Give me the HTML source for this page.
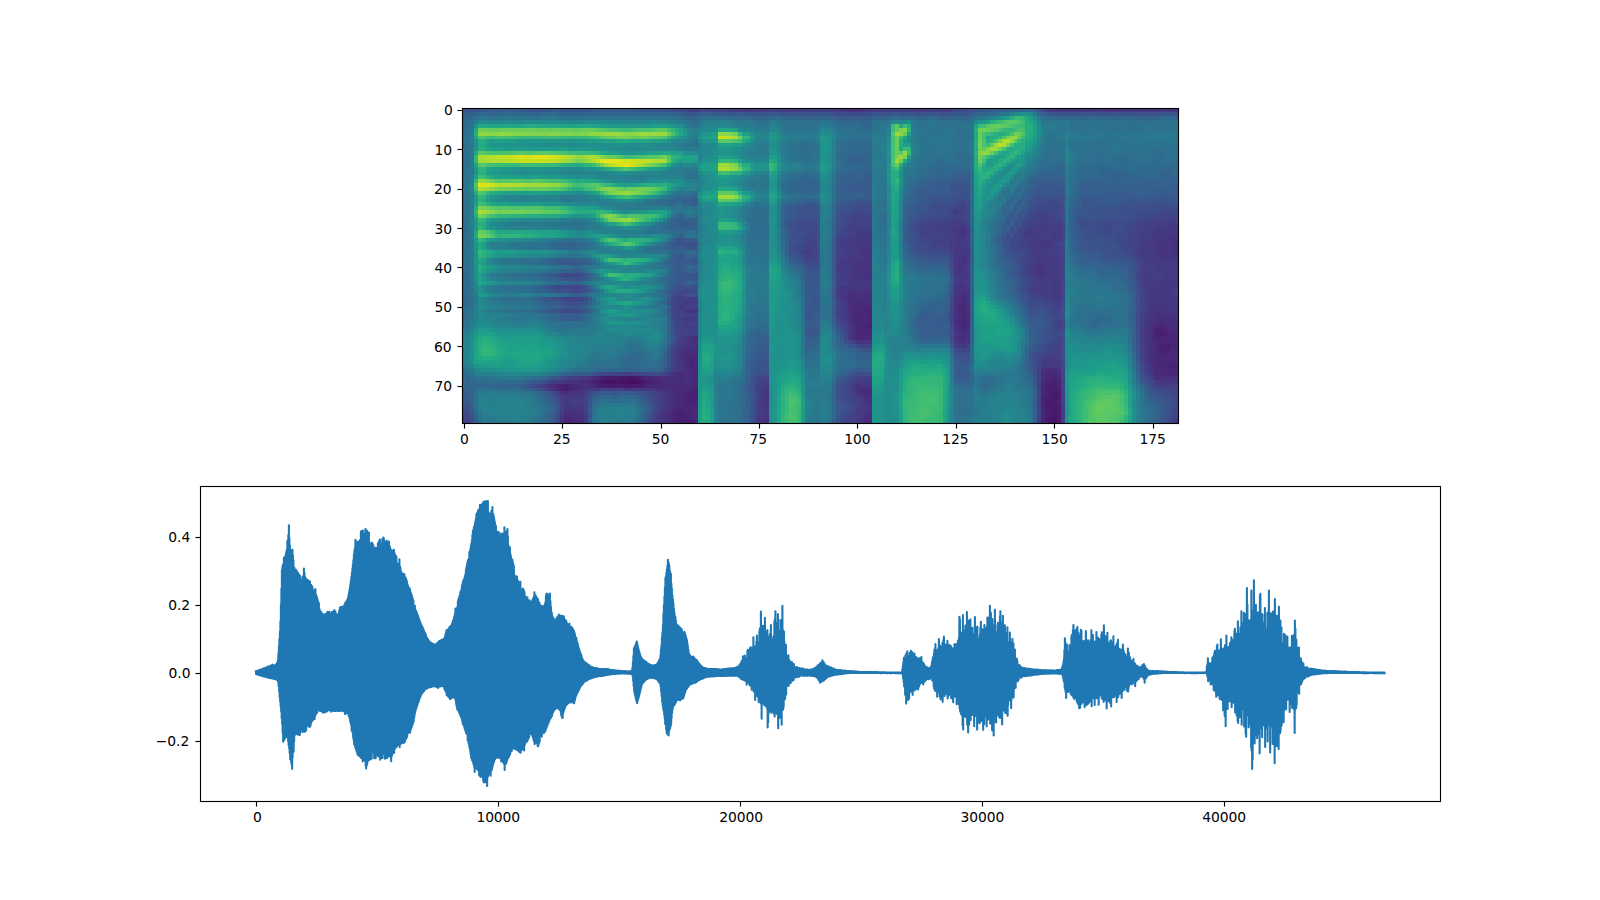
<!DOCTYPE html>
<html lang="en"><head><meta charset="utf-8"><title>Mel spectrogram and waveform</title>
<style>html,body{margin:0;padding:0;background:#fff}body{width:1600px;height:900px;overflow:hidden}svg{display:block}text{font-family:"DejaVu Sans","Liberation Sans",sans-serif;font-size:13.889px;fill:#000;letter-spacing:-0.086px}.k{fill:#000}.f{fill:#000;opacity:.055}.h{fill:#000;opacity:.5}</style></head><body>
<svg width="1600" height="900" viewBox="0 0 1600 900">
<rect width="1600" height="900" fill="#fff"/>
<g shape-rendering="crispEdges">
<path fill="#470d60" d="M631 380h4v4h-4z"/>
<path fill="#471063" d="M608 380h4v4h-4zM627 380h4v4h-4zM635 380h4v4h-4z"/>
<path fill="#471365" d="M627 376h8v4h-8zM604 380h4v4h-4zM612 380h4v4h-4zM620 380h7v4h-7zM1053 419h4v5h-4z"/>
<path fill="#481668" d="M624 376h3v4h-3zM600 380h4v4h-4zM616 380h4v4h-4zM639 380h4v4h-4zM1053 395h4v4h-4zM1053 407h4v4h-4zM1053 415h4v4h-4z"/>
<path fill="#48186a" d="M620 376h4v4h-4zM635 376h4v4h-4zM624 384h7v4h-7zM1053 391h4v4h-4zM1049 403h8v4h-8zM1053 411h4v4h-4zM1049 415h4v4h-4zM1049 419h4v5h-4z"/>
<path fill="#481b6d" d="M616 376h4v4h-4zM643 380h4v4h-4zM608 384h8v4h-8zM631 384h8v4h-8zM1049 395h4v4h-4zM1049 399h8v4h-8zM1045 403h4v4h-4zM1049 407h4v4h-4zM1057 407h4v4h-4zM1049 411h4v4h-4z"/>
<path fill="#481d6f" d="M1159 332h4v4h-4zM604 376h12v4h-12zM639 376h4v4h-4zM596 380h4v4h-4zM604 384h4v4h-4zM616 384h8v4h-8zM639 384h4v4h-4zM564 388h4v3h-4zM1053 388h4v3h-4zM1049 391h4v4h-4zM1057 391h4v4h-4zM1057 395h4v4h-4zM1045 399h4v4h-4zM1057 411h4v4h-4zM1045 415h4v4h-4zM1057 415h4v4h-4zM1045 419h4v5h-4zM1057 419h4v5h-4z"/>
<path fill="#482071" d="M1159 328h4v4h-4zM1155 332h4v4h-4zM1163 332h4v4h-4zM1163 344h8v4h-8zM1159 348h8v4h-8zM1175 364h4v4h-4zM600 376h4v4h-4zM647 380h4v4h-4zM1053 380h4v4h-4zM564 384h4v4h-4zM600 384h4v4h-4zM1045 384h12v4h-12zM560 388h4v3h-4zM1045 388h8v3h-8zM1057 388h4v3h-4zM694 391h4v4h-4zM690 395h4v4h-4zM1045 395h4v4h-4zM1057 403h4v4h-4zM1045 407h4v4h-4zM679 411h4v4h-4zM1045 411h4v4h-4zM679 415h4v4h-4zM679 419h15v5h-15z"/>
<path fill="#482374" d="M868 309h4v4h-4zM868 321h4v4h-4zM868 325h4v3h-4zM1155 328h4v4h-4zM1163 328h4v4h-4zM1175 336h4v4h-4zM1159 344h4v4h-4zM1171 344h8v4h-8zM1167 348h4v4h-4zM1159 352h8v4h-8zM1171 364h4v4h-4zM1175 368h4v4h-4zM1053 376h4v4h-4zM592 380h4v4h-4zM651 380h4v4h-4zM1049 380h4v4h-4zM560 384h4v4h-4zM596 384h4v4h-4zM643 384h4v4h-4zM568 388h4v3h-4zM694 388h4v3h-4zM690 391h4v4h-4zM1045 391h4v4h-4zM687 395h3v4h-3zM694 395h4v4h-4zM687 399h7v4h-7zM1041 399h4v4h-4zM1057 399h4v4h-4zM675 411h4v4h-4zM683 411h4v4h-4zM675 415h4v4h-4zM683 415h4v4h-4zM675 419h4v5h-4z"/>
<path fill="#482576" d="M962 305h4v4h-4zM864 309h4v4h-4zM962 309h4v4h-4zM868 313h4v4h-4zM856 317h4v4h-4zM856 321h4v4h-4zM962 321h4v4h-4zM864 325h4v3h-4zM962 325h4v3h-4zM1155 325h8v3h-8zM860 328h12v4h-12zM856 332h8v4h-8zM868 332h4v4h-4zM1167 332h4v4h-4zM1175 332h4v4h-4zM1155 336h12v4h-12zM1159 340h20v4h-20zM1175 348h4v4h-4zM1155 352h4v4h-4zM690 360h4v4h-4zM1167 360h8v4h-8zM1167 364h4v4h-4zM694 368h4v4h-4zM1171 368h4v4h-4zM694 372h4v4h-4zM643 376h4v4h-4zM1049 376h4v4h-4zM655 380h4v4h-4zM1045 380h4v4h-4zM1057 380h4v4h-4zM557 384h3v4h-3zM568 384h4v4h-4zM1041 384h4v4h-4zM1057 384h4v4h-4zM557 388h3v3h-3zM690 388h4v3h-4zM1041 388h4v3h-4zM687 391h3v4h-3zM683 395h4v4h-4zM1041 395h4v4h-4zM683 399h4v4h-4zM694 399h4v4h-4zM683 403h11v4h-11zM1041 403h4v4h-4zM675 407h15v4h-15zM687 411h3v4h-3zM671 415h4v4h-4zM687 415h7v4h-7zM1041 415h4v4h-4zM564 419h8v5h-8zM694 419h4v5h-4zM1041 419h4v5h-4z"/>
<path fill="#482878" d="M856 301h4v4h-4zM856 305h4v4h-4zM868 305h4v4h-4zM860 309h4v4h-4zM958 309h4v4h-4zM856 313h4v4h-4zM860 317h12v4h-12zM962 317h4v4h-4zM860 321h8v4h-8zM958 321h4v4h-4zM966 321h4v4h-4zM856 325h8v3h-8zM1163 325h4v3h-4zM856 328h4v4h-4zM864 332h4v4h-4zM1171 332h4v4h-4zM856 336h12v4h-12zM1167 336h8v4h-8zM1155 340h4v4h-4zM1155 344h4v4h-4zM1155 348h4v4h-4zM1171 348h4v4h-4zM1167 352h4v4h-4zM690 356h4v4h-4zM1155 356h24v4h-24zM687 360h3v4h-3zM694 360h4v4h-4zM1155 360h4v4h-4zM1163 360h4v4h-4zM1175 360h4v4h-4zM690 364h4v4h-4zM1155 364h12v4h-12zM690 368h4v4h-4zM1155 368h16v4h-16zM690 372h4v4h-4zM1045 372h12v4h-12zM1167 372h12v4h-12zM596 376h4v4h-4zM647 376h8v4h-8zM694 376h4v4h-4zM1045 376h4v4h-4zM588 380h4v4h-4zM659 380h4v4h-4zM694 380h4v4h-4zM553 384h4v4h-4zM572 384h4v4h-4zM647 384h16v4h-16zM675 384h8v4h-8zM690 384h8v4h-8zM572 388h4v3h-4zM675 388h15v3h-15zM675 391h12v4h-12zM1041 391h4v4h-4zM679 395h4v4h-4zM679 399h4v4h-4zM679 403h4v4h-4zM694 403h4v4h-4zM690 407h8v4h-8zM671 411h4v4h-4zM690 411h4v4h-4zM1041 411h4v4h-4zM694 415h4v4h-4zM572 419h4v5h-4zM671 419h4v5h-4z"/>
<path fill="#472a7a" d="M868 297h4v4h-4zM852 301h4v4h-4zM860 301h4v4h-4zM962 301h4v4h-4zM852 305h4v4h-4zM860 305h8v4h-8zM958 305h4v4h-4zM852 309h8v4h-8zM852 313h4v4h-4zM860 313h8v4h-8zM962 313h4v4h-4zM852 317h4v4h-4zM958 317h4v4h-4zM1159 321h8v4h-8zM958 325h4v3h-4zM966 325h4v3h-4zM962 328h4v4h-4zM1151 328h4v4h-4zM1167 328h4v4h-4zM1151 332h4v4h-4zM868 336h4v4h-4zM1151 336h4v4h-4zM1171 352h8v4h-8zM687 356h3v4h-3zM694 356h4v4h-4zM1151 360h4v4h-4zM1159 360h4v4h-4zM687 364h3v4h-3zM694 364h4v4h-4zM679 372h4v4h-4zM1155 372h12v4h-12zM655 376h4v4h-4zM675 376h8v4h-8zM690 376h4v4h-4zM1057 376h4v4h-4zM679 380h4v4h-4zM690 380h4v4h-4zM1041 380h4v4h-4zM576 384h4v4h-4zM592 384h4v4h-4zM663 384h12v4h-12zM683 384h7v4h-7zM576 388h4v3h-4zM671 388h4v3h-4zM864 391h8v4h-8zM675 395h4v4h-4zM675 399h4v4h-4zM675 403h4v4h-4zM671 407h4v4h-4zM1041 407h4v4h-4zM694 411h4v4h-4zM564 415h8v4h-8zM667 415h4v4h-4zM576 419h4v5h-4zM864 419h4v5h-4z"/>
<path fill="#472d7b" d="M1175 242h4v4h-4zM1175 250h4v4h-4zM856 297h12v4h-12zM962 297h4v4h-4zM864 301h8v4h-8zM966 305h4v4h-4zM966 309h4v4h-4zM958 313h4v4h-4zM966 317h4v4h-4zM1155 317h8v4h-8zM1171 317h8v4h-8zM852 321h4v4h-4zM954 321h4v4h-4zM1155 321h4v4h-4zM1167 321h4v4h-4zM1175 321h4v4h-4zM1151 325h4v3h-4zM1167 325h4v3h-4zM958 328h4v4h-4zM1171 328h8v4h-8zM962 332h4v4h-4zM694 336h4v4h-4zM962 336h4v4h-4zM1151 340h4v4h-4zM1151 344h4v4h-4zM694 348h4v4h-4zM1151 348h4v4h-4zM683 352h15v4h-15zM1151 352h4v4h-4zM683 356h4v4h-4zM1151 356h4v4h-4zM683 360h4v4h-4zM687 368h3v4h-3zM1045 368h12v4h-12zM675 372h4v4h-4zM683 372h7v4h-7zM1057 372h4v4h-4zM659 376h4v4h-4zM671 376h4v4h-4zM683 376h7v4h-7zM580 380h8v4h-8zM663 380h16v4h-16zM683 380h7v4h-7zM549 384h4v4h-4zM580 384h4v4h-4zM588 384h4v4h-4zM553 388h4v3h-4zM667 388h4v3h-4zM860 388h4v3h-4zM671 391h4v4h-4zM860 391h4v4h-4zM671 395h4v4h-4zM868 395h4v4h-4zM667 411h4v4h-4zM868 415h4v4h-4zM580 419h4v5h-4zM868 419h4v5h-4z"/>
<path fill="#472f7d" d="M852 108h4v4h-4zM1175 238h4v4h-4zM1175 246h4v4h-4zM868 273h4v4h-4zM848 293h8v4h-8zM868 293h4v4h-4zM962 293h4v4h-4zM848 297h8v4h-8zM958 297h4v4h-4zM848 301h4v4h-4zM958 301h4v4h-4zM848 305h4v4h-4zM848 309h4v4h-4zM954 309h4v4h-4zM966 313h4v4h-4zM1155 313h4v4h-4zM954 317h4v4h-4zM1163 317h8v4h-8zM1171 321h4v4h-4zM852 325h4v3h-4zM852 328h4v4h-4zM966 328h4v4h-4zM852 332h4v4h-4zM852 336h4v4h-4zM958 336h4v4h-4zM694 340h4v4h-4zM694 344h4v4h-4zM687 348h7v4h-7zM679 352h4v4h-4zM683 364h4v4h-4zM1151 364h4v4h-4zM1151 368h4v4h-4zM1041 372h4v4h-4zM592 376h4v4h-4zM663 376h8v4h-8zM1041 376h4v4h-4zM1155 376h8v4h-8zM1171 376h8v4h-8zM584 384h4v4h-4zM580 388h4v3h-4zM663 388h4v3h-4zM856 388h4v3h-4zM864 388h8v3h-8zM564 391h4v4h-4zM864 395h4v4h-4zM671 399h4v4h-4zM868 399h4v4h-4zM671 403h4v4h-4zM564 411h12v4h-12zM572 415h12v4h-12zM663 415h4v4h-4zM864 415h4v4h-4zM667 419h4v5h-4zM765 419h4v5h-4z"/>
<path fill="#46327e" d="M848 108h4v4h-4zM856 108h4v4h-4zM962 230h4v4h-4zM1167 238h8v4h-8zM1171 242h4v4h-4zM864 250h4v4h-4zM1171 250h4v4h-4zM864 254h4v4h-4zM1175 254h4v4h-4zM962 258h4v4h-4zM860 262h8v3h-8zM860 265h8v4h-8zM860 273h8v4h-8zM868 277h4v4h-4zM852 289h4v4h-4zM864 289h8v4h-8zM962 289h4v4h-4zM856 293h12v4h-12zM958 293h4v4h-4zM966 293h4v4h-4zM954 297h4v4h-4zM966 297h4v4h-4zM954 301h4v4h-4zM966 301h4v4h-4zM954 305h4v4h-4zM1155 309h8v4h-8zM848 313h4v4h-4zM954 313h4v4h-4zM1151 313h4v4h-4zM1159 313h4v4h-4zM1167 313h8v4h-8zM848 317h4v4h-4zM1151 317h4v4h-4zM1151 321h4v4h-4zM954 325h4v3h-4zM1147 325h4v3h-4zM1171 325h8v3h-8zM1147 328h4v4h-4zM958 332h4v4h-4zM966 332h4v4h-4zM690 336h4v4h-4zM966 336h4v4h-4zM1147 336h4v4h-4zM690 340h4v4h-4zM958 340h8v4h-8zM690 344h4v4h-4zM1147 344h4v4h-4zM683 348h4v4h-4zM1147 348h4v4h-4zM679 356h4v4h-4zM1147 356h4v4h-4zM1147 360h4v4h-4zM683 368h4v4h-4zM671 372h4v4h-4zM1151 372h4v4h-4zM1163 376h8v4h-8zM564 380h16v4h-16zM655 388h8v3h-8zM568 391h8v4h-8zM667 391h4v4h-4zM856 391h4v4h-4zM667 395h4v4h-4zM667 403h4v4h-4zM667 407h4v4h-4zM576 411h8v4h-8zM663 411h4v4h-4zM868 411h4v4h-4zM560 419h4v5h-4zM663 419h4v5h-4z"/>
<path fill="#463480" d="M860 108h4v4h-4zM1061 108h4v4h-4zM1073 108h8v4h-8zM1104 108h16v4h-16zM1144 108h11v4h-11zM958 230h4v4h-4zM962 234h4v4h-4zM1167 234h4v4h-4zM1163 238h4v4h-4zM1155 242h8v4h-8zM1167 242h4v4h-4zM860 246h8v4h-8zM1159 246h8v4h-8zM1171 246h4v4h-4zM860 250h4v4h-4zM868 250h4v4h-4zM1159 250h8v4h-8zM868 254h4v4h-4zM962 254h4v4h-4zM1159 254h16v4h-16zM864 258h4v4h-4zM958 258h4v4h-4zM1175 258h4v4h-4zM852 262h8v3h-8zM868 262h4v3h-4zM958 262h8v3h-8zM856 265h4v4h-4zM868 265h4v4h-4zM958 265h4v4h-4zM1037 265h4v4h-4zM852 269h20v4h-20zM958 269h4v4h-4zM1037 269h8v4h-8zM852 273h8v4h-8zM1041 273h4v4h-4zM852 277h16v4h-16zM868 285h4v4h-4zM958 285h8v4h-8zM848 289h4v4h-4zM856 289h4v4h-4zM958 289h4v4h-4zM844 293h4v4h-4zM954 293h4v4h-4zM844 297h4v4h-4zM1171 297h4v4h-4zM1171 301h8v4h-8zM1151 305h16v4h-16zM687 309h11v4h-11zM1151 309h4v4h-4zM1163 309h4v4h-4zM1163 313h4v4h-4zM1175 313h4v4h-4zM1147 317h4v4h-4zM848 321h4v4h-4zM1147 321h4v4h-4zM954 328h4v4h-4zM1147 332h4v4h-4zM954 336h4v4h-4zM687 340h3v4h-3zM860 340h8v4h-8zM1147 340h4v4h-4zM687 344h3v4h-3zM679 348h4v4h-4zM1147 352h4v4h-4zM679 360h4v4h-4zM679 368h4v4h-4zM1041 368h4v4h-4zM1057 368h4v4h-4zM588 376h4v4h-4zM856 384h4v4h-4zM868 384h4v4h-4zM549 388h4v3h-4zM584 388h4v3h-4zM560 391h4v4h-4zM576 391h4v4h-4zM765 391h4v4h-4zM765 395h4v4h-4zM667 399h4v4h-4zM864 399h4v4h-4zM765 403h4v4h-4zM868 403h4v4h-4zM564 407h8v4h-8zM576 407h8v4h-8zM868 407h4v4h-4zM659 415h4v4h-4zM765 415h4v4h-4zM761 419h4v5h-4zM860 419h4v5h-4zM1175 419h4v5h-4z"/>
<path fill="#453781" d="M840 108h8v4h-8zM1053 108h8v4h-8zM1065 108h8v4h-8zM1081 108h3v4h-3zM1092 108h4v4h-4zM1120 108h24v4h-24zM1171 108h8v4h-8zM962 226h4v4h-4zM1171 226h8v4h-8zM954 230h4v4h-4zM966 230h4v4h-4zM1159 230h12v4h-12zM1175 230h4v4h-4zM860 234h12v4h-12zM958 234h4v4h-4zM1155 234h4v4h-4zM1171 234h8v4h-8zM962 238h4v4h-4zM1155 238h8v4h-8zM856 242h16v4h-16zM1041 242h8v4h-8zM1151 242h4v4h-4zM1163 242h4v4h-4zM856 246h4v4h-4zM868 246h4v4h-4zM954 246h8v4h-8zM1155 246h4v4h-4zM1167 246h4v4h-4zM856 250h4v4h-4zM954 250h12v4h-12zM1140 250h4v4h-4zM1155 250h4v4h-4zM1167 250h4v4h-4zM860 254h4v4h-4zM958 254h4v4h-4zM966 254h4v4h-4zM1155 254h4v4h-4zM848 258h16v4h-16zM868 258h4v4h-4zM966 258h4v4h-4zM1159 258h16v4h-16zM848 262h4v3h-4zM954 262h4v3h-4zM1037 262h8v3h-8zM1175 262h4v3h-4zM852 265h4v4h-4zM954 265h4v4h-4zM962 265h4v4h-4zM1033 265h4v4h-4zM1041 265h4v4h-4zM954 269h4v4h-4zM962 269h4v4h-4zM1045 269h4v4h-4zM848 273h4v4h-4zM962 273h4v4h-4zM1037 273h4v4h-4zM848 277h4v4h-4zM962 277h4v4h-4zM1163 277h8v4h-8zM1175 277h4v4h-4zM864 281h8v4h-8zM958 281h8v4h-8zM1167 281h12v4h-12zM844 285h8v4h-8zM864 285h4v4h-4zM954 285h4v4h-4zM1053 285h4v4h-4zM840 289h8v4h-8zM860 289h4v4h-4zM954 289h4v4h-4zM966 289h4v4h-4zM1053 289h4v4h-4zM1155 289h16v4h-16zM840 293h4v4h-4zM1151 293h20v4h-20zM1151 297h4v4h-4zM1167 297h4v4h-4zM844 301h4v4h-4zM1151 301h20v4h-20zM679 305h4v4h-4zM1167 305h12v4h-12zM1167 309h12v4h-12zM1147 313h4v4h-4zM848 328h4v4h-4zM1144 328h3v4h-3zM954 332h4v4h-4zM1144 332h3v4h-3zM687 336h3v4h-3zM1144 336h3v4h-3zM683 340h4v4h-4zM856 340h4v4h-4zM868 340h4v4h-4zM954 340h4v4h-4zM966 340h4v4h-4zM683 344h4v4h-4zM675 352h4v4h-4zM679 364h4v4h-4zM1053 364h4v4h-4zM1147 368h4v4h-4zM560 380h4v4h-4zM1159 380h20v4h-20zM545 384h4v4h-4zM860 384h8v4h-8zM651 388h4v3h-4zM765 388h4v3h-4zM852 388h4v3h-4zM580 391h4v4h-4zM564 395h12v4h-12zM663 395h4v4h-4zM860 395h4v4h-4zM564 399h4v4h-4zM765 399h4v4h-4zM761 403h4v4h-4zM572 407h4v4h-4zM663 407h4v4h-4zM765 407h4v4h-4zM659 411h4v4h-4zM864 411h4v4h-4zM560 415h4v4h-4zM761 415h4v4h-4zM860 415h4v4h-4zM659 419h4v5h-4zM757 419h4v5h-4z"/>
<path fill="#443983" d="M746 108h4v4h-4zM765 108h4v4h-4zM836 108h4v4h-4zM864 108h4v4h-4zM943 108h7v4h-7zM1088 108h4v4h-4zM1096 108h8v4h-8zM1155 108h16v4h-16zM958 226h4v4h-4zM1159 226h12v4h-12zM860 230h12v4h-12zM1025 230h8v4h-8zM1155 230h4v4h-4zM1171 230h4v4h-4zM856 234h4v4h-4zM954 234h4v4h-4zM1057 234h4v4h-4zM1151 234h4v4h-4zM1159 234h8v4h-8zM856 238h16v4h-16zM954 238h8v4h-8zM1151 238h4v4h-4zM852 242h4v4h-4zM954 242h12v4h-12zM1033 242h8v4h-8zM1147 242h4v4h-4zM852 246h4v4h-4zM962 246h4v4h-4zM1033 246h16v4h-16zM1140 246h7v4h-7zM1151 246h4v4h-4zM852 250h4v4h-4zM966 250h4v4h-4zM1144 250h3v4h-3zM848 254h12v4h-12zM1033 254h8v4h-8zM1151 254h4v4h-4zM844 258h4v4h-4zM1037 258h12v4h-12zM1053 258h4v4h-4zM1155 258h4v4h-4zM840 262h8v3h-8zM1045 262h12v3h-12zM1163 262h12v3h-12zM840 265h4v4h-4zM848 265h4v4h-4zM1045 265h4v4h-4zM1163 265h8v4h-8zM848 269h4v4h-4zM1033 269h4v4h-4zM1159 269h12v4h-12zM844 273h4v4h-4zM958 273h4v4h-4zM966 273h4v4h-4zM1033 273h4v4h-4zM1045 273h4v4h-4zM1144 273h7v4h-7zM1163 273h8v4h-8zM958 277h4v4h-4zM1147 277h4v4h-4zM1159 277h4v4h-4zM1171 277h4v4h-4zM852 281h12v4h-12zM954 281h4v4h-4zM1053 281h8v4h-8zM1147 281h20v4h-20zM840 285h4v4h-4zM852 285h12v4h-12zM966 285h4v4h-4zM1057 285h4v4h-4zM1147 285h28v4h-28zM1057 289h4v4h-4zM1151 289h4v4h-4zM1171 289h4v4h-4zM1053 293h8v4h-8zM1171 293h4v4h-4zM1147 297h4v4h-4zM1155 297h12v4h-12zM1175 297h4v4h-4zM683 301h7v4h-7zM844 305h4v4h-4zM683 309h4v4h-4zM844 309h4v4h-4zM1147 309h4v4h-4zM844 313h4v4h-4zM1144 313h3v4h-3zM687 317h11v4h-11zM1144 317h3v4h-3zM1144 321h3v4h-3zM848 325h4v3h-4zM1144 325h3v3h-3zM848 332h4v4h-4zM683 336h4v4h-4zM1144 340h3v4h-3zM679 344h4v4h-4zM958 344h8v4h-8zM1144 344h3v4h-3zM675 348h4v4h-4zM1144 348h3v4h-3zM675 356h4v4h-4zM1045 356h4v4h-4zM1144 356h3v4h-3zM675 360h4v4h-4zM1041 364h12v4h-12zM1057 364h4v4h-4zM1147 364h4v4h-4zM675 368h4v4h-4zM580 376h8v4h-8zM1151 376h4v4h-4zM856 380h4v4h-4zM864 380h8v4h-8zM1155 380h4v4h-4zM852 384h4v4h-4zM588 388h12v3h-12zM624 388h7v3h-7zM639 388h8v3h-8zM761 388h4v3h-4zM663 391h4v4h-4zM761 391h4v4h-4zM576 395h4v4h-4zM568 399h4v4h-4zM663 399h4v4h-4zM761 399h4v4h-4zM860 399h4v4h-4zM564 403h8v4h-8zM580 403h4v4h-4zM663 403h4v4h-4zM864 403h4v4h-4zM761 407h4v4h-4zM864 407h4v4h-4zM765 411h4v4h-4zM860 411h4v4h-4zM757 415h4v4h-4zM856 419h4v5h-4z"/>
<path fill="#443b84" d="M694 108h4v4h-4zM742 108h4v4h-4zM750 108h4v4h-4zM761 108h4v4h-4zM793 108h12v4h-12zM868 108h4v4h-4zM915 108h8v4h-8zM939 108h4v4h-4zM1049 108h4v4h-4zM1084 108h4v4h-4zM954 210h4v4h-4zM954 222h12v4h-12zM1167 222h12v4h-12zM943 226h4v4h-4zM950 226h8v4h-8zM966 226h4v4h-4zM1029 226h4v4h-4zM1041 226h12v4h-12zM1057 226h4v4h-4zM1155 226h4v4h-4zM856 230h4v4h-4zM950 230h4v4h-4zM1037 230h12v4h-12zM1053 230h8v4h-8zM1151 230h4v4h-4zM852 234h4v4h-4zM966 234h4v4h-4zM1025 234h16v4h-16zM1053 234h4v4h-4zM848 238h8v4h-8zM1037 238h8v4h-8zM1049 238h12v4h-12zM1140 238h11v4h-11zM840 242h12v4h-12zM950 242h4v4h-4zM966 242h4v4h-4zM1029 242h4v4h-4zM1049 242h4v4h-4zM1144 242h3v4h-3zM844 246h8v4h-8zM966 246h4v4h-4zM1029 246h4v4h-4zM1049 246h4v4h-4zM1147 246h4v4h-4zM805 250h4v4h-4zM848 250h4v4h-4zM1033 250h12v4h-12zM1147 250h8v4h-8zM844 254h4v4h-4zM954 254h4v4h-4zM1041 254h16v4h-16zM1140 254h11v4h-11zM840 258h4v4h-4zM954 258h4v4h-4zM1033 258h4v4h-4zM1049 258h4v4h-4zM1057 258h4v4h-4zM1144 258h11v4h-11zM966 262h4v3h-4zM1029 262h8v3h-8zM1057 262h4v3h-4zM1147 262h16v3h-16zM836 265h4v4h-4zM844 265h4v4h-4zM1029 265h4v4h-4zM1049 265h8v4h-8zM1144 265h3v4h-3zM1155 265h8v4h-8zM1171 265h8v4h-8zM840 269h4v4h-4zM1029 269h4v4h-4zM1049 269h12v4h-12zM1144 269h3v4h-3zM1155 269h4v4h-4zM1171 269h8v4h-8zM840 273h4v4h-4zM954 273h4v4h-4zM1029 273h4v4h-4zM1049 273h8v4h-8zM1171 273h8v4h-8zM840 277h8v4h-8zM966 277h4v4h-4zM1037 277h8v4h-8zM1049 277h8v4h-8zM1144 277h3v4h-3zM1151 277h8v4h-8zM848 281h4v4h-4zM966 281h4v4h-4zM1037 281h8v4h-8zM1049 281h4v4h-4zM1144 281h3v4h-3zM1033 285h4v4h-4zM1041 285h12v4h-12zM1144 285h3v4h-3zM836 289h4v4h-4zM1033 289h20v4h-20zM1147 289h4v4h-4zM1041 293h12v4h-12zM1147 293h4v4h-4zM690 297h4v4h-4zM840 297h4v4h-4zM1053 297h8v4h-8zM1147 301h4v4h-4zM1147 305h4v4h-4zM683 317h4v4h-4zM844 317h4v4h-4zM690 325h4v3h-4zM1140 332h4v4h-4zM848 336h4v4h-4zM679 340h4v4h-4zM1144 352h3v4h-3zM1049 356h8v4h-8zM1041 360h20v4h-20zM675 364h4v4h-4zM667 372h4v4h-4zM1147 372h4v4h-4zM576 376h4v4h-4zM553 380h7v4h-7zM860 380h4v4h-4zM765 384h4v4h-4zM1175 384h4v4h-4zM612 388h4v3h-4zM631 388h8v3h-8zM647 388h4v3h-4zM557 391h3v4h-3zM659 391h4v4h-4zM580 395h4v4h-4zM659 395h4v4h-4zM761 395h4v4h-4zM856 395h4v4h-4zM1061 395h4v4h-4zM576 399h8v4h-8zM572 403h8v4h-8zM757 403h4v4h-4zM860 403h4v4h-4zM659 407h4v4h-4zM860 407h4v4h-4zM1061 407h4v4h-4zM560 411h4v4h-4zM584 411h4v4h-4zM757 411h8v4h-8zM856 411h4v4h-4zM1061 411h4v4h-4zM584 415h4v4h-4zM655 415h4v4h-4zM856 415h4v4h-4zM584 419h4v5h-4zM655 419h4v5h-4z"/>
<path fill="#433e85" d="M730 108h4v4h-4zM757 108h4v4h-4zM781 108h12v4h-12zM805 108h4v4h-4zM832 108h4v4h-4zM872 108h19v4h-19zM903 108h12v4h-12zM923 108h4v4h-4zM935 108h4v4h-4zM958 210h4v4h-4zM1037 218h12v4h-12zM852 222h8v4h-8zM947 222h7v4h-7zM1037 222h12v4h-12zM1057 222h4v4h-4zM1140 222h7v4h-7zM1151 222h16v4h-16zM852 226h16v4h-16zM939 226h4v4h-4zM947 226h3v4h-3zM1025 226h4v4h-4zM1033 226h8v4h-8zM1053 226h4v4h-4zM852 230h4v4h-4zM927 230h4v4h-4zM1033 230h4v4h-4zM1049 230h4v4h-4zM1147 230h4v4h-4zM848 234h4v4h-4zM950 234h4v4h-4zM1041 234h4v4h-4zM1049 234h4v4h-4zM1140 234h11v4h-11zM844 238h4v4h-4zM939 238h4v4h-4zM950 238h4v4h-4zM966 238h4v4h-4zM1029 238h8v4h-8zM1045 238h4v4h-4zM1025 242h4v4h-4zM1053 242h4v4h-4zM1140 242h4v4h-4zM840 246h4v4h-4zM950 246h4v4h-4zM1136 246h4v4h-4zM809 250h4v4h-4zM844 250h4v4h-4zM950 250h4v4h-4zM1045 250h16v4h-16zM1136 250h4v4h-4zM1029 254h4v4h-4zM1057 254h4v4h-4zM836 258h4v4h-4zM1029 258h4v4h-4zM1140 258h4v4h-4zM836 262h4v3h-4zM1144 262h3v3h-3zM966 265h4v4h-4zM1057 265h4v4h-4zM1147 265h8v4h-8zM836 269h4v4h-4zM844 269h4v4h-4zM966 269h4v4h-4zM1147 269h8v4h-8zM1057 273h4v4h-4zM1140 273h4v4h-4zM1151 273h12v4h-12zM954 277h4v4h-4zM1033 277h4v4h-4zM1045 277h4v4h-4zM1057 277h4v4h-4zM1140 277h4v4h-4zM840 281h8v4h-8zM1033 281h4v4h-4zM1045 281h4v4h-4zM1037 285h4v4h-4zM1175 285h4v4h-4zM1175 289h4v4h-4zM836 293h4v4h-4zM679 297h11v4h-11zM694 297h4v4h-4zM1045 297h4v4h-4zM1144 297h3v4h-3zM690 301h8v4h-8zM840 301h4v4h-4zM1057 301h4v4h-4zM675 305h4v4h-4zM683 305h7v4h-7zM1144 309h3v4h-3zM840 313h4v4h-4zM1140 313h4v4h-4zM1140 317h4v4h-4zM683 321h7v4h-7zM844 321h4v4h-4zM1140 321h4v4h-4zM683 325h7v3h-7zM694 325h4v3h-4zM1140 328h4v4h-4zM679 336h4v4h-4zM1140 336h4v4h-4zM675 344h4v4h-4zM1041 356h4v4h-4zM1057 356h4v4h-4zM1144 360h3v4h-3zM671 368h4v4h-4zM624 372h11v4h-11zM572 376h4v4h-4zM765 380h4v4h-4zM541 384h4v4h-4zM761 384h4v4h-4zM1037 384h4v4h-4zM1159 384h16v4h-16zM545 388h4v3h-4zM600 388h4v3h-4zM608 388h4v3h-4zM616 388h8v3h-8zM757 388h4v3h-4zM1061 388h4v3h-4zM584 391h4v4h-4zM757 391h4v4h-4zM852 391h4v4h-4zM1061 391h4v4h-4zM560 395h4v4h-4zM560 399h4v4h-4zM572 399h4v4h-4zM659 399h4v4h-4zM757 399h4v4h-4zM856 399h4v4h-4zM584 407h4v4h-4zM757 407h4v4h-4zM856 407h4v4h-4zM655 411h4v4h-4zM1061 415h4v4h-4zM1175 415h4v4h-4zM1061 419h4v5h-4z"/>
<path fill="#424086" d="M690 108h4v4h-4zM734 108h4v4h-4zM754 108h3v4h-3zM777 108h4v4h-4zM809 108h23v4h-23zM891 108h12v4h-12zM927 108h8v4h-8zM950 108h4v4h-4zM1045 108h4v4h-4zM962 210h4v4h-4zM954 214h8v4h-8zM1037 214h16v4h-16zM852 218h8v4h-8zM954 218h8v4h-8zM1033 218h4v4h-4zM1049 218h8v4h-8zM1151 218h12v4h-12zM1167 218h4v4h-4zM860 222h4v4h-4zM943 222h4v4h-4zM1029 222h8v4h-8zM1049 222h8v4h-8zM1147 222h4v4h-4zM848 226h4v4h-4zM868 226h4v4h-4zM923 226h16v4h-16zM1140 226h15v4h-15zM848 230h4v4h-4zM923 230h4v4h-4zM931 230h19v4h-19zM1140 230h7v4h-7zM943 234h4v4h-4zM1021 234h4v4h-4zM1045 234h4v4h-4zM1061 234h4v4h-4zM840 238h4v4h-4zM935 238h4v4h-4zM943 238h7v4h-7zM1021 238h8v4h-8zM1136 238h4v4h-4zM805 242h4v4h-4zM836 242h4v4h-4zM935 242h12v4h-12zM1021 242h4v4h-4zM1136 242h4v4h-4zM805 246h8v4h-8zM1053 246h8v4h-8zM801 250h4v4h-4zM1029 250h4v4h-4zM805 254h4v4h-4zM840 254h4v4h-4zM1136 254h4v4h-4zM1025 258h4v4h-4zM1025 262h4v3h-4zM1140 262h4v3h-4zM1025 265h4v4h-4zM1140 265h4v4h-4zM1025 269h4v4h-4zM1140 269h4v4h-4zM1029 277h4v4h-4zM1029 281h4v4h-4zM836 285h4v4h-4zM1029 285h4v4h-4zM1029 289h4v4h-4zM1144 289h3v4h-3zM1033 293h8v4h-8zM1144 293h3v4h-3zM1175 293h4v4h-4zM675 297h4v4h-4zM1041 297h4v4h-4zM1049 297h4v4h-4zM675 301h8v4h-8zM1053 301h4v4h-4zM1144 301h3v4h-3zM840 305h4v4h-4zM1053 305h8v4h-8zM675 309h4v4h-4zM840 309h4v4h-4zM690 313h8v4h-8zM675 317h8v4h-8zM840 317h4v4h-4zM690 321h8v4h-8zM1057 321h4v4h-4zM679 325h4v3h-4zM1140 325h4v3h-4zM683 328h15v4h-15zM679 332h4v4h-4zM687 332h11v4h-11zM852 340h4v4h-4zM1140 340h4v4h-4zM954 344h4v4h-4zM966 344h4v4h-4zM1053 344h8v4h-8zM1140 344h4v4h-4zM1049 352h8v4h-8zM1144 364h3v4h-3zM1037 368h4v4h-4zM1144 368h3v4h-3zM620 372h4v4h-4zM635 372h4v4h-4zM1037 372h4v4h-4zM568 376h4v4h-4zM856 376h16v4h-16zM1037 376h4v4h-4zM549 380h4v4h-4zM761 380h4v4h-4zM852 380h4v4h-4zM1037 380h4v4h-4zM757 384h4v4h-4zM1061 384h4v4h-4zM1155 384h4v4h-4zM604 388h4v3h-4zM848 388h4v3h-4zM1037 388h4v3h-4zM1175 388h4v3h-4zM655 391h4v4h-4zM584 395h4v4h-4zM655 395h4v4h-4zM757 395h4v4h-4zM852 395h4v4h-4zM1037 395h4v4h-4zM852 399h4v4h-4zM1037 399h4v4h-4zM1061 399h4v4h-4zM584 403h4v4h-4zM659 403h4v4h-4zM856 403h4v4h-4zM1037 403h4v4h-4zM1061 403h4v4h-4zM1175 411h4v4h-4zM852 415h4v4h-4zM462 419h4v5h-4zM848 419h8v5h-8zM1037 419h4v5h-4zM1171 419h4v5h-4z"/>
<path fill="#414287" d="M687 108h3v4h-3zM718 108h4v4h-4zM726 108h4v4h-4zM738 108h4v4h-4zM769 108h4v4h-4zM954 206h12v4h-12zM950 210h4v4h-4zM1037 210h4v4h-4zM852 214h8v4h-8zM950 214h4v4h-4zM962 214h4v4h-4zM1033 214h4v4h-4zM1163 214h12v4h-12zM950 218h4v4h-4zM962 218h4v4h-4zM1057 218h4v4h-4zM1147 218h4v4h-4zM1163 218h4v4h-4zM1171 218h8v4h-8zM864 222h8v4h-8zM931 222h12v4h-12zM1136 222h4v4h-4zM919 226h4v4h-4zM1061 226h4v4h-4zM1136 226h4v4h-4zM844 230h4v4h-4zM919 230h4v4h-4zM1061 230h4v4h-4zM1132 230h8v4h-8zM844 234h4v4h-4zM923 234h20v4h-20zM947 234h3v4h-3zM1136 234h4v4h-4zM805 238h4v4h-4zM836 238h4v4h-4zM931 238h4v4h-4zM1132 238h4v4h-4zM809 242h4v4h-4zM931 242h4v4h-4zM947 242h3v4h-3zM1057 242h4v4h-4zM1132 242h4v4h-4zM801 246h4v4h-4zM813 246h4v4h-4zM836 246h4v4h-4zM943 246h7v4h-7zM1025 246h4v4h-4zM1132 246h4v4h-4zM813 250h4v4h-4zM840 250h4v4h-4zM1132 250h4v4h-4zM809 254h4v4h-4zM950 254h4v4h-4zM805 258h4v4h-4zM1061 258h4v4h-4zM1061 262h4v3h-4zM836 273h4v4h-4zM1025 273h4v4h-4zM836 277h4v4h-4zM836 281h4v4h-4zM1061 281h4v4h-4zM1140 281h4v4h-4zM572 285h8v4h-8zM1140 285h4v4h-4zM1029 293h4v4h-4zM1061 293h4v4h-4zM568 297h12v4h-12zM836 297h4v4h-4zM1140 297h4v4h-4zM671 305h4v4h-4zM690 305h8v4h-8zM1144 305h3v4h-3zM679 309h4v4h-4zM836 309h4v4h-4zM1053 309h4v4h-4zM1140 309h4v4h-4zM679 313h4v4h-4zM687 313h3v4h-3zM836 313h4v4h-4zM679 321h4v4h-4zM844 325h4v3h-4zM1057 325h4v3h-4zM683 332h4v4h-4zM675 340h4v4h-4zM1053 340h8v4h-8zM1049 344h4v4h-4zM671 348h4v4h-4zM1053 348h8v4h-8zM1140 348h4v4h-4zM671 352h4v4h-4zM1045 352h4v4h-4zM1057 352h4v4h-4zM671 360h4v4h-4zM671 364h4v4h-4zM663 372h4v4h-4zM765 376h4v4h-4zM1147 376h4v4h-4zM757 380h4v4h-4zM1061 380h4v4h-4zM1151 380h4v4h-4zM848 384h4v4h-4zM1171 388h4v3h-4zM1037 391h4v4h-4zM584 399h4v4h-4zM655 399h4v4h-4zM560 403h4v4h-4zM560 407h4v4h-4zM1037 407h4v4h-4zM1175 407h4v4h-4zM852 411h4v4h-4zM1037 411h4v4h-4zM462 415h4v4h-4zM848 415h4v4h-4zM1037 415h4v4h-4zM466 419h4v5h-4zM651 419h4v5h-4zM844 419h4v5h-4z"/>
<path fill="#404588" d="M683 108h4v4h-4zM710 108h8v4h-8zM722 108h4v4h-4zM773 108h4v4h-4zM1041 108h4v4h-4zM962 202h4v4h-4zM1033 210h4v4h-4zM1041 210h12v4h-12zM1163 210h8v4h-8zM860 214h4v4h-4zM1053 214h4v4h-4zM1151 214h12v4h-12zM1175 214h4v4h-4zM848 218h4v4h-4zM860 218h12v4h-12zM943 218h7v4h-7zM1029 218h4v4h-4zM1140 218h7v4h-7zM848 222h4v4h-4zM919 222h12v4h-12zM966 222h4v4h-4zM1061 222h4v4h-4zM844 226h4v4h-4zM1132 226h4v4h-4zM1128 230h4v4h-4zM840 234h4v4h-4zM919 234h4v4h-4zM1014 234h3v4h-3zM1128 234h8v4h-8zM809 238h4v4h-4zM1017 238h4v4h-4zM1061 238h4v4h-4zM1128 238h4v4h-4zM813 242h4v4h-4zM1017 242h4v4h-4zM1128 242h4v4h-4zM931 246h12v4h-12zM1021 246h4v4h-4zM1061 250h4v4h-4zM813 254h4v4h-4zM836 254h4v4h-4zM1025 254h4v4h-4zM1061 254h4v4h-4zM1132 254h4v4h-4zM809 258h4v4h-4zM1061 265h4v4h-4zM1061 273h4v4h-4zM1061 277h4v4h-4zM557 285h3v4h-3zM568 285h4v4h-4zM580 285h4v4h-4zM1025 285h4v4h-4zM1061 285h4v4h-4zM683 289h4v4h-4zM1061 289h4v4h-4zM1140 289h4v4h-4zM679 293h4v4h-4zM564 297h4v4h-4zM580 297h4v4h-4zM950 297h4v4h-4zM1033 297h8v4h-8zM836 301h4v4h-4zM1045 301h8v4h-8zM1140 301h4v4h-4zM836 305h4v4h-4zM564 309h4v4h-4zM671 309h4v4h-4zM1057 309h4v4h-4zM675 313h4v4h-4zM683 313h4v4h-4zM950 313h4v4h-4zM950 317h4v4h-4zM675 321h4v4h-4zM840 321h4v4h-4zM950 321h4v4h-4zM1061 321h4v4h-4zM675 325h4v3h-4zM1053 325h4v3h-4zM675 328h8v4h-8zM844 328h4v4h-4zM1057 328h4v4h-4zM860 344h12v4h-12zM962 348h4v4h-4zM1049 348h4v4h-4zM1041 352h4v4h-4zM1140 352h4v4h-4zM671 356h4v4h-4zM1037 356h4v4h-4zM1140 356h4v4h-4zM1037 360h4v4h-4zM1037 364h4v4h-4zM1061 368h4v4h-4zM604 372h16v4h-16zM639 372h4v4h-4zM1061 372h4v4h-4zM1144 372h3v4h-3zM564 376h4v4h-4zM761 376h4v4h-4zM1061 376h4v4h-4zM537 384h4v4h-4zM1167 388h4v3h-4zM553 391h4v4h-4zM651 391h4v4h-4zM848 391h4v4h-4zM1175 391h4v4h-4zM655 407h4v4h-4zM852 407h4v4h-4zM651 415h4v4h-4zM557 419h3v5h-3zM754 419h3v5h-3z"/>
<path fill="#3f4788" d="M679 108h4v4h-4zM698 108h12v4h-12zM954 108h8v4h-8zM852 112h4v4h-4zM958 202h4v4h-4zM1041 202h12v4h-12zM966 206h4v4h-4zM1037 206h24v4h-24zM856 210h8v4h-8zM966 210h4v4h-4zM1053 210h8v4h-8zM1159 210h4v4h-4zM1171 210h8v4h-8zM848 214h4v4h-4zM864 214h8v4h-8zM1029 214h4v4h-4zM1057 214h4v4h-4zM1147 214h4v4h-4zM927 218h16v4h-16zM966 218h4v4h-4zM1136 218h4v4h-4zM805 222h4v4h-4zM1021 222h8v4h-8zM1132 222h4v4h-4zM1128 226h4v4h-4zM840 230h4v4h-4zM1017 230h8v4h-8zM1104 230h4v4h-4zM1124 230h4v4h-4zM805 234h12v4h-12zM813 238h4v4h-4zM919 238h12v4h-12zM801 242h4v4h-4zM927 242h4v4h-4zM1124 242h4v4h-4zM797 246h4v4h-4zM1014 246h7v4h-7zM1061 246h4v4h-4zM1128 246h4v4h-4zM797 250h4v4h-4zM836 250h4v4h-4zM947 250h3v4h-3zM1025 250h4v4h-4zM1128 250h4v4h-4zM801 254h4v4h-4zM813 258h4v4h-4zM1021 258h4v4h-4zM1136 258h4v4h-4zM950 262h4v3h-4zM1021 262h4v3h-4zM1021 269h4v4h-4zM1061 269h4v4h-4zM564 273h12v4h-12zM1136 273h4v4h-4zM1025 277h4v4h-4zM1025 281h4v4h-4zM553 285h4v4h-4zM560 285h8v4h-8zM576 289h4v4h-4zM1025 289h4v4h-4zM675 293h4v4h-4zM1140 293h4v4h-4zM671 297h4v4h-4zM1061 297h4v4h-4zM671 301h4v4h-4zM950 301h4v4h-4zM1041 301h4v4h-4zM950 305h4v4h-4zM1049 305h4v4h-4zM1140 305h4v4h-4zM568 309h4v4h-4zM950 309h4v4h-4zM1049 309h4v4h-4zM1053 313h4v4h-4zM836 317h4v4h-4zM1057 317h4v4h-4zM1053 321h4v4h-4zM1053 328h4v4h-4zM675 332h4v4h-4zM844 332h4v4h-4zM675 336h4v4h-4zM1057 336h4v4h-4zM1045 344h4v4h-4zM958 348h4v4h-4zM966 348h4v4h-4zM1045 348h4v4h-4zM1061 360h4v4h-4zM1061 364h4v4h-4zM600 372h4v4h-4zM643 372h4v4h-4zM757 376h4v4h-4zM852 376h4v4h-4zM545 380h4v4h-4zM754 384h3v4h-3zM1151 384h4v4h-4zM754 388h3v3h-3zM844 388h4v3h-4zM1163 388h4v3h-4zM588 391h4v4h-4zM1171 391h4v4h-4zM557 395h3v4h-3zM651 395h4v4h-4zM848 395h4v4h-4zM1175 395h4v4h-4zM848 399h4v4h-4zM655 403h4v4h-4zM754 403h3v4h-3zM852 403h4v4h-4zM1175 403h4v4h-4zM848 411h4v4h-4zM466 415h4v4h-4zM557 415h3v4h-3zM754 415h3v4h-3zM844 415h4v4h-4zM1171 415h4v4h-4z"/>
<path fill="#3e4989" d="M675 108h4v4h-4zM962 108h4v4h-4zM836 112h4v4h-4zM848 112h4v4h-4zM856 112h8v4h-8zM958 199h8v3h-8zM1049 199h8v3h-8zM954 202h4v4h-4zM1053 202h4v4h-4zM935 206h8v4h-8zM950 206h4v4h-4zM1033 206h4v4h-4zM1159 206h8v4h-8zM1175 206h4v4h-4zM852 210h4v4h-4zM864 210h8v4h-8zM947 210h3v4h-3zM1029 210h4v4h-4zM943 214h7v4h-7zM966 214h4v4h-4zM1025 214h4v4h-4zM1136 214h11v4h-11zM844 218h4v4h-4zM923 218h4v4h-4zM1025 218h4v4h-4zM1132 218h4v4h-4zM801 222h4v4h-4zM809 222h8v4h-8zM844 222h4v4h-4zM1104 222h12v4h-12zM1124 222h8v4h-8zM797 226h4v4h-4zM805 226h12v4h-12zM840 226h4v4h-4zM915 226h4v4h-4zM1017 226h8v4h-8zM1104 226h8v4h-8zM1124 226h4v4h-4zM809 230h8v4h-8zM915 230h4v4h-4zM1100 230h4v4h-4zM1108 230h4v4h-4zM836 234h4v4h-4zM1006 234h4v4h-4zM1108 234h4v4h-4zM1116 234h12v4h-12zM801 238h4v4h-4zM1014 238h3v4h-3zM1116 238h12v4h-12zM919 242h8v4h-8zM1010 242h4v4h-4zM1120 242h4v4h-4zM927 246h4v4h-4zM1010 246h4v4h-4zM1124 246h4v4h-4zM943 250h4v4h-4zM1014 250h7v4h-7zM1124 250h4v4h-4zM1021 254h4v4h-4zM950 258h4v4h-4zM805 262h12v3h-12zM1136 262h4v3h-4zM950 265h4v4h-4zM1021 265h4v4h-4zM1136 269h4v4h-4zM560 273h4v4h-4zM576 273h4v4h-4zM1021 273h4v4h-4zM1136 277h4v4h-4zM572 289h4v4h-4zM679 289h4v4h-4zM687 289h3v4h-3zM560 297h4v4h-4zM584 297h4v4h-4zM1029 297h4v4h-4zM1029 301h4v4h-4zM1061 301h4v4h-4zM1045 305h4v4h-4zM560 309h4v4h-4zM572 309h4v4h-4zM671 313h4v4h-4zM1049 313h4v4h-4zM1057 313h4v4h-4zM671 317h4v4h-4zM1053 317h4v4h-4zM840 325h4v3h-4zM950 325h4v3h-4zM1061 325h4v3h-4zM1053 332h4v4h-4zM844 336h4v4h-4zM950 336h4v4h-4zM1053 336h4v4h-4zM848 340h4v4h-4zM1049 340h4v4h-4zM671 344h4v4h-4zM856 344h4v4h-4zM1037 352h4v4h-4zM1140 360h4v4h-4zM667 368h4v4h-4zM647 372h4v4h-4zM659 372h4v4h-4zM848 380h4v4h-4zM533 384h4v4h-4zM844 384h4v4h-4zM541 388h4v3h-4zM1155 388h8v3h-8zM647 391h4v4h-4zM754 391h3v4h-3zM844 391h4v4h-4zM1167 391h4v4h-4zM844 395h4v4h-4zM754 399h3v4h-3zM754 407h3v4h-3zM1171 407h4v4h-4zM462 411h4v4h-4zM557 411h3v4h-3zM651 411h4v4h-4zM754 411h3v4h-3zM1171 411h4v4h-4zM840 419h4v5h-4zM1167 419h4v5h-4z"/>
<path fill="#3e4c8a" d="M671 108h4v4h-4zM966 108h4v4h-4zM840 112h8v4h-8zM864 112h8v4h-8zM954 199h4v3h-4zM1045 199h4v3h-4zM1057 199h4v3h-4zM935 202h12v4h-12zM950 202h4v4h-4zM966 202h4v4h-4zM1037 202h4v4h-4zM1057 202h4v4h-4zM856 206h16v4h-16zM931 206h4v4h-4zM943 206h7v4h-7zM1061 206h4v4h-4zM1140 206h11v4h-11zM1167 206h8v4h-8zM943 210h4v4h-4zM1061 210h4v4h-4zM1136 210h23v4h-23zM844 214h4v4h-4zM931 214h12v4h-12zM1132 214h4v4h-4zM801 218h12v4h-12zM840 218h4v4h-4zM919 218h4v4h-4zM1061 218h4v4h-4zM1104 218h8v4h-8zM1124 218h8v4h-8zM797 222h4v4h-4zM840 222h4v4h-4zM915 222h4v4h-4zM1014 222h3v4h-3zM1081 222h7v4h-7zM1096 222h8v4h-8zM1116 222h8v4h-8zM793 226h4v4h-4zM801 226h4v4h-4zM1088 226h16v4h-16zM1112 226h4v4h-4zM1120 226h4v4h-4zM797 230h12v4h-12zM836 230h4v4h-4zM1092 230h8v4h-8zM1120 230h4v4h-4zM801 234h4v4h-4zM817 234h3v4h-3zM1017 234h4v4h-4zM1104 234h4v4h-4zM1112 234h4v4h-4zM915 238h4v4h-4zM1010 238h4v4h-4zM915 242h4v4h-4zM1014 242h3v4h-3zM1061 242h4v4h-4zM1116 242h4v4h-4zM793 246h4v4h-4zM817 246h3v4h-3zM919 246h8v4h-8zM1120 246h4v4h-4zM817 250h3v4h-3zM923 250h20v4h-20zM1010 250h4v4h-4zM1021 250h4v4h-4zM1120 250h4v4h-4zM817 254h3v4h-3zM1017 254h4v4h-4zM1128 254h4v4h-4zM801 258h4v4h-4zM1017 258h4v4h-4zM1136 265h4v4h-4zM580 273h4v4h-4zM679 285h4v4h-4zM1021 285h4v4h-4zM568 289h4v4h-4zM580 289h4v4h-4zM675 289h4v4h-4zM690 289h8v4h-8zM1021 289h4v4h-4zM671 293h4v4h-4zM683 293h4v4h-4zM950 293h4v4h-4zM1025 293h4v4h-4zM557 297h3v4h-3zM568 301h4v4h-4zM1033 301h8v4h-8zM1029 305h4v4h-4zM1041 305h4v4h-4zM1061 305h4v4h-4zM576 309h4v4h-4zM1136 313h4v4h-4zM1061 317h4v4h-4zM1136 317h4v4h-4zM836 321h4v4h-4zM1136 321h4v4h-4zM1049 325h4v3h-4zM950 328h4v4h-4zM1049 328h4v4h-4zM950 332h4v4h-4zM1057 332h4v4h-4zM1061 336h4v4h-4zM1061 340h4v4h-4zM1041 344h4v4h-4zM1061 344h4v4h-4zM954 348h4v4h-4zM1041 348h4v4h-4zM1061 348h4v4h-4zM1061 352h4v4h-4zM1033 356h4v4h-4zM1061 356h4v4h-4zM1140 364h4v4h-4zM1033 368h4v4h-4zM1140 368h4v4h-4zM596 372h4v4h-4zM651 372h8v4h-8zM856 372h8v4h-8zM560 376h4v4h-4zM754 376h3v4h-3zM754 380h3v4h-3zM1147 380h4v4h-4zM840 384h4v4h-4zM840 388h4v3h-4zM1163 391h4v4h-4zM754 395h3v4h-3zM840 395h4v4h-4zM1171 395h4v4h-4zM557 399h3v4h-3zM651 399h4v4h-4zM844 399h4v4h-4zM1175 399h4v4h-4zM848 403h4v4h-4zM1171 403h4v4h-4zM462 407h4v4h-4zM848 407h4v4h-4zM466 411h4v4h-4zM1167 415h4v4h-4z"/>
<path fill="#3d4e8a" d="M667 108h4v4h-4zM1057 195h4v4h-4zM966 199h4v3h-4zM1037 199h8v3h-8zM856 202h8v4h-8zM931 202h4v4h-4zM947 202h3v4h-3zM1033 202h4v4h-4zM1155 202h8v4h-8zM852 206h4v4h-4zM1136 206h4v4h-4zM1151 206h8v4h-8zM848 210h4v4h-4zM931 210h12v4h-12zM1108 210h4v4h-4zM813 214h4v4h-4zM840 214h4v4h-4zM923 214h8v4h-8zM1061 214h4v4h-4zM1124 214h8v4h-8zM797 218h4v4h-4zM813 218h4v4h-4zM1081 218h3v4h-3zM1096 218h8v4h-8zM1112 218h4v4h-4zM1120 218h4v4h-4zM1088 222h8v4h-8zM836 226h4v4h-4zM911 226h4v4h-4zM1081 226h7v4h-7zM1116 226h4v4h-4zM793 230h4v4h-4zM1010 230h4v4h-4zM1112 230h8v4h-8zM793 234h8v4h-8zM915 234h4v4h-4zM1096 234h8v4h-8zM797 238h4v4h-4zM817 238h3v4h-3zM1006 238h4v4h-4zM1108 238h8v4h-8zM694 242h4v4h-4zM797 242h4v4h-4zM817 242h3v4h-3zM915 246h4v4h-4zM1104 246h4v4h-4zM1116 246h4v4h-4zM793 250h4v4h-4zM919 250h4v4h-4zM1116 250h4v4h-4zM947 254h3v4h-3zM1014 254h3v4h-3zM817 258h3v4h-3zM1132 258h4v4h-4zM1017 262h4v3h-4zM809 265h8v4h-8zM950 269h4v4h-4zM1021 277h4v4h-4zM1021 281h4v4h-4zM1136 281h4v4h-4zM549 285h4v4h-4zM683 285h4v4h-4zM694 285h4v4h-4zM1136 285h4v4h-4zM584 289h4v4h-4zM1136 289h4v4h-4zM553 297h4v4h-4zM564 301h4v4h-4zM572 301h8v4h-8zM1033 305h8v4h-8zM557 309h3v4h-3zM580 309h4v4h-4zM1045 309h4v4h-4zM1061 309h4v4h-4zM1045 313h4v4h-4zM1049 317h4v4h-4zM671 321h4v4h-4zM1049 321h4v4h-4zM1136 325h4v3h-4zM840 328h4v4h-4zM1061 328h4v4h-4zM1136 328h4v4h-4zM1049 332h4v4h-4zM1136 332h4v4h-4zM1049 336h4v4h-4zM1136 336h4v4h-4zM1045 340h4v4h-4zM962 352h4v4h-4zM1033 352h4v4h-4zM1033 360h4v4h-4zM667 364h4v4h-4zM1033 364h4v4h-4zM757 372h12v4h-12zM864 372h8v4h-8zM1144 376h3v4h-3zM549 391h4v4h-4zM639 391h8v4h-8zM840 391h4v4h-4zM588 395h4v4h-4zM647 395h4v4h-4zM1167 395h4v4h-4zM840 399h4v4h-4zM1171 399h4v4h-4zM557 403h3v4h-3zM651 403h4v4h-4zM466 407h4v4h-4zM651 407h4v4h-4zM844 411h4v4h-4zM840 415h4v4h-4zM470 419h4v5h-4z"/>
<path fill="#3c508b" d="M663 108h4v4h-4zM832 112h4v4h-4zM939 112h8v4h-8zM1104 112h4v4h-4zM1124 112h8v4h-8zM1147 112h8v4h-8zM962 187h4v4h-4zM962 191h4v4h-4zM954 195h12v4h-12zM1037 195h8v4h-8zM1053 195h4v4h-4zM1061 195h4v4h-4zM950 199h4v3h-4zM1033 199h4v3h-4zM1061 199h4v3h-4zM852 202h4v4h-4zM864 202h8v4h-8zM1061 202h4v4h-4zM1128 202h12v4h-12zM1147 202h8v4h-8zM1163 202h12v4h-12zM848 206h4v4h-4zM927 206h4v4h-4zM1029 206h4v4h-4zM1124 206h12v4h-12zM805 210h12v4h-12zM840 210h8v4h-8zM927 210h4v4h-4zM1112 210h24v4h-24zM801 214h12v4h-12zM919 214h4v4h-4zM1108 214h4v4h-4zM1120 214h4v4h-4zM793 218h4v4h-4zM836 218h4v4h-4zM915 218h4v4h-4zM1017 218h8v4h-8zM1084 218h12v4h-12zM1116 218h4v4h-4zM789 222h8v4h-8zM836 222h4v4h-4zM1077 222h4v4h-4zM789 226h4v4h-4zM817 226h3v4h-3zM1010 226h4v4h-4zM817 230h3v4h-3zM911 230h4v4h-4zM1088 230h4v4h-4zM1088 234h8v4h-8zM793 238h4v4h-4zM1100 238h8v4h-8zM687 242h7v4h-7zM789 242h8v4h-8zM1006 242h4v4h-4zM1100 242h8v4h-8zM789 246h4v4h-4zM1006 246h4v4h-4zM1100 246h4v4h-4zM1108 246h4v4h-4zM789 250h4v4h-4zM1006 250h4v4h-4zM1104 250h12v4h-12zM797 254h4v4h-4zM931 254h8v4h-8zM943 254h4v4h-4zM1116 254h12v4h-12zM817 262h3v3h-3zM1132 262h4v3h-4zM805 265h4v4h-4zM1017 265h4v4h-4zM1132 265h4v4h-4zM1017 269h4v4h-4zM557 273h3v4h-3zM694 277h4v4h-4zM584 285h4v4h-4zM675 285h4v4h-4zM687 285h7v4h-7zM950 285h4v4h-4zM557 289h3v4h-3zM564 289h4v4h-4zM950 289h4v4h-4zM1025 297h4v4h-4zM1136 297h4v4h-4zM1025 301h4v4h-4zM1136 301h4v4h-4zM1136 305h4v4h-4zM1033 309h4v4h-4zM1136 309h4v4h-4zM1061 313h4v4h-4zM836 325h4v3h-4zM1045 325h4v3h-4zM1045 328h4v4h-4zM1045 332h4v4h-4zM1061 332h4v4h-4zM1045 336h4v4h-4zM671 340h4v4h-4zM950 340h4v4h-4zM1136 340h4v4h-4zM1037 348h4v4h-4zM667 352h4v4h-4zM966 352h4v4h-4zM667 356h4v4h-4zM667 360h4v4h-4zM592 372h4v4h-4zM1033 372h4v4h-4zM1140 372h4v4h-4zM848 376h4v4h-4zM541 380h4v4h-4zM844 380h4v4h-4zM529 384h4v4h-4zM592 391h4v4h-4zM1159 391h4v4h-4zM553 395h4v4h-4zM1163 395h4v4h-4zM1167 399h4v4h-4zM462 403h4v4h-4zM844 403h4v4h-4zM557 407h3v4h-3zM844 407h4v4h-4zM1167 411h4v4h-4zM470 415h4v4h-4zM647 419h4v5h-4zM1163 419h4v5h-4z"/>
<path fill="#3b528b" d="M470 108h4v4h-4zM970 108h4v4h-4zM781 112h36v4h-36zM880 112h11v4h-11zM915 112h8v4h-8zM947 112h3v4h-3zM1053 112h24v4h-24zM1100 112h4v4h-4zM1108 112h4v4h-4zM1116 112h8v4h-8zM1132 112h15v4h-15zM1155 112h4v4h-4zM1175 112h4v4h-4zM954 187h8v4h-8zM966 187h4v4h-4zM954 191h8v4h-8zM966 191h4v4h-4zM1057 191h4v4h-4zM966 195h4v4h-4zM1033 195h4v4h-4zM1045 195h8v4h-8zM931 199h16v3h-16zM1029 199h4v3h-4zM1159 199h4v3h-4zM927 202h4v4h-4zM1029 202h4v4h-4zM1124 202h4v4h-4zM1140 202h7v4h-7zM1175 202h4v4h-4zM805 206h12v4h-12zM844 206h4v4h-4zM1100 206h8v4h-8zM1120 206h4v4h-4zM801 210h4v4h-4zM923 210h4v4h-4zM1021 210h4v4h-4zM1104 210h4v4h-4zM797 214h4v4h-4zM836 214h4v4h-4zM915 214h4v4h-4zM1017 214h4v4h-4zM1096 214h12v4h-12zM1112 214h8v4h-8zM911 218h4v4h-4zM1077 218h4v4h-4zM911 222h4v4h-4zM1014 226h3v4h-3zM789 230h4v4h-4zM1014 230h3v4h-3zM1084 230h4v4h-4zM789 234h4v4h-4zM911 234h4v4h-4zM1010 234h4v4h-4zM1084 234h4v4h-4zM679 238h4v4h-4zM789 238h4v4h-4zM911 238h4v4h-4zM1002 238h4v4h-4zM1088 238h12v4h-12zM683 242h4v4h-4zM911 242h4v4h-4zM1096 242h4v4h-4zM1108 242h8v4h-8zM1112 246h4v4h-4zM915 250h4v4h-4zM923 254h8v4h-8zM939 254h4v4h-4zM1010 254h4v4h-4zM1104 254h12v4h-12zM1014 258h3v4h-3zM1128 258h4v4h-4zM817 265h3v4h-3zM809 269h8v4h-8zM1132 269h4v4h-4zM584 273h4v4h-4zM690 273h8v4h-8zM950 273h4v4h-4zM1017 273h4v4h-4zM564 277h16v4h-16zM690 277h4v4h-4zM679 281h4v4h-4zM950 281h4v4h-4zM553 289h4v4h-4zM560 289h4v4h-4zM671 289h4v4h-4zM687 293h11v4h-11zM1021 293h4v4h-4zM1136 293h4v4h-4zM580 301h4v4h-4zM553 309h4v4h-4zM584 309h4v4h-4zM1029 309h4v4h-4zM1037 309h8v4h-8zM1045 317h4v4h-4zM671 325h4v3h-4zM671 328h4v4h-4zM1041 332h4v4h-4zM1041 336h4v4h-4zM844 340h4v4h-4zM1041 340h4v4h-4zM852 344h4v4h-4zM1037 344h4v4h-4zM1136 344h4v4h-4zM667 348h4v4h-4zM868 348h4v4h-4zM958 352h4v4h-4zM966 356h4v4h-4zM1029 356h4v4h-4zM754 372h3v4h-3zM852 372h4v4h-4zM557 376h3v4h-3zM1033 376h4v4h-4zM840 380h4v4h-4zM1144 380h3v4h-3zM750 384h4v4h-4zM836 384h4v4h-4zM1147 384h4v4h-4zM537 388h4v3h-4zM750 388h4v3h-4zM836 388h4v3h-4zM1151 388h4v3h-4zM635 391h4v4h-4zM1155 391h4v4h-4zM836 395h4v4h-4zM588 399h4v4h-4zM647 399h4v4h-4zM1163 399h4v4h-4zM1167 403h4v4h-4zM1167 407h4v4h-4zM840 411h4v4h-4zM647 415h4v4h-4zM1163 415h4v4h-4zM836 419h4v5h-4z"/>
<path fill="#3a548c" d="M462 108h8v4h-8zM474 108h4v4h-4zM533 108h12v4h-12zM564 108h4v4h-4zM580 108h8v4h-8zM659 108h4v4h-4zM1037 108h4v4h-4zM730 112h4v4h-4zM746 112h8v4h-8zM757 112h12v4h-12zM828 112h4v4h-4zM872 112h8v4h-8zM903 112h12v4h-12zM923 112h4v4h-4zM935 112h4v4h-4zM1049 112h4v4h-4zM1077 112h15v4h-15zM1096 112h4v4h-4zM1112 112h4v4h-4zM1159 112h8v4h-8zM1171 112h4v4h-4zM962 183h4v4h-4zM1049 187h8v4h-8zM950 191h4v4h-4zM1037 191h8v4h-8zM1053 191h4v4h-4zM1061 191h4v4h-4zM935 195h4v4h-4zM950 195h4v4h-4zM860 199h8v3h-8zM947 199h3v3h-3zM1084 199h4v3h-4zM1155 199h4v3h-4zM1163 199h8v3h-8zM809 202h4v4h-4zM848 202h4v4h-4zM923 202h4v4h-4zM1084 202h4v4h-4zM797 206h8v4h-8zM840 206h4v4h-4zM919 206h8v4h-8zM1092 206h8v4h-8zM1108 206h4v4h-4zM797 210h4v4h-4zM817 210h3v4h-3zM836 210h4v4h-4zM919 210h4v4h-4zM1092 210h12v4h-12zM817 214h3v4h-3zM1010 214h4v4h-4zM1081 214h7v4h-7zM1092 214h4v4h-4zM789 218h4v4h-4zM1006 218h4v4h-4zM1014 218h3v4h-3zM817 222h3v4h-3zM1017 222h4v4h-4zM907 226h4v4h-4zM1077 226h4v4h-4zM907 230h4v4h-4zM1081 230h3v4h-3zM1081 234h3v4h-3zM907 238h4v4h-4zM1081 238h7v4h-7zM679 242h4v4h-4zM1081 242h15v4h-15zM694 246h4v4h-4zM911 246h4v4h-4zM1081 246h7v4h-7zM1096 246h4v4h-4zM1100 250h4v4h-4zM793 254h4v4h-4zM919 254h4v4h-4zM797 258h4v4h-4zM947 258h3v4h-3zM1104 258h4v4h-4zM1120 258h4v4h-4zM801 262h4v3h-4zM1014 262h3v3h-3zM1128 262h4v3h-4zM805 269h4v4h-4zM553 273h4v4h-4zM683 273h7v4h-7zM1132 273h4v4h-4zM950 277h4v4h-4zM1017 277h4v4h-4zM1132 277h4v4h-4zM675 281h4v4h-4zM813 285h4v4h-4zM1017 285h4v4h-4zM1017 289h4v4h-4zM549 297h4v4h-4zM1021 297h4v4h-4zM667 301h4v4h-4zM813 301h4v4h-4zM568 305h12v4h-12zM1025 305h4v4h-4zM549 309h4v4h-4zM667 309h4v4h-4zM809 313h4v4h-4zM1029 313h8v4h-8zM1045 321h4v4h-4zM1041 328h4v4h-4zM671 332h4v4h-4zM809 332h4v4h-4zM840 332h4v4h-4zM671 336h4v4h-4zM864 348h4v4h-4zM1033 348h4v4h-4zM1136 348h4v4h-4zM1029 352h4v4h-4zM958 356h8v4h-8zM757 360h8v4h-8zM962 360h8v4h-8zM1029 360h4v4h-4zM757 364h8v4h-8zM1029 364h4v4h-4zM757 368h12v4h-12zM553 376h4v4h-4zM1033 380h4v4h-4zM545 391h4v4h-4zM750 391h4v4h-4zM836 391h4v4h-4zM643 395h4v4h-4zM1159 395h4v4h-4zM553 399h4v4h-4zM836 399h4v4h-4zM466 403h4v4h-4zM588 403h4v4h-4zM840 403h4v4h-4zM1163 403h4v4h-4zM840 407h4v4h-4zM553 415h4v4h-4zM750 415h4v4h-4zM836 415h4v4h-4zM553 419h4v5h-4z"/>
<path fill="#39568c" d="M478 108h4v4h-4zM525 108h8v4h-8zM545 108h4v4h-4zM560 108h4v4h-4zM568 108h4v4h-4zM588 108h4v4h-4zM639 108h16v4h-16zM974 108h4v4h-4zM982 108h4v4h-4zM687 112h11v4h-11zM726 112h4v4h-4zM754 112h3v4h-3zM777 112h4v4h-4zM817 112h11v4h-11zM891 112h4v4h-4zM899 112h4v4h-4zM927 112h8v4h-8zM950 112h16v4h-16zM1092 112h4v4h-4zM1167 112h4v4h-4zM950 183h12v4h-12zM966 183h4v4h-4zM1045 183h8v4h-8zM950 187h4v4h-4zM1037 187h12v4h-12zM1057 187h4v4h-4zM1033 191h4v4h-4zM1045 191h8v4h-8zM931 195h4v4h-4zM939 195h11v4h-11zM1159 195h8v4h-8zM856 199h4v3h-4zM868 199h4v3h-4zM927 199h4v3h-4zM1081 199h3v3h-3zM1088 199h4v3h-4zM1124 199h12v3h-12zM1144 199h11v3h-11zM1171 199h4v3h-4zM805 202h4v4h-4zM813 202h4v4h-4zM919 202h4v4h-4zM1081 202h3v4h-3zM1088 202h4v4h-4zM1096 202h12v4h-12zM1120 202h4v4h-4zM817 206h3v4h-3zM836 206h4v4h-4zM915 206h4v4h-4zM1014 206h3v4h-3zM1081 206h11v4h-11zM1112 206h8v4h-8zM915 210h4v4h-4zM1025 210h4v4h-4zM1081 210h11v4h-11zM789 214h8v4h-8zM911 214h4v4h-4zM1077 214h4v4h-4zM1088 214h4v4h-4zM817 218h3v4h-3zM907 218h4v4h-4zM785 222h4v4h-4zM907 222h4v4h-4zM907 234h4v4h-4zM675 238h4v4h-4zM675 242h4v4h-4zM907 242h4v4h-4zM1002 242h4v4h-4zM683 246h11v4h-11zM1088 246h8v4h-8zM911 250h4v4h-4zM679 254h4v4h-4zM789 254h4v4h-4zM1006 254h4v4h-4zM1100 254h4v4h-4zM694 258h4v4h-4zM935 258h12v4h-12zM1010 258h4v4h-4zM1108 258h4v4h-4zM1116 258h4v4h-4zM1124 258h4v4h-4zM564 262h12v3h-12zM694 262h4v3h-4zM947 262h3v3h-3zM1014 265h3v4h-3zM1128 265h4v4h-4zM1014 269h3v4h-3zM679 273h4v4h-4zM809 273h8v4h-8zM1014 273h3v4h-3zM580 277h4v4h-4zM679 277h8v4h-8zM809 277h8v4h-8zM813 281h4v4h-4zM1017 281h4v4h-4zM545 285h4v4h-4zM809 285h4v4h-4zM1132 285h4v4h-4zM545 297h4v4h-4zM667 297h4v4h-4zM813 297h4v4h-4zM560 301h4v4h-4zM584 301h4v4h-4zM817 301h3v4h-3zM564 305h4v4h-4zM805 309h8v4h-8zM805 313h4v4h-4zM947 313h3v4h-3zM1037 313h8v4h-8zM809 317h4v4h-4zM947 317h3v4h-3zM1041 317h4v4h-4zM1041 325h4v3h-4zM809 328h8v4h-8zM836 328h4v4h-4zM1037 332h4v4h-4zM1037 336h4v4h-4zM1037 340h4v4h-4zM1033 344h4v4h-4zM954 352h4v4h-4zM1136 352h4v4h-4zM757 356h4v4h-4zM1136 356h4v4h-4zM765 360h4v4h-4zM765 364h4v4h-4zM663 368h4v4h-4zM754 368h3v4h-3zM588 372h4v4h-4zM750 376h4v4h-4zM844 376h4v4h-4zM1140 376h4v4h-4zM537 380h4v4h-4zM750 380h4v4h-4zM525 384h4v4h-4zM596 391h4v4h-4zM612 391h4v4h-4zM1151 391h4v4h-4zM1155 395h4v4h-4zM750 399h4v4h-4zM1159 399h4v4h-4zM750 403h4v4h-4zM750 407h4v4h-4zM1163 407h4v4h-4zM470 411h4v4h-4zM588 411h4v4h-4zM647 411h4v4h-4zM750 411h4v4h-4zM1163 411h4v4h-4zM588 415h4v4h-4zM750 419h4v5h-4z"/>
<path fill="#38598c" d="M482 108h4v4h-4zM494 108h7v4h-7zM513 108h4v4h-4zM549 108h4v4h-4zM557 108h3v4h-3zM572 108h8v4h-8zM592 108h4v4h-4zM600 108h39v4h-39zM655 108h4v4h-4zM978 108h4v4h-4zM986 108h4v4h-4zM683 112h4v4h-4zM718 112h8v4h-8zM734 112h4v4h-4zM742 112h4v4h-4zM769 112h8v4h-8zM895 112h4v4h-4zM966 112h4v4h-4zM1045 112h4v4h-4zM864 116h4v4h-4zM868 175h4v4h-4zM958 179h12v4h-12zM856 183h8v4h-8zM1037 183h8v4h-8zM1053 183h8v4h-8zM856 187h8v4h-8zM939 187h4v4h-4zM1033 187h4v4h-4zM1061 187h4v4h-4zM923 191h4v4h-4zM935 191h15v4h-15zM927 195h4v4h-4zM1029 195h4v4h-4zM1092 195h8v4h-8zM1124 195h4v4h-4zM1167 195h4v4h-4zM852 199h4v3h-4zM919 199h8v3h-8zM1092 199h12v3h-12zM1116 199h8v3h-8zM1136 199h8v3h-8zM1175 199h4v3h-4zM801 202h4v4h-4zM840 202h8v4h-8zM1025 202h4v4h-4zM1092 202h4v4h-4zM1108 202h12v4h-12zM793 206h4v4h-4zM1025 206h4v4h-4zM789 210h8v4h-8zM1077 210h4v4h-4zM907 214h4v4h-4zM1021 214h4v4h-4zM785 218h4v4h-4zM1073 218h4v4h-4zM683 222h7v4h-7zM1073 222h4v4h-4zM785 226h4v4h-4zM1006 230h4v4h-4zM1077 230h4v4h-4zM1002 234h4v4h-4zM1077 234h4v4h-4zM683 238h4v4h-4zM1077 238h4v4h-4zM671 242h4v4h-4zM1077 242h4v4h-4zM1002 246h4v4h-4zM1077 246h4v4h-4zM1002 250h4v4h-4zM1081 250h19v4h-19zM915 254h4v4h-4zM568 258h8v4h-8zM675 258h12v4h-12zM690 258h4v4h-4zM793 258h4v4h-4zM832 258h4v4h-4zM923 258h12v4h-12zM1100 258h4v4h-4zM1112 258h4v4h-4zM553 262h11v3h-11zM576 262h8v3h-8zM690 262h4v3h-4zM1120 262h8v3h-8zM832 265h4v4h-4zM679 269h4v4h-4zM817 269h3v4h-3zM832 269h4v4h-4zM1128 269h4v4h-4zM549 273h4v4h-4zM675 273h4v4h-4zM805 273h4v4h-4zM560 277h4v4h-4zM584 277h4v4h-4zM675 277h4v4h-4zM687 277h3v4h-3zM805 277h4v4h-4zM809 281h4v4h-4zM1132 281h4v4h-4zM671 285h4v4h-4zM805 285h4v4h-4zM667 289h4v4h-4zM809 289h8v4h-8zM832 289h4v4h-4zM1132 289h4v4h-4zM667 293h4v4h-4zM809 293h8v4h-8zM832 293h4v4h-4zM1017 293h4v4h-4zM541 297h4v4h-4zM809 297h4v4h-4zM817 297h3v4h-3zM809 301h4v4h-4zM1021 301h4v4h-4zM580 305h4v4h-4zM805 305h12v4h-12zM545 309h4v4h-4zM813 309h4v4h-4zM832 309h4v4h-4zM576 313h4v4h-4zM813 313h4v4h-4zM832 313h4v4h-4zM805 317h4v4h-4zM813 317h4v4h-4zM1029 317h12v4h-12zM1041 321h4v4h-4zM809 325h8v3h-8zM1037 325h4v3h-4zM1037 328h4v4h-4zM805 332h4v4h-4zM813 332h4v4h-4zM840 336h4v4h-4zM848 344h4v4h-4zM860 348h4v4h-4zM757 352h12v4h-12zM761 356h8v4h-8zM754 360h3v4h-3zM958 360h4v4h-4zM754 364h3v4h-3zM750 368h4v4h-4zM958 368h4v4h-4zM1029 368h4v4h-4zM576 372h8v4h-8zM750 372h4v4h-4zM958 372h4v4h-4zM549 376h4v4h-4zM533 380h4v4h-4zM836 380h4v4h-4zM533 388h4v3h-4zM631 391h4v4h-4zM549 395h4v4h-4zM750 395h4v4h-4zM1151 395h4v4h-4zM462 399h8v4h-8zM553 403h4v4h-4zM647 403h4v4h-4zM836 403h4v4h-4zM1159 403h4v4h-4zM588 407h4v4h-4zM836 407h4v4h-4zM553 411h4v4h-4zM836 411h4v4h-4zM1159 415h4v4h-4zM588 419h4v5h-4zM1159 419h4v5h-4z"/>
<path fill="#375b8d" d="M486 108h8v4h-8zM501 108h12v4h-12zM517 108h8v4h-8zM553 108h4v4h-4zM596 108h4v4h-4zM714 112h4v4h-4zM738 112h4v4h-4zM844 116h12v4h-12zM860 116h4v4h-4zM868 116h4v4h-4zM958 175h8v4h-8zM864 179h8v4h-8zM950 179h8v4h-8zM1049 179h4v4h-4zM852 183h4v4h-4zM935 183h15v4h-15zM1061 183h4v4h-4zM848 187h8v4h-8zM864 187h8v4h-8zM919 187h8v4h-8zM935 187h4v4h-4zM1029 187h4v4h-4zM868 191h4v4h-4zM919 191h4v4h-4zM927 191h4v4h-4zM1120 191h8v4h-8zM1155 191h8v4h-8zM919 195h8v4h-8zM1081 195h11v4h-11zM1100 195h4v4h-4zM1108 195h8v4h-8zM1120 195h4v4h-4zM1128 195h4v4h-4zM1140 195h19v4h-19zM1171 195h4v4h-4zM694 199h4v3h-4zM848 199h4v3h-4zM1104 199h12v3h-12zM797 202h4v4h-4zM836 202h4v4h-4zM915 202h4v4h-4zM1017 202h4v4h-4zM789 206h4v4h-4zM911 206h4v4h-4zM1021 206h4v4h-4zM1077 206h4v4h-4zM907 210h8v4h-8zM1014 210h3v4h-3zM785 214h4v4h-4zM1073 214h4v4h-4zM1010 218h4v4h-4zM1006 222h4v4h-4zM1073 226h4v4h-4zM1073 230h4v4h-4zM832 238h4v4h-4zM832 242h4v4h-4zM671 246h4v4h-4zM832 246h4v4h-4zM907 246h4v4h-4zM675 254h4v4h-4zM832 254h4v4h-4zM1088 254h12v4h-12zM557 258h11v4h-11zM687 258h3v4h-3zM919 258h4v4h-4zM1006 258h4v4h-4zM584 262h4v3h-4zM675 262h4v3h-4zM797 262h4v3h-4zM832 262h4v3h-4zM943 262h4v3h-4zM1010 262h4v3h-4zM1104 262h4v3h-4zM1116 262h4v3h-4zM675 265h8v4h-8zM801 265h4v4h-4zM947 265h3v4h-3zM1124 265h4v4h-4zM675 269h4v4h-4zM817 273h3v4h-3zM1010 273h4v4h-4zM817 277h3v4h-3zM1014 277h3v4h-3zM671 281h4v4h-4zM805 281h4v4h-4zM817 281h3v4h-3zM817 285h3v4h-3zM549 289h4v4h-4zM588 289h4v4h-4zM805 289h4v4h-4zM805 293h4v4h-4zM817 293h3v4h-3zM588 297h4v4h-4zM805 297h4v4h-4zM553 301h7v4h-7zM805 301h4v4h-4zM817 305h3v4h-3zM817 309h3v4h-3zM947 309h3v4h-3zM1025 309h4v4h-4zM923 313h4v4h-4zM564 317h4v4h-4zM817 317h3v4h-3zM919 317h8v4h-8zM939 317h8v4h-8zM809 321h8v4h-8zM919 321h4v4h-4zM935 321h8v4h-8zM947 321h3v4h-3zM1029 321h12v4h-12zM805 325h4v3h-4zM935 325h4v3h-4zM1033 325h4v3h-4zM805 328h4v4h-4zM809 336h4v4h-4zM761 340h4v4h-4zM667 344h4v4h-4zM761 344h4v4h-4zM950 344h4v4h-4zM761 348h4v4h-4zM1029 348h4v4h-4zM754 356h3v4h-3zM954 356h4v4h-4zM1136 360h4v4h-4zM750 364h4v4h-4zM962 364h4v4h-4zM856 368h8v4h-8zM868 368h4v4h-4zM962 368h4v4h-4zM572 372h4v4h-4zM584 372h4v4h-4zM848 372h4v4h-4zM962 372h8v4h-8zM840 376h4v4h-4zM1140 380h4v4h-4zM521 384h4v4h-4zM1033 384h4v4h-4zM1144 384h3v4h-3zM1147 388h4v3h-4zM600 391h4v4h-4zM608 391h4v4h-4zM616 391h4v4h-4zM627 391h4v4h-4zM592 395h4v4h-4zM639 395h4v4h-4zM643 399h4v4h-4zM1155 399h4v4h-4zM470 407h4v4h-4zM553 407h4v4h-4zM647 407h4v4h-4z"/>
<path fill="#365d8d" d="M990 108h4v4h-4zM1033 108h4v4h-4zM679 112h4v4h-4zM698 112h4v4h-4zM710 112h4v4h-4zM836 116h8v4h-8zM856 116h4v4h-4zM868 171h4v4h-4zM864 175h4v4h-4zM954 175h4v4h-4zM966 175h4v4h-4zM860 179h4v4h-4zM943 179h7v4h-7zM1037 179h12v4h-12zM1053 179h12v4h-12zM840 183h12v4h-12zM864 183h8v4h-8zM1033 183h4v4h-4zM1084 183h4v4h-4zM840 187h8v4h-8zM927 187h8v4h-8zM943 187h7v4h-7zM1084 187h4v4h-4zM1104 187h4v4h-4zM1155 187h8v4h-8zM1175 187h4v4h-4zM864 191h4v4h-4zM931 191h4v4h-4zM1029 191h4v4h-4zM1092 191h8v4h-8zM1104 191h8v4h-8zM1116 191h4v4h-4zM1128 191h4v4h-4zM1144 191h11v4h-11zM1163 191h16v4h-16zM864 195h8v4h-8zM1104 195h4v4h-4zM1116 195h4v4h-4zM1132 195h8v4h-8zM1175 195h4v4h-4zM690 199h4v3h-4zM836 199h12v3h-12zM915 199h4v3h-4zM1025 199h4v3h-4zM793 202h4v4h-4zM817 202h3v4h-3zM1077 202h4v4h-4zM907 206h4v4h-4zM785 210h4v4h-4zM1010 210h4v4h-4zM679 218h4v4h-4zM679 222h4v4h-4zM690 222h4v4h-4zM903 222h4v4h-4zM683 226h4v4h-4zM903 226h4v4h-4zM1002 226h4v4h-4zM785 230h4v4h-4zM903 230h4v4h-4zM785 234h4v4h-4zM903 234h4v4h-4zM1073 234h4v4h-4zM687 238h11v4h-11zM785 238h4v4h-4zM903 238h4v4h-4zM785 242h4v4h-4zM675 246h4v4h-4zM832 250h4v4h-4zM907 250h4v4h-4zM1077 250h4v4h-4zM671 254h4v4h-4zM911 254h4v4h-4zM970 254h4v4h-4zM1002 254h4v4h-4zM1084 254h4v4h-4zM553 258h4v4h-4zM576 258h4v4h-4zM671 258h4v4h-4zM970 258h4v4h-4zM1088 258h12v4h-12zM679 262h11v3h-11zM939 262h4v3h-4zM1006 262h4v3h-4zM1100 262h4v3h-4zM1108 262h8v3h-8zM1010 265h4v4h-4zM1120 265h4v4h-4zM576 269h4v4h-4zM683 269h4v4h-4zM1010 269h4v4h-4zM545 273h4v4h-4zM671 273h4v4h-4zM832 273h4v4h-4zM1128 273h4v4h-4zM557 277h3v4h-3zM671 277h4v4h-4zM832 277h4v4h-4zM1128 277h4v4h-4zM683 281h4v4h-4zM541 285h4v4h-4zM832 285h4v4h-4zM1014 285h3v4h-3zM817 289h3v4h-3zM1014 289h3v4h-3zM576 293h4v4h-4zM970 293h4v4h-4zM1132 293h4v4h-4zM832 297h4v4h-4zM947 297h3v4h-3zM1017 297h4v4h-4zM1132 297h4v4h-4zM549 301h4v4h-4zM947 301h3v4h-3zM1132 301h4v4h-4zM560 305h4v4h-4zM667 305h4v4h-4zM832 305h4v4h-4zM947 305h3v4h-3zM970 305h4v4h-4zM1132 309h4v4h-4zM564 313h4v4h-4zM572 313h4v4h-4zM667 313h4v4h-4zM817 313h3v4h-3zM927 313h4v4h-4zM943 313h4v4h-4zM1025 313h4v4h-4zM1132 313h4v4h-4zM560 317h4v4h-4zM568 317h12v4h-12zM832 317h4v4h-4zM927 317h12v4h-12zM970 317h4v4h-4zM1132 317h4v4h-4zM805 321h4v4h-4zM923 321h12v4h-12zM943 321h4v4h-4zM970 321h4v4h-4zM817 325h3v3h-3zM931 325h4v3h-4zM939 325h4v3h-4zM947 325h3v3h-3zM817 328h3v4h-3zM923 328h27v4h-27zM1033 328h4v4h-4zM923 332h4v4h-4zM943 332h7v4h-7zM1033 332h4v4h-4zM765 336h4v4h-4zM805 336h4v4h-4zM813 336h4v4h-4zM947 336h3v4h-3zM1033 336h4v4h-4zM765 340h4v4h-4zM1033 340h4v4h-4zM757 344h4v4h-4zM765 344h4v4h-4zM844 344h4v4h-4zM757 348h4v4h-4zM765 348h4v4h-4zM856 348h4v4h-4zM754 352h3v4h-3zM868 352h4v4h-4zM663 360h4v4h-4zM663 364h4v4h-4zM958 364h4v4h-4zM966 364h4v4h-4zM864 368h4v4h-4zM954 368h4v4h-4zM954 372h4v4h-4zM962 376h8v4h-8zM529 380h4v4h-4zM746 388h4v3h-4zM604 391h4v4h-4zM620 391h7v4h-7zM1147 391h4v4h-4zM462 395h8v4h-8zM1033 395h4v4h-4zM549 399h4v4h-4zM1033 399h4v4h-4zM1033 403h4v4h-4zM1033 407h4v4h-4zM1159 407h4v4h-4zM1159 411h4v4h-4zM643 415h4v4h-4zM643 419h4v5h-4z"/>
<path fill="#355f8d" d="M994 108h16v4h-16zM462 112h12v4h-12zM675 112h4v4h-4zM702 112h8v4h-8zM970 112h4v4h-4zM1041 112h4v4h-4zM864 171h4v4h-4zM860 175h4v4h-4zM1041 175h8v4h-8zM844 179h16v4h-16zM935 179h8v4h-8zM1033 179h4v4h-4zM927 183h8v4h-8zM1029 183h4v4h-4zM1081 183h3v4h-3zM1088 183h12v4h-12zM1132 183h4v4h-4zM1175 183h4v4h-4zM836 187h4v4h-4zM915 187h4v4h-4zM1081 187h3v4h-3zM1100 187h4v4h-4zM1108 187h4v4h-4zM1128 187h8v4h-8zM1140 187h7v4h-7zM1163 187h12v4h-12zM860 191h4v4h-4zM915 191h4v4h-4zM1025 191h4v4h-4zM1081 191h11v4h-11zM1100 191h4v4h-4zM1112 191h4v4h-4zM1132 191h4v4h-4zM1140 191h4v4h-4zM860 195h4v4h-4zM915 195h4v4h-4zM1021 195h4v4h-4zM1017 199h4v3h-4zM1077 199h4v3h-4zM694 202h4v4h-4zM911 202h4v4h-4zM785 206h4v4h-4zM1073 206h4v4h-4zM1017 210h4v4h-4zM1073 210h4v4h-4zM675 218h4v4h-4zM675 222h4v4h-4zM694 222h4v4h-4zM1010 222h4v4h-4zM687 226h11v4h-11zM970 230h4v4h-4zM679 234h4v4h-4zM832 234h4v4h-4zM998 234h4v4h-4zM671 238h4v4h-4zM998 238h4v4h-4zM1073 238h4v4h-4zM667 242h4v4h-4zM903 242h4v4h-4zM970 242h4v4h-4zM667 246h4v4h-4zM679 246h4v4h-4zM785 246h4v4h-4zM1073 246h4v4h-4zM785 250h4v4h-4zM970 250h4v4h-4zM1081 254h3v4h-3zM580 258h4v4h-4zM789 258h4v4h-4zM915 258h4v4h-4zM1081 258h7v4h-7zM549 262h4v3h-4zM671 262h4v3h-4zM793 262h4v3h-4zM923 262h16v3h-16zM671 265h4v4h-4zM943 265h4v4h-4zM1116 265h4v4h-4zM572 269h4v4h-4zM671 269h4v4h-4zM1124 269h4v4h-4zM549 277h8v4h-8zM1010 277h4v4h-4zM576 281h4v4h-4zM694 281h4v4h-4zM832 281h4v4h-4zM1014 281h3v4h-3zM1128 281h4v4h-4zM970 285h4v4h-4zM545 289h4v4h-4zM970 289h4v4h-4zM572 293h4v4h-4zM537 297h4v4h-4zM970 297h4v4h-4zM545 301h4v4h-4zM588 301h4v4h-4zM663 301h4v4h-4zM832 301h4v4h-4zM970 301h4v4h-4zM1021 305h4v4h-4zM1132 305h4v4h-4zM541 309h4v4h-4zM588 309h4v4h-4zM927 309h4v4h-4zM970 309h4v4h-4zM560 313h4v4h-4zM568 313h4v4h-4zM919 313h4v4h-4zM931 313h12v4h-12zM970 313h4v4h-4zM580 317h4v4h-4zM667 317h4v4h-4zM817 321h3v4h-3zM1132 321h4v4h-4zM919 325h12v3h-12zM943 325h4v3h-4zM970 325h4v3h-4zM1029 325h4v3h-4zM1132 325h4v3h-4zM919 328h4v4h-4zM970 328h4v4h-4zM1029 328h4v4h-4zM817 332h3v4h-3zM919 332h4v4h-4zM927 332h16v4h-16zM970 332h4v4h-4zM761 336h4v4h-4zM923 336h4v4h-4zM943 336h4v4h-4zM970 336h4v4h-4zM1132 336h4v4h-4zM757 340h4v4h-4zM805 340h8v4h-8zM840 340h4v4h-4zM1029 344h4v4h-4zM864 352h4v4h-4zM663 356h4v4h-4zM750 356h4v4h-4zM750 360h4v4h-4zM954 360h4v4h-4zM954 364h4v4h-4zM1025 364h4v4h-4zM1136 364h4v4h-4zM852 368h4v4h-4zM966 368h4v4h-4zM568 372h4v4h-4zM844 372h4v4h-4zM1029 372h4v4h-4zM958 376h4v4h-4zM517 384h4v4h-4zM746 384h4v4h-4zM529 388h4v3h-4zM1033 388h4v3h-4zM462 391h8v4h-8zM541 391h4v4h-4zM746 391h4v4h-4zM1033 391h4v4h-4zM545 395h4v4h-4zM1147 395h4v4h-4zM1151 399h4v4h-4zM470 403h4v4h-4zM1155 403h4v4h-4zM746 411h4v4h-4zM1033 411h4v4h-4zM549 415h4v4h-4zM1033 415h4v4h-4zM549 419h4v5h-4zM1033 419h4v5h-4zM1155 419h4v5h-4z"/>
<path fill="#34618d" d="M1010 108h4v4h-4zM671 112h4v4h-4zM832 116h4v4h-4zM943 116h4v4h-4zM864 159h8v4h-8zM868 167h4v4h-4zM860 171h4v4h-4zM958 171h12v4h-12zM1163 171h4v4h-4zM848 175h8v4h-8zM1037 175h4v4h-4zM1049 175h4v4h-4zM1061 175h4v4h-4zM1116 175h8v4h-8zM1163 175h4v4h-4zM927 179h8v4h-8zM1092 179h8v4h-8zM1132 179h8v4h-8zM1147 179h4v4h-4zM1163 179h8v4h-8zM805 183h8v4h-8zM836 183h4v4h-4zM923 183h4v4h-4zM1100 183h12v4h-12zM1128 183h4v4h-4zM1136 183h39v4h-39zM809 187h8v4h-8zM1088 187h12v4h-12zM1112 187h16v4h-16zM1136 187h4v4h-4zM1147 187h8v4h-8zM840 191h20v4h-20zM1136 191h4v4h-4zM856 195h4v4h-4zM1025 195h4v4h-4zM1077 195h4v4h-4zM687 199h3v3h-3zM809 199h4v3h-4zM911 199h4v3h-4zM1021 199h4v3h-4zM690 202h4v4h-4zM907 202h4v4h-4zM1073 202h4v4h-4zM903 210h4v4h-4zM903 214h4v4h-4zM1006 214h4v4h-4zM1014 214h3v4h-3zM683 218h4v4h-4zM903 218h4v4h-4zM671 222h4v4h-4zM1002 222h4v4h-4zM671 226h4v4h-4zM832 226h4v4h-4zM1006 226h4v4h-4zM1069 226h4v4h-4zM832 230h4v4h-4zM1069 230h4v4h-4zM970 234h4v4h-4zM970 238h4v4h-4zM564 242h4v4h-4zM998 242h4v4h-4zM1073 242h4v4h-4zM970 246h4v4h-4zM671 250h12v4h-12zM683 254h4v4h-4zM584 258h4v4h-4zM1002 258h4v4h-4zM919 262h4v3h-4zM970 262h4v3h-4zM1002 262h4v3h-4zM1092 262h8v3h-8zM683 265h4v4h-4zM970 265h4v4h-4zM1006 265h4v4h-4zM1112 265h4v4h-4zM694 269h4v4h-4zM801 269h4v4h-4zM947 269h3v4h-3zM1006 269h4v4h-4zM1120 269h4v4h-4zM541 273h4v4h-4zM588 273h4v4h-4zM970 273h4v4h-4zM1006 273h4v4h-4zM1124 273h4v4h-4zM588 277h4v4h-4zM667 277h4v4h-4zM970 277h4v4h-4zM970 281h4v4h-4zM537 285h4v4h-4zM588 285h4v4h-4zM1128 285h4v4h-4zM1014 293h3v4h-3zM943 301h4v4h-4zM1017 301h4v4h-4zM553 305h7v4h-7zM923 309h4v4h-4zM931 309h4v4h-4zM943 309h4v4h-4zM580 313h4v4h-4zM557 317h3v4h-3zM1025 317h4v4h-4zM667 321h4v4h-4zM832 321h4v4h-4zM915 321h4v4h-4zM667 325h4v3h-4zM667 328h4v4h-4zM1132 328h4v4h-4zM836 332h4v4h-4zM1029 332h4v4h-4zM1132 332h4v4h-4zM919 336h4v4h-4zM927 336h4v4h-4zM939 336h4v4h-4zM667 340h4v4h-4zM970 340h4v4h-4zM1029 340h4v4h-4zM805 344h4v4h-4zM754 348h3v4h-3zM852 348h4v4h-4zM663 352h4v4h-4zM750 352h4v4h-4zM860 352h4v4h-4zM860 356h4v4h-4zM1025 356h4v4h-4zM1025 360h4v4h-4zM746 364h4v4h-4zM659 368h4v4h-4zM746 368h4v4h-4zM1136 368h4v4h-4zM746 372h4v4h-4zM545 376h4v4h-4zM746 376h4v4h-4zM836 376h4v4h-4zM525 380h4v4h-4zM966 380h4v4h-4zM462 388h4v3h-4zM596 395h4v4h-4zM635 395h4v4h-4zM746 395h4v4h-4zM592 399h4v4h-4zM639 399h4v4h-4zM746 399h4v4h-4zM549 403h4v4h-4zM643 403h4v4h-4zM746 407h4v4h-4zM746 415h4v4h-4zM1155 415h4v4h-4zM474 419h4v5h-4z"/>
<path fill="#33638d" d="M1014 108h3v4h-3zM474 112h4v4h-4zM560 112h8v4h-8zM580 112h8v4h-8zM639 112h4v4h-4zM974 112h12v4h-12zM462 116h4v4h-4zM809 116h8v4h-8zM939 116h4v4h-4zM947 116h7v4h-7zM962 116h8v4h-8zM1147 116h8v4h-8zM852 155h12v4h-12zM868 155h4v4h-4zM848 159h16v4h-16zM864 167h4v4h-4zM856 171h4v4h-4zM954 171h4v4h-4zM1041 171h8v4h-8zM1120 171h4v4h-4zM1167 171h4v4h-4zM844 175h4v4h-4zM856 175h4v4h-4zM939 175h4v4h-4zM950 175h4v4h-4zM1033 175h4v4h-4zM1053 175h8v4h-8zM1112 175h4v4h-4zM1167 175h4v4h-4zM840 179h4v4h-4zM1029 179h4v4h-4zM1081 179h7v4h-7zM1100 179h4v4h-4zM1112 179h12v4h-12zM1128 179h4v4h-4zM1144 179h3v4h-3zM1151 179h12v4h-12zM1171 179h8v4h-8zM801 183h4v4h-4zM813 183h4v4h-4zM919 183h4v4h-4zM1077 183h4v4h-4zM1112 183h8v4h-8zM1124 183h4v4h-4zM797 187h12v4h-12zM1025 187h4v4h-4zM836 191h4v4h-4zM1077 191h4v4h-4zM840 195h16v4h-16zM911 195h4v4h-4zM683 199h4v3h-4zM805 199h4v3h-4zM813 199h4v3h-4zM907 199h4v3h-4zM1010 199h4v3h-4zM1073 199h4v3h-4zM789 202h4v4h-4zM1006 202h4v4h-4zM1014 202h3v4h-3zM903 206h4v4h-4zM1017 206h4v4h-4zM679 214h4v4h-4zM671 218h4v4h-4zM687 218h11v4h-11zM781 222h4v4h-4zM832 222h4v4h-4zM1069 222h4v4h-4zM675 226h8v4h-8zM970 226h4v4h-4zM1002 230h4v4h-4zM1069 234h4v4h-4zM560 242h4v4h-4zM568 242h8v4h-8zM568 246h4v4h-4zM998 246h4v4h-4zM1073 250h4v4h-4zM694 254h4v4h-4zM907 254h4v4h-4zM998 254h4v4h-4zM1077 254h4v4h-4zM549 258h4v4h-4zM911 258h4v4h-4zM1077 258h4v4h-4zM588 262h4v3h-4zM667 262h4v3h-4zM1081 262h11v3h-11zM694 265h4v4h-4zM797 265h4v4h-4zM919 265h12v4h-12zM939 265h4v4h-4zM1100 265h12v4h-12zM564 269h8v4h-8zM580 269h4v4h-4zM690 269h4v4h-4zM970 269h4v4h-4zM667 273h4v4h-4zM801 273h4v4h-4zM1124 277h4v4h-4zM572 281h4v4h-4zM667 281h4v4h-4zM690 281h4v4h-4zM1010 281h4v4h-4zM667 285h4v4h-4zM1010 285h4v4h-4zM541 289h4v4h-4zM663 289h4v4h-4zM1010 289h4v4h-4zM1128 289h4v4h-4zM580 293h4v4h-4zM947 293h3v4h-3zM541 301h4v4h-4zM549 305h4v4h-4zM584 305h4v4h-4zM927 305h12v4h-12zM943 305h4v4h-4zM537 309h4v4h-4zM919 309h4v4h-4zM935 309h8v4h-8zM915 317h4v4h-4zM915 325h4v3h-4zM667 332h4v4h-4zM757 332h4v4h-4zM757 336h4v4h-4zM817 336h3v4h-3zM931 336h8v4h-8zM1029 336h4v4h-4zM813 340h4v4h-4zM1132 340h4v4h-4zM754 344h3v4h-3zM809 344h4v4h-4zM840 344h4v4h-4zM750 348h4v4h-4zM848 348h4v4h-4zM856 352h4v4h-4zM1025 352h4v4h-4zM856 356h4v4h-4zM864 356h8v4h-8zM624 368h3v4h-3zM631 368h8v4h-8zM1025 368h4v4h-4zM564 372h4v4h-4zM840 372h4v4h-4zM954 376h4v4h-4zM1029 376h4v4h-4zM746 380h4v4h-4zM962 380h4v4h-4zM501 384h16v4h-16zM466 388h4v3h-4zM525 388h4v3h-4zM1144 388h3v3h-3zM470 395h4v4h-4zM612 395h4v4h-4zM470 399h4v4h-4zM545 399h4v4h-4zM746 403h4v4h-4zM1155 407h4v4h-4zM549 411h4v4h-4zM643 411h4v4h-4zM1155 411h4v4h-4zM474 415h4v4h-4zM832 419h4v5h-4z"/>
<path fill="#32658e" d="M1017 108h8v4h-8zM1029 108h4v4h-4zM490 112h7v4h-7zM533 112h8v4h-8zM557 112h3v4h-3zM568 112h12v4h-12zM588 112h4v4h-4zM596 112h31v4h-31zM635 112h4v4h-4zM643 112h8v4h-8zM659 112h12v4h-12zM466 116h4v4h-4zM687 116h11v4h-11zM757 116h12v4h-12zM785 116h24v4h-24zM817 116h3v4h-3zM828 116h4v4h-4zM880 116h7v4h-7zM919 116h4v4h-4zM1104 116h12v4h-12zM1128 116h19v4h-19zM1155 116h4v4h-4zM1175 116h4v4h-4zM844 120h4v4h-4zM860 120h12v4h-12zM868 151h4v4h-4zM848 155h4v4h-4zM864 155h4v4h-4zM864 163h8v4h-8zM860 167h4v4h-4zM1100 167h4v4h-4zM848 171h8v4h-8zM935 171h8v4h-8zM1049 171h4v4h-4zM1100 171h8v4h-8zM1112 171h8v4h-8zM1159 171h4v4h-4zM840 175h4v4h-4zM931 175h8v4h-8zM943 175h7v4h-7zM1104 175h8v4h-8zM1124 175h16v4h-16zM1159 175h4v4h-4zM1171 175h4v4h-4zM805 179h12v4h-12zM923 179h4v4h-4zM1088 179h4v4h-4zM1104 179h8v4h-8zM1124 179h4v4h-4zM1140 179h4v4h-4zM797 183h4v4h-4zM915 183h4v4h-4zM1120 183h4v4h-4zM789 187h8v4h-8zM1077 187h4v4h-4zM911 191h4v4h-4zM694 195h4v4h-4zM836 195h4v4h-4zM907 195h4v4h-4zM1073 195h4v4h-4zM671 199h8v3h-8zM797 199h8v3h-8zM671 202h4v4h-4zM683 202h7v4h-7zM785 202h4v4h-4zM781 206h4v4h-4zM1069 206h4v4h-4zM1069 214h4v4h-4zM781 218h4v4h-4zM832 218h4v4h-4zM1069 218h4v4h-4zM667 222h4v4h-4zM667 226h4v4h-4zM781 226h4v4h-4zM998 230h4v4h-4zM994 238h4v4h-4zM553 242h7v4h-7zM564 246h4v4h-4zM572 246h4v4h-4zM663 246h4v4h-4zM903 246h4v4h-4zM683 250h4v4h-4zM998 250h4v4h-4zM690 254h4v4h-4zM785 254h4v4h-4zM545 258h4v4h-4zM667 258h4v4h-4zM998 258h4v4h-4zM545 262h4v3h-4zM789 262h4v3h-4zM915 262h4v3h-4zM1077 262h4v3h-4zM931 265h8v4h-8zM1002 265h4v4h-4zM1096 265h4v4h-4zM560 269h4v4h-4zM687 269h3v4h-3zM943 269h4v4h-4zM1100 269h4v4h-4zM1112 269h8v4h-8zM1120 273h4v4h-4zM545 277h4v4h-4zM1006 277h4v4h-4zM1124 281h4v4h-4zM537 289h4v4h-4zM568 293h4v4h-4zM533 297h4v4h-4zM943 297h4v4h-4zM927 301h16v4h-16zM923 305h4v4h-4zM939 305h4v4h-4zM1021 309h4v4h-4zM1128 313h4v4h-4zM553 317h4v4h-4zM584 317h4v4h-4zM1025 321h4v4h-4zM832 325h4v3h-4zM915 328h4v4h-4zM754 332h3v4h-3zM761 332h8v4h-8zM915 332h4v4h-4zM667 336h4v4h-4zM754 336h3v4h-3zM836 336h4v4h-4zM754 340h3v4h-3zM813 344h4v4h-4zM970 344h4v4h-4zM1132 344h4v4h-4zM663 348h4v4h-4zM970 356h4v4h-4zM746 360h4v4h-4zM868 364h4v4h-4zM620 368h4v4h-4zM627 368h4v4h-4zM848 368h4v4h-4zM466 380h4v4h-4zM958 380h4v4h-4zM462 384h8v4h-8zM482 384h8v4h-8zM494 384h7v4h-7zM1140 384h4v4h-4zM470 388h4v3h-4zM742 388h4v3h-4zM470 391h4v4h-4zM742 391h4v4h-4zM541 395h4v4h-4zM600 395h4v4h-4zM616 395h4v4h-4zM832 395h4v4h-4zM832 399h4v4h-4zM1147 399h4v4h-4zM1151 403h4v4h-4zM549 407h4v4h-4zM643 407h4v4h-4zM742 411h4v4h-4zM545 415h4v4h-4zM545 419h4v5h-4zM746 419h4v5h-4zM1151 419h4v5h-4z"/>
<path fill="#31678e" d="M1025 108h4v4h-4zM478 112h4v4h-4zM486 112h4v4h-4zM497 112h4v4h-4zM525 112h8v4h-8zM592 112h4v4h-4zM627 112h8v4h-8zM651 112h8v4h-8zM986 112h4v4h-4zM1037 112h4v4h-4zM470 116h4v4h-4zM754 116h3v4h-3zM781 116h4v4h-4zM872 116h8v4h-8zM915 116h4v4h-4zM923 116h4v4h-4zM935 116h4v4h-4zM954 116h8v4h-8zM1069 116h23v4h-23zM1100 116h4v4h-4zM1116 116h12v4h-12zM1159 116h4v4h-4zM1171 116h4v4h-4zM840 120h4v4h-4zM848 120h4v4h-4zM864 124h8v4h-8zM868 143h4v4h-4zM868 147h4v4h-4zM852 151h16v4h-16zM844 155h4v4h-4zM844 159h4v4h-4zM848 163h4v4h-4zM860 163h4v4h-4zM1057 163h8v4h-8zM856 167h4v4h-4zM939 167h4v4h-4zM954 167h8v4h-8zM1053 167h12v4h-12zM1088 167h4v4h-4zM1104 167h4v4h-4zM1163 167h8v4h-8zM836 171h12v4h-12zM931 171h4v4h-4zM943 171h4v4h-4zM950 171h4v4h-4zM1037 171h4v4h-4zM1053 171h12v4h-12zM1108 171h4v4h-4zM1124 171h4v4h-4zM801 175h8v4h-8zM836 175h4v4h-4zM927 175h4v4h-4zM1029 175h4v4h-4zM1081 175h23v4h-23zM1140 175h11v4h-11zM1175 175h4v4h-4zM801 179h4v4h-4zM836 179h4v4h-4zM919 179h4v4h-4zM1077 179h4v4h-4zM789 183h8v4h-8zM817 183h3v4h-3zM817 187h3v4h-3zM911 187h4v4h-4zM1017 187h4v4h-4zM809 191h8v4h-8zM1014 191h3v4h-3zM679 195h4v4h-4zM690 195h4v4h-4zM679 199h4v3h-4zM903 202h4v4h-4zM1021 202h4v4h-4zM1069 202h4v4h-4zM1002 206h8v4h-8zM781 210h4v4h-4zM970 210h4v4h-4zM1002 210h4v4h-4zM1069 210h4v4h-4zM781 214h4v4h-4zM832 214h4v4h-4zM970 218h4v4h-4zM994 234h4v4h-4zM1069 238h4v4h-4zM576 242h4v4h-4zM560 246h4v4h-4zM1069 246h4v4h-4zM694 250h4v4h-4zM903 250h4v4h-4zM687 254h3v4h-3zM1073 254h4v4h-4zM588 258h4v4h-4zM907 258h4v4h-4zM1073 258h4v4h-4zM911 262h4v3h-4zM576 265h4v4h-4zM690 265h4v4h-4zM793 265h4v4h-4zM915 265h4v4h-4zM1084 265h12v4h-12zM1002 269h4v4h-4zM1096 269h4v4h-4zM1104 269h8v4h-8zM533 273h8v4h-8zM1100 273h12v4h-12zM462 277h4v4h-4zM663 277h4v4h-4zM801 277h4v4h-4zM1120 277h4v4h-4zM568 281h4v4h-4zM687 281h3v4h-3zM1006 281h4v4h-4zM533 285h4v4h-4zM947 285h3v4h-3zM592 289h4v4h-4zM947 289h3v4h-3zM462 293h4v4h-4zM1010 293h4v4h-4zM1128 293h4v4h-4zM462 297h4v4h-4zM939 297h4v4h-4zM1014 297h3v4h-3zM537 301h4v4h-4zM545 305h4v4h-4zM919 305h4v4h-4zM1128 309h4v4h-4zM557 313h3v4h-3zM915 313h4v4h-4zM1092 321h8v4h-8zM757 328h4v4h-4zM750 332h4v4h-4zM750 336h4v4h-4zM817 340h3v4h-3zM836 340h4v4h-4zM947 340h3v4h-3zM750 344h4v4h-4zM805 348h4v4h-4zM844 348h4v4h-4zM950 348h4v4h-4zM970 348h4v4h-4zM1025 348h4v4h-4zM1132 348h4v4h-4zM746 352h4v4h-4zM852 352h4v4h-4zM970 352h4v4h-4zM627 356h8v4h-8zM746 356h4v4h-4zM659 360h4v4h-4zM856 360h16v4h-16zM970 360h4v4h-4zM659 364h4v4h-4zM856 364h12v4h-12zM596 368h24v4h-24zM639 368h20v4h-20zM844 368h4v4h-4zM560 372h4v4h-4zM970 372h4v4h-4zM1136 372h4v4h-4zM466 376h4v4h-4zM541 376h4v4h-4zM970 376h4v4h-4zM470 380h4v4h-4zM521 380h4v4h-4zM954 380h4v4h-4zM1029 380h4v4h-4zM470 384h4v4h-4zM478 384h4v4h-4zM490 384h4v4h-4zM742 384h4v4h-4zM832 384h4v4h-4zM966 384h4v4h-4zM521 388h4v3h-4zM832 388h4v3h-4zM537 391h4v4h-4zM832 391h4v4h-4zM1144 391h3v4h-3zM608 395h4v4h-4zM631 395h4v4h-4zM742 395h4v4h-4zM545 403h4v4h-4zM832 403h4v4h-4zM742 407h4v4h-4zM474 411h4v4h-4zM742 415h4v4h-4zM832 415h4v4h-4z"/>
<path fill="#30698e" d="M482 112h4v4h-4zM501 112h24v4h-24zM541 112h4v4h-4zM553 112h4v4h-4zM990 112h4v4h-4zM683 116h4v4h-4zM742 116h12v4h-12zM820 116h8v4h-8zM887 116h4v4h-4zM927 116h8v4h-8zM970 116h4v4h-4zM1049 116h20v4h-20zM1092 116h8v4h-8zM1163 116h8v4h-8zM462 120h4v4h-4zM836 120h4v4h-4zM852 120h8v4h-8zM860 124h4v4h-4zM864 128h8v4h-8zM852 143h8v4h-8zM864 143h4v4h-4zM852 147h16v4h-16zM848 151h4v4h-4zM840 155h4v4h-4zM962 155h4v4h-4zM1155 155h4v4h-4zM1120 159h4v4h-4zM844 163h4v4h-4zM852 163h8v4h-8zM935 163h8v4h-8zM1053 163h4v4h-4zM1092 163h8v4h-8zM844 167h12v4h-12zM931 167h8v4h-8zM943 167h4v4h-4zM950 167h4v4h-4zM962 167h8v4h-8zM1045 167h8v4h-8zM1081 167h7v4h-7zM1092 167h8v4h-8zM1108 167h8v4h-8zM1120 167h4v4h-4zM1151 167h12v4h-12zM1171 167h8v4h-8zM927 171h4v4h-4zM947 171h3v4h-3zM1081 171h19v4h-19zM1128 171h12v4h-12zM1155 171h4v4h-4zM1171 171h4v4h-4zM809 175h4v4h-4zM923 175h4v4h-4zM1151 175h8v4h-8zM797 179h4v4h-4zM915 179h4v4h-4zM785 183h4v4h-4zM911 183h4v4h-4zM1025 183h4v4h-4zM1073 183h4v4h-4zM785 187h4v4h-4zM793 191h16v4h-16zM1021 191h4v4h-4zM1073 191h4v4h-4zM675 195h4v4h-4zM683 195h7v4h-7zM970 195h4v4h-4zM1010 195h7v4h-7zM1069 195h4v4h-4zM667 199h4v3h-4zM793 199h4v3h-4zM817 199h3v3h-3zM667 202h4v4h-4zM781 202h4v4h-4zM832 202h4v4h-4zM970 206h4v4h-4zM832 210h4v4h-4zM675 214h4v4h-4zM970 214h4v4h-4zM1002 218h4v4h-4zM970 222h4v4h-4zM998 226h4v4h-4zM462 230h4v4h-4zM683 230h4v4h-4zM781 230h4v4h-4zM675 234h4v4h-4zM781 234h4v4h-4zM781 238h4v4h-4zM549 242h4v4h-4zM580 242h8v4h-8zM663 242h4v4h-4zM994 242h4v4h-4zM1069 242h4v4h-4zM576 246h4v4h-4zM659 246h4v4h-4zM690 250h4v4h-4zM1069 250h4v4h-4zM903 254h4v4h-4zM541 258h4v4h-4zM537 262h8v3h-8zM663 262h4v3h-4zM907 262h4v3h-4zM998 262h4v3h-4zM667 265h4v4h-4zM687 265h3v4h-3zM1081 265h3v4h-3zM557 269h3v4h-3zM923 269h8v4h-8zM935 269h8v4h-8zM462 273h4v4h-4zM529 273h4v4h-4zM947 273h3v4h-3zM1002 273h4v4h-4zM1112 273h8v4h-8zM564 281h4v4h-4zM580 281h4v4h-4zM947 281h3v4h-3zM1120 281h4v4h-4zM529 285h4v4h-4zM801 285h4v4h-4zM1006 285h4v4h-4zM1124 285h4v4h-4zM462 289h4v4h-4zM533 289h4v4h-4zM801 289h4v4h-4zM1006 289h4v4h-4zM564 293h4v4h-4zM584 293h4v4h-4zM663 293h4v4h-4zM943 293h4v4h-4zM1006 293h4v4h-4zM927 297h12v4h-12zM1128 297h4v4h-4zM462 301h8v4h-8zM919 301h8v4h-8zM1128 301h4v4h-4zM1017 305h4v4h-4zM1128 305h4v4h-4zM533 309h4v4h-4zM462 313h4v4h-4zM549 313h8v4h-8zM1021 313h4v4h-4zM549 317h4v4h-4zM1096 317h8v4h-8zM1128 317h4v4h-4zM911 321h4v4h-4zM1128 321h4v4h-4zM1025 325h4v3h-4zM754 328h3v4h-3zM761 328h4v4h-4zM915 336h4v4h-4zM750 340h4v4h-4zM817 344h3v4h-3zM836 344h4v4h-4zM746 348h4v4h-4zM809 348h8v4h-8zM840 348h4v4h-4zM848 352h4v4h-4zM1132 352h4v4h-4zM852 356h4v4h-4zM627 360h8v4h-8zM631 364h8v4h-8zM852 364h4v4h-4zM836 372h4v4h-4zM1025 372h4v4h-4zM1136 376h4v4h-4zM462 380h4v4h-4zM517 380h4v4h-4zM742 380h4v4h-4zM970 380h4v4h-4zM474 384h4v4h-4zM962 384h4v4h-4zM604 395h4v4h-4zM1144 395h3v4h-3zM541 399h4v4h-4zM596 399h4v4h-4zM635 399h4v4h-4zM742 399h4v4h-4zM592 403h4v4h-4zM639 403h4v4h-4zM832 407h4v4h-4zM1151 407h4v4h-4zM832 411h4v4h-4zM1151 411h4v4h-4zM639 415h4v4h-4zM1151 415h4v4h-4zM541 419h4v5h-4zM639 419h4v5h-4z"/>
<path fill="#2f6b8e" d="M545 112h8v4h-8zM698 116h4v4h-4zM734 116h8v4h-8zM769 116h4v4h-4zM777 116h4v4h-4zM899 116h8v4h-8zM911 116h4v4h-4zM1045 116h4v4h-4zM694 120h4v4h-4zM462 124h4v4h-4zM844 124h8v4h-8zM860 128h4v4h-4zM864 139h4v4h-4zM840 143h12v4h-12zM860 143h4v4h-4zM844 147h8v4h-8zM840 151h8v4h-8zM958 155h4v4h-4zM1096 155h4v4h-4zM1151 155h4v4h-4zM1159 155h4v4h-4zM840 159h4v4h-4zM939 159h4v4h-4zM1096 159h4v4h-4zM1116 159h4v4h-4zM1124 159h8v4h-8zM1151 159h8v4h-8zM943 163h4v4h-4zM954 163h4v4h-4zM1049 163h4v4h-4zM1084 163h8v4h-8zM1100 163h8v4h-8zM1120 163h16v4h-16zM1144 163h3v4h-3zM1151 163h8v4h-8zM1163 163h8v4h-8zM840 167h4v4h-4zM927 167h4v4h-4zM947 167h3v4h-3zM1041 167h4v4h-4zM1116 167h4v4h-4zM1124 167h4v4h-4zM1132 167h19v4h-19zM923 171h4v4h-4zM1033 171h4v4h-4zM1140 171h7v4h-7zM1151 171h4v4h-4zM1175 171h4v4h-4zM797 175h4v4h-4zM813 175h4v4h-4zM919 175h4v4h-4zM1077 175h4v4h-4zM789 179h8v4h-8zM817 179h3v4h-3zM970 179h4v4h-4zM1025 179h4v4h-4zM970 183h4v4h-4zM1021 183h4v4h-4zM970 187h4v4h-4zM1073 187h4v4h-4zM789 191h4v4h-4zM907 191h4v4h-4zM970 191h4v4h-4zM903 199h4v3h-4zM970 199h4v3h-4zM1069 199h4v3h-4zM675 202h4v4h-4zM970 202h4v4h-4zM1010 202h4v4h-4zM832 206h4v4h-4zM765 210h4v4h-4zM884 214h3v4h-3zM1002 214h4v4h-4zM884 218h3v4h-3zM998 222h4v4h-4zM663 226h4v4h-4zM754 226h15v4h-15zM671 230h4v4h-4zM679 230h4v4h-4zM761 230h8v4h-8zM462 234h4v4h-4zM781 242h4v4h-4zM557 246h3v4h-3zM655 246h4v4h-4zM994 254h4v4h-4zM785 258h4v4h-4zM592 262h4v3h-4zM1073 262h4v3h-4zM572 265h4v4h-4zM911 265h4v4h-4zM462 269h4v4h-4zM667 269h4v4h-4zM797 269h4v4h-4zM919 269h4v4h-4zM931 269h4v4h-4zM1084 269h4v4h-4zM1092 269h4v4h-4zM513 273h8v4h-8zM525 273h4v4h-4zM943 273h4v4h-4zM1096 273h4v4h-4zM466 277h4v4h-4zM541 277h4v4h-4zM1104 277h16v4h-16zM462 281h4v4h-4zM560 281h4v4h-4zM801 281h4v4h-4zM1116 281h4v4h-4zM525 285h4v4h-4zM1120 285h4v4h-4zM529 289h4v4h-4zM1124 289h4v4h-4zM466 293h4v4h-4zM801 293h4v4h-4zM939 293h4v4h-4zM466 297h4v4h-4zM505 297h16v4h-16zM529 297h4v4h-4zM659 301h4v4h-4zM1014 301h3v4h-3zM462 305h4v4h-4zM541 305h4v4h-4zM915 305h4v4h-4zM663 309h4v4h-4zM915 309h4v4h-4zM545 313h4v4h-4zM584 313h4v4h-4zM1096 313h8v4h-8zM911 317h4v4h-4zM1021 317h4v4h-4zM1092 317h4v4h-4zM1104 317h8v4h-8zM1088 321h4v4h-4zM1100 321h12v4h-12zM757 325h8v3h-8zM911 325h4v3h-4zM1092 325h4v3h-4zM1128 325h4v3h-4zM750 328h4v4h-4zM765 328h4v4h-4zM832 328h4v4h-4zM1025 328h4v4h-4zM746 336h4v4h-4zM746 340h4v4h-4zM923 340h24v4h-24zM746 344h4v4h-4zM1025 344h4v4h-4zM631 352h4v4h-4zM805 352h4v4h-4zM844 352h4v4h-4zM624 356h3v4h-3zM635 356h8v4h-8zM1132 356h4v4h-4zM624 360h3v4h-3zM635 360h8v4h-8zM852 360h4v4h-4zM624 364h7v4h-7zM639 364h4v4h-4zM655 364h4v4h-4zM848 364h4v4h-4zM1021 364h4v4h-4zM592 368h4v4h-4zM840 368h4v4h-4zM462 376h4v4h-4zM470 376h4v4h-4zM1025 376h4v4h-4zM474 380h16v4h-16zM505 380h12v4h-12zM982 380h8v4h-8zM958 384h4v4h-4zM970 384h4v4h-4zM982 384h4v4h-4zM497 388h8v3h-8zM738 388h4v3h-4zM1140 388h4v3h-4zM620 395h11v4h-11zM742 403h4v4h-4zM1147 403h4v4h-4zM962 407h4v4h-4zM545 411h4v4h-4zM541 415h4v4h-4zM742 419h4v5h-4zM1147 419h4v5h-4z"/>
<path fill="#2e6d8e" d="M994 112h4v4h-4zM679 116h4v4h-4zM730 116h4v4h-4zM773 116h4v4h-4zM907 116h4v4h-4zM466 120h4v4h-4zM690 120h4v4h-4zM813 120h4v4h-4zM832 120h4v4h-4zM950 120h4v4h-4zM962 120h8v4h-8zM1132 120h4v4h-4zM466 124h4v4h-4zM840 124h4v4h-4zM856 124h4v4h-4zM462 128h4v4h-4zM848 128h4v4h-4zM856 128h4v4h-4zM462 132h4v4h-4zM848 139h16v4h-16zM868 139h4v4h-4zM801 143h8v4h-8zM801 147h8v4h-8zM840 147h4v4h-4zM805 151h4v4h-4zM954 151h12v4h-12zM1096 151h8v4h-8zM1151 151h12v4h-12zM462 155h4v4h-4zM805 155h8v4h-8zM836 155h4v4h-4zM939 155h4v4h-4zM954 155h4v4h-4zM966 155h4v4h-4zM1100 155h4v4h-4zM1116 155h12v4h-12zM935 159h4v4h-4zM958 159h8v4h-8zM1041 159h4v4h-4zM1053 159h12v4h-12zM1092 159h4v4h-4zM1112 159h4v4h-4zM1159 159h4v4h-4zM1175 159h4v4h-4zM931 163h4v4h-4zM947 163h7v4h-7zM958 163h4v4h-4zM1045 163h4v4h-4zM1081 163h3v4h-3zM1108 163h12v4h-12zM1136 163h8v4h-8zM1147 163h4v4h-4zM1159 163h4v4h-4zM1171 163h8v4h-8zM919 167h8v4h-8zM1077 167h4v4h-4zM1128 167h4v4h-4zM805 171h4v4h-4zM919 171h4v4h-4zM1077 171h4v4h-4zM1147 171h4v4h-4zM789 175h8v4h-8zM915 175h4v4h-4zM970 175h4v4h-4zM1073 175h4v4h-4zM785 179h4v4h-4zM911 179h4v4h-4zM1073 179h4v4h-4zM781 183h4v4h-4zM907 187h4v4h-4zM817 191h3v4h-3zM1017 191h4v4h-4zM671 195h4v4h-4zM797 195h16v4h-16zM903 195h4v4h-4zM1017 195h4v4h-4zM663 199h4v3h-4zM789 199h4v3h-4zM1006 199h4v3h-4zM663 202h4v4h-4zM765 206h4v4h-4zM1010 206h4v4h-4zM1006 210h4v4h-4zM694 214h4v4h-4zM754 214h15v4h-15zM998 214h4v4h-4zM750 218h4v4h-4zM998 218h4v4h-4zM663 222h4v4h-4zM750 222h19v4h-19zM884 222h3v4h-3zM994 222h4v4h-4zM462 226h4v4h-4zM659 226h4v4h-4zM750 226h4v4h-4zM675 230h4v4h-4zM694 230h4v4h-4zM750 230h11v4h-11zM683 234h4v4h-4zM750 234h4v4h-4zM765 234h4v4h-4zM462 238h4v4h-4zM754 238h7v4h-7zM462 242h4v4h-4zM545 242h4v4h-4zM549 246h8v4h-8zM580 246h8v4h-8zM994 246h4v4h-4zM667 250h4v4h-4zM687 250h3v4h-3zM994 250h4v4h-4zM1069 254h4v4h-4zM525 258h4v4h-4zM537 258h4v4h-4zM903 258h4v4h-4zM994 258h4v4h-4zM525 262h12v3h-12zM903 262h4v3h-4zM462 265h8v4h-8zM580 265h4v4h-4zM789 265h4v4h-4zM907 265h4v4h-4zM998 265h4v4h-4zM1077 265h4v4h-4zM466 269h4v4h-4zM553 269h4v4h-4zM584 269h4v4h-4zM915 269h4v4h-4zM1081 269h3v4h-3zM1088 269h4v4h-4zM466 273h4v4h-4zM509 273h4v4h-4zM521 273h4v4h-4zM592 273h4v4h-4zM537 277h4v4h-4zM592 277h4v4h-4zM659 277h4v4h-4zM947 277h3v4h-3zM1002 277h4v4h-4zM1100 277h4v4h-4zM466 281h4v4h-4zM557 281h3v4h-3zM1112 281h4v4h-4zM462 285h4v4h-4zM517 285h8v4h-8zM943 285h4v4h-4zM1116 285h4v4h-4zM466 289h4v4h-4zM525 289h4v4h-4zM659 289h4v4h-4zM943 289h4v4h-4zM560 293h4v4h-4zM659 293h4v4h-4zM935 293h4v4h-4zM501 297h4v4h-4zM521 297h4v4h-4zM592 297h4v4h-4zM663 297h4v4h-4zM801 297h4v4h-4zM919 297h8v4h-8zM1010 297h4v4h-4zM533 301h4v4h-4zM592 301h4v4h-4zM915 301h4v4h-4zM466 305h4v4h-4zM537 305h4v4h-4zM801 305h4v4h-4zM521 309h12v4h-12zM592 309h4v4h-4zM801 309h4v4h-4zM1017 309h4v4h-4zM466 313h4v4h-4zM663 313h4v4h-4zM1092 313h4v4h-4zM1104 313h4v4h-4zM545 317h4v4h-4zM560 321h8v4h-8zM576 321h8v4h-8zM1084 321h4v4h-4zM1112 321h4v4h-4zM754 325h3v3h-3zM765 325h4v3h-4zM1088 325h4v3h-4zM1096 325h4v3h-4zM911 328h4v4h-4zM746 332h4v4h-4zM911 332h4v4h-4zM919 340h4v4h-4zM663 344h4v4h-4zM817 348h3v4h-3zM836 348h4v4h-4zM627 352h4v4h-4zM635 352h8v4h-8zM809 352h8v4h-8zM840 352h4v4h-4zM620 356h4v4h-4zM643 356h4v4h-4zM659 356h4v4h-4zM844 356h8v4h-8zM620 360h4v4h-4zM643 360h4v4h-4zM620 364h4v4h-4zM643 364h8v4h-8zM840 364h8v4h-8zM970 364h4v4h-4zM970 368h4v4h-4zM1021 368h4v4h-4zM466 372h4v4h-4zM557 372h3v4h-3zM537 376h4v4h-4zM742 376h4v4h-4zM982 376h8v4h-8zM490 380h15v4h-15zM738 380h4v4h-4zM832 380h4v4h-4zM990 380h4v4h-4zM1136 380h4v4h-4zM738 384h4v4h-4zM954 384h4v4h-4zM986 384h4v4h-4zM1029 384h4v4h-4zM474 388h4v3h-4zM505 388h4v3h-4zM517 388h4v3h-4zM958 388h12v3h-12zM982 388h4v3h-4zM533 391h4v4h-4zM738 391h4v4h-4zM537 395h4v4h-4zM738 395h4v4h-4zM612 399h8v4h-8zM1144 399h3v4h-3zM541 403h4v4h-4zM545 407h4v4h-4zM958 407h4v4h-4zM966 407h4v4h-4zM958 411h8v4h-8z"/>
<path fill="#2e6f8e" d="M474 116h4v4h-4zM718 116h12v4h-12zM891 116h8v4h-8zM1041 116h4v4h-4zM789 120h4v4h-4zM809 120h4v4h-4zM817 120h3v4h-3zM919 120h4v4h-4zM947 120h3v4h-3zM954 120h4v4h-4zM1108 120h8v4h-8zM1128 120h4v4h-4zM1136 120h8v4h-8zM1151 120h8v4h-8zM813 124h4v4h-4zM836 124h4v4h-4zM852 124h4v4h-4zM1128 124h8v4h-8zM844 128h4v4h-4zM852 128h4v4h-4zM1073 128h4v4h-4zM1128 128h8v4h-8zM958 132h8v4h-8zM864 136h8v3h-8zM962 136h8v3h-8zM840 139h8v4h-8zM797 143h4v4h-4zM836 143h4v4h-4zM462 147h4v4h-4zM797 147h4v4h-4zM809 147h4v4h-4zM1100 147h4v4h-4zM1151 147h8v4h-8zM462 151h8v4h-8zM801 151h4v4h-4zM809 151h4v4h-4zM836 151h4v4h-4zM1104 151h4v4h-4zM1128 151h8v4h-8zM1163 151h4v4h-4zM466 155h4v4h-4zM801 155h4v4h-4zM935 155h4v4h-4zM1045 155h4v4h-4zM1092 155h4v4h-4zM1104 155h4v4h-4zM1112 155h4v4h-4zM1128 155h4v4h-4zM1147 155h4v4h-4zM836 159h4v4h-4zM931 159h4v4h-4zM943 159h4v4h-4zM954 159h4v4h-4zM966 159h4v4h-4zM1045 159h8v4h-8zM1084 159h8v4h-8zM1100 159h12v4h-12zM1132 159h4v4h-4zM1147 159h4v4h-4zM1163 159h12v4h-12zM840 163h4v4h-4zM919 163h12v4h-12zM962 163h8v4h-8zM1041 163h4v4h-4zM1077 163h4v4h-4zM836 167h4v4h-4zM1037 167h4v4h-4zM801 171h4v4h-4zM809 171h4v4h-4zM970 171h4v4h-4zM1029 171h4v4h-4zM1073 171h4v4h-4zM817 175h3v4h-3zM907 183h4v4h-4zM781 187h4v4h-4zM832 187h4v4h-4zM1021 187h4v4h-4zM679 191h4v4h-4zM694 191h4v4h-4zM785 191h4v4h-4zM1069 191h4v4h-4zM793 195h4v4h-4zM813 195h4v4h-4zM659 199h4v3h-4zM785 199h4v3h-4zM832 199h4v3h-4zM1014 199h3v3h-3zM655 202h8v4h-8zM754 206h7v4h-7zM750 210h15v4h-15zM884 210h3v4h-3zM998 210h4v4h-4zM683 214h4v4h-4zM750 214h4v4h-4zM462 218h4v4h-4zM667 218h4v4h-4zM746 218h4v4h-4zM754 218h15v4h-15zM462 222h4v4h-4zM655 226h4v4h-4zM884 226h3v4h-3zM466 230h4v4h-4zM659 230h12v4h-12zM994 230h4v4h-4zM466 234h4v4h-4zM671 234h4v4h-4zM754 234h11v4h-11zM466 238h4v4h-4zM667 238h4v4h-4zM750 238h4v4h-4zM761 238h8v4h-8zM884 238h3v4h-3zM990 238h4v4h-4zM466 242h4v4h-4zM537 242h8v4h-8zM588 242h4v4h-4zM757 242h12v4h-12zM884 242h3v4h-3zM462 246h4v4h-4zM651 246h4v4h-4zM781 246h4v4h-4zM462 250h4v4h-4zM659 250h4v4h-4zM667 254h4v4h-4zM529 258h8v4h-8zM1069 258h4v4h-4zM521 262h4v3h-4zM659 262h4v3h-4zM994 262h4v3h-4zM663 265h4v4h-4zM793 269h4v4h-4zM998 269h4v4h-4zM1077 269h4v4h-4zM505 273h4v4h-4zM935 273h8v4h-8zM1084 273h4v4h-4zM1092 273h4v4h-4zM533 277h4v4h-4zM553 281h4v4h-4zM1002 281h4v4h-4zM1108 281h4v4h-4zM466 285h4v4h-4zM509 285h8v4h-8zM939 285h4v4h-4zM1112 285h4v4h-4zM935 289h8v4h-8zM1002 289h4v4h-4zM1112 289h12v4h-12zM557 293h3v4h-3zM588 293h4v4h-4zM927 293h8v4h-8zM1002 293h4v4h-4zM1124 293h4v4h-4zM470 297h4v4h-4zM525 297h4v4h-4zM915 297h4v4h-4zM470 301h4v4h-4zM529 301h4v4h-4zM801 301h4v4h-4zM588 305h4v4h-4zM1124 305h4v4h-4zM513 309h8v4h-8zM828 309h4v4h-4zM1084 309h8v4h-8zM1108 309h4v4h-4zM1124 309h4v4h-4zM541 313h4v4h-4zM801 313h4v4h-4zM828 313h4v4h-4zM911 313h4v4h-4zM1088 313h4v4h-4zM1108 313h4v4h-4zM1124 313h4v4h-4zM462 317h4v4h-4zM588 317h4v4h-4zM757 317h8v4h-8zM1077 317h7v4h-7zM1088 317h4v4h-4zM1112 317h4v4h-4zM557 321h3v4h-3zM568 321h4v4h-4zM757 321h12v4h-12zM1081 321h3v4h-3zM557 325h11v3h-11zM576 325h8v3h-8zM1128 328h4v4h-4zM1025 332h4v4h-4zM1128 332h4v4h-4zM1128 336h4v4h-4zM1025 340h4v4h-4zM817 352h3v4h-3zM805 356h12v4h-12zM840 356h4v4h-4zM655 360h4v4h-4zM840 360h12v4h-12zM1021 360h4v4h-4zM1132 360h4v4h-4zM600 364h8v4h-8zM651 364h4v4h-4zM462 372h4v4h-4zM742 372h4v4h-4zM1021 372h4v4h-4zM529 376h8v4h-8zM990 376h4v4h-4zM734 380h4v4h-4zM994 380h4v4h-4zM1025 380h4v4h-4zM978 384h4v4h-4zM990 384h4v4h-4zM478 388h12v3h-12zM494 388h3v3h-3zM509 388h8v3h-8zM986 388h4v3h-4zM958 391h12v4h-12zM966 395h4v4h-4zM537 399h4v4h-4zM600 399h4v4h-4zM608 399h4v4h-4zM738 399h4v4h-4zM962 403h8v4h-8zM474 407h4v4h-4zM592 407h4v4h-4zM639 407h4v4h-4zM738 407h4v4h-4zM1147 407h4v4h-4zM639 411h4v4h-4zM738 411h4v4h-4zM966 411h4v4h-4zM738 415h4v4h-4zM1147 415h4v4h-4zM537 419h4v5h-4zM738 419h4v5h-4z"/>
<path fill="#2d718e" d="M998 112h4v4h-4zM675 116h4v4h-4zM702 116h16v4h-16zM470 120h4v4h-4zM687 120h3v4h-3zM785 120h4v4h-4zM793 120h16v4h-16zM880 120h4v4h-4zM915 120h4v4h-4zM939 120h8v4h-8zM958 120h4v4h-4zM970 120h4v4h-4zM1073 120h4v4h-4zM1104 120h4v4h-4zM1116 120h12v4h-12zM1144 120h7v4h-7zM1159 120h4v4h-4zM785 124h8v4h-8zM817 124h3v4h-3zM919 124h4v4h-4zM950 124h4v4h-4zM1073 124h4v4h-4zM1104 124h24v4h-24zM1136 124h4v4h-4zM466 128h4v4h-4zM840 128h4v4h-4zM1069 128h4v4h-4zM1077 128h7v4h-7zM1108 128h20v4h-20zM1136 128h4v4h-4zM1159 128h8v4h-8zM466 132h4v4h-4zM852 132h20v4h-20zM954 132h4v4h-4zM966 132h4v4h-4zM462 136h4v3h-4zM852 136h12v3h-12zM958 136h4v3h-4zM954 139h4v4h-4zM1092 139h20v4h-20zM462 143h8v4h-8zM694 143h4v4h-4zM789 143h8v4h-8zM809 143h8v4h-8zM1073 143h4v4h-4zM1081 143h31v4h-31zM466 147h4v4h-4zM789 147h8v4h-8zM813 147h4v4h-4zM836 147h4v4h-4zM954 147h12v4h-12zM1053 147h4v4h-4zM1081 147h11v4h-11zM1096 147h4v4h-4zM1104 147h4v4h-4zM1128 147h12v4h-12zM1159 147h12v4h-12zM813 151h4v4h-4zM931 151h12v4h-12zM966 151h4v4h-4zM1092 151h4v4h-4zM1108 151h12v4h-12zM1124 151h4v4h-4zM1136 151h8v4h-8zM1147 151h4v4h-4zM813 155h4v4h-4zM931 155h4v4h-4zM943 155h4v4h-4zM1049 155h16v4h-16zM1088 155h4v4h-4zM1108 155h4v4h-4zM1132 155h4v4h-4zM1163 155h4v4h-4zM462 159h4v4h-4zM923 159h8v4h-8zM950 159h4v4h-4zM1081 159h3v4h-3zM1136 159h11v4h-11zM462 163h4v4h-4zM1037 163h4v4h-4zM1073 163h4v4h-4zM462 167h8v4h-8zM1073 167h4v4h-4zM813 171h4v4h-4zM915 171h4v4h-4zM694 175h4v4h-4zM911 175h4v4h-4zM1025 175h4v4h-4zM1069 175h4v4h-4zM781 179h4v4h-4zM907 179h4v4h-4zM1021 179h4v4h-4zM1069 179h4v4h-4zM1017 183h4v4h-4zM1069 183h4v4h-4zM1069 187h4v4h-4zM462 191h4v4h-4zM903 191h4v4h-4zM462 195h4v4h-4zM884 199h3v3h-3zM462 202h4v4h-4zM651 202h4v4h-4zM679 202h4v4h-4zM884 202h3v4h-3zM1002 202h4v4h-4zM694 206h4v4h-4zM750 206h4v4h-4zM761 206h4v4h-4zM462 210h8v4h-8zM679 210h4v4h-4zM462 214h4v4h-4zM671 214h4v4h-4zM690 214h4v4h-4zM746 214h4v4h-4zM880 214h4v4h-4zM880 218h4v4h-4zM994 218h4v4h-4zM576 222h8v4h-8zM466 226h4v4h-4zM994 226h4v4h-4zM1065 226h4v4h-4zM651 230h8v4h-8zM690 230h4v4h-4zM1065 230h4v4h-4zM746 234h4v4h-4zM884 234h3v4h-3zM990 234h4v4h-4zM529 242h8v4h-8zM659 242h4v4h-4zM750 242h7v4h-7zM466 246h4v4h-4zM545 246h4v4h-4zM588 246h4v4h-4zM761 246h8v4h-8zM466 250h4v4h-4zM651 250h8v4h-8zM754 250h7v4h-7zM781 250h4v4h-4zM462 254h8v4h-8zM572 254h4v4h-4zM521 258h4v4h-4zM592 258h4v4h-4zM663 258h4v4h-4zM828 258h4v4h-4zM462 262h8v3h-8zM785 262h4v3h-4zM568 265h4v4h-4zM584 265h4v4h-4zM659 265h4v4h-4zM828 265h4v4h-4zM903 265h4v4h-4zM1073 265h4v4h-4zM549 269h4v4h-4zM828 269h4v4h-4zM911 269h4v4h-4zM663 273h4v4h-4zM797 273h4v4h-4zM923 273h12v4h-12zM1081 273h3v4h-3zM1088 273h4v4h-4zM943 277h4v4h-4zM1088 277h4v4h-4zM1096 277h4v4h-4zM549 281h4v4h-4zM584 281h4v4h-4zM663 281h4v4h-4zM943 281h4v4h-4zM1104 281h4v4h-4zM505 285h4v4h-4zM592 285h4v4h-4zM923 285h8v4h-8zM935 285h4v4h-4zM1002 285h4v4h-4zM1108 285h4v4h-4zM505 289h8v4h-8zM521 289h4v4h-4zM596 289h4v4h-4zM828 289h4v4h-4zM923 289h12v4h-12zM1108 289h4v4h-4zM470 293h4v4h-4zM828 293h4v4h-4zM919 293h8v4h-8zM497 297h4v4h-4zM1124 297h4v4h-4zM517 301h4v4h-4zM820 301h4v4h-4zM1124 301h4v4h-4zM470 305h4v4h-4zM533 305h4v4h-4zM820 305h4v4h-4zM828 305h4v4h-4zM911 305h4v4h-4zM1014 305h3v4h-3zM1084 305h8v4h-8zM1120 305h4v4h-4zM462 309h8v4h-8zM509 309h4v4h-4zM754 309h3v4h-3zM820 309h4v4h-4zM911 309h4v4h-4zM1081 309h3v4h-3zM1092 309h16v4h-16zM1112 309h12v4h-12zM659 313h4v4h-4zM820 313h4v4h-4zM1017 313h4v4h-4zM1084 313h4v4h-4zM1112 313h4v4h-4zM765 317h4v4h-4zM801 317h4v4h-4zM828 317h4v4h-4zM1073 317h4v4h-4zM1084 317h4v4h-4zM1124 317h4v4h-4zM572 321h4v4h-4zM584 321h4v4h-4zM663 321h4v4h-4zM754 321h3v4h-3zM1021 321h4v4h-4zM1077 321h4v4h-4zM1116 321h4v4h-4zM1124 321h4v4h-4zM553 325h4v3h-4zM568 325h4v3h-4zM750 325h4v3h-4zM801 325h4v3h-4zM1084 325h4v3h-4zM1100 325h16v3h-16zM746 328h4v4h-4zM1092 328h4v4h-4zM911 336h4v4h-4zM1025 336h4v4h-4zM663 340h4v4h-4zM947 344h3v4h-3zM631 348h8v4h-8zM624 352h3v4h-3zM643 352h4v4h-4zM659 352h4v4h-4zM836 352h4v4h-4zM950 352h4v4h-4zM647 356h4v4h-4zM817 356h3v4h-3zM612 360h8v4h-8zM647 360h8v4h-8zM809 360h8v4h-8zM592 364h8v4h-8zM608 364h12v4h-12zM809 364h4v4h-4zM836 364h4v4h-4zM588 368h4v4h-4zM836 368h4v4h-4zM994 376h4v4h-4zM1021 376h4v4h-4zM978 380h4v4h-4zM734 384h4v4h-4zM490 388h4v3h-4zM734 388h4v3h-4zM954 388h4v3h-4zM970 388h4v3h-4zM474 391h4v4h-4zM529 391h4v4h-4zM734 391h4v4h-4zM734 395h4v4h-4zM958 395h8v4h-8zM1029 395h4v4h-4zM604 399h4v4h-4zM620 399h4v4h-4zM631 399h4v4h-4zM734 399h4v4h-4zM962 399h8v4h-8zM635 403h4v4h-4zM738 403h4v4h-4zM958 403h4v4h-4zM1144 403h3v4h-3zM734 407h4v4h-4zM954 407h4v4h-4zM541 411h4v4h-4zM592 411h4v4h-4zM954 411h4v4h-4zM1147 411h4v4h-4zM592 415h4v4h-4zM958 415h12v4h-12zM592 419h4v5h-4zM730 419h8v5h-8zM1144 419h3v5h-3z"/>
<path fill="#2c728e" d="M490 116h4v4h-4zM568 116h12v4h-12zM671 116h4v4h-4zM757 120h12v4h-12zM781 120h4v4h-4zM828 120h4v4h-4zM872 120h8v4h-8zM884 120h3v4h-3zM923 120h4v4h-4zM935 120h4v4h-4zM1069 120h4v4h-4zM1077 120h15v4h-15zM1100 120h4v4h-4zM1163 120h4v4h-4zM1175 120h4v4h-4zM694 124h4v4h-4zM793 124h12v4h-12zM809 124h4v4h-4zM923 124h4v4h-4zM935 124h8v4h-8zM947 124h3v4h-3zM954 124h4v4h-4zM1069 124h4v4h-4zM1077 124h11v4h-11zM1096 124h8v4h-8zM1151 124h16v4h-16zM1171 124h4v4h-4zM789 128h12v4h-12zM813 128h4v4h-4zM927 128h16v4h-16zM954 128h16v4h-16zM1061 128h4v4h-4zM1084 128h4v4h-4zM1096 128h12v4h-12zM1140 128h4v4h-4zM1155 128h4v4h-4zM1167 128h8v4h-8zM848 132h4v4h-4zM466 136h4v3h-4zM923 136h4v3h-4zM954 136h4v3h-4zM694 139h4v4h-4zM836 139h4v4h-4zM923 139h4v4h-4zM958 139h8v4h-8zM1053 139h4v4h-4zM1112 139h12v4h-12zM923 143h4v4h-4zM954 143h12v4h-12zM1049 143h16v4h-16zM1069 143h4v4h-4zM1077 143h4v4h-4zM1120 143h4v4h-4zM1132 143h4v4h-4zM1147 143h8v4h-8zM1175 143h4v4h-4zM927 147h8v4h-8zM943 147h4v4h-4zM966 147h4v4h-4zM1045 147h8v4h-8zM1057 147h8v4h-8zM1092 147h4v4h-4zM1108 147h4v4h-4zM1124 147h4v4h-4zM1140 147h4v4h-4zM1147 147h4v4h-4zM1171 147h8v4h-8zM789 151h12v4h-12zM817 151h3v4h-3zM927 151h4v4h-4zM943 151h4v4h-4zM950 151h4v4h-4zM1045 151h16v4h-16zM1081 151h11v4h-11zM1120 151h4v4h-4zM1144 151h3v4h-3zM1167 151h4v4h-4zM793 155h8v4h-8zM923 155h8v4h-8zM950 155h4v4h-4zM970 155h4v4h-4zM1041 155h4v4h-4zM1084 155h4v4h-4zM1144 155h3v4h-3zM1167 155h12v4h-12zM466 159h4v4h-4zM801 159h12v4h-12zM919 159h4v4h-4zM947 159h3v4h-3zM970 159h4v4h-4zM1037 159h4v4h-4zM1077 159h4v4h-4zM466 163h4v4h-4zM836 163h4v4h-4zM915 167h4v4h-4zM970 167h4v4h-4zM462 171h4v4h-4zM694 171h4v4h-4zM789 171h12v4h-12zM1069 171h4v4h-4zM462 175h4v4h-4zM690 175h4v4h-4zM785 175h4v4h-4zM462 183h4v4h-4zM832 183h4v4h-4zM903 187h4v4h-4zM1006 187h4v4h-4zM690 191h4v4h-4zM832 191h4v4h-4zM1002 191h4v4h-4zM466 195h4v4h-4zM667 195h4v4h-4zM789 195h4v4h-4zM817 195h3v4h-3zM462 199h4v3h-4zM655 199h4v3h-4zM781 199h4v3h-4zM880 199h4v3h-4zM466 202h4v4h-4zM647 202h4v4h-4zM754 202h7v4h-7zM880 202h4v4h-4zM462 206h8v4h-8zM683 206h4v4h-4zM746 210h4v4h-4zM880 210h4v4h-4zM466 214h4v4h-4zM687 214h3v4h-3zM560 222h16v4h-16zM659 222h4v4h-4zM880 222h4v4h-4zM1065 222h4v4h-4zM580 226h4v4h-4zM651 226h4v4h-4zM880 226h4v4h-4zM647 230h4v4h-4zM687 230h3v4h-3zM884 230h3v4h-3zM1065 234h4v4h-4zM564 238h16v4h-16zM746 238h4v4h-4zM828 238h4v4h-4zM880 238h4v4h-4zM525 242h4v4h-4zM828 242h4v4h-4zM990 242h4v4h-4zM529 246h4v4h-4zM647 246h4v4h-4zM750 246h11v4h-11zM884 246h3v4h-3zM647 250h4v4h-4zM663 250h4v4h-4zM761 250h8v4h-8zM568 254h4v4h-4zM576 254h4v4h-4zM761 254h8v4h-8zM828 254h4v4h-4zM462 258h8v4h-8zM509 258h12v4h-12zM517 262h4v3h-4zM828 262h4v3h-4zM1069 262h4v3h-4zM564 265h4v4h-4zM994 265h4v4h-4zM545 269h4v4h-4zM907 269h4v4h-4zM1073 269h4v4h-4zM501 273h4v4h-4zM828 273h4v4h-4zM919 273h4v4h-4zM998 273h4v4h-4zM517 277h4v4h-4zM529 277h4v4h-4zM596 277h4v4h-4zM935 277h8v4h-8zM998 277h4v4h-4zM1084 277h4v4h-4zM1092 277h4v4h-4zM659 281h4v4h-4zM927 281h4v4h-4zM935 281h8v4h-8zM1100 281h4v4h-4zM501 285h4v4h-4zM663 285h4v4h-4zM931 285h4v4h-4zM501 289h4v4h-4zM513 289h8v4h-8zM919 289h4v4h-4zM553 293h4v4h-4zM655 293h4v4h-4zM915 293h4v4h-4zM1120 293h4v4h-4zM494 297h3v4h-3zM828 297h4v4h-4zM1006 297h4v4h-4zM509 301h8v4h-8zM521 301h8v4h-8zM655 301h4v4h-4zM828 301h4v4h-4zM911 301h4v4h-4zM1010 301h4v4h-4zM1120 301h4v4h-4zM659 305h8v4h-8zM824 305h4v4h-4zM1081 305h3v4h-3zM1092 305h4v4h-4zM1116 305h4v4h-4zM505 309h4v4h-4zM757 309h4v4h-4zM824 309h4v4h-4zM1077 309h4v4h-4zM470 313h4v4h-4zM537 313h4v4h-4zM588 313h4v4h-4zM757 313h12v4h-12zM824 313h4v4h-4zM1077 313h7v4h-7zM1120 313h4v4h-4zM466 317h4v4h-4zM541 317h4v4h-4zM820 317h4v4h-4zM907 317h4v4h-4zM1116 317h4v4h-4zM462 321h8v4h-8zM553 321h4v4h-4zM750 321h4v4h-4zM801 321h4v4h-4zM907 321h4v4h-4zM1073 321h4v4h-4zM1120 321h4v4h-4zM462 325h4v3h-4zM572 325h4v3h-4zM584 325h4v3h-4zM1116 325h4v3h-4zM1124 325h4v3h-4zM560 328h4v4h-4zM663 328h4v4h-4zM801 328h4v4h-4zM1088 328h4v4h-4zM1096 328h4v4h-4zM832 332h4v4h-4zM832 340h4v4h-4zM915 340h4v4h-4zM1128 340h4v4h-4zM631 344h8v4h-8zM627 348h4v4h-4zM639 348h4v4h-4zM659 348h4v4h-4zM616 356h4v4h-4zM836 356h4v4h-4zM1021 356h4v4h-4zM592 360h4v4h-4zM604 360h8v4h-8zM805 360h4v4h-4zM836 360h4v4h-4zM588 364h4v4h-4zM742 364h4v4h-4zM805 364h4v4h-4zM1132 364h4v4h-4zM576 368h12v4h-12zM742 368h4v4h-4zM470 372h4v4h-4zM553 372h4v4h-4zM474 376h4v4h-4zM482 376h4v4h-4zM525 376h4v4h-4zM832 376h4v4h-4zM978 376h4v4h-4zM730 380h4v4h-4zM1021 380h4v4h-4zM994 384h4v4h-4zM1025 384h4v4h-4zM978 388h4v3h-4zM990 388h4v3h-4zM1029 388h4v3h-4zM970 391h4v4h-4zM982 391h4v4h-4zM1029 391h4v4h-4zM1140 391h4v4h-4zM474 395h4v4h-4zM970 395h4v4h-4zM624 399h7v4h-7zM958 399h4v4h-4zM1029 399h4v4h-4zM474 403h4v4h-4zM730 403h8v4h-8zM970 403h4v4h-4zM1029 403h4v4h-4zM541 407h4v4h-4zM730 407h4v4h-4zM970 407h4v4h-4zM1029 407h4v4h-4zM1144 407h3v4h-3zM730 411h8v4h-8zM970 411h4v4h-4zM1144 411h3v4h-3zM537 415h4v4h-4zM730 415h8v4h-8zM1144 415h3v4h-3zM478 419h4v5h-4zM722 419h8v5h-8zM828 419h4v5h-4zM958 419h12v5h-12z"/>
<path fill="#2b748e" d="M1002 112h4v4h-4zM494 116h3v4h-3zM517 116h4v4h-4zM533 116h4v4h-4zM560 116h8v4h-8zM580 116h8v4h-8zM596 116h8v4h-8zM612 116h19v4h-19zM635 116h8v4h-8zM659 116h12v4h-12zM974 116h8v4h-8zM698 120h4v4h-4zM754 120h3v4h-3zM927 120h8v4h-8zM1057 120h8v4h-8zM1092 120h8v4h-8zM1167 120h8v4h-8zM470 124h4v4h-4zM690 124h4v4h-4zM781 124h4v4h-4zM805 124h4v4h-4zM832 124h4v4h-4zM876 124h4v4h-4zM915 124h4v4h-4zM931 124h4v4h-4zM943 124h4v4h-4zM958 124h12v4h-12zM1061 124h4v4h-4zM1088 124h8v4h-8zM1140 124h4v4h-4zM1167 124h4v4h-4zM1175 124h4v4h-4zM785 128h4v4h-4zM801 128h12v4h-12zM836 128h4v4h-4zM919 128h8v4h-8zM943 128h4v4h-4zM1057 128h4v4h-4zM1088 128h8v4h-8zM1144 128h11v4h-11zM1175 128h4v4h-4zM840 132h8v4h-8zM923 132h20v4h-20zM1053 132h4v4h-4zM1081 132h7v4h-7zM1108 132h4v4h-4zM1120 132h4v4h-4zM1132 132h4v4h-4zM840 136h12v3h-12zM919 136h4v3h-4zM939 136h4v3h-4zM970 136h4v3h-4zM1049 136h8v3h-8zM1104 136h8v3h-8zM1175 136h4v3h-4zM462 139h8v4h-8zM805 139h8v4h-8zM927 139h4v4h-4zM939 139h8v4h-8zM950 139h4v4h-4zM966 139h4v4h-4zM1049 139h4v4h-4zM1057 139h4v4h-4zM1073 139h19v4h-19zM1124 139h16v4h-16zM1147 139h12v4h-12zM1171 139h8v4h-8zM690 143h4v4h-4zM785 143h4v4h-4zM919 143h4v4h-4zM927 143h4v4h-4zM939 143h8v4h-8zM966 143h4v4h-4zM1045 143h4v4h-4zM1112 143h8v4h-8zM1124 143h8v4h-8zM1136 143h11v4h-11zM1155 143h20v4h-20zM785 147h4v4h-4zM817 147h3v4h-3zM923 147h4v4h-4zM935 147h8v4h-8zM950 147h4v4h-4zM1073 147h8v4h-8zM1112 147h4v4h-4zM1120 147h4v4h-4zM1144 147h3v4h-3zM923 151h4v4h-4zM1041 151h4v4h-4zM1061 151h4v4h-4zM1077 151h4v4h-4zM1171 151h8v4h-8zM789 155h4v4h-4zM817 155h3v4h-3zM919 155h4v4h-4zM947 155h3v4h-3zM1077 155h7v4h-7zM1136 155h8v4h-8zM789 159h4v4h-4zM797 159h4v4h-4zM813 159h4v4h-4zM1073 159h4v4h-4zM915 163h4v4h-4zM970 163h4v4h-4zM1033 167h4v4h-4zM1069 167h4v4h-4zM466 171h4v4h-4zM687 171h7v4h-7zM817 171h3v4h-3zM907 175h4v4h-4zM462 179h8v4h-8zM761 179h8v4h-8zM750 183h7v4h-7zM765 183h4v4h-4zM884 183h3v4h-3zM903 183h4v4h-4zM462 187h4v4h-4zM1014 187h3v4h-3zM466 191h4v4h-4zM675 191h4v4h-4zM683 191h7v4h-7zM884 191h3v4h-3zM832 195h4v4h-4zM884 195h3v4h-3zM1065 195h4v4h-4zM651 199h4v3h-4zM643 202h4v4h-4zM761 202h8v4h-8zM671 206h4v4h-4zM690 206h4v4h-4zM998 206h4v4h-4zM1065 206h4v4h-4zM466 218h4v4h-4zM466 222h4v4h-4zM553 222h7v4h-7zM584 222h4v4h-4zM828 222h4v4h-4zM990 222h4v4h-4zM576 226h4v4h-4zM828 226h4v4h-4zM643 230h4v4h-4zM880 230h4v4h-4zM990 230h4v4h-4zM694 234h4v4h-4zM828 234h4v4h-4zM880 234h4v4h-4zM557 238h7v4h-7zM580 238h4v4h-4zM517 242h8v4h-8zM592 242h4v4h-4zM746 242h4v4h-4zM880 242h4v4h-4zM525 246h4v4h-4zM533 246h4v4h-4zM828 246h4v4h-4zM990 246h4v4h-4zM750 250h4v4h-4zM828 250h4v4h-4zM884 250h3v4h-3zM750 254h4v4h-4zM757 254h4v4h-4zM761 258h8v4h-8zM501 262h16v3h-16zM596 262h4v3h-4zM655 262h4v3h-4zM761 262h8v3h-8zM990 262h4v3h-4zM560 265h4v4h-4zM588 265h4v4h-4zM655 265h4v4h-4zM541 269h4v4h-4zM789 269h4v4h-4zM903 269h4v4h-4zM497 273h4v4h-4zM915 273h4v4h-4zM1077 273h4v4h-4zM513 277h4v4h-4zM521 277h4v4h-4zM828 277h4v4h-4zM923 277h4v4h-4zM931 277h4v4h-4zM1081 277h3v4h-3zM545 281h4v4h-4zM923 281h4v4h-4zM931 281h4v4h-4zM998 281h4v4h-4zM1084 281h16v4h-16zM494 285h7v4h-7zM919 285h4v4h-4zM1104 285h4v4h-4zM470 289h4v4h-4zM497 289h4v4h-4zM915 289h4v4h-4zM1092 289h4v4h-4zM820 293h8v4h-8zM1112 293h8v4h-8zM820 297h4v4h-4zM911 297h4v4h-4zM1120 297h4v4h-4zM505 301h4v4h-4zM824 301h4v4h-4zM1081 301h11v4h-11zM529 305h4v4h-4zM655 305h4v4h-4zM754 305h15v4h-15zM1077 305h4v4h-4zM1100 305h16v4h-16zM470 309h4v4h-4zM501 309h4v4h-4zM761 309h8v4h-8zM907 309h4v4h-4zM754 313h3v4h-3zM907 313h4v4h-4zM1073 313h4v4h-4zM1116 313h4v4h-4zM750 317h7v4h-7zM824 317h4v4h-4zM1120 317h4v4h-4zM549 321h4v4h-4zM588 321h4v4h-4zM746 321h4v4h-4zM466 325h4v3h-4zM549 325h4v3h-4zM746 325h4v3h-4zM907 325h4v3h-4zM1081 325h3v3h-3zM1120 325h4v3h-4zM557 328h3v4h-3zM564 328h4v4h-4zM907 328h4v4h-4zM801 332h4v4h-4zM801 340h4v4h-4zM627 344h4v4h-4zM624 348h3v4h-3zM620 352h4v4h-4zM647 352h4v4h-4zM1021 352h4v4h-4zM655 356h4v4h-4zM950 356h4v4h-4zM588 360h4v4h-4zM596 360h8v4h-8zM817 360h3v4h-3zM813 364h4v4h-4zM462 368h4v4h-4zM572 368h4v4h-4zM1017 368h4v4h-4zM478 376h4v4h-4zM486 376h8v4h-8zM738 376h4v4h-4zM998 376h4v4h-4zM998 380h4v4h-4zM730 384h4v4h-4zM1021 384h4v4h-4zM1136 384h4v4h-4zM718 388h4v3h-4zM730 388h4v3h-4zM994 388h4v3h-4zM521 391h8v4h-8zM722 391h4v4h-4zM828 391h4v4h-4zM954 391h4v4h-4zM986 391h4v4h-4zM533 395h4v4h-4zM828 395h4v4h-4zM954 395h4v4h-4zM1025 395h4v4h-4zM474 399h4v4h-4zM718 399h8v4h-8zM730 399h4v4h-4zM954 399h4v4h-4zM970 399h4v4h-4zM1140 399h4v4h-4zM537 403h4v4h-4zM596 403h4v4h-4zM718 403h12v4h-12zM726 407h4v4h-4zM726 411h4v4h-4zM635 415h4v4h-4zM726 415h4v4h-4zM954 415h4v4h-4zM970 415h4v4h-4zM533 419h4v5h-4zM635 419h4v5h-4zM817 419h3v5h-3zM954 419h4v5h-4z"/>
<path fill="#2a768e" d="M486 116h4v4h-4zM497 116h4v4h-4zM513 116h4v4h-4zM521 116h12v4h-12zM537 116h4v4h-4zM557 116h3v4h-3zM588 116h8v4h-8zM604 116h8v4h-8zM631 116h4v4h-4zM643 116h4v4h-4zM655 116h4v4h-4zM982 116h4v4h-4zM683 120h4v4h-4zM820 120h8v4h-8zM1041 120h8v4h-8zM1053 120h4v4h-4zM687 124h3v4h-3zM757 124h12v4h-12zM872 124h4v4h-4zM880 124h7v4h-7zM927 124h4v4h-4zM970 124h4v4h-4zM1057 124h4v4h-4zM1144 124h7v4h-7zM817 128h3v4h-3zM872 128h12v4h-12zM915 128h4v4h-4zM947 128h7v4h-7zM836 132h4v4h-4zM919 132h4v4h-4zM943 132h4v4h-4zM950 132h4v4h-4zM970 132h4v4h-4zM1049 132h4v4h-4zM1057 132h8v4h-8zM1077 132h4v4h-4zM1088 132h12v4h-12zM1104 132h4v4h-4zM1112 132h8v4h-8zM1124 132h8v4h-8zM1136 132h11v4h-11zM1159 132h4v4h-4zM927 136h4v3h-4zM935 136h4v3h-4zM950 136h4v3h-4zM1045 136h4v3h-4zM1096 136h8v3h-8zM1112 136h12v3h-12zM1132 136h8v3h-8zM1171 136h4v3h-4zM789 139h8v4h-8zM801 139h4v4h-4zM813 139h4v4h-4zM919 139h4v4h-4zM931 139h8v4h-8zM947 139h3v4h-3zM1045 139h4v4h-4zM1061 139h4v4h-4zM1069 139h4v4h-4zM1140 139h7v4h-7zM1159 139h12v4h-12zM470 143h4v4h-4zM687 143h3v4h-3zM817 143h3v4h-3zM931 143h4v4h-4zM950 143h4v4h-4zM919 147h4v4h-4zM947 147h3v4h-3zM1041 147h4v4h-4zM1069 147h4v4h-4zM1116 147h4v4h-4zM785 151h4v4h-4zM919 151h4v4h-4zM947 151h3v4h-3zM1073 151h4v4h-4zM470 155h4v4h-4zM1073 155h4v4h-4zM793 159h4v4h-4zM915 159h4v4h-4zM1033 163h4v4h-4zM1069 163h4v4h-4zM470 167h4v4h-4zM694 167h4v4h-4zM805 167h12v4h-12zM683 171h4v4h-4zM785 171h4v4h-4zM832 171h4v4h-4zM907 171h8v4h-8zM466 175h4v4h-4zM687 175h3v4h-3zM765 175h4v4h-4zM781 175h4v4h-4zM832 175h4v4h-4zM750 179h7v4h-7zM832 179h4v4h-4zM903 179h4v4h-4zM466 183h4v4h-4zM757 183h8v4h-8zM880 183h4v4h-4zM761 187h8v4h-8zM884 187h3v4h-3zM781 191h4v4h-4zM1006 191h8v4h-8zM880 195h4v4h-4zM466 199h4v3h-4zM564 199h4v3h-4zM647 199h4v3h-4zM876 199h4v3h-4zM1065 199h4v3h-4zM876 202h4v4h-4zM1065 202h4v4h-4zM675 206h4v4h-4zM687 206h3v4h-3zM746 206h4v4h-4zM876 206h11v4h-11zM675 210h4v4h-4zM694 210h4v4h-4zM876 210h4v4h-4zM1065 210h4v4h-4zM876 214h4v4h-4zM994 214h4v4h-4zM1065 214h4v4h-4zM828 218h4v4h-4zM876 218h4v4h-4zM1065 218h4v4h-4zM545 222h8v4h-8zM876 222h4v4h-4zM572 226h4v4h-4zM584 226h4v4h-4zM647 226h4v4h-4zM876 226h4v4h-4zM990 226h4v4h-4zM746 230h4v4h-4zM828 230h4v4h-4zM876 230h4v4h-4zM687 234h7v4h-7zM876 234h4v4h-4zM553 238h4v4h-4zM1065 238h4v4h-4zM513 242h4v4h-4zM537 246h8v4h-8zM592 246h4v4h-4zM746 246h4v4h-4zM880 246h4v4h-4zM1065 246h4v4h-4zM643 250h4v4h-4zM990 250h4v4h-4zM564 254h4v4h-4zM580 254h4v4h-4zM754 254h3v4h-3zM820 254h4v4h-4zM884 254h3v4h-3zM990 254h4v4h-4zM505 258h4v4h-4zM750 258h11v4h-11zM820 258h4v4h-4zM884 258h3v4h-3zM990 258h4v4h-4zM750 262h11v3h-11zM820 262h4v3h-4zM884 262h3v3h-3zM470 265h4v4h-4zM553 265h7v4h-7zM757 265h12v4h-12zM785 265h4v4h-4zM820 265h4v4h-4zM1069 265h4v4h-4zM470 269h4v4h-4zM533 269h8v4h-8zM765 269h4v4h-4zM994 269h4v4h-4zM494 273h3v4h-3zM765 273h4v4h-4zM793 273h4v4h-4zM911 273h4v4h-4zM509 277h4v4h-4zM525 277h4v4h-4zM655 277h4v4h-4zM797 277h4v4h-4zM919 277h4v4h-4zM927 277h4v4h-4zM1077 277h4v4h-4zM470 281h4v4h-4zM919 281h4v4h-4zM1081 281h3v4h-3zM470 285h4v4h-4zM828 285h4v4h-4zM911 285h8v4h-8zM998 285h4v4h-4zM1084 285h20v4h-20zM494 289h3v4h-3zM655 289h4v4h-4zM820 289h8v4h-8zM911 289h4v4h-4zM998 289h4v4h-4zM1081 289h11v4h-11zM1096 289h4v4h-4zM1104 289h4v4h-4zM537 293h8v4h-8zM549 293h4v4h-4zM592 293h4v4h-4zM911 293h4v4h-4zM998 293h4v4h-4zM1081 293h15v4h-15zM1108 293h4v4h-4zM490 297h4v4h-4zM761 297h4v4h-4zM824 297h4v4h-4zM1002 297h4v4h-4zM1108 297h4v4h-4zM501 301h4v4h-4zM596 301h4v4h-4zM757 301h12v4h-12zM1092 301h4v4h-4zM1100 301h12v4h-12zM1116 301h4v4h-4zM750 305h4v4h-4zM907 305h4v4h-4zM1073 305h4v4h-4zM1096 305h4v4h-4zM497 309h4v4h-4zM659 309h4v4h-4zM750 309h4v4h-4zM1014 309h3v4h-3zM1073 309h4v4h-4zM521 313h4v4h-4zM533 313h4v4h-4zM517 317h8v4h-8zM537 317h4v4h-4zM592 317h4v4h-4zM746 317h4v4h-4zM1069 317h4v4h-4zM828 321h4v4h-4zM1069 321h4v4h-4zM588 325h4v3h-4zM1021 325h4v3h-4zM1077 325h4v3h-4zM568 328h4v4h-4zM1084 328h4v4h-4zM1100 328h4v4h-4zM1112 328h4v4h-4zM1124 328h4v4h-4zM907 332h4v4h-4zM663 336h4v4h-4zM801 336h4v4h-4zM832 336h4v4h-4zM631 340h8v4h-8zM911 340h4v4h-4zM639 344h4v4h-4zM801 344h4v4h-4zM832 344h4v4h-4zM919 344h8v4h-8zM931 344h4v4h-4zM939 344h8v4h-8zM1128 344h4v4h-4zM643 348h4v4h-4zM742 352h4v4h-4zM592 356h8v4h-8zM608 356h8v4h-8zM651 356h4v4h-4zM742 360h4v4h-4zM950 360h4v4h-4zM584 364h4v4h-4zM817 364h3v4h-3zM1017 364h4v4h-4zM466 368h4v4h-4zM809 368h8v4h-8zM549 372h4v4h-4zM832 372h4v4h-4zM986 372h4v4h-4zM1010 372h11v4h-11zM494 376h3v4h-3zM521 376h4v4h-4zM734 376h4v4h-4zM809 376h8v4h-8zM974 376h4v4h-4zM1002 376h4v4h-4zM1017 376h4v4h-4zM974 380h4v4h-4zM1017 380h4v4h-4zM718 384h4v4h-4zM974 384h4v4h-4zM1017 384h4v4h-4zM722 388h4v3h-4zM817 388h3v3h-3zM828 388h4v3h-4zM1025 388h4v3h-4zM718 391h4v4h-4zM730 391h4v4h-4zM817 391h3v4h-3zM824 391h4v4h-4zM978 391h4v4h-4zM1025 391h4v4h-4zM722 395h4v4h-4zM730 395h4v4h-4zM1140 395h4v4h-4zM726 399h4v4h-4zM828 399h4v4h-4zM828 403h4v4h-4zM954 403h4v4h-4zM1140 403h4v4h-4zM828 407h4v4h-4zM478 411h4v4h-4zM722 411h4v4h-4zM828 411h4v4h-4zM1029 411h4v4h-4zM478 415h4v4h-4zM722 415h4v4h-4zM828 415h4v4h-4zM1029 415h4v4h-4zM490 419h4v5h-4zM718 419h4v5h-4zM813 419h4v5h-4zM1029 419h4v5h-4zM1140 419h4v5h-4z"/>
<path fill="#2a788e" d="M1006 112h4v4h-4zM1033 112h4v4h-4zM478 116h4v4h-4zM501 116h4v4h-4zM509 116h4v4h-4zM541 116h4v4h-4zM553 116h4v4h-4zM647 116h8v4h-8zM734 120h20v4h-20zM777 120h4v4h-4zM887 120h4v4h-4zM911 120h4v4h-4zM1049 120h4v4h-4zM1065 120h4v4h-4zM698 124h4v4h-4zM754 124h3v4h-3zM765 128h4v4h-4zM781 128h4v4h-4zM884 128h3v4h-3zM970 128h4v4h-4zM1053 128h4v4h-4zM797 132h4v4h-4zM809 132h8v4h-8zM1073 132h4v4h-4zM1100 132h4v4h-4zM1147 132h12v4h-12zM1163 132h4v4h-4zM1171 132h8v4h-8zM836 136h4v3h-4zM931 136h4v3h-4zM943 136h4v3h-4zM1057 136h8v3h-8zM1077 136h19v3h-19zM1124 136h8v3h-8zM1140 136h4v3h-4zM470 139h4v4h-4zM690 139h4v4h-4zM797 139h4v4h-4zM970 139h4v4h-4zM683 143h4v4h-4zM935 143h4v4h-4zM947 143h3v4h-3zM970 143h4v4h-4zM1041 143h4v4h-4zM470 147h4v4h-4zM694 147h4v4h-4zM765 147h4v4h-4zM970 147h4v4h-4zM470 151h4v4h-4zM970 151h4v4h-4zM915 155h4v4h-4zM805 163h12v4h-12zM687 167h7v4h-7zM907 167h8v4h-8zM1029 167h4v4h-4zM470 171h4v4h-4zM872 171h4v4h-4zM880 171h4v4h-4zM903 171h4v4h-4zM1025 171h4v4h-4zM683 175h4v4h-4zM761 175h4v4h-4zM903 175h4v4h-4zM746 179h4v4h-4zM757 179h4v4h-4zM880 179h7v4h-7zM746 183h4v4h-4zM1010 183h4v4h-4zM466 187h4v4h-4zM880 187h4v4h-4zM1002 187h4v4h-4zM880 191h4v4h-4zM1065 191h4v4h-4zM785 195h4v4h-4zM876 195h4v4h-4zM998 195h12v4h-12zM568 199h4v3h-4zM639 202h4v4h-4zM639 206h4v4h-4zM679 206h4v4h-4zM777 206h4v4h-4zM872 206h4v4h-4zM872 210h4v4h-4zM742 214h4v4h-4zM872 214h4v4h-4zM572 218h8v4h-8zM990 218h4v4h-4zM517 222h12v4h-12zM541 222h4v4h-4zM588 222h4v4h-4zM655 222h4v4h-4zM746 222h4v4h-4zM777 222h4v4h-4zM564 226h8v4h-8zM643 226h4v4h-4zM698 226h4v4h-4zM470 230h4v4h-4zM872 230h4v4h-4zM470 234h4v4h-4zM584 238h4v4h-4zM876 238h4v4h-4zM509 242h4v4h-4zM655 242h4v4h-4zM876 242h4v4h-4zM521 246h4v4h-4zM643 246h4v4h-4zM820 246h4v4h-4zM470 250h4v4h-4zM746 250h4v4h-4zM820 250h4v4h-4zM880 250h4v4h-4zM1065 250h4v4h-4zM470 254h4v4h-4zM746 254h4v4h-4zM781 254h4v4h-4zM824 254h4v4h-4zM501 258h4v4h-4zM746 258h4v4h-4zM824 258h4v4h-4zM824 262h4v3h-4zM549 265h4v4h-4zM592 265h4v4h-4zM651 265h4v4h-4zM754 265h3v4h-3zM824 265h4v4h-4zM990 265h4v4h-4zM529 269h4v4h-4zM757 269h8v4h-8zM1069 269h4v4h-4zM470 273h4v4h-4zM490 273h4v4h-4zM761 273h4v4h-4zM907 273h4v4h-4zM1073 273h4v4h-4zM470 277h4v4h-4zM505 277h4v4h-4zM754 277h7v4h-7zM765 277h4v4h-4zM915 277h4v4h-4zM541 281h4v4h-4zM588 281h4v4h-4zM655 281h4v4h-4zM754 281h7v4h-7zM765 281h4v4h-4zM828 281h4v4h-4zM915 281h4v4h-4zM1073 281h8v4h-8zM490 285h4v4h-4zM907 285h4v4h-4zM1081 285h3v4h-3zM490 289h4v4h-4zM757 289h12v4h-12zM1100 289h4v4h-4zM545 293h4v4h-4zM651 293h4v4h-4zM757 293h12v4h-12zM1077 293h4v4h-4zM1104 293h4v4h-4zM474 297h4v4h-4zM659 297h4v4h-4zM757 297h4v4h-4zM765 297h4v4h-4zM1081 297h11v4h-11zM1104 297h4v4h-4zM1112 297h8v4h-8zM474 301h4v4h-4zM497 301h4v4h-4zM754 301h3v4h-3zM907 301h4v4h-4zM1073 301h8v4h-8zM1096 301h4v4h-4zM1112 301h4v4h-4zM509 305h20v4h-20zM592 305h4v4h-4zM651 305h4v4h-4zM490 309h7v4h-7zM517 313h4v4h-4zM525 313h8v4h-8zM592 313h4v4h-4zM750 313h4v4h-4zM470 317h4v4h-4zM509 317h8v4h-8zM525 317h12v4h-12zM1017 317h4v4h-4zM545 321h4v4h-4zM592 321h4v4h-4zM663 325h4v3h-4zM828 325h4v3h-4zM1069 325h8v3h-8zM462 328h8v4h-8zM553 328h4v4h-4zM1104 328h8v4h-8zM1116 328h4v4h-4zM627 340h4v4h-4zM639 340h4v4h-4zM624 344h3v4h-3zM659 344h4v4h-4zM927 344h4v4h-4zM935 344h4v4h-4zM1021 344h4v4h-4zM620 348h4v4h-4zM647 348h4v4h-4zM742 348h4v4h-4zM801 348h4v4h-4zM1021 348h4v4h-4zM1128 348h4v4h-4zM592 352h8v4h-8zM616 352h4v4h-4zM655 352h4v4h-4zM801 352h4v4h-4zM600 356h8v4h-8zM742 356h4v4h-4zM580 364h4v4h-4zM950 364h4v4h-4zM568 368h4v4h-4zM805 368h4v4h-4zM817 368h3v4h-3zM950 368h4v4h-4zM1014 368h3v4h-3zM1132 368h4v4h-4zM809 372h11v4h-11zM982 372h4v4h-4zM990 372h8v4h-8zM1006 372h4v4h-4zM501 376h16v4h-16zM730 376h4v4h-4zM817 376h3v4h-3zM1006 376h11v4h-11zM726 380h4v4h-4zM1002 380h4v4h-4zM1014 380h3v4h-3zM722 384h8v4h-8zM828 384h4v4h-4zM998 384h4v4h-4zM1014 384h3v4h-3zM726 388h4v3h-4zM813 388h4v3h-4zM998 388h4v3h-4zM1021 388h4v3h-4zM517 391h4v4h-4zM726 391h4v4h-4zM820 391h4v4h-4zM990 391h4v4h-4zM529 395h4v4h-4zM718 395h4v4h-4zM726 395h4v4h-4zM817 395h3v4h-3zM824 395h4v4h-4zM982 395h4v4h-4zM533 399h4v4h-4zM1025 399h4v4h-4zM600 403h20v4h-20zM631 403h4v4h-4zM635 407h4v4h-4zM718 407h8v4h-8zM813 407h7v4h-7zM974 407h4v4h-4zM1140 407h4v4h-4zM537 411h4v4h-4zM635 411h4v4h-4zM718 411h4v4h-4zM813 411h7v4h-7zM1140 411h4v4h-4zM533 415h4v4h-4zM718 415h4v4h-4zM813 415h7v4h-7zM1140 415h4v4h-4zM486 419h4v5h-4zM494 419h3v5h-3zM529 419h4v5h-4zM809 419h4v5h-4zM970 419h4v5h-4z"/>
<path fill="#297a8e" d="M482 116h4v4h-4zM505 116h4v4h-4zM549 116h4v4h-4zM1037 116h4v4h-4zM769 120h8v4h-8zM742 124h12v4h-12zM1045 124h4v4h-4zM1053 124h4v4h-4zM1065 124h4v4h-4zM470 128h4v4h-4zM757 128h8v4h-8zM911 128h4v4h-4zM1045 128h8v4h-8zM1065 128h4v4h-4zM470 132h4v4h-4zM785 132h12v4h-12zM801 132h8v4h-8zM872 132h15v4h-15zM915 132h4v4h-4zM947 132h3v4h-3zM1045 132h4v4h-4zM1069 132h4v4h-4zM1167 132h4v4h-4zM470 136h4v3h-4zM694 136h4v3h-4zM809 136h4v3h-4zM872 136h4v3h-4zM915 136h4v3h-4zM947 136h3v3h-3zM1069 136h8v3h-8zM1144 136h3v3h-3zM1151 136h20v3h-20zM687 139h3v4h-3zM785 139h4v4h-4zM679 143h4v4h-4zM757 143h4v4h-4zM781 143h4v4h-4zM915 143h4v4h-4zM690 147h4v4h-4zM757 147h8v4h-8zM781 147h4v4h-4zM765 151h4v4h-4zM1069 151h4v4h-4zM785 155h4v4h-4zM872 155h12v4h-12zM1037 155h4v4h-4zM470 159h4v4h-4zM785 159h4v4h-4zM817 159h3v4h-3zM880 159h7v4h-7zM911 159h4v4h-4zM1033 159h4v4h-4zM1069 159h4v4h-4zM470 163h4v4h-4zM801 163h4v4h-4zM911 163h4v4h-4zM801 167h4v4h-4zM872 167h4v4h-4zM903 167h4v4h-4zM1025 167h4v4h-4zM876 171h4v4h-4zM884 171h3v4h-3zM872 175h15v4h-15zM1065 175h4v4h-4zM694 179h4v4h-4zM876 179h4v4h-4zM1010 179h7v4h-7zM1065 179h4v4h-4zM876 183h4v4h-4zM1006 183h4v4h-4zM1065 183h4v4h-4zM754 187h7v4h-7zM876 187h4v4h-4zM876 191h4v4h-4zM564 195h12v4h-12zM560 199h4v3h-4zM572 199h4v3h-4zM872 199h4v3h-4zM470 202h4v4h-4zM635 202h4v4h-4zM750 202h4v4h-4zM872 202h4v4h-4zM470 206h4v4h-4zM624 206h3v4h-3zM635 206h4v4h-4zM643 206h4v4h-4zM470 210h4v4h-4zM683 210h4v4h-4zM698 210h4v4h-4zM742 210h4v4h-4zM777 210h4v4h-4zM698 214h4v4h-4zM828 214h4v4h-4zM580 218h4v4h-4zM742 218h4v4h-4zM872 218h4v4h-4zM513 222h4v4h-4zM529 222h4v4h-4zM537 222h4v4h-4zM698 222h4v4h-4zM872 222h4v4h-4zM899 222h4v4h-4zM560 226h4v4h-4zM588 226h12v4h-12zM777 226h4v4h-4zM872 226h4v4h-4zM639 230h4v4h-4zM820 234h4v4h-4zM872 234h4v4h-4zM470 238h4v4h-4zM549 238h4v4h-4zM872 238h4v4h-4zM899 238h4v4h-4zM470 242h4v4h-4zM698 242h4v4h-4zM872 242h4v4h-4zM1065 242h4v4h-4zM470 246h4v4h-4zM513 246h8v4h-8zM596 246h4v4h-4zM824 246h4v4h-4zM876 246h4v4h-4zM572 250h8v4h-8zM639 250h4v4h-4zM824 250h4v4h-4zM557 254h7v4h-7zM880 254h4v4h-4zM1065 254h4v4h-4zM470 258h4v4h-4zM497 258h4v4h-4zM880 258h4v4h-4zM470 262h4v3h-4zM497 262h4v3h-4zM746 262h4v3h-4zM880 262h4v3h-4zM596 265h4v4h-4zM698 265h4v4h-4zM750 265h4v4h-4zM884 265h3v4h-3zM588 269h4v4h-4zM754 269h3v4h-3zM820 269h8v4h-8zM750 273h11v4h-11zM789 273h4v4h-4zM820 273h4v4h-4zM903 273h4v4h-4zM994 273h4v4h-4zM501 277h4v4h-4zM750 277h4v4h-4zM761 277h4v4h-4zM820 277h8v4h-8zM994 277h4v4h-4zM1073 277h4v4h-4zM750 281h4v4h-4zM761 281h4v4h-4zM797 281h4v4h-4zM820 281h4v4h-4zM907 281h8v4h-8zM994 281h4v4h-4zM1069 281h4v4h-4zM750 285h4v4h-4zM757 285h12v4h-12zM797 285h4v4h-4zM820 285h4v4h-4zM994 285h4v4h-4zM1073 285h8v4h-8zM754 289h3v4h-3zM797 289h4v4h-4zM907 289h4v4h-4zM1077 289h4v4h-4zM533 293h4v4h-4zM596 293h4v4h-4zM647 293h4v4h-4zM907 293h4v4h-4zM1073 293h4v4h-4zM1096 293h8v4h-8zM486 297h4v4h-4zM754 297h3v4h-3zM907 297h4v4h-4zM998 297h4v4h-4zM1073 297h8v4h-8zM1092 297h4v4h-4zM1100 297h4v4h-4zM490 301h7v4h-7zM750 301h4v4h-4zM1006 301h4v4h-4zM474 305h4v4h-4zM505 305h4v4h-4zM647 305h4v4h-4zM1010 305h4v4h-4zM596 309h4v4h-4zM513 313h4v4h-4zM655 313h4v4h-4zM1014 313h3v4h-3zM505 317h4v4h-4zM663 317h4v4h-4zM470 321h4v4h-4zM517 321h4v4h-4zM659 321h4v4h-4zM820 321h4v4h-4zM903 321h4v4h-4zM545 325h4v3h-4zM592 325h4v3h-4zM572 328h20v4h-20zM1081 328h3v4h-3zM1120 328h4v4h-4zM564 332h4v4h-4zM584 332h8v4h-8zM663 332h4v4h-4zM1084 332h20v4h-20zM1124 332h4v4h-4zM742 336h4v4h-4zM907 336h4v4h-4zM742 340h4v4h-4zM643 344h4v4h-4zM742 344h4v4h-4zM915 344h4v4h-4zM616 348h4v4h-4zM651 348h8v4h-8zM832 348h4v4h-4zM600 352h4v4h-4zM651 352h4v4h-4zM588 356h4v4h-4zM584 360h4v4h-4zM576 364h4v4h-4zM1010 368h4v4h-4zM545 372h4v4h-4zM805 372h4v4h-4zM978 372h4v4h-4zM998 372h8v4h-8zM497 376h4v4h-4zM517 376h4v4h-4zM805 376h4v4h-4zM718 380h8v4h-8zM809 380h11v4h-11zM1010 380h4v4h-4zM817 384h3v4h-3zM824 384h4v4h-4zM1002 384h4v4h-4zM809 388h4v3h-4zM820 388h8v3h-8zM974 388h4v3h-4zM1017 388h4v3h-4zM1136 388h4v3h-4zM478 391h8v4h-8zM497 391h20v4h-20zM809 391h8v4h-8zM1021 391h4v4h-4zM521 395h8v4h-8zM820 395h4v4h-4zM978 395h4v4h-4zM986 395h4v4h-4zM1021 395h4v4h-4zM817 399h3v4h-3zM824 399h4v4h-4zM533 403h4v4h-4zM620 403h11v4h-11zM813 403h7v4h-7zM978 403h8v4h-8zM1025 403h4v4h-4zM537 407h4v4h-4zM596 407h4v4h-4zM978 407h4v4h-4zM1025 407h4v4h-4zM809 411h4v4h-4zM974 411h4v4h-4zM486 415h8v4h-8zM809 415h4v4h-4zM482 419h4v5h-4zM525 419h4v5h-4zM620 419h7v5h-7zM824 419h4v5h-4z"/>
<path fill="#287c8e" d="M545 116h4v4h-4zM679 120h4v4h-4zM702 120h4v4h-4zM730 120h4v4h-4zM777 124h4v4h-4zM820 124h12v4h-12zM911 124h4v4h-4zM1041 124h4v4h-4zM1049 124h4v4h-4zM754 128h3v4h-3zM832 128h4v4h-4zM911 132h4v4h-4zM805 136h4v3h-4zM813 136h4v3h-4zM880 136h7v3h-7zM911 136h4v3h-4zM1041 136h4v3h-4zM1147 136h4v3h-4zM817 139h3v4h-3zM872 139h4v4h-4zM915 139h4v4h-4zM1041 139h4v4h-4zM761 143h8v4h-8zM872 143h8v4h-8zM683 147h7v4h-7zM754 147h3v4h-3zM872 147h8v4h-8zM915 147h4v4h-4zM746 151h4v4h-4zM754 151h11v4h-11zM781 151h4v4h-4zM872 151h12v4h-12zM915 151h4v4h-4zM765 155h4v4h-4zM884 155h3v4h-3zM1069 155h4v4h-4zM872 159h8v4h-8zM872 163h4v4h-4zM880 163h7v4h-7zM907 163h4v4h-4zM1029 163h4v4h-4zM679 167h8v4h-8zM876 167h11v4h-11zM667 171h16v4h-16zM781 171h4v4h-4zM1017 171h4v4h-4zM470 175h4v4h-4zM635 175h8v4h-8zM754 175h7v4h-7zM1014 175h7v4h-7zM690 179h4v4h-4zM872 179h4v4h-4zM777 183h4v4h-4zM1065 187h4v4h-4zM671 191h4v4h-4zM761 191h8v4h-8zM872 191h4v4h-4zM470 195h4v4h-4zM560 195h4v4h-4zM576 195h8v4h-8zM663 195h4v4h-4zM872 195h4v4h-4zM470 199h4v3h-4zM576 199h16v3h-16zM643 199h4v3h-4zM761 199h8v3h-8zM998 199h8v3h-8zM620 202h4v4h-4zM627 202h8v4h-8zM777 202h4v4h-4zM828 202h4v4h-4zM994 202h4v4h-4zM620 206h4v4h-4zM627 206h8v4h-8zM698 206h4v4h-4zM828 206h4v4h-4zM690 210h4v4h-4zM820 210h4v4h-4zM828 210h4v4h-4zM994 210h4v4h-4zM470 214h4v4h-4zM777 214h4v4h-4zM568 218h4v4h-4zM698 218h4v4h-4zM777 218h4v4h-4zM509 222h4v4h-4zM533 222h4v4h-4zM592 222h4v4h-4zM824 222h4v4h-4zM986 222h4v4h-4zM470 226h4v4h-4zM557 226h3v4h-3zM600 226h4v4h-4zM820 226h4v4h-4zM899 226h4v4h-4zM986 226h4v4h-4zM624 230h7v4h-7zM635 230h4v4h-4zM698 230h4v4h-4zM820 230h4v4h-4zM698 234h4v4h-4zM742 234h4v4h-4zM777 234h4v4h-4zM824 234h4v4h-4zM545 238h4v4h-4zM698 238h4v4h-4zM777 238h4v4h-4zM820 238h8v4h-8zM986 238h4v4h-4zM505 242h4v4h-4zM820 242h8v4h-8zM899 242h4v4h-4zM986 242h4v4h-4zM509 246h4v4h-4zM600 246h4v4h-4zM698 246h4v4h-4zM986 246h4v4h-4zM568 250h4v4h-4zM698 250h4v4h-4zM876 250h4v4h-4zM584 254h4v4h-4zM781 258h4v4h-4zM1065 258h4v4h-4zM651 262h4v3h-4zM698 262h4v3h-4zM876 262h4v3h-4zM647 265h4v4h-4zM746 265h4v4h-4zM880 265h4v4h-4zM525 269h4v4h-4zM663 269h4v4h-4zM750 269h4v4h-4zM785 269h4v4h-4zM884 269h3v4h-3zM596 273h4v4h-4zM824 273h4v4h-4zM884 273h3v4h-3zM1069 273h4v4h-4zM497 277h4v4h-4zM600 277h4v4h-4zM793 277h4v4h-4zM911 277h4v4h-4zM1069 277h4v4h-4zM537 281h4v4h-4zM651 281h4v4h-4zM754 285h3v4h-3zM824 285h4v4h-4zM884 285h3v4h-3zM903 285h4v4h-4zM1069 285h4v4h-4zM600 289h4v4h-4zM750 289h4v4h-4zM994 289h4v4h-4zM1073 289h4v4h-4zM474 293h4v4h-4zM505 293h4v4h-4zM754 293h3v4h-3zM797 293h4v4h-4zM994 293h4v4h-4zM750 297h4v4h-4zM1069 297h4v4h-4zM1096 297h4v4h-4zM651 301h4v4h-4zM746 301h4v4h-4zM884 301h3v4h-3zM903 301h4v4h-4zM1069 301h4v4h-4zM501 305h4v4h-4zM643 305h4v4h-4zM746 305h4v4h-4zM903 305h4v4h-4zM1069 305h4v4h-4zM486 309h4v4h-4zM746 309h4v4h-4zM903 309h4v4h-4zM1069 309h4v4h-4zM509 313h4v4h-4zM596 313h4v4h-4zM746 313h4v4h-4zM1069 313h4v4h-4zM501 317h4v4h-4zM903 317h4v4h-4zM521 321h4v4h-4zM541 321h4v4h-4zM596 321h4v4h-4zM824 321h4v4h-4zM470 325h4v3h-4zM659 325h4v3h-4zM820 325h4v3h-4zM903 325h4v3h-4zM549 328h4v4h-4zM592 328h4v4h-4zM659 328h4v4h-4zM903 328h4v4h-4zM1073 328h8v4h-8zM568 332h4v4h-4zM580 332h4v4h-4zM1104 332h20v4h-20zM631 336h4v4h-4zM1124 336h4v4h-4zM624 340h3v4h-3zM907 340h4v4h-4zM1021 340h4v4h-4zM604 344h4v4h-4zM620 344h4v4h-4zM911 344h4v4h-4zM592 348h8v4h-8zM604 348h12v4h-12zM604 352h12v4h-12zM1128 352h4v4h-4zM801 356h4v4h-4zM1017 360h4v4h-4zM462 364h4v4h-4zM832 364h4v4h-4zM1014 364h3v4h-3zM470 368h4v4h-4zM564 368h4v4h-4zM832 368h4v4h-4zM1006 368h4v4h-4zM738 372h4v4h-4zM950 372h4v4h-4zM974 372h4v4h-4zM1132 372h4v4h-4zM805 380h4v4h-4zM828 380h4v4h-4zM1006 380h4v4h-4zM714 384h4v4h-4zM813 384h4v4h-4zM1010 384h4v4h-4zM714 388h4v3h-4zM1002 388h4v3h-4zM1014 388h3v3h-3zM486 391h4v4h-4zM494 391h3v4h-3zM805 391h4v4h-4zM974 391h4v4h-4zM994 391h4v4h-4zM1017 391h4v4h-4zM478 395h4v4h-4zM517 395h4v4h-4zM805 395h12v4h-12zM974 395h4v4h-4zM529 399h4v4h-4zM813 399h4v4h-4zM820 399h4v4h-4zM978 399h8v4h-8zM1021 399h4v4h-4zM529 403h4v4h-4zM824 403h4v4h-4zM974 403h4v4h-4zM1021 403h4v4h-4zM824 407h4v4h-4zM982 407h4v4h-4zM596 411h4v4h-4zM824 411h4v4h-4zM978 411h4v4h-4zM1025 411h4v4h-4zM482 415h4v4h-4zM494 415h3v4h-3zM525 415h8v4h-8zM596 415h4v4h-4zM631 415h4v4h-4zM824 415h4v4h-4zM974 415h4v4h-4zM497 419h12v5h-12zM596 419h4v5h-4zM612 419h8v5h-8zM631 419h4v5h-4zM805 419h4v5h-4zM820 419h4v5h-4z"/>
<path fill="#277e8e" d="M986 116h4v4h-4zM474 120h4v4h-4zM675 120h4v4h-4zM706 120h4v4h-4zM738 124h4v4h-4zM887 124h4v4h-4zM694 128h4v4h-4zM1041 128h4v4h-4zM817 132h3v4h-3zM1041 132h4v4h-4zM789 136h16v3h-16zM876 136h4v3h-4zM876 139h11v4h-11zM911 139h4v4h-4zM675 143h4v4h-4zM698 143h4v4h-4zM754 143h3v4h-3zM832 143h4v4h-4zM880 143h4v4h-4zM1065 143h4v4h-4zM880 147h4v4h-4zM1037 147h4v4h-4zM750 151h4v4h-4zM884 151h3v4h-3zM1037 151h4v4h-4zM754 155h11v4h-11zM832 155h4v4h-4zM832 159h4v4h-4zM876 163h4v4h-4zM675 167h4v4h-4zM789 167h4v4h-4zM797 167h4v4h-4zM817 167h3v4h-3zM832 167h4v4h-4zM1065 167h4v4h-4zM1021 171h4v4h-4zM1065 171h4v4h-4zM631 175h4v4h-4zM643 175h4v4h-4zM698 175h4v4h-4zM750 175h4v4h-4zM1021 175h4v4h-4zM470 179h4v4h-4zM687 179h3v4h-3zM698 179h4v4h-4zM777 179h4v4h-4zM1017 179h4v4h-4zM698 183h4v4h-4zM872 183h4v4h-4zM750 187h4v4h-4zM777 187h4v4h-4zM872 187h4v4h-4zM1010 187h4v4h-4zM470 191h4v4h-4zM757 191h4v4h-4zM998 191h4v4h-4zM584 195h4v4h-4zM781 195h4v4h-4zM557 199h3v3h-3zM592 199h8v3h-8zM754 199h7v3h-7zM600 202h20v4h-20zM624 202h3v4h-3zM698 202h4v4h-4zM990 202h4v4h-4zM998 202h4v4h-4zM616 206h4v4h-4zM647 206h16v4h-16zM667 206h4v4h-4zM742 206h4v4h-4zM820 206h4v4h-4zM994 206h4v4h-4zM671 210h4v4h-4zM470 218h4v4h-4zM560 218h8v4h-8zM584 218h4v4h-4zM824 218h4v4h-4zM986 218h4v4h-4zM470 222h4v4h-4zM820 222h4v4h-4zM541 226h8v4h-8zM553 226h4v4h-4zM746 226h4v4h-4zM824 226h4v4h-4zM612 230h12v4h-12zM631 230h4v4h-4zM777 230h4v4h-4zM824 230h4v4h-4zM899 230h4v4h-4zM986 230h4v4h-4zM667 234h4v4h-4zM899 234h4v4h-4zM986 234h4v4h-4zM541 238h4v4h-4zM588 238h4v4h-4zM742 238h4v4h-4zM494 242h11v4h-11zM596 242h4v4h-4zM777 242h4v4h-4zM497 246h12v4h-12zM639 246h4v4h-4zM872 246h4v4h-4zM612 250h8v4h-8zM872 250h4v4h-4zM553 254h4v4h-4zM698 254h4v4h-4zM876 254h4v4h-4zM494 258h3v4h-3zM659 258h4v4h-4zM698 258h4v4h-4zM876 258h4v4h-4zM986 258h4v4h-4zM494 262h3v3h-3zM781 262h4v3h-4zM986 262h4v3h-4zM1065 262h4v3h-4zM545 265h4v4h-4zM517 269h8v4h-8zM698 269h4v4h-4zM746 269h4v4h-4zM880 269h4v4h-4zM990 269h4v4h-4zM659 273h4v4h-4zM698 273h4v4h-4zM746 273h4v4h-4zM872 273h12v4h-12zM494 277h3v4h-3zM651 277h4v4h-4zM907 277h4v4h-4zM533 281h4v4h-4zM643 281h8v4h-8zM746 281h4v4h-4zM793 281h4v4h-4zM824 281h4v4h-4zM903 281h4v4h-4zM486 285h4v4h-4zM659 285h4v4h-4zM746 285h4v4h-4zM746 289h4v4h-4zM884 289h3v4h-3zM501 293h4v4h-4zM509 293h4v4h-4zM529 293h4v4h-4zM600 293h4v4h-4zM643 293h4v4h-4zM746 293h8v4h-8zM1069 293h4v4h-4zM746 297h4v4h-4zM797 297h4v4h-4zM884 297h3v4h-3zM903 297h4v4h-4zM486 301h4v4h-4zM497 305h4v4h-4zM639 305h4v4h-4zM474 313h4v4h-4zM501 313h8v4h-8zM903 313h4v4h-4zM497 317h4v4h-4zM659 317h4v4h-4zM509 321h8v4h-8zM525 321h4v4h-4zM533 321h8v4h-8zM655 321h4v4h-4zM1017 321h4v4h-4zM541 325h4v3h-4zM824 325h4v3h-4zM820 328h4v4h-4zM828 328h4v4h-4zM1021 328h4v4h-4zM1069 328h4v4h-4zM560 332h4v4h-4zM572 332h8v4h-8zM742 332h4v4h-4zM903 332h4v4h-4zM1081 332h3v4h-3zM620 336h4v4h-4zM627 336h4v4h-4zM635 336h4v4h-4zM620 340h4v4h-4zM643 340h4v4h-4zM659 340h4v4h-4zM592 344h4v4h-4zM600 344h4v4h-4zM608 344h8v4h-8zM647 344h4v4h-4zM907 344h4v4h-4zM600 348h4v4h-4zM947 348h3v4h-3zM588 352h4v4h-4zM832 352h4v4h-4zM584 356h4v4h-4zM580 360h4v4h-4zM572 364h4v4h-4zM1002 368h4v4h-4zM474 372h4v4h-4zM734 372h4v4h-4zM726 376h4v4h-4zM950 376h4v4h-4zM1132 376h4v4h-4zM824 380h4v4h-4zM805 384h8v4h-8zM820 384h4v4h-4zM1006 384h4v4h-4zM805 388h4v3h-4zM1010 388h4v3h-4zM490 391h4v4h-4zM998 391h4v4h-4zM1014 391h3v4h-3zM482 395h8v4h-8zM497 395h8v4h-8zM990 395h4v4h-4zM1014 395h7v4h-7zM478 399h4v4h-4zM486 399h8v4h-8zM525 399h4v4h-4zM714 399h4v4h-4zM809 399h4v4h-4zM974 399h4v4h-4zM986 399h4v4h-4zM525 403h4v4h-4zM809 403h4v4h-4zM820 403h4v4h-4zM986 403h4v4h-4zM1017 403h4v4h-4zM478 407h4v4h-4zM533 407h4v4h-4zM600 407h8v4h-8zM809 407h4v4h-4zM986 407h4v4h-4zM1021 407h4v4h-4zM482 411h4v4h-4zM533 411h4v4h-4zM608 411h4v4h-4zM624 411h3v4h-3zM631 411h4v4h-4zM820 411h4v4h-4zM497 415h4v4h-4zM521 415h4v4h-4zM600 415h4v4h-4zM608 415h8v4h-8zM624 415h7v4h-7zM805 415h4v4h-4zM820 415h4v4h-4zM978 415h16v4h-16zM1025 415h4v4h-4zM509 419h4v5h-4zM517 419h8v5h-8zM627 419h4v5h-4zM1025 419h4v5h-4z"/>
<path fill="#27808e" d="M671 120h4v4h-4zM710 120h4v4h-4zM722 120h8v4h-8zM683 124h4v4h-4zM698 128h4v4h-4zM750 128h4v4h-4zM777 128h4v4h-4zM694 132h4v4h-4zM781 132h4v4h-4zM1065 132h4v4h-4zM690 136h4v3h-4zM785 136h4v3h-4zM683 139h4v4h-4zM757 139h4v4h-4zM781 139h4v4h-4zM1065 139h4v4h-4zM671 143h4v4h-4zM884 143h3v4h-3zM911 143h4v4h-4zM698 147h4v4h-4zM750 147h4v4h-4zM832 147h4v4h-4zM884 147h3v4h-3zM911 147h4v4h-4zM1065 147h4v4h-4zM832 151h4v4h-4zM746 155h8v4h-8zM781 155h4v4h-4zM911 155h4v4h-4zM781 159h4v4h-4zM1029 159h4v4h-4zM789 163h4v4h-4zM797 163h4v4h-4zM817 163h3v4h-3zM1065 163h4v4h-4zM671 167h4v4h-4zM793 167h4v4h-4zM663 171h4v4h-4zM761 171h8v4h-8zM627 175h4v4h-4zM647 175h8v4h-8zM667 175h8v4h-8zM742 179h4v4h-4zM470 183h4v4h-4zM742 183h4v4h-4zM1014 183h3v4h-3zM679 187h4v4h-4zM694 187h8v4h-8zM828 187h4v4h-4zM525 195h4v4h-4zM557 195h3v4h-3zM588 195h4v4h-4zM600 199h4v3h-4zM994 199h4v3h-4zM990 206h4v4h-4zM687 210h3v4h-3zM824 210h4v4h-4zM899 210h4v4h-4zM820 214h8v4h-8zM990 214h4v4h-4zM557 218h3v4h-3zM663 218h4v4h-4zM505 222h4v4h-4zM596 222h4v4h-4zM513 226h8v4h-8zM525 226h4v4h-4zM537 226h4v4h-4zM549 226h4v4h-4zM639 226h4v4h-4zM604 230h8v4h-8zM490 242h4v4h-4zM494 246h3v4h-3zM604 246h4v4h-4zM777 246h4v4h-4zM899 246h4v4h-4zM604 250h8v4h-8zM620 250h4v4h-4zM635 250h4v4h-4zM986 250h4v4h-4zM872 254h4v4h-4zM986 254h4v4h-4zM490 262h4v3h-4zM600 262h4v3h-4zM872 262h4v3h-4zM537 265h8v4h-8zM600 265h4v4h-4zM639 265h8v4h-8zM876 265h4v4h-4zM986 265h4v4h-4zM1065 265h4v4h-4zM509 269h8v4h-8zM876 269h4v4h-4zM990 273h4v4h-4zM698 277h4v4h-4zM746 277h4v4h-4zM876 277h11v4h-11zM903 277h4v4h-4zM592 281h4v4h-4zM639 281h4v4h-4zM884 281h3v4h-3zM793 285h4v4h-4zM880 285h4v4h-4zM486 289h4v4h-4zM651 289h4v4h-4zM903 289h4v4h-4zM1069 289h4v4h-4zM497 293h4v4h-4zM513 293h4v4h-4zM639 293h4v4h-4zM884 293h3v4h-3zM903 293h4v4h-4zM596 297h4v4h-4zM655 297h4v4h-4zM994 297h4v4h-4zM600 301h4v4h-4zM1002 301h4v4h-4zM596 305h4v4h-4zM884 305h3v4h-3zM474 309h4v4h-4zM655 309h4v4h-4zM1010 309h4v4h-4zM494 313h7v4h-7zM651 313h4v4h-4zM474 317h4v4h-4zM494 317h3v4h-3zM631 317h8v4h-8zM501 321h8v4h-8zM529 321h4v4h-4zM470 328h4v4h-4zM596 328h4v4h-4zM462 332h8v4h-8zM592 332h4v4h-4zM1021 332h4v4h-4zM1073 332h8v4h-8zM616 336h4v4h-4zM624 336h3v4h-3zM639 336h4v4h-4zM1021 336h4v4h-4zM1088 336h24v4h-24zM1120 336h4v4h-4zM616 340h4v4h-4zM891 340h16v4h-16zM1124 340h4v4h-4zM588 344h4v4h-4zM596 344h4v4h-4zM616 344h4v4h-4zM655 344h4v4h-4zM891 344h8v4h-8zM588 348h4v4h-4zM891 348h8v4h-8zM832 356h4v4h-4zM1017 356h4v4h-4zM1128 356h4v4h-4zM462 360h4v4h-4zM576 360h4v4h-4zM832 360h4v4h-4zM466 364h4v4h-4zM560 368h4v4h-4zM990 368h12v4h-12zM478 372h8v4h-8zM541 372h4v4h-4zM714 376h12v4h-12zM820 376h4v4h-4zM714 380h4v4h-4zM820 380h4v4h-4zM950 380h4v4h-4zM1132 380h4v4h-4zM1006 388h4v3h-4zM714 391h4v4h-4zM1002 391h4v4h-4zM1010 391h4v4h-4zM490 395h7v4h-7zM505 395h4v4h-4zM513 395h4v4h-4zM1010 395h4v4h-4zM482 399h4v4h-4zM494 399h11v4h-11zM521 399h4v4h-4zM805 399h4v4h-4zM990 399h4v4h-4zM1006 399h4v4h-4zM1014 399h7v4h-7zM1136 399h4v4h-4zM478 403h4v4h-4zM486 403h23v4h-23zM714 403h4v4h-4zM990 403h4v4h-4zM1136 403h4v4h-4zM505 407h4v4h-4zM525 407h8v4h-8zM608 407h4v4h-4zM624 407h3v4h-3zM631 407h4v4h-4zM820 407h4v4h-4zM990 407h4v4h-4zM1017 407h4v4h-4zM486 411h4v4h-4zM521 411h12v4h-12zM600 411h8v4h-8zM612 411h4v4h-4zM627 411h4v4h-4zM805 411h4v4h-4zM982 411h16v4h-16zM1021 411h4v4h-4zM501 415h8v4h-8zM517 415h4v4h-4zM604 415h4v4h-4zM620 415h4v4h-4zM513 419h4v5h-4zM608 419h4v5h-4zM714 419h4v5h-4zM978 419h16v5h-16zM1021 419h4v5h-4zM1136 419h4v5h-4z"/>
<path fill="#26828e" d="M1010 112h4v4h-4zM714 120h8v4h-8zM891 120h4v4h-4zM769 124h8v4h-8zM690 128h4v4h-4zM887 128h4v4h-4zM761 132h8v4h-8zM832 132h4v4h-4zM817 136h3v3h-3zM679 139h4v4h-4zM754 139h3v4h-3zM761 139h8v4h-8zM832 139h4v4h-4zM777 143h4v4h-4zM746 147h4v4h-4zM698 151h4v4h-4zM742 151h4v4h-4zM911 151h4v4h-4zM698 155h4v4h-4zM1033 155h4v4h-4zM793 163h4v4h-4zM832 163h4v4h-4zM1025 163h4v4h-4zM785 167h4v4h-4zM1021 167h4v4h-4zM620 175h7v4h-7zM659 175h8v4h-8zM675 175h4v4h-4zM746 175h4v4h-4zM777 175h4v4h-4zM624 179h3v4h-3zM683 179h4v4h-4zM828 183h4v4h-4zM470 187h4v4h-4zM687 187h7v4h-7zM746 187h4v4h-4zM754 191h3v4h-3zM513 195h12v4h-12zM529 195h4v4h-4zM553 195h4v4h-4zM761 195h4v4h-4zM513 199h12v3h-12zM541 199h16v3h-16zM604 199h8v3h-8zM828 199h4v3h-4zM596 202h4v4h-4zM820 202h8v4h-8zM899 202h4v4h-4zM612 206h4v4h-4zM824 206h4v4h-4zM899 206h4v4h-4zM990 210h4v4h-4zM738 214h4v4h-4zM899 214h4v4h-4zM553 218h4v4h-4zM588 218h4v4h-4zM820 218h4v4h-4zM899 218h4v4h-4zM509 226h4v4h-4zM521 226h4v4h-4zM529 226h8v4h-8zM604 226h4v4h-4zM982 226h4v4h-4zM600 230h4v4h-4zM624 234h7v4h-7zM537 238h4v4h-4zM663 238h4v4h-4zM742 242h4v4h-4zM564 250h4v4h-4zM580 250h4v4h-4zM600 250h4v4h-4zM899 250h4v4h-4zM549 254h4v4h-4zM663 254h4v4h-4zM899 254h4v4h-4zM490 258h4v4h-4zM596 258h4v4h-4zM872 258h4v4h-4zM533 265h4v4h-4zM781 265h4v4h-4zM872 265h4v4h-4zM505 269h4v4h-4zM872 269h4v4h-4zM1065 269h4v4h-4zM486 273h4v4h-4zM490 277h4v4h-4zM647 277h4v4h-4zM789 277h4v4h-4zM872 277h4v4h-4zM990 277h4v4h-4zM529 281h4v4h-4zM789 281h4v4h-4zM880 281h4v4h-4zM990 281h4v4h-4zM474 289h4v4h-4zM793 289h4v4h-4zM880 289h4v4h-4zM517 293h12v4h-12zM872 297h4v4h-4zM797 301h4v4h-4zM494 305h3v4h-3zM1006 305h4v4h-4zM884 309h3v4h-3zM490 313h4v4h-4zM600 313h4v4h-4zM490 317h4v4h-4zM596 317h4v4h-4zM655 317h4v4h-4zM497 321h4v4h-4zM651 321h4v4h-4zM884 321h3v4h-3zM596 325h4v3h-4zM655 325h4v3h-4zM884 325h3v3h-3zM545 328h4v4h-4zM742 328h4v4h-4zM824 328h4v4h-4zM557 332h3v4h-3zM659 332h4v4h-4zM462 336h4v4h-4zM584 336h8v4h-8zM608 336h8v4h-8zM895 336h12v4h-12zM1084 336h4v4h-4zM1112 336h8v4h-8zM584 340h12v4h-12zM600 340h16v4h-16zM584 344h4v4h-4zM651 344h4v4h-4zM899 344h8v4h-8zM919 348h4v4h-4zM935 348h12v4h-12zM584 352h4v4h-4zM891 352h8v4h-8zM462 356h4v4h-4zM572 360h4v4h-4zM801 360h4v4h-4zM998 360h4v4h-4zM1014 360h3v4h-3zM568 364h4v4h-4zM1002 364h4v4h-4zM1010 364h4v4h-4zM738 368h4v4h-4zM986 368h4v4h-4zM486 372h11v4h-11zM537 372h4v4h-4zM730 372h4v4h-4zM824 376h8v4h-8zM1006 391h4v4h-4zM1136 391h4v4h-4zM509 395h4v4h-4zM714 395h4v4h-4zM994 395h4v4h-4zM1002 395h8v4h-8zM517 399h4v4h-4zM998 399h8v4h-8zM1010 399h4v4h-4zM482 403h4v4h-4zM521 403h4v4h-4zM805 403h4v4h-4zM994 403h8v4h-8zM1014 403h3v4h-3zM482 407h12v4h-12zM501 407h4v4h-4zM509 407h4v4h-4zM612 407h12v4h-12zM627 407h4v4h-4zM714 407h4v4h-4zM950 407h4v4h-4zM994 407h4v4h-4zM1136 407h4v4h-4zM490 411h4v4h-4zM509 411h12v4h-12zM620 411h4v4h-4zM714 411h4v4h-4zM950 411h4v4h-4zM1136 411h4v4h-4zM509 415h8v4h-8zM616 415h4v4h-4zM714 415h4v4h-4zM950 415h4v4h-4zM994 415h4v4h-4zM1136 415h4v4h-4zM600 419h8v5h-8zM950 419h4v5h-4zM974 419h4v5h-4zM994 419h4v5h-4zM1017 419h4v5h-4z"/>
<path fill="#25838e" d="M612 120h15v4h-15zM639 120h4v4h-4zM667 120h4v4h-4zM895 120h8v4h-8zM702 124h4v4h-4zM734 124h4v4h-4zM687 128h3v4h-3zM746 128h4v4h-4zM820 128h4v4h-4zM828 128h4v4h-4zM690 132h4v4h-4zM757 132h4v4h-4zM687 136h3v3h-3zM1065 136h4v3h-4zM667 143h4v4h-4zM750 143h4v4h-4zM1037 143h4v4h-4zM679 147h4v4h-4zM1065 159h4v4h-4zM679 163h4v4h-4zM694 163h4v4h-4zM785 163h4v4h-4zM576 171h4v4h-4zM592 171h12v4h-12zM659 171h4v4h-4zM754 171h7v4h-7zM604 175h16v4h-16zM655 175h4v4h-4zM679 175h4v4h-4zM627 179h12v4h-12zM828 179h4v4h-4zM694 183h4v4h-4zM683 187h4v4h-4zM828 191h4v4h-4zM509 195h4v4h-4zM533 195h4v4h-4zM541 195h12v4h-12zM592 195h4v4h-4zM659 195h4v4h-4zM757 195h4v4h-4zM765 195h4v4h-4zM994 195h4v4h-4zM509 199h4v3h-4zM525 199h16v3h-16zM639 199h4v3h-4zM777 199h4v3h-4zM746 202h4v4h-4zM663 206h4v4h-4zM986 206h4v4h-4zM738 210h4v4h-4zM986 214h4v4h-4zM545 218h8v4h-8zM501 222h4v4h-4zM651 222h4v4h-4zM702 222h4v4h-4zM887 222h4v4h-4zM982 222h4v4h-4zM505 226h4v4h-4zM608 226h8v4h-8zM702 226h4v4h-4zM742 230h4v4h-4zM982 230h4v4h-4zM631 234h4v4h-4zM533 238h4v4h-4zM592 238h4v4h-4zM651 242h4v4h-4zM490 246h4v4h-4zM608 246h4v4h-4zM624 250h11v4h-11zM777 250h4v4h-4zM545 254h4v4h-4zM588 254h4v4h-4zM624 254h3v4h-3zM647 262h4v3h-4zM529 265h4v4h-4zM604 265h4v4h-4zM635 265h4v4h-4zM497 269h8v4h-8zM592 269h4v4h-4zM659 269h4v4h-4zM986 269h4v4h-4zM785 273h4v4h-4zM1065 273h4v4h-4zM1065 277h4v4h-4zM698 281h4v4h-4zM872 281h8v4h-8zM1065 281h4v4h-4zM789 285h4v4h-4zM872 285h8v4h-8zM990 285h4v4h-4zM1065 285h4v4h-4zM872 289h8v4h-8zM604 293h4v4h-4zM635 293h4v4h-4zM793 293h4v4h-4zM872 293h4v4h-4zM880 293h4v4h-4zM793 297h4v4h-4zM876 297h8v4h-8zM482 301h4v4h-4zM880 301h4v4h-4zM490 305h4v4h-4zM635 305h4v4h-4zM698 305h4v4h-4zM797 305h4v4h-4zM880 305h4v4h-4zM482 309h4v4h-4zM698 309h4v4h-4zM797 309h4v4h-4zM872 309h4v4h-4zM486 313h4v4h-4zM647 313h4v4h-4zM698 313h4v4h-4zM884 313h3v4h-3zM620 317h4v4h-4zM639 317h4v4h-4zM651 317h4v4h-4zM1014 317h3v4h-3zM474 321h4v4h-4zM600 321h4v4h-4zM872 321h4v4h-4zM899 321h4v4h-4zM1065 321h4v4h-4zM521 325h4v3h-4zM537 325h4v3h-4zM639 325h4v3h-4zM651 325h4v3h-4zM899 325h4v3h-4zM600 328h4v4h-4zM884 328h3v4h-3zM899 328h4v4h-4zM553 332h4v4h-4zM604 332h16v4h-16zM820 332h4v4h-4zM899 332h4v4h-4zM1069 332h4v4h-4zM466 336h4v4h-4zM576 336h8v4h-8zM592 336h4v4h-4zM600 336h4v4h-4zM659 336h4v4h-4zM891 336h4v4h-4zM1073 336h11v4h-11zM462 340h4v4h-4zM580 340h4v4h-4zM596 340h4v4h-4zM647 340h4v4h-4zM887 340h4v4h-4zM1100 340h4v4h-4zM1120 340h4v4h-4zM1124 344h4v4h-4zM899 348h4v4h-4zM915 348h4v4h-4zM923 348h4v4h-4zM931 348h4v4h-4zM580 356h4v4h-4zM891 356h8v4h-8zM1014 356h3v4h-3zM568 360h4v4h-4zM994 360h4v4h-4zM1002 360h4v4h-4zM1128 360h4v4h-4zM994 364h8v4h-8zM1006 364h4v4h-4zM978 368h8v4h-8zM529 372h8v4h-8zM726 372h4v4h-4zM828 372h4v4h-4zM950 384h4v4h-4zM950 388h4v3h-4zM998 395h4v4h-4zM1136 395h4v4h-4zM505 399h4v4h-4zM513 399h4v4h-4zM994 399h4v4h-4zM509 403h4v4h-4zM1002 403h4v4h-4zM494 407h7v4h-7zM513 407h12v4h-12zM805 407h4v4h-4zM998 407h8v4h-8zM1014 407h3v4h-3zM494 411h15v4h-15zM616 411h4v4h-4zM998 411h4v4h-4zM1017 411h4v4h-4zM1017 415h8v4h-8zM998 419h4v5h-4z"/>
<path fill="#25858e" d="M990 116h4v4h-4zM568 120h12v4h-12zM627 120h12v4h-12zM643 120h4v4h-4zM663 120h4v4h-4zM1037 120h4v4h-4zM706 124h4v4h-4zM714 124h4v4h-4zM730 124h4v4h-4zM742 128h4v4h-4zM824 128h4v4h-4zM754 132h3v4h-3zM887 132h4v4h-4zM757 136h8v3h-8zM781 136h4v3h-4zM832 136h4v3h-4zM675 139h4v4h-4zM663 143h4v4h-4zM777 147h4v4h-4zM1033 151h4v4h-4zM1065 151h4v4h-4zM742 155h4v4h-4zM1065 155h4v4h-4zM698 159h4v4h-4zM761 159h8v4h-8zM907 159h4v4h-4zM564 171h12v4h-12zM580 171h12v4h-12zM647 171h12v4h-12zM600 175h4v4h-4zM828 175h4v4h-4zM620 179h4v4h-4zM639 179h4v4h-4zM820 183h8v4h-8zM742 187h4v4h-4zM824 187h4v4h-4zM505 195h4v4h-4zM537 195h4v4h-4zM828 195h4v4h-4zM505 199h4v3h-4zM899 199h4v3h-4zM990 199h4v3h-4zM584 202h8v4h-8zM986 202h4v4h-4zM986 210h4v4h-4zM887 214h4v4h-4zM541 218h4v4h-4zM592 218h4v4h-4zM738 218h4v4h-4zM887 218h4v4h-4zM982 218h4v4h-4zM497 222h4v4h-4zM702 230h4v4h-4zM635 234h4v4h-4zM643 234h4v4h-4zM702 234h4v4h-4zM982 234h4v4h-4zM529 238h4v4h-4zM702 238h4v4h-4zM887 238h4v4h-4zM702 242h4v4h-4zM887 242h4v4h-4zM612 246h4v4h-4zM742 246h4v4h-4zM982 246h4v4h-4zM560 250h4v4h-4zM584 250h4v4h-4zM596 250h4v4h-4zM541 254h4v4h-4zM620 254h4v4h-4zM899 258h4v4h-4zM982 258h4v4h-4zM982 262h4v3h-4zM517 265h12v4h-12zM608 265h8v4h-8zM635 269h8v4h-8zM604 277h4v4h-4zM513 281h8v4h-8zM525 281h4v4h-4zM600 281h16v4h-16zM635 281h4v4h-4zM596 285h4v4h-4zM990 289h4v4h-4zM1065 289h4v4h-4zM494 293h3v4h-3zM608 293h8v4h-8zM876 293h4v4h-4zM990 293h4v4h-4zM1065 293h4v4h-4zM482 297h4v4h-4zM698 301h4v4h-4zM872 301h8v4h-8zM998 301h4v4h-4zM486 305h4v4h-4zM600 305h4v4h-4zM612 305h4v4h-4zM872 305h4v4h-4zM880 309h4v4h-4zM797 313h4v4h-4zM872 313h4v4h-4zM1010 313h4v4h-4zM486 317h4v4h-4zM616 317h4v4h-4zM624 317h7v4h-7zM643 317h4v4h-4zM698 317h4v4h-4zM797 317h4v4h-4zM872 317h4v4h-4zM884 317h3v4h-3zM899 317h4v4h-4zM494 321h3v4h-3zM698 321h4v4h-4zM797 321h4v4h-4zM505 325h16v3h-16zM525 325h4v3h-4zM600 325h12v3h-12zM635 325h4v3h-4zM643 325h8v3h-8zM742 325h4v3h-4zM872 325h8v3h-8zM1017 325h4v3h-4zM651 328h8v4h-8zM549 332h4v4h-4zM596 332h8v4h-8zM639 332h8v4h-8zM698 332h4v4h-4zM828 332h4v4h-4zM564 336h12v4h-12zM596 336h4v4h-4zM604 336h4v4h-4zM643 336h4v4h-4zM887 336h4v4h-4zM466 340h4v4h-4zM576 340h4v4h-4zM828 340h4v4h-4zM1084 340h8v4h-8zM1096 340h4v4h-4zM1104 340h4v4h-4zM1116 340h4v4h-4zM462 344h4v4h-4zM580 344h4v4h-4zM828 344h4v4h-4zM887 344h4v4h-4zM462 348h4v4h-4zM572 348h8v4h-8zM584 348h4v4h-4zM738 348h4v4h-4zM828 348h4v4h-4zM927 348h4v4h-4zM462 352h4v4h-4zM576 352h8v4h-8zM738 352h4v4h-4zM1017 352h4v4h-4zM466 356h4v4h-4zM576 356h4v4h-4zM466 360h4v4h-4zM738 360h4v4h-4zM990 360h4v4h-4zM1010 360h4v4h-4zM564 364h4v4h-4zM738 364h4v4h-4zM801 364h4v4h-4zM990 364h4v4h-4zM1128 364h4v4h-4zM557 368h3v4h-3zM734 368h4v4h-4zM974 368h4v4h-4zM497 372h12v4h-12zM525 372h4v4h-4zM714 372h12v4h-12zM820 372h8v4h-8zM1132 384h4v4h-4zM509 399h4v4h-4zM950 399h4v4h-4zM513 403h8v4h-8zM950 403h4v4h-4zM1006 403h8v4h-8zM1006 407h8v4h-8zM1014 411h3v4h-3zM1014 415h3v4h-3zM1014 419h3v5h-3z"/>
<path fill="#24878e" d="M490 120h11v4h-11zM517 120h4v4h-4zM564 120h4v4h-4zM580 120h4v4h-4zM608 120h4v4h-4zM647 120h4v4h-4zM659 120h4v4h-4zM710 124h4v4h-4zM769 128h8v4h-8zM765 136h4v3h-4zM698 139h4v4h-4zM1037 139h4v4h-4zM655 143h8v4h-8zM702 143h4v4h-4zM655 147h8v4h-8zM675 147h4v4h-4zM742 147h4v4h-4zM738 151h4v4h-4zM1029 155h4v4h-4zM754 159h7v4h-7zM1025 159h4v4h-4zM690 163h4v4h-4zM781 163h4v4h-4zM903 163h4v4h-4zM667 167h4v4h-4zM781 167h4v4h-4zM1006 167h4v4h-4zM560 171h4v4h-4zM604 171h4v4h-4zM635 171h12v4h-12zM698 171h4v4h-4zM828 171h4v4h-4zM596 175h4v4h-4zM742 175h4v4h-4zM643 179h4v4h-4zM738 179h4v4h-4zM824 179h4v4h-4zM687 183h7v4h-7zM738 183h4v4h-4zM820 187h4v4h-4zM899 191h4v4h-4zM501 195h4v4h-4zM754 195h3v4h-3zM899 195h4v4h-4zM501 199h4v3h-4zM612 199h4v3h-4zM635 199h4v3h-4zM698 199h4v3h-4zM592 202h4v4h-4zM608 206h4v4h-4zM738 206h4v4h-4zM702 210h8v4h-8zM887 210h4v4h-4zM667 214h4v4h-4zM702 214h4v4h-4zM734 214h4v4h-4zM521 218h8v4h-8zM537 218h4v4h-4zM494 222h3v4h-3zM600 222h4v4h-4zM706 222h4v4h-4zM497 226h8v4h-8zM616 226h4v4h-4zM635 226h4v4h-4zM706 226h4v4h-4zM887 226h4v4h-4zM576 230h4v4h-4zM596 230h4v4h-4zM706 230h4v4h-4zM620 234h4v4h-4zM639 234h4v4h-4zM706 234h8v4h-8zM738 234h4v4h-4zM887 234h4v4h-4zM521 238h8v4h-8zM706 238h4v4h-4zM738 238h4v4h-4zM982 238h4v4h-4zM706 242h4v4h-4zM982 242h4v4h-4zM635 246h4v4h-4zM887 246h4v4h-4zM588 250h4v4h-4zM887 250h4v4h-4zM982 250h4v4h-4zM533 254h8v4h-8zM627 254h16v4h-16zM659 254h4v4h-4zM742 254h4v4h-4zM742 258h4v4h-4zM486 262h4v3h-4zM702 262h4v3h-4zM513 265h4v4h-4zM616 265h4v4h-4zM631 265h4v4h-4zM702 265h4v4h-4zM982 265h4v4h-4zM624 269h3v4h-3zM643 269h4v4h-4zM655 269h4v4h-4zM781 269h4v4h-4zM986 273h4v4h-4zM643 277h4v4h-4zM785 277h4v4h-4zM501 281h12v4h-12zM521 281h4v4h-4zM596 281h4v4h-4zM616 281h4v4h-4zM631 281h4v4h-4zM474 285h4v4h-4zM655 285h4v4h-4zM698 285h4v4h-4zM616 293h4v4h-4zM631 293h4v4h-4zM624 297h3v4h-3zM651 297h4v4h-4zM698 297h4v4h-4zM1065 297h4v4h-4zM478 301h4v4h-4zM793 301h4v4h-4zM887 301h4v4h-4zM899 301h4v4h-4zM604 305h8v4h-8zM616 305h4v4h-4zM631 305h4v4h-4zM876 305h4v4h-4zM899 305h4v4h-4zM651 309h4v4h-4zM876 309h4v4h-4zM482 313h4v4h-4zM643 313h4v4h-4zM876 313h4v4h-4zM478 317h8v4h-8zM647 317h4v4h-4zM876 317h4v4h-4zM1065 317h4v4h-4zM647 321h4v4h-4zM742 321h4v4h-4zM876 321h4v4h-4zM887 321h4v4h-4zM1014 321h3v4h-3zM501 325h4v3h-4zM529 325h8v3h-8zM612 325h8v3h-8zM631 325h4v3h-4zM698 325h4v3h-4zM797 325h4v3h-4zM880 325h4v3h-4zM887 325h4v3h-4zM1065 325h4v3h-4zM541 328h4v4h-4zM624 328h3v4h-3zM698 328h4v4h-4zM797 328h4v4h-4zM887 328h4v4h-4zM470 332h4v4h-4zM620 332h4v4h-4zM631 332h8v4h-8zM647 332h4v4h-4zM824 332h4v4h-4zM884 332h3v4h-3zM895 332h4v4h-4zM698 336h4v4h-4zM828 336h4v4h-4zM884 336h3v4h-3zM1069 336h4v4h-4zM572 340h4v4h-4zM651 340h8v4h-8zM1073 340h11v4h-11zM1092 340h4v4h-4zM1108 340h8v4h-8zM466 344h4v4h-4zM572 344h8v4h-8zM1017 344h4v4h-4zM466 348h4v4h-4zM580 348h4v4h-4zM887 348h4v4h-4zM903 348h12v4h-12zM1124 348h4v4h-4zM466 352h4v4h-4zM572 352h4v4h-4zM820 352h4v4h-4zM899 352h4v4h-4zM947 352h3v4h-3zM572 356h4v4h-4zM738 356h4v4h-4zM994 356h8v4h-8zM564 360h4v4h-4zM891 360h4v4h-4zM1006 360h4v4h-4zM470 364h4v4h-4zM560 364h4v4h-4zM986 364h4v4h-4zM474 368h4v4h-4zM801 368h4v4h-4zM828 368h4v4h-4zM509 372h16v4h-16zM950 391h4v4h-4zM950 395h4v4h-4zM1002 411h4v4h-4zM1010 411h4v4h-4zM998 415h4v4h-4z"/>
<path fill="#23898e" d="M1014 112h3v4h-3zM1033 116h4v4h-4zM478 120h4v4h-4zM486 120h4v4h-4zM501 120h4v4h-4zM513 120h4v4h-4zM521 120h4v4h-4zM537 120h4v4h-4zM553 120h11v4h-11zM584 120h4v4h-4zM592 120h16v4h-16zM651 120h8v4h-8zM974 120h4v4h-4zM718 124h12v4h-12zM702 128h8v4h-8zM687 132h3v4h-3zM777 132h4v4h-4zM754 136h3v3h-3zM671 139h4v4h-4zM777 139h4v4h-4zM572 143h4v4h-4zM706 143h8v4h-8zM746 143h4v4h-4zM627 147h16v4h-16zM663 147h4v4h-4zM671 147h4v4h-4zM702 147h12v4h-12zM1033 147h4v4h-4zM702 151h12v4h-12zM777 151h4v4h-4zM702 155h4v4h-4zM1025 155h4v4h-4zM750 159h4v4h-4zM687 163h3v4h-3zM576 167h4v4h-4zM521 171h4v4h-4zM549 171h11v4h-11zM608 171h4v4h-4zM777 171h4v4h-4zM1002 171h4v4h-4zM998 175h4v4h-4zM616 179h4v4h-4zM702 179h4v4h-4zM820 179h4v4h-4zM675 187h4v4h-4zM576 191h4v4h-4zM667 191h4v4h-4zM777 191h4v4h-4zM824 191h4v4h-4zM596 195h4v4h-4zM497 199h4v3h-4zM824 199h4v3h-4zM887 199h4v3h-4zM576 202h8v4h-8zM702 206h12v4h-12zM710 210h4v4h-4zM734 210h4v4h-4zM982 214h4v4h-4zM513 218h8v4h-8zM529 218h8v4h-8zM702 218h4v4h-4zM710 218h4v4h-4zM710 222h4v4h-4zM742 222h4v4h-4zM710 226h4v4h-4zM580 230h4v4h-4zM710 230h4v4h-4zM887 230h4v4h-4zM978 230h4v4h-4zM647 234h4v4h-4zM714 234h4v4h-4zM734 234h4v4h-4zM978 234h4v4h-4zM513 238h8v4h-8zM710 238h4v4h-4zM486 242h4v4h-4zM600 242h4v4h-4zM710 242h4v4h-4zM616 246h4v4h-4zM702 246h4v4h-4zM557 250h3v4h-3zM592 250h4v4h-4zM529 254h4v4h-4zM643 254h4v4h-4zM777 254h4v4h-4zM887 254h4v4h-4zM982 254h4v4h-4zM887 258h4v4h-4zM706 262h8v3h-8zM742 262h4v3h-4zM887 262h4v3h-4zM978 262h4v3h-4zM501 265h12v4h-12zM620 265h4v4h-4zM627 265h4v4h-4zM706 265h4v4h-4zM978 265h4v4h-4zM620 269h4v4h-4zM627 269h8v4h-8zM647 269h8v4h-8zM702 269h4v4h-4zM702 273h4v4h-4zM986 277h4v4h-4zM474 281h4v4h-4zM497 281h4v4h-4zM620 281h4v4h-4zM627 281h4v4h-4zM785 281h4v4h-4zM482 285h4v4h-4zM785 285h4v4h-4zM482 289h4v4h-4zM647 289h4v4h-4zM698 289h4v4h-4zM789 289h4v4h-4zM620 293h4v4h-4zM698 293h4v4h-4zM478 297h4v4h-4zM620 297h4v4h-4zM789 297h4v4h-4zM647 301h4v4h-4zM1065 301h4v4h-4zM793 305h4v4h-4zM887 305h4v4h-4zM478 309h4v4h-4zM899 309h4v4h-4zM1006 309h4v4h-4zM793 313h4v4h-4zM880 313h4v4h-4zM887 313h4v4h-4zM899 313h4v4h-4zM612 317h4v4h-4zM742 317h4v4h-4zM793 317h4v4h-4zM880 317h4v4h-4zM887 317h4v4h-4zM490 321h4v4h-4zM793 321h4v4h-4zM880 321h4v4h-4zM474 325h4v3h-4zM494 325h7v3h-7zM620 325h4v3h-4zM627 325h4v3h-4zM604 328h4v4h-4zM616 328h8v4h-8zM627 328h4v4h-4zM872 328h4v4h-4zM545 332h4v4h-4zM651 332h8v4h-8zM887 332h8v4h-8zM560 336h4v4h-4zM820 336h4v4h-4zM564 340h8v4h-8zM820 340h4v4h-4zM884 340h3v4h-3zM1069 340h4v4h-4zM568 344h4v4h-4zM738 344h4v4h-4zM820 344h4v4h-4zM1081 344h7v4h-7zM1120 344h4v4h-4zM568 348h4v4h-4zM820 348h8v4h-8zM1017 348h4v4h-4zM828 352h4v4h-4zM887 352h4v4h-4zM568 356h4v4h-4zM887 356h4v4h-4zM1002 356h4v4h-4zM1010 356h4v4h-4zM560 360h4v4h-4zM895 360h4v4h-4zM734 364h4v4h-4zM828 364h4v4h-4zM891 364h4v4h-4zM553 368h4v4h-4zM730 368h4v4h-4zM820 368h4v4h-4zM1132 388h4v3h-4zM1006 411h4v4h-4zM1010 415h4v4h-4zM1002 419h4v5h-4zM1010 419h4v5h-4z"/>
<path fill="#228b8d" d="M1029 112h4v4h-4zM994 116h4v4h-4zM482 120h4v4h-4zM505 120h8v4h-8zM525 120h12v4h-12zM541 120h4v4h-4zM588 120h4v4h-4zM903 120h4v4h-4zM710 128h4v4h-4zM698 132h4v4h-4zM828 132h4v4h-4zM887 136h4v3h-4zM907 136h4v3h-4zM1037 136h4v3h-4zM907 139h4v4h-4zM541 143h12v4h-12zM568 143h4v4h-4zM576 143h4v4h-4zM631 143h8v4h-8zM651 143h4v4h-4zM620 147h7v4h-7zM643 147h4v4h-4zM651 147h4v4h-4zM667 147h4v4h-4zM687 151h11v4h-11zM706 155h4v4h-4zM828 155h4v4h-4zM675 163h4v4h-4zM683 163h4v4h-4zM1010 163h4v4h-4zM564 167h12v4h-12zM580 167h4v4h-4zM517 171h4v4h-4zM525 171h4v4h-4zM545 171h4v4h-4zM612 171h4v4h-4zM631 171h4v4h-4zM750 171h4v4h-4zM702 175h4v4h-4zM824 175h4v4h-4zM612 179h4v4h-4zM647 179h4v4h-4zM734 179h4v4h-4zM683 183h4v4h-4zM702 183h4v4h-4zM899 187h4v4h-4zM572 191h4v4h-4zM580 191h4v4h-4zM820 191h4v4h-4zM497 195h4v4h-4zM655 195h4v4h-4zM616 199h4v3h-4zM631 199h4v3h-4zM820 199h4v3h-4zM572 202h4v4h-4zM702 202h4v4h-4zM887 202h4v4h-4zM604 206h4v4h-4zM734 206h4v4h-4zM982 206h4v4h-4zM624 210h3v4h-3zM982 210h4v4h-4zM706 214h8v4h-8zM706 218h4v4h-4zM490 222h4v4h-4zM620 226h4v4h-4zM631 226h4v4h-4zM584 230h4v4h-4zM592 230h4v4h-4zM576 234h4v4h-4zM616 234h4v4h-4zM659 234h8v4h-8zM509 238h4v4h-4zM734 238h4v4h-4zM738 242h4v4h-4zM553 250h4v4h-4zM702 250h4v4h-4zM710 250h4v4h-4zM742 250h4v4h-4zM521 254h8v4h-8zM616 254h4v4h-4zM647 254h12v4h-12zM710 254h4v4h-4zM655 258h4v4h-4zM702 258h12v4h-12zM978 258h4v4h-4zM604 262h4v3h-4zM497 265h4v4h-4zM710 265h4v4h-4zM494 269h3v4h-3zM616 269h4v4h-4zM706 269h8v4h-8zM982 269h4v4h-4zM655 273h4v4h-4zM706 273h8v4h-8zM486 277h4v4h-4zM702 277h4v4h-4zM624 281h3v4h-3zM986 281h4v4h-4zM624 285h3v4h-3zM986 285h4v4h-4zM490 293h4v4h-4zM627 293h4v4h-4zM627 297h12v4h-12zM710 297h4v4h-4zM887 297h4v4h-4zM899 297h4v4h-4zM990 297h4v4h-4zM789 301h4v4h-4zM482 305h4v4h-4zM620 305h4v4h-4zM702 305h4v4h-4zM1002 305h4v4h-4zM1065 305h4v4h-4zM600 309h4v4h-4zM624 309h3v4h-3zM793 309h4v4h-4zM887 309h4v4h-4zM1065 309h4v4h-4zM604 313h4v4h-4zM639 313h4v4h-4zM789 313h4v4h-4zM1065 313h4v4h-4zM600 317h4v4h-4zM478 321h12v4h-12zM643 321h4v4h-4zM490 325h4v3h-4zM624 325h3v3h-3zM793 325h4v3h-4zM631 328h20v4h-20zM876 328h8v4h-8zM891 328h8v4h-8zM1017 328h4v4h-4zM1065 328h4v4h-4zM624 332h7v4h-7zM797 332h4v4h-4zM557 336h3v4h-3zM647 336h8v4h-8zM738 336h4v4h-4zM738 340h4v4h-4zM797 340h4v4h-4zM824 340h4v4h-4zM1017 340h4v4h-4zM564 344h4v4h-4zM797 344h4v4h-4zM824 344h4v4h-4zM1073 344h8v4h-8zM1088 344h16v4h-16zM1108 344h12v4h-12zM734 348h4v4h-4zM1084 348h12v4h-12zM1120 348h4v4h-4zM568 352h4v4h-4zM734 352h4v4h-4zM797 352h4v4h-4zM824 352h4v4h-4zM919 352h4v4h-4zM939 352h8v4h-8zM1014 352h3v4h-3zM1124 352h4v4h-4zM564 356h4v4h-4zM820 356h4v4h-4zM899 356h4v4h-4zM947 356h3v4h-3zM990 356h4v4h-4zM734 360h4v4h-4zM887 360h4v4h-4zM986 360h4v4h-4zM557 364h3v4h-3zM820 364h8v4h-8zM887 364h4v4h-4zM895 364h4v4h-4zM974 364h12v4h-12zM478 368h4v4h-4zM714 368h4v4h-4zM824 368h4v4h-4zM887 368h8v4h-8zM884 384h7v4h-7zM884 403h3v4h-3zM1132 403h4v4h-4zM884 407h3v4h-3zM884 411h7v4h-7zM884 415h7v4h-7zM884 419h7v5h-7zM1006 419h4v5h-4z"/>
<path fill="#228d8d" d="M1017 112h4v4h-4zM545 120h8v4h-8zM907 120h4v4h-4zM679 124h4v4h-4zM1037 124h4v4h-4zM714 128h4v4h-4zM738 128h4v4h-4zM1037 132h4v4h-4zM887 139h4v4h-4zM474 143h4v4h-4zM529 143h12v4h-12zM553 143h15v4h-15zM580 143h4v4h-4zM592 143h12v4h-12zM627 143h4v4h-4zM639 143h12v4h-12zM714 143h4v4h-4zM773 143h4v4h-4zM608 147h12v4h-12zM647 147h4v4h-4zM714 147h4v4h-4zM734 147h8v4h-8zM683 151h4v4h-4zM714 151h4v4h-4zM734 151h4v4h-4zM828 151h4v4h-4zM1029 151h4v4h-4zM710 155h4v4h-4zM738 155h4v4h-4zM777 155h4v4h-4zM828 159h4v4h-4zM557 167h7v4h-7zM828 167h4v4h-4zM513 171h4v4h-4zM541 171h4v4h-4zM576 175h4v4h-4zM592 175h4v4h-4zM820 175h4v4h-4zM1010 175h4v4h-4zM651 179h4v4h-4zM671 179h4v4h-4zM706 179h4v4h-4zM994 179h4v4h-4zM706 183h8v4h-8zM734 183h4v4h-4zM1002 183h4v4h-4zM702 187h4v4h-4zM887 187h4v4h-4zM998 187h4v4h-4zM698 191h4v4h-4zM750 191h4v4h-4zM887 191h4v4h-4zM620 199h4v3h-4zM627 199h4v3h-4zM750 199h4v3h-4zM568 202h4v4h-4zM706 202h8v4h-8zM773 206h4v4h-4zM887 206h4v4h-4zM730 210h4v4h-4zM769 210h8v4h-8zM730 214h4v4h-4zM509 218h4v4h-4zM714 218h4v4h-4zM647 222h4v4h-4zM714 222h4v4h-4zM773 222h4v4h-4zM978 222h4v4h-4zM494 226h3v4h-3zM627 226h4v4h-4zM714 226h4v4h-4zM978 226h4v4h-4zM572 230h4v4h-4zM588 230h4v4h-4zM714 230h4v4h-4zM580 234h4v4h-4zM651 234h8v4h-8zM505 238h4v4h-4zM714 238h4v4h-4zM978 238h4v4h-4zM773 242h4v4h-4zM978 242h4v4h-4zM486 246h4v4h-4zM706 246h8v4h-8zM978 246h4v4h-4zM549 250h4v4h-4zM706 250h4v4h-4zM978 250h4v4h-4zM517 254h4v4h-4zM592 254h4v4h-4zM702 254h8v4h-8zM978 254h4v4h-4zM486 258h4v4h-4zM777 258h4v4h-4zM974 258h4v4h-4zM643 262h4v3h-4zM899 262h4v3h-4zM974 262h4v3h-4zM624 265h3v4h-3zM742 265h4v4h-4zM887 265h4v4h-4zM899 265h4v4h-4zM974 265h4v4h-4zM474 269h4v4h-4zM899 269h4v4h-4zM474 273h4v4h-4zM781 273h4v4h-4zM474 277h4v4h-4zM706 277h8v4h-8zM702 281h12v4h-12zM706 285h4v4h-4zM887 285h4v4h-4zM899 285h4v4h-4zM710 289h4v4h-4zM899 289h4v4h-4zM986 289h4v4h-4zM624 293h3v4h-3zM710 293h4v4h-4zM789 293h4v4h-4zM600 297h4v4h-4zM639 297h4v4h-4zM604 301h4v4h-4zM994 301h4v4h-4zM627 309h24v4h-24zM702 309h4v4h-4zM742 309h4v4h-4zM478 313h4v4h-4zM702 313h4v4h-4zM742 313h4v4h-4zM1006 313h4v4h-4zM604 317h8v4h-8zM702 317h12v4h-12zM789 317h4v4h-4zM604 321h4v4h-4zM639 321h4v4h-4zM702 321h4v4h-4zM789 321h4v4h-4zM891 321h8v4h-8zM710 325h4v3h-4zM891 325h8v3h-8zM497 328h8v4h-8zM513 328h8v4h-8zM537 328h4v4h-4zM608 328h8v4h-8zM710 328h4v4h-4zM793 328h4v4h-4zM872 332h4v4h-4zM1017 332h4v4h-4zM470 336h4v4h-4zM553 336h4v4h-4zM655 336h4v4h-4zM797 336h4v4h-4zM824 336h4v4h-4zM872 336h4v4h-4zM1065 336h4v4h-4zM698 340h4v4h-4zM1065 340h4v4h-4zM734 344h4v4h-4zM1104 344h4v4h-4zM564 348h4v4h-4zM730 348h4v4h-4zM797 348h4v4h-4zM1077 348h7v4h-7zM1096 348h4v4h-4zM1116 348h4v4h-4zM915 352h4v4h-4zM923 352h4v4h-4zM935 352h4v4h-4zM994 352h8v4h-8zM560 356h4v4h-4zM734 356h4v4h-4zM797 356h4v4h-4zM828 356h4v4h-4zM1006 356h4v4h-4zM557 360h3v4h-3zM820 360h4v4h-4zM828 360h4v4h-4zM947 360h3v4h-3zM974 360h4v4h-4zM1065 360h4v4h-4zM714 364h4v4h-4zM1065 364h4v4h-4zM482 368h4v4h-4zM490 368h4v4h-4zM549 368h4v4h-4zM718 368h12v4h-12zM1128 368h4v4h-4zM801 372h4v4h-4zM887 372h8v4h-8zM887 376h8v4h-8zM887 380h8v4h-8zM891 384h4v4h-4zM884 388h7v3h-7zM884 391h7v4h-7zM884 395h7v4h-7zM884 399h3v4h-3zM1132 399h4v4h-4zM887 403h4v4h-4zM887 407h4v4h-4zM891 415h4v4h-4zM1002 415h8v4h-8zM769 419h4v5h-4zM891 419h4v5h-4zM1132 419h4v5h-4z"/>
<path fill="#218f8d" d="M1037 128h4v4h-4zM820 132h8v4h-8zM683 136h4v3h-4zM828 139h4v4h-4zM521 143h8v4h-8zM584 143h8v4h-8zM604 143h8v4h-8zM769 143h4v4h-4zM828 143h4v4h-4zM887 143h4v4h-4zM1033 143h4v4h-4zM604 147h4v4h-4zM828 147h4v4h-4zM746 159h4v4h-4zM777 159h4v4h-4zM584 167h4v4h-4zM1017 167h4v4h-4zM529 171h4v4h-4zM537 171h4v4h-4zM616 171h4v4h-4zM627 171h4v4h-4zM824 171h4v4h-4zM998 171h4v4h-4zM1014 171h3v4h-3zM580 175h12v4h-12zM706 175h4v4h-4zM994 175h4v4h-4zM608 179h4v4h-4zM655 179h8v4h-8zM675 179h8v4h-8zM710 179h4v4h-4zM730 179h4v4h-4zM990 179h4v4h-4zM887 183h4v4h-4zM990 183h4v4h-4zM710 187h4v4h-4zM738 187h4v4h-4zM986 187h4v4h-4zM568 191h4v4h-4zM777 195h4v4h-4zM887 195h4v4h-4zM494 199h3v3h-3zM986 199h4v3h-4zM564 202h4v4h-4zM742 202h4v4h-4zM714 206h4v4h-4zM627 210h4v4h-4zM714 214h4v4h-4zM726 214h4v4h-4zM505 218h4v4h-4zM659 218h4v4h-4zM978 218h4v4h-4zM624 226h3v4h-3zM773 226h4v4h-4zM974 230h4v4h-4zM572 234h4v4h-4zM730 234h4v4h-4zM773 234h4v4h-4zM974 234h4v4h-4zM497 238h8v4h-8zM659 238h4v4h-4zM718 238h4v4h-4zM730 238h4v4h-4zM773 238h4v4h-4zM974 238h4v4h-4zM647 242h4v4h-4zM714 242h4v4h-4zM974 242h4v4h-4zM620 246h4v4h-4zM773 246h4v4h-4zM714 250h4v4h-4zM513 254h4v4h-4zM714 254h4v4h-4zM974 254h4v4h-4zM474 265h4v4h-4zM887 269h4v4h-4zM978 269h4v4h-4zM982 273h4v4h-4zM608 277h4v4h-4zM781 277h4v4h-4zM494 281h3v4h-3zM899 281h4v4h-4zM627 285h4v4h-4zM651 285h4v4h-4zM702 285h4v4h-4zM710 285h4v4h-4zM706 289h4v4h-4zM785 289h4v4h-4zM887 289h4v4h-4zM706 293h4v4h-4zM887 293h4v4h-4zM899 293h4v4h-4zM616 297h4v4h-4zM643 297h8v4h-8zM706 297h4v4h-4zM785 297h4v4h-4zM702 301h4v4h-4zM710 301h4v4h-4zM785 301h4v4h-4zM478 305h4v4h-4zM627 305h4v4h-4zM706 305h4v4h-4zM742 305h4v4h-4zM781 305h12v4h-12zM620 309h4v4h-4zM706 309h8v4h-8zM785 309h8v4h-8zM635 313h4v4h-4zM706 313h12v4h-12zM785 313h4v4h-4zM777 317h4v4h-4zM785 317h4v4h-4zM891 317h8v4h-8zM1010 317h4v4h-4zM624 321h3v4h-3zM635 321h4v4h-4zM706 321h8v4h-8zM777 321h4v4h-4zM486 325h4v3h-4zM714 325h4v3h-4zM777 325h4v3h-4zM789 325h4v3h-4zM1014 325h3v3h-3zM474 328h4v4h-4zM494 328h3v4h-3zM505 328h8v4h-8zM521 328h16v4h-16zM714 328h4v4h-4zM777 328h4v4h-4zM789 328h4v4h-4zM714 332h4v4h-4zM738 332h4v4h-4zM777 332h4v4h-4zM1065 332h4v4h-4zM714 336h4v4h-4zM1017 336h4v4h-4zM470 340h4v4h-4zM560 340h4v4h-4zM714 340h4v4h-4zM470 344h4v4h-4zM698 344h4v4h-4zM777 344h4v4h-4zM884 344h3v4h-3zM1069 344h4v4h-4zM470 348h4v4h-4zM777 348h8v4h-8zM1073 348h4v4h-4zM1112 348h4v4h-4zM564 352h4v4h-4zM777 352h4v4h-4zM793 352h4v4h-4zM903 352h4v4h-4zM911 352h4v4h-4zM927 352h8v4h-8zM1002 352h4v4h-4zM1010 352h4v4h-4zM1065 352h12v4h-12zM1092 352h8v4h-8zM1120 352h4v4h-4zM773 356h4v4h-4zM974 356h4v4h-4zM1065 356h4v4h-4zM470 360h4v4h-4zM714 360h8v4h-8zM824 360h4v4h-4zM978 360h8v4h-8zM553 364h4v4h-4zM718 364h4v4h-4zM730 364h4v4h-4zM486 368h4v4h-4zM494 368h3v4h-3zM545 368h4v4h-4zM895 368h4v4h-4zM895 372h4v4h-4zM801 376h4v4h-4zM895 376h4v4h-4zM884 380h3v4h-3zM895 380h4v4h-4zM895 384h4v4h-4zM891 388h8v3h-8zM769 391h4v4h-4zM891 391h4v4h-4zM1132 391h4v4h-4zM769 395h4v4h-4zM887 399h4v4h-4zM891 407h4v4h-4zM891 411h4v4h-4zM1132 411h4v4h-4zM1132 415h4v4h-4zM895 419h4v5h-4zM947 419h3v5h-3z"/>
<path fill="#20928c" d="M1021 112h8v4h-8zM998 116h4v4h-4zM978 120h4v4h-4zM474 124h4v4h-4zM675 124h4v4h-4zM777 136h4v3h-4zM828 136h4v3h-4zM702 139h8v4h-8zM750 139h4v4h-4zM903 139h4v4h-4zM517 143h4v4h-4zM612 143h15v4h-15zM600 147h4v4h-4zM730 147h4v4h-4zM769 147h8v4h-8zM730 151h4v4h-4zM820 151h4v4h-4zM714 155h4v4h-4zM820 155h8v4h-8zM887 155h4v4h-4zM702 159h12v4h-12zM887 159h4v4h-4zM828 163h4v4h-4zM553 167h4v4h-4zM588 167h8v4h-8zM663 167h4v4h-4zM761 167h4v4h-4zM1002 167h4v4h-4zM1010 167h4v4h-4zM509 171h4v4h-4zM533 171h4v4h-4zM620 171h4v4h-4zM702 171h4v4h-4zM820 171h4v4h-4zM899 171h4v4h-4zM1006 171h4v4h-4zM572 175h4v4h-4zM710 175h4v4h-4zM734 175h8v4h-8zM899 175h4v4h-4zM1002 175h4v4h-4zM667 179h4v4h-4zM714 179h4v4h-4zM1006 179h4v4h-4zM679 183h4v4h-4zM714 183h4v4h-4zM730 183h4v4h-4zM773 183h4v4h-4zM899 183h4v4h-4zM986 183h4v4h-4zM706 187h4v4h-4zM584 191h4v4h-4zM986 191h4v4h-4zM994 191h4v4h-4zM494 195h3v4h-3zM600 195h4v4h-4zM824 195h4v4h-4zM990 195h4v4h-4zM624 199h3v3h-3zM560 202h4v4h-4zM982 202h4v4h-4zM730 206h4v4h-4zM769 206h4v4h-4zM620 210h4v4h-4zM714 210h4v4h-4zM722 210h8v4h-8zM722 214h4v4h-4zM769 214h8v4h-8zM734 218h4v4h-4zM773 218h4v4h-4zM490 226h4v4h-4zM769 226h4v4h-4zM974 226h4v4h-4zM568 230h4v4h-4zM738 230h4v4h-4zM769 230h8v4h-8zM568 234h4v4h-4zM584 234h4v4h-4zM612 234h4v4h-4zM718 234h4v4h-4zM722 238h4v4h-4zM734 242h4v4h-4zM769 242h4v4h-4zM631 246h4v4h-4zM714 246h4v4h-4zM974 246h4v4h-4zM545 250h4v4h-4zM773 250h4v4h-4zM974 250h4v4h-4zM509 254h4v4h-4zM714 258h4v4h-4zM714 262h4v3h-4zM714 265h4v4h-4zM490 269h4v4h-4zM612 269h4v4h-4zM714 269h4v4h-4zM742 269h4v4h-4zM600 273h4v4h-4zM899 273h4v4h-4zM639 277h4v4h-4zM899 277h4v4h-4zM974 277h12v4h-12zM781 281h4v4h-4zM974 281h4v4h-4zM620 285h4v4h-4zM631 285h12v4h-12zM478 289h4v4h-4zM604 289h4v4h-4zM643 289h4v4h-4zM702 289h4v4h-4zM486 293h4v4h-4zM702 293h4v4h-4zM742 293h4v4h-4zM785 293h4v4h-4zM986 293h4v4h-4zM702 297h4v4h-4zM714 297h4v4h-4zM643 301h4v4h-4zM706 301h4v4h-4zM742 301h4v4h-4zM781 301h4v4h-4zM710 305h4v4h-4zM777 305h4v4h-4zM714 309h4v4h-4zM781 309h4v4h-4zM1002 309h4v4h-4zM777 313h8v4h-8zM891 313h8v4h-8zM714 317h4v4h-4zM781 317h4v4h-4zM631 321h4v4h-4zM781 321h8v4h-8zM478 325h8v3h-8zM702 325h8v3h-8zM781 325h4v3h-4zM702 328h8v4h-8zM781 328h4v4h-4zM541 332h4v4h-4zM702 332h4v4h-4zM710 332h4v4h-4zM781 332h8v4h-8zM793 332h4v4h-4zM876 332h4v4h-4zM549 336h4v4h-4zM734 336h4v4h-4zM777 336h4v4h-4zM785 336h4v4h-4zM793 336h4v4h-4zM876 336h4v4h-4zM557 340h3v4h-3zM734 340h4v4h-4zM777 340h4v4h-4zM793 340h4v4h-4zM872 340h4v4h-4zM560 344h4v4h-4zM714 344h12v4h-12zM730 344h4v4h-4zM781 344h8v4h-8zM793 344h4v4h-4zM1014 344h3v4h-3zM1065 344h4v4h-4zM560 348h4v4h-4zM698 348h4v4h-4zM718 348h12v4h-12zM785 348h4v4h-4zM884 348h3v4h-3zM1014 348h3v4h-3zM1065 348h8v4h-8zM1100 348h12v4h-12zM470 352h4v4h-4zM560 352h4v4h-4zM714 352h8v4h-8zM730 352h4v4h-4zM769 352h8v4h-8zM781 352h12v4h-12zM907 352h4v4h-4zM974 352h4v4h-4zM990 352h4v4h-4zM1006 352h4v4h-4zM1077 352h15v4h-15zM1116 352h4v4h-4zM470 356h4v4h-4zM769 356h4v4h-4zM777 356h4v4h-4zM785 356h12v4h-12zM824 356h4v4h-4zM943 356h4v4h-4zM978 356h4v4h-4zM986 356h4v4h-4zM1069 356h4v4h-4zM1124 356h4v4h-4zM553 360h4v4h-4zM698 360h4v4h-4zM730 360h4v4h-4zM773 360h8v4h-8zM797 360h4v4h-4zM899 360h4v4h-4zM1069 360h4v4h-4zM474 364h4v4h-4zM549 364h4v4h-4zM722 364h4v4h-4zM769 364h12v4h-12zM497 368h4v4h-4zM541 368h4v4h-4zM698 368h4v4h-4zM773 368h4v4h-4zM1065 368h4v4h-4zM698 372h4v4h-4zM1128 372h4v4h-4zM710 376h4v4h-4zM884 376h3v4h-3zM1128 376h4v4h-4zM710 380h4v4h-4zM801 380h4v4h-4zM769 388h4v3h-4zM891 395h4v4h-4zM1132 395h4v4h-4zM769 399h4v4h-4zM872 399h8v4h-8zM891 399h4v4h-4zM769 403h4v4h-4zM880 403h4v4h-4zM891 403h4v4h-4zM880 407h4v4h-4zM1132 407h4v4h-4zM895 411h4v4h-4zM947 411h3v4h-3zM769 415h4v4h-4zM895 415h4v4h-4z"/>
<path fill="#20938c" d="M683 128h4v4h-4zM750 132h4v4h-4zM769 132h8v4h-8zM679 136h4v3h-4zM698 136h4v3h-4zM474 139h4v4h-4zM572 139h4v4h-4zM667 139h4v4h-4zM710 139h4v4h-4zM769 139h8v4h-8zM494 143h23v4h-23zM742 143h4v4h-4zM820 143h4v4h-4zM596 147h4v4h-4zM718 147h4v4h-4zM887 147h4v4h-4zM624 151h11v4h-11zM718 151h4v4h-4zM726 151h4v4h-4zM824 151h4v4h-4zM887 151h4v4h-4zM1025 151h4v4h-4zM742 159h4v4h-4zM824 159h4v4h-4zM754 163h11v4h-11zM1021 163h4v4h-4zM474 167h4v4h-4zM517 167h12v4h-12zM545 167h8v4h-8zM754 167h7v4h-7zM765 167h4v4h-4zM474 171h4v4h-4zM501 171h8v4h-8zM624 171h3v4h-3zM706 171h4v4h-4zM887 171h4v4h-4zM568 175h4v4h-4zM604 179h4v4h-4zM663 179h4v4h-4zM726 179h4v4h-4zM773 179h4v4h-4zM887 179h4v4h-4zM899 179h4v4h-4zM998 179h4v4h-4zM671 187h4v4h-4zM564 191h4v4h-4zM651 195h4v4h-4zM698 195h4v4h-4zM820 195h4v4h-4zM982 195h4v4h-4zM557 202h3v4h-3zM714 202h4v4h-4zM773 202h4v4h-4zM600 206h4v4h-4zM726 206h4v4h-4zM631 210h4v4h-4zM667 210h4v4h-4zM576 214h4v4h-4zM501 218h4v4h-4zM769 218h4v4h-4zM974 218h4v4h-4zM643 222h4v4h-4zM769 222h4v4h-4zM974 222h4v4h-4zM742 226h4v4h-4zM722 234h8v4h-8zM769 234h4v4h-4zM494 238h3v4h-3zM726 238h4v4h-4zM769 238h4v4h-4zM474 242h4v4h-4zM718 242h8v4h-8zM730 242h4v4h-4zM474 246h4v4h-4zM738 246h4v4h-4zM769 246h4v4h-4zM529 250h16v4h-16zM769 250h4v4h-4zM474 254h4v4h-4zM501 254h8v4h-8zM612 254h4v4h-4zM769 254h8v4h-8zM474 258h4v4h-4zM474 262h4v3h-4zM777 262h4v3h-4zM494 265h3v4h-3zM596 269h4v4h-4zM974 269h4v4h-4zM482 273h4v4h-4zM714 273h4v4h-4zM742 273h4v4h-4zM887 273h4v4h-4zM974 273h8v4h-8zM714 277h4v4h-4zM887 281h4v4h-4zM643 285h8v4h-8zM742 285h4v4h-4zM781 285h4v4h-4zM974 285h4v4h-4zM714 289h4v4h-4zM742 289h4v4h-4zM781 289h4v4h-4zM974 289h4v4h-4zM982 289h4v4h-4zM714 293h4v4h-4zM781 293h4v4h-4zM742 297h4v4h-4zM781 297h4v4h-4zM714 301h4v4h-4zM777 301h4v4h-4zM891 301h8v4h-8zM624 305h3v4h-3zM714 305h4v4h-4zM891 305h8v4h-8zM998 305h4v4h-4zM777 309h4v4h-4zM891 309h8v4h-8zM608 313h4v4h-4zM620 321h4v4h-4zM627 321h4v4h-4zM714 321h4v4h-4zM1010 321h4v4h-4zM773 325h4v3h-4zM785 325h4v3h-4zM773 328h4v4h-4zM785 328h4v4h-4zM706 332h4v4h-4zM734 332h4v4h-4zM773 332h4v4h-4zM789 332h4v4h-4zM880 332h4v4h-4zM545 336h4v4h-4zM730 336h4v4h-4zM769 336h8v4h-8zM781 336h4v4h-4zM789 336h4v4h-4zM880 336h4v4h-4zM974 336h4v4h-4zM718 340h8v4h-8zM730 340h4v4h-4zM769 340h8v4h-8zM781 340h12v4h-12zM876 340h4v4h-4zM1014 340h3v4h-3zM557 344h3v4h-3zM726 344h4v4h-4zM773 344h4v4h-4zM789 344h4v4h-4zM557 348h3v4h-3zM714 348h4v4h-4zM773 348h4v4h-4zM789 348h8v4h-8zM698 352h4v4h-4zM722 352h8v4h-8zM1100 352h4v4h-4zM1112 352h4v4h-4zM557 356h3v4h-3zM698 356h4v4h-4zM714 356h8v4h-8zM730 356h4v4h-4zM781 356h4v4h-4zM1084 356h4v4h-4zM549 360h4v4h-4zM722 360h8v4h-8zM769 360h4v4h-4zM781 360h4v4h-4zM1124 360h4v4h-4zM698 364h4v4h-4zM726 364h4v4h-4zM884 364h3v4h-3zM947 364h3v4h-3zM1069 364h4v4h-4zM501 368h8v4h-8zM769 368h4v4h-4zM777 368h4v4h-4zM884 368h3v4h-3zM769 372h4v4h-4zM884 372h3v4h-3zM698 376h4v4h-4zM706 376h4v4h-4zM769 376h4v4h-4zM769 380h8v4h-8zM1128 380h4v4h-4zM710 384h4v4h-4zM769 384h8v4h-8zM801 384h4v4h-4zM895 391h4v4h-4zM872 395h8v4h-8zM880 399h4v4h-4zM872 403h8v4h-8zM769 407h4v4h-4zM876 407h4v4h-4zM895 407h4v4h-4zM947 407h3v4h-3zM769 411h4v4h-4zM880 411h4v4h-4zM1065 411h4v4h-4zM880 415h4v4h-4zM947 415h3v4h-3zM880 419h4v5h-4z"/>
<path fill="#1f958b" d="M671 124h4v4h-4zM824 136h4v3h-4zM521 139h8v4h-8zM545 139h4v4h-4zM568 139h4v4h-4zM576 139h4v4h-4zM820 139h8v4h-8zM1033 139h4v4h-4zM490 143h4v4h-4zM824 143h4v4h-4zM474 147h4v4h-4zM572 147h4v4h-4zM592 147h4v4h-4zM722 147h8v4h-8zM1029 147h4v4h-4zM635 151h4v4h-4zM722 151h4v4h-4zM769 151h4v4h-4zM1021 155h4v4h-4zM714 159h4v4h-4zM820 159h4v4h-4zM1014 159h3v4h-3zM671 163h4v4h-4zM698 163h4v4h-4zM765 163h4v4h-4zM887 163h4v4h-4zM1006 163h4v4h-4zM1014 163h3v4h-3zM513 167h4v4h-4zM529 167h16v4h-16zM777 167h4v4h-4zM887 167h4v4h-4zM899 167h4v4h-4zM497 171h4v4h-4zM714 175h4v4h-4zM726 183h4v4h-4zM769 183h4v4h-4zM714 187h4v4h-4zM773 187h4v4h-4zM990 187h4v4h-4zM560 191h4v4h-4zM490 195h4v4h-4zM490 199h4v3h-4zM982 199h4v3h-4zM549 202h8v4h-8zM722 206h4v4h-4zM635 210h8v4h-8zM718 210h4v4h-4zM580 214h4v4h-4zM718 214h4v4h-4zM974 214h8v4h-8zM497 218h4v4h-4zM596 218h4v4h-4zM486 222h4v4h-4zM604 222h4v4h-4zM564 230h4v4h-4zM734 230h4v4h-4zM588 234h4v4h-4zM726 242h4v4h-4zM474 250h4v4h-4zM497 254h4v4h-4zM608 262h4v3h-4zM639 262h4v3h-4zM651 273h4v4h-4zM742 277h4v4h-4zM887 277h4v4h-4zM714 281h4v4h-4zM742 281h4v4h-4zM978 281h8v4h-8zM714 285h4v4h-4zM978 285h8v4h-8zM978 289h4v4h-4zM777 293h4v4h-4zM974 293h4v4h-4zM604 297h4v4h-4zM777 297h4v4h-4zM616 309h4v4h-4zM612 313h4v4h-4zM631 313h4v4h-4zM1002 313h4v4h-4zM773 317h4v4h-4zM608 321h4v4h-4zM773 321h4v4h-4zM490 328h4v4h-4zM738 328h4v4h-4zM769 328h4v4h-4zM974 328h4v4h-4zM1014 328h3v4h-3zM501 332h12v4h-12zM769 332h4v4h-4zM974 332h4v4h-4zM702 336h4v4h-4zM710 336h4v4h-4zM718 336h12v4h-12zM553 340h4v4h-4zM726 340h4v4h-4zM880 340h4v4h-4zM974 340h4v4h-4zM769 344h4v4h-4zM974 344h4v4h-4zM986 344h4v4h-4zM769 348h4v4h-4zM986 348h16v4h-16zM557 352h3v4h-3zM884 352h3v4h-3zM978 352h4v4h-4zM986 352h4v4h-4zM1104 352h8v4h-8zM903 356h4v4h-4zM915 356h12v4h-12zM939 356h4v4h-4zM982 356h4v4h-4zM1073 356h11v4h-11zM1088 356h12v4h-12zM1116 356h8v4h-8zM785 360h4v4h-4zM884 360h3v4h-3zM943 360h4v4h-4zM545 364h4v4h-4zM781 364h4v4h-4zM797 364h4v4h-4zM899 364h4v4h-4zM537 368h4v4h-4zM797 368h4v4h-4zM773 372h4v4h-4zM702 376h4v4h-4zM773 376h4v4h-4zM698 380h4v4h-4zM706 380h4v4h-4zM698 384h4v4h-4zM710 388h4v3h-4zM773 388h4v3h-4zM801 388h4v3h-4zM1065 388h4v3h-4zM773 391h4v4h-4zM801 391h4v4h-4zM880 391h4v4h-4zM880 395h4v4h-4zM895 395h4v4h-4zM1065 395h4v4h-4zM895 399h4v4h-4zM1065 399h4v4h-4zM773 403h4v4h-4zM895 403h4v4h-4zM947 403h3v4h-3zM1065 403h4v4h-4zM872 407h4v4h-4zM1065 407h4v4h-4zM872 411h8v4h-8zM872 415h8v4h-8zM773 419h4v5h-4z"/>
<path fill="#1f978b" d="M982 120h4v4h-4zM620 124h11v4h-11zM639 124h8v4h-8zM702 132h8v4h-8zM820 136h4v3h-4zM529 139h4v4h-4zM541 139h4v4h-4zM549 139h19v4h-19zM580 139h4v4h-4zM714 139h4v4h-4zM568 147h4v4h-4zM576 147h4v4h-4zM584 147h8v4h-8zM820 147h8v4h-8zM620 151h4v4h-4zM639 151h4v4h-4zM773 151h4v4h-4zM734 155h4v4h-4zM1017 159h8v4h-8zM509 167h4v4h-4zM659 167h4v4h-4zM698 167h4v4h-4zM710 171h4v4h-4zM560 175h8v4h-8zM730 175h4v4h-4zM773 175h4v4h-4zM887 175h4v4h-4zM718 179h8v4h-8zM769 179h4v4h-4zM718 183h8v4h-8zM994 183h4v4h-4zM982 191h4v4h-4zM986 195h4v4h-4zM474 199h4v3h-4zM702 199h4v3h-4zM545 202h4v4h-4zM769 202h4v4h-4zM718 206h4v4h-4zM643 210h4v4h-4zM974 210h4v4h-4zM572 214h4v4h-4zM584 214h4v4h-4zM730 218h4v4h-4zM474 222h4v4h-4zM564 234h4v4h-4zM490 238h4v4h-4zM596 238h4v4h-4zM627 246h4v4h-4zM517 250h12v4h-12zM769 258h8v4h-8zM486 269h4v4h-4zM604 269h8v4h-8zM482 277h4v4h-4zM490 281h4v4h-4zM777 281h4v4h-4zM478 285h4v4h-4zM600 285h4v4h-4zM777 289h4v4h-4zM482 293h4v4h-4zM612 297h4v4h-4zM639 301h4v4h-4zM990 301h4v4h-4zM994 305h4v4h-4zM604 309h4v4h-4zM616 313h4v4h-4zM773 313h4v4h-4zM769 317h4v4h-4zM1006 317h4v4h-4zM612 321h8v4h-8zM769 321h4v4h-4zM769 325h4v3h-4zM474 332h4v4h-4zM497 332h4v4h-4zM513 332h16v4h-16zM537 332h4v4h-4zM730 332h4v4h-4zM1014 332h3v4h-3zM541 336h4v4h-4zM706 336h4v4h-4zM1014 336h3v4h-3zM545 340h8v4h-8zM1010 340h4v4h-4zM553 344h4v4h-4zM978 344h8v4h-8zM990 344h4v4h-4zM974 348h12v4h-12zM1002 348h4v4h-4zM1010 348h4v4h-4zM982 352h4v4h-4zM722 356h8v4h-8zM884 356h3v4h-3zM907 356h8v4h-8zM927 356h12v4h-12zM1100 356h8v4h-8zM1112 356h4v4h-4zM545 360h4v4h-4zM789 360h8v4h-8zM1073 360h15v4h-15zM1120 360h4v4h-4zM478 364h4v4h-4zM541 364h4v4h-4zM785 364h4v4h-4zM1073 364h4v4h-4zM1081 364h3v4h-3zM1124 364h4v4h-4zM509 368h28v4h-28zM781 368h4v4h-4zM947 368h3v4h-3zM1065 372h4v4h-4zM1065 380h4v4h-4zM1065 384h4v4h-4zM698 388h4v3h-4zM880 388h4v3h-4zM872 391h8v4h-8zM1065 391h4v4h-4zM773 395h4v4h-4zM773 399h4v4h-4zM947 399h3v4h-3zM773 411h4v4h-4zM773 415h4v4h-4zM1065 415h4v4h-4zM1065 419h4v5h-4z"/>
<path fill="#1f998a" d="M1002 116h4v4h-4zM1033 120h4v4h-4zM616 124h4v4h-4zM631 124h8v4h-8zM683 132h4v4h-4zM675 136h4v3h-4zM517 139h4v4h-4zM533 139h8v4h-8zM533 147h8v4h-8zM580 147h4v4h-4zM643 151h4v4h-4zM777 163h4v4h-4zM824 163h4v4h-4zM501 167h8v4h-8zM596 167h4v4h-4zM824 167h4v4h-4zM494 171h3v4h-3zM714 171h4v4h-4zM746 171h4v4h-4zM549 175h11v4h-11zM624 183h3v4h-3zM675 183h4v4h-4zM769 187h4v4h-4zM982 187h4v4h-4zM553 191h7v4h-7zM588 191h4v4h-4zM746 191h4v4h-4zM990 191h4v4h-4zM474 195h4v4h-4zM647 195h4v4h-4zM974 195h4v4h-4zM706 199h8v3h-8zM974 199h4v3h-4zM978 210h4v4h-4zM494 218h3v4h-3zM895 222h4v4h-4zM474 226h4v4h-4zM560 230h4v4h-4zM730 230h4v4h-4zM592 234h4v4h-4zM608 234h4v4h-4zM655 238h4v4h-4zM895 238h4v4h-4zM895 242h4v4h-4zM494 254h3v4h-3zM895 254h4v4h-4zM600 258h4v4h-4zM651 258h4v4h-4zM738 258h4v4h-4zM490 265h4v4h-4zM777 265h4v4h-4zM612 277h4v4h-4zM616 285h4v4h-4zM777 285h4v4h-4zM478 293h4v4h-4zM978 293h8v4h-8zM891 297h8v4h-8zM986 297h4v4h-4zM608 301h4v4h-4zM773 305h4v4h-4zM773 309h4v4h-4zM620 313h4v4h-4zM769 313h4v4h-4zM738 325h4v3h-4zM974 325h4v3h-4zM1010 325h4v3h-4zM478 328h4v4h-4zM486 328h4v4h-4zM529 332h8v4h-8zM726 332h4v4h-4zM1010 336h4v4h-4zM710 340h4v4h-4zM978 340h4v4h-4zM872 344h4v4h-4zM994 344h4v4h-4zM1010 344h4v4h-4zM1006 348h4v4h-4zM553 356h4v4h-4zM1108 356h4v4h-4zM1088 360h4v4h-4zM1100 360h4v4h-4zM1116 360h4v4h-4zM501 364h8v4h-8zM793 364h4v4h-4zM1077 364h4v4h-4zM1084 364h4v4h-4zM899 368h4v4h-4zM1069 368h4v4h-4zM710 372h4v4h-4zM777 372h4v4h-4zM947 372h3v4h-3zM1065 376h4v4h-4zM702 380h4v4h-4zM706 384h4v4h-4zM880 384h4v4h-4zM1128 384h4v4h-4zM872 388h8v3h-8zM947 388h3v3h-3zM698 391h4v4h-4zM947 391h3v4h-3zM801 395h4v4h-4zM773 407h4v4h-4zM872 419h8v5h-8z"/>
<path fill="#1e9b8a" d="M612 124h4v4h-4zM647 124h4v4h-4zM667 124h4v4h-4zM710 132h4v4h-4zM769 136h8v3h-8zM513 139h4v4h-4zM584 139h4v4h-4zM592 139h4v4h-4zM663 139h4v4h-4zM903 143h4v4h-4zM505 147h4v4h-4zM529 147h4v4h-4zM541 147h16v4h-16zM564 147h4v4h-4zM616 151h4v4h-4zM679 151h4v4h-4zM730 155h4v4h-4zM773 155h4v4h-4zM1017 155h4v4h-4zM679 159h4v4h-4zM750 163h4v4h-4zM820 163h4v4h-4zM986 163h4v4h-4zM820 167h4v4h-4zM490 171h4v4h-4zM525 175h4v4h-4zM545 175h4v4h-4zM769 175h4v4h-4zM990 175h4v4h-4zM1006 175h4v4h-4zM600 179h4v4h-4zM986 179h4v4h-4zM549 191h4v4h-4zM663 191h4v4h-4zM702 191h4v4h-4zM742 191h4v4h-4zM974 191h4v4h-4zM750 195h4v4h-4zM714 199h4v3h-4zM773 199h4v3h-4zM513 202h16v4h-16zM541 202h4v4h-4zM738 202h4v4h-4zM974 202h4v4h-4zM596 206h4v4h-4zM974 206h4v4h-4zM616 210h4v4h-4zM568 214h4v4h-4zM588 214h4v4h-4zM490 218h4v4h-4zM655 218h4v4h-4zM726 218h4v4h-4zM486 226h4v4h-4zM895 226h4v4h-4zM726 230h4v4h-4zM560 234h4v4h-4zM604 242h4v4h-4zM643 242h4v4h-4zM624 246h3v4h-3zM895 246h4v4h-4zM497 250h8v4h-8zM513 250h4v4h-4zM891 250h8v4h-8zM596 254h4v4h-4zM738 254h4v4h-4zM891 254h4v4h-4zM891 258h4v4h-4zM482 262h4v3h-4zM612 262h4v3h-4zM773 262h4v3h-4zM600 269h4v4h-4zM777 277h4v4h-4zM639 289h4v4h-4zM974 297h4v4h-4zM635 301h4v4h-4zM773 301h4v4h-4zM769 305h4v4h-4zM612 309h4v4h-4zM769 309h4v4h-4zM998 309h4v4h-4zM627 313h4v4h-4zM1002 317h4v4h-4zM738 321h4v4h-4zM974 321h4v4h-4zM1006 321h4v4h-4zM482 328h4v4h-4zM734 328h4v4h-4zM978 328h4v4h-4zM718 332h8v4h-8zM978 332h4v4h-4zM501 336h8v4h-8zM978 336h4v4h-4zM541 340h4v4h-4zM541 344h12v4h-12zM876 344h8v4h-8zM553 348h4v4h-4zM549 356h4v4h-4zM505 360h8v4h-8zM541 360h4v4h-4zM903 360h4v4h-4zM1092 360h8v4h-8zM1104 360h4v4h-4zM482 364h4v4h-4zM497 364h4v4h-4zM509 364h8v4h-8zM537 364h4v4h-4zM789 364h4v4h-4zM1088 364h4v4h-4zM785 368h4v4h-4zM793 368h4v4h-4zM1073 368h15v4h-15zM702 372h8v4h-8zM781 372h4v4h-4zM899 372h4v4h-4zM947 384h3v4h-3zM698 395h4v4h-4zM947 395h3v4h-3zM710 399h4v4h-4zM710 403h4v4h-4zM801 415h4v4h-4zM801 419h4v5h-4z"/>
<path fill="#1e9d89" d="M1029 116h4v4h-4zM604 124h8v4h-8zM714 132h4v4h-4zM1033 136h4v3h-4zM490 139h7v4h-7zM588 139h4v4h-4zM596 139h4v4h-4zM659 139h4v4h-4zM486 143h4v4h-4zM734 143h8v4h-8zM1029 143h4v4h-4zM497 147h8v4h-8zM509 147h20v4h-20zM557 147h7v4h-7zM1025 147h4v4h-4zM718 155h4v4h-4zM726 155h4v4h-4zM769 155h4v4h-4zM694 159h4v4h-4zM990 159h4v4h-4zM1017 163h4v4h-4zM497 167h4v4h-4zM655 167h4v4h-4zM1014 167h3v4h-3zM1010 171h4v4h-4zM521 175h4v4h-4zM529 175h4v4h-4zM541 175h4v4h-4zM1002 179h4v4h-4zM671 183h4v4h-4zM982 183h4v4h-4zM998 183h4v4h-4zM734 187h4v4h-4zM974 187h4v4h-4zM994 187h4v4h-4zM517 191h12v4h-12zM545 191h4v4h-4zM592 191h4v4h-4zM710 191h4v4h-4zM604 195h4v4h-4zM486 199h4v3h-4zM474 202h4v4h-4zM509 202h4v4h-4zM529 202h4v4h-4zM537 202h4v4h-4zM734 202h4v4h-4zM978 206h4v4h-4zM474 218h4v4h-4zM722 218h4v4h-4zM639 222h4v4h-4zM738 222h4v4h-4zM718 230h8v4h-8zM604 234h4v4h-4zM895 234h4v4h-4zM474 238h4v4h-4zM891 238h4v4h-4zM891 242h4v4h-4zM891 246h4v4h-4zM505 250h8v4h-8zM608 254h4v4h-4zM738 262h4v3h-4zM769 262h4v3h-4zM777 269h4v4h-4zM635 277h4v4h-4zM486 281h4v4h-4zM769 281h8v4h-8zM769 285h8v4h-8zM769 289h8v4h-8zM891 289h8v4h-8zM773 293h4v4h-4zM891 293h8v4h-8zM608 297h4v4h-4zM769 297h8v4h-8zM612 301h4v4h-4zM769 301h4v4h-4zM624 313h3v4h-3zM738 317h4v4h-4zM974 317h4v4h-4zM978 325h4v3h-4zM1010 328h4v4h-4zM494 332h3v4h-3zM1010 332h4v4h-4zM474 336h4v4h-4zM509 336h12v4h-12zM537 336h4v4h-4zM1006 336h4v4h-4zM702 340h8v4h-8zM982 340h16v4h-16zM1006 340h4v4h-4zM998 344h12v4h-12zM872 348h4v4h-4zM553 352h4v4h-4zM545 356h4v4h-4zM474 360h4v4h-4zM513 360h4v4h-4zM931 360h4v4h-4zM939 360h4v4h-4zM1108 360h8v4h-8zM486 364h11v4h-11zM517 364h4v4h-4zM533 364h4v4h-4zM1092 364h8v4h-8zM1120 364h4v4h-4zM710 368h4v4h-4zM1088 368h8v4h-8zM1124 368h4v4h-4zM797 372h4v4h-4zM777 376h4v4h-4zM899 376h4v4h-4zM947 376h3v4h-3zM777 380h4v4h-4zM880 380h4v4h-4zM947 380h3v4h-3zM702 384h4v4h-4zM876 384h4v4h-4zM1128 388h4v3h-4zM710 391h4v4h-4zM710 395h4v4h-4zM698 399h4v4h-4zM698 403h4v4h-4zM801 411h4v4h-4z"/>
<path fill="#1f9f88" d="M600 124h4v4h-4zM651 124h4v4h-4zM663 124h4v4h-4zM1033 132h4v4h-4zM702 136h8v3h-8zM750 136h4v3h-4zM497 139h16v4h-16zM600 139h4v4h-4zM907 143h4v4h-4zM494 147h3v4h-3zM612 151h4v4h-4zM647 151h12v4h-12zM671 151h8v4h-8zM1021 151h4v4h-4zM722 155h4v4h-4zM998 155h4v4h-4zM738 159h4v4h-4zM994 159h4v4h-4zM710 163h4v4h-4zM990 163h4v4h-4zM490 167h7v4h-7zM600 167h4v4h-4zM750 167h4v4h-4zM773 171h4v4h-4zM994 171h4v4h-4zM474 175h4v4h-4zM726 175h4v4h-4zM627 183h4v4h-4zM974 183h4v4h-4zM513 191h4v4h-4zM541 191h4v4h-4zM706 191h4v4h-4zM714 191h4v4h-4zM773 191h4v4h-4zM978 199h4v3h-4zM533 202h4v4h-4zM895 202h4v4h-4zM978 202h4v4h-4zM592 206h4v4h-4zM895 206h4v4h-4zM647 210h4v4h-4zM895 210h4v4h-4zM592 214h4v4h-4zM663 214h4v4h-4zM718 218h4v4h-4zM895 218h4v4h-4zM608 222h4v4h-4zM891 222h4v4h-4zM557 230h3v4h-3zM895 230h4v4h-4zM557 234h3v4h-3zM891 234h4v4h-4zM734 246h4v4h-4zM738 250h4v4h-4zM604 254h4v4h-4zM486 265h4v4h-4zM478 273h4v4h-4zM777 273h4v4h-4zM895 285h4v4h-4zM769 293h4v4h-4zM608 309h4v4h-4zM738 313h4v4h-4zM974 313h4v4h-4zM998 313h4v4h-4zM1002 321h4v4h-4zM982 325h4v3h-4zM1006 325h4v3h-4zM730 328h4v4h-4zM990 332h4v4h-4zM497 336h4v4h-4zM521 336h12v4h-12zM990 336h8v4h-8zM513 340h20v4h-20zM537 340h4v4h-4zM998 340h8v4h-8zM537 344h4v4h-4zM710 344h4v4h-4zM549 348h4v4h-4zM501 360h4v4h-4zM907 360h4v4h-4zM919 360h12v4h-12zM935 360h4v4h-4zM521 364h12v4h-12zM710 364h4v4h-4zM903 364h4v4h-4zM943 364h4v4h-4zM1100 364h4v4h-4zM1116 364h4v4h-4zM789 368h4v4h-4zM785 372h4v4h-4zM1069 372h4v4h-4zM899 380h4v4h-4zM777 384h4v4h-4zM872 384h4v4h-4zM899 384h4v4h-4zM706 388h4v3h-4zM899 388h4v3h-4zM801 399h4v4h-4zM801 403h4v4h-4zM698 407h4v4h-4zM710 407h4v4h-4zM801 407h4v4h-4zM710 419h4v5h-4z"/>
<path fill="#1fa188" d="M655 124h8v4h-8zM1033 124h4v4h-4zM734 128h4v4h-4zM1033 128h4v4h-4zM746 132h4v4h-4zM907 132h4v4h-4zM710 136h4v3h-4zM486 139h4v4h-4zM655 139h4v4h-4zM1029 139h4v4h-4zM718 143h4v4h-4zM730 143h4v4h-4zM490 147h4v4h-4zM608 151h4v4h-4zM659 151h4v4h-4zM687 155h3v4h-3zM907 155h4v4h-4zM683 159h11v4h-11zM986 159h4v4h-4zM1010 159h4v4h-4zM702 163h8v4h-8zM651 167h4v4h-4zM702 167h12v4h-12zM486 171h4v4h-4zM742 171h4v4h-4zM517 175h4v4h-4zM533 175h8v4h-8zM718 175h8v4h-8zM974 179h4v4h-4zM620 183h4v4h-4zM509 191h4v4h-4zM529 191h4v4h-4zM537 191h4v4h-4zM769 191h4v4h-4zM486 195h4v4h-4zM643 195h4v4h-4zM978 195h4v4h-4zM746 199h4v3h-4zM769 199h4v3h-4zM501 202h8v4h-8zM730 202h4v4h-4zM584 206h8v4h-8zM651 210h4v4h-4zM564 214h4v4h-4zM895 214h4v4h-4zM891 218h4v4h-4zM891 226h4v4h-4zM541 230h4v4h-4zM553 230h4v4h-4zM553 234h4v4h-4zM482 242h4v4h-4zM482 246h4v4h-4zM730 246h4v4h-4zM494 250h3v4h-3zM490 254h4v4h-4zM482 258h4v4h-4zM718 258h4v4h-4zM734 258h4v4h-4zM895 258h4v4h-4zM635 262h4v3h-4zM734 262h4v3h-4zM738 265h4v4h-4zM647 273h4v4h-4zM478 277h4v4h-4zM482 281h4v4h-4zM612 285h4v4h-4zM891 285h4v4h-4zM608 289h4v4h-4zM978 297h4v4h-4zM631 301h4v4h-4zM974 301h4v4h-4zM990 305h4v4h-4zM978 321h4v4h-4zM734 325h4v3h-4zM986 325h20v3h-20zM718 328h12v4h-12zM982 328h12v4h-12zM478 332h4v4h-4zM490 332h4v4h-4zM982 332h8v4h-8zM994 332h4v4h-4zM533 336h4v4h-4zM982 336h4v4h-4zM998 336h8v4h-8zM474 340h4v4h-4zM509 340h4v4h-4zM533 340h4v4h-4zM474 344h4v4h-4zM509 344h4v4h-4zM474 348h4v4h-4zM537 348h8v4h-8zM710 348h4v4h-4zM880 348h4v4h-4zM505 356h8v4h-8zM541 356h4v4h-4zM911 360h8v4h-8zM1104 364h4v4h-4zM706 368h4v4h-4zM1096 368h12v4h-12zM793 372h4v4h-4zM1073 372h4v4h-4zM781 376h4v4h-4zM777 388h4v3h-4zM1128 391h4v4h-4zM698 411h4v4h-4zM710 411h4v4h-4zM710 415h4v4h-4zM698 419h4v5h-4zM899 419h4v5h-4z"/>
<path fill="#1fa287" d="M1006 116h4v4h-4zM986 120h4v4h-4zM974 124h4v4h-4zM679 128h4v4h-4zM742 132h4v4h-4zM474 136h4v3h-4zM604 139h8v4h-8zM651 139h4v4h-4zM746 139h4v4h-4zM722 143h8v4h-8zM1025 143h4v4h-4zM604 151h4v4h-4zM683 155h4v4h-4zM690 155h8v4h-8zM994 155h4v4h-4zM474 163h4v4h-4zM714 163h4v4h-4zM998 167h4v4h-4zM497 175h20v4h-20zM974 175h4v4h-4zM596 179h4v4h-4zM631 183h4v4h-4zM730 187h4v4h-4zM505 191h4v4h-4zM533 191h4v4h-4zM895 191h4v4h-4zM608 195h4v4h-4zM773 195h4v4h-4zM895 199h4v3h-4zM497 202h4v4h-4zM726 202h4v4h-4zM891 202h4v4h-4zM576 206h4v4h-4zM612 210h4v4h-4zM655 210h12v4h-12zM891 210h4v4h-4zM560 214h4v4h-4zM891 214h4v4h-4zM537 230h4v4h-4zM545 230h4v4h-4zM891 230h4v4h-4zM596 234h8v4h-8zM486 238h4v4h-4zM722 246h8v4h-8zM600 254h4v4h-4zM722 258h12v4h-12zM718 262h4v3h-4zM891 262h4v3h-4zM773 265h4v4h-4zM891 265h4v4h-4zM482 269h4v4h-4zM616 277h4v4h-4zM769 277h8v4h-8zM604 285h4v4h-4zM635 289h4v4h-4zM982 297h4v4h-4zM616 301h4v4h-4zM986 301h4v4h-4zM974 305h4v4h-4zM738 309h4v4h-4zM974 309h4v4h-4zM994 309h4v4h-4zM978 313h4v4h-4zM978 317h4v4h-4zM998 317h4v4h-4zM734 321h4v4h-4zM982 321h8v4h-8zM998 321h4v4h-4zM730 325h4v3h-4zM1006 328h4v4h-4zM482 332h8v4h-8zM1006 332h4v4h-4zM494 336h3v4h-3zM986 336h4v4h-4zM501 340h8v4h-8zM505 344h4v4h-4zM513 344h24v4h-24zM702 344h8v4h-8zM509 348h8v4h-8zM545 348h4v4h-4zM876 348h4v4h-4zM549 352h4v4h-4zM710 352h4v4h-4zM474 356h4v4h-4zM513 356h4v4h-4zM478 360h4v4h-4zM497 360h4v4h-4zM517 360h4v4h-4zM537 360h4v4h-4zM710 360h4v4h-4zM907 364h4v4h-4zM1108 364h8v4h-8zM702 368h4v4h-4zM903 368h4v4h-4zM1108 368h4v4h-4zM1116 368h8v4h-8zM789 372h4v4h-4zM1077 372h15v4h-15zM1124 372h4v4h-4zM785 376h4v4h-4zM797 376h4v4h-4zM880 376h4v4h-4zM1069 376h4v4h-4zM1124 376h4v4h-4zM876 380h4v4h-4zM1069 380h4v4h-4zM702 388h4v3h-4zM777 391h4v4h-4zM899 391h4v4h-4zM1128 399h4v4h-4zM1128 403h4v4h-4zM899 411h4v4h-4zM698 415h4v4h-4zM899 415h4v4h-4zM1128 419h4v5h-4z"/>
<path fill="#20a486" d="M568 124h8v4h-8zM596 124h4v4h-4zM730 128h4v4h-4zM679 132h4v4h-4zM671 136h4v3h-4zM714 136h4v3h-4zM903 136h4v3h-4zM612 139h4v4h-4zM631 139h8v4h-8zM474 151h4v4h-4zM667 151h4v4h-4zM1002 151h8v4h-8zM1002 155h4v4h-4zM773 159h4v4h-4zM486 167h4v4h-4zM647 167h4v4h-4zM714 167h4v4h-4zM635 183h4v4h-4zM667 187h4v4h-4zM702 195h4v4h-4zM895 195h4v4h-4zM891 199h4v3h-4zM494 202h3v4h-3zM722 202h4v4h-4zM580 206h4v4h-4zM891 206h4v4h-4zM486 218h4v4h-4zM612 222h4v4h-4zM549 230h4v4h-4zM549 234h4v4h-4zM651 238h4v4h-4zM730 254h8v4h-8zM730 262h4v3h-4zM769 265h4v4h-4zM773 269h4v4h-4zM769 273h8v4h-8zM978 301h4v4h-4zM738 305h4v4h-4zM734 317h4v4h-4zM982 317h4v4h-4zM990 321h8v4h-8zM994 328h4v4h-4zM1002 328h4v4h-4zM998 332h8v4h-8zM497 340h4v4h-4zM501 344h4v4h-4zM505 348h4v4h-4zM533 348h4v4h-4zM702 348h8v4h-8zM474 352h4v4h-4zM541 352h8v4h-8zM872 352h4v4h-4zM501 356h4v4h-4zM482 360h15v4h-15zM521 360h12v4h-12zM702 364h8v4h-8zM943 368h4v4h-4zM1112 368h4v4h-4zM880 372h4v4h-4zM1104 372h4v4h-4zM876 376h4v4h-4zM1073 376h4v4h-4zM781 380h4v4h-4zM872 380h4v4h-4zM1069 384h4v4h-4zM1069 388h4v3h-4zM706 391h4v4h-4zM706 395h4v4h-4zM899 395h4v4h-4zM1128 395h4v4h-4zM706 399h4v4h-4zM706 403h4v4h-4zM777 403h4v4h-4zM899 407h4v4h-4zM943 407h4v4h-4zM1069 407h4v4h-4zM943 411h4v4h-4zM1069 411h4v4h-4zM1128 415h4v4h-4z"/>
<path fill="#21a685" d="M1029 120h4v4h-4zM486 124h15v4h-15zM513 124h8v4h-8zM557 124h11v4h-11zM576 124h4v4h-4zM588 124h8v4h-8zM726 128h4v4h-4zM974 136h4v3h-4zM647 139h4v4h-4zM1025 139h4v4h-4zM486 147h4v4h-4zM663 151h4v4h-4zM675 159h4v4h-4zM986 167h4v4h-4zM769 171h4v4h-4zM974 171h4v4h-4zM494 175h3v4h-3zM616 183h4v4h-4zM667 183h4v4h-4zM891 187h4v4h-4zM497 191h8v4h-8zM891 191h4v4h-4zM978 191h4v4h-4zM710 195h8v4h-8zM769 195h4v4h-4zM490 202h4v4h-4zM557 214h3v4h-3zM474 230h4v4h-4zM533 230h4v4h-4zM541 234h8v4h-8zM639 242h4v4h-4zM718 246h4v4h-4zM490 250h4v4h-4zM722 254h8v4h-8zM647 258h4v4h-4zM478 262h4v3h-4zM616 262h4v3h-4zM482 265h4v4h-4zM718 265h4v4h-4zM730 265h8v4h-8zM738 269h4v4h-4zM891 269h4v4h-4zM643 273h4v4h-4zM631 277h4v4h-4zM891 281h8v4h-8zM612 289h4v4h-4zM738 293h4v4h-4zM620 301h4v4h-4zM738 301h4v4h-4zM978 309h4v4h-4zM990 309h4v4h-4zM734 313h4v4h-4zM986 317h4v4h-4zM994 317h4v4h-4zM718 325h12v3h-12zM998 328h4v4h-4zM517 348h16v4h-16zM505 352h8v4h-8zM525 352h16v4h-16zM702 352h4v4h-4zM497 356h4v4h-4zM517 356h24v4h-24zM710 356h4v4h-4zM533 360h4v4h-4zM927 364h8v4h-8zM880 368h4v4h-4zM943 372h4v4h-4zM1092 372h4v4h-4zM1108 372h8v4h-8zM1120 372h4v4h-4zM789 376h8v4h-8zM872 376h4v4h-4zM797 380h4v4h-4zM1069 391h4v4h-4zM777 395h4v4h-4zM1069 395h4v4h-4zM777 399h4v4h-4zM899 399h4v4h-4zM899 403h4v4h-4zM1069 403h4v4h-4zM777 407h4v4h-4zM777 411h4v4h-4zM943 415h4v4h-4zM943 419h4v5h-4zM1069 419h4v5h-4z"/>
<path fill="#22a884" d="M482 124h4v4h-4zM501 124h12v4h-12zM521 124h4v4h-4zM541 124h4v4h-4zM549 124h8v4h-8zM580 124h8v4h-8zM474 128h4v4h-4zM718 128h8v4h-8zM1029 136h4v3h-4zM616 139h4v4h-4zM627 139h4v4h-4zM639 139h8v4h-8zM478 143h4v4h-4zM903 159h4v4h-4zM576 163h4v4h-4zM667 163h4v4h-4zM604 167h4v4h-4zM982 167h4v4h-4zM982 179h4v4h-4zM718 187h12v4h-12zM978 187h4v4h-4zM474 191h4v4h-4zM639 195h4v4h-4zM706 195h4v4h-4zM742 199h4v3h-4zM718 202h4v4h-4zM572 206h4v4h-4zM651 218h4v4h-4zM635 222h4v4h-4zM738 226h4v4h-4zM509 230h4v4h-4zM525 230h8v4h-8zM608 242h4v4h-4zM486 254h4v4h-4zM718 254h4v4h-4zM722 262h4v3h-4zM718 269h4v4h-4zM769 269h4v4h-4zM624 273h3v4h-3zM738 273h4v4h-4zM478 281h4v4h-4zM608 285h4v4h-4zM631 289h4v4h-4zM738 297h4v4h-4zM624 301h7v4h-7zM982 301h4v4h-4zM986 305h4v4h-4zM982 313h4v4h-4zM994 313h4v4h-4zM990 317h4v4h-4zM730 321h4v4h-4zM478 336h4v4h-4zM490 336h4v4h-4zM494 340h3v4h-3zM497 344h4v4h-4zM501 348h4v4h-4zM501 352h4v4h-4zM513 352h12v4h-12zM706 352h4v4h-4zM876 352h8v4h-8zM872 356h4v4h-4zM702 360h4v4h-4zM880 360h4v4h-4zM880 364h4v4h-4zM911 364h16v4h-16zM935 364h8v4h-8zM872 368h8v4h-8zM907 368h4v4h-4zM872 372h8v4h-8zM903 372h4v4h-4zM1096 372h8v4h-8zM1116 372h4v4h-4zM1077 376h4v4h-4zM1120 376h4v4h-4zM1073 380h4v4h-4zM1124 380h4v4h-4zM1073 384h8v4h-8zM1073 388h4v3h-4zM702 391h4v4h-4zM1069 399h4v4h-4zM943 403h4v4h-4zM706 407h4v4h-4zM1128 407h4v4h-4zM777 415h4v4h-4zM1069 415h4v4h-4z"/>
<path fill="#24aa83" d="M1025 116h4v4h-4zM478 124h4v4h-4zM537 124h4v4h-4zM545 124h4v4h-4zM899 124h4v4h-4zM974 132h4v4h-4zM986 136h8v3h-8zM1025 136h4v3h-4zM620 139h4v4h-4zM482 143h4v4h-4zM899 147h4v4h-4zM1010 147h4v4h-4zM600 151h4v4h-4zM679 155h4v4h-4zM1014 155h3v4h-3zM769 159h4v4h-4zM998 159h4v4h-4zM994 163h4v4h-4zM1002 163h4v4h-4zM490 175h4v4h-4zM576 179h4v4h-4zM584 179h12v4h-12zM639 183h4v4h-4zM891 183h4v4h-4zM895 187h4v4h-4zM494 191h3v4h-3zM596 191h4v4h-4zM659 191h4v4h-4zM891 195h4v4h-4zM553 214h4v4h-4zM497 230h12v4h-12zM513 230h12v4h-12zM474 234h4v4h-4zM537 234h4v4h-4zM624 238h3v4h-3zM478 242h4v4h-4zM478 246h4v4h-4zM478 258h4v4h-4zM726 262h4v3h-4zM478 269h4v4h-4zM604 273h4v4h-4zM639 273h4v4h-4zM891 273h4v4h-4zM738 277h4v4h-4zM891 277h4v4h-4zM738 285h4v4h-4zM624 289h3v4h-3zM738 289h4v4h-4zM978 305h4v4h-4zM734 309h4v4h-4zM986 309h4v4h-4zM986 313h4v4h-4zM478 356h4v4h-4zM490 356h7v4h-7zM702 356h4v4h-4zM706 360h4v4h-4zM872 360h4v4h-4zM872 364h8v4h-8zM907 372h4v4h-4zM903 376h4v4h-4zM943 376h4v4h-4zM1081 376h3v4h-3zM1116 376h4v4h-4zM785 380h4v4h-4zM1077 380h4v4h-4zM781 384h4v4h-4zM797 384h4v4h-4zM943 384h4v4h-4zM1081 384h3v4h-3zM1124 384h4v4h-4zM943 388h4v3h-4zM943 391h4v4h-4zM702 395h4v4h-4zM702 399h4v4h-4zM943 399h4v4h-4zM702 403h4v4h-4zM706 411h4v4h-4zM1128 411h4v4h-4zM706 419h4v5h-4zM777 419h4v5h-4zM1073 419h4v5h-4z"/>
<path fill="#25ac82" d="M1025 120h4v4h-4zM525 124h4v4h-4zM533 124h4v4h-4zM998 132h4v4h-4zM1029 132h4v4h-4zM482 139h4v4h-4zM624 139h3v4h-3zM742 139h4v4h-4zM899 139h4v4h-4zM974 139h4v4h-4zM986 139h4v4h-4zM899 143h4v4h-4zM1017 143h8v4h-8zM1014 147h3v4h-3zM1017 151h4v4h-4zM990 155h4v4h-4zM974 159h4v4h-4zM572 163h4v4h-4zM580 163h4v4h-4zM742 163h8v4h-8zM899 163h4v4h-4zM974 163h4v4h-4zM643 167h4v4h-4zM974 167h4v4h-4zM891 171h8v4h-8zM982 171h4v4h-4zM580 179h4v4h-4zM643 183h4v4h-4zM978 183h4v4h-4zM576 187h4v4h-4zM612 195h4v4h-4zM474 206h4v4h-4zM576 210h4v4h-4zM474 214h4v4h-4zM537 214h16v4h-16zM659 214h4v4h-4zM600 218h4v4h-4zM482 222h4v4h-4zM533 234h4v4h-4zM486 250h4v4h-4zM730 250h8v4h-8zM631 262h4v3h-4zM722 265h8v4h-8zM722 269h4v4h-4zM730 269h8v4h-8zM734 273h4v4h-4zM738 281h4v4h-4zM616 289h8v4h-8zM627 289h4v4h-4zM734 293h4v4h-4zM734 297h4v4h-4zM734 301h4v4h-4zM734 305h4v4h-4zM718 309h4v4h-4zM730 309h4v4h-4zM982 309h4v4h-4zM718 313h4v4h-4zM990 313h4v4h-4zM730 317h4v4h-4zM482 336h8v4h-8zM478 340h4v4h-4zM490 340h4v4h-4zM497 348h4v4h-4zM497 352h4v4h-4zM482 356h8v4h-8zM706 356h4v4h-4zM876 356h8v4h-8zM876 360h4v4h-4zM911 368h4v4h-4zM919 368h12v4h-12zM939 368h4v4h-4zM1084 376h4v4h-4zM1104 376h12v4h-12zM789 380h8v4h-8zM943 380h4v4h-4zM1081 380h3v4h-3zM797 388h4v3h-4zM1077 388h4v3h-4zM1073 391h4v4h-4zM943 395h4v4h-4zM702 407h4v4h-4zM706 415h4v4h-4z"/>
<path fill="#27ad81" d="M990 120h4v4h-4zM529 124h4v4h-4zM907 124h4v4h-4zM1029 124h4v4h-4zM675 128h4v4h-4zM1029 128h4v4h-4zM994 136h4v3h-4zM478 139h4v4h-4zM1021 139h4v4h-4zM974 143h4v4h-4zM974 147h4v4h-4zM1021 147h4v4h-4zM974 151h4v4h-4zM998 151h4v4h-4zM974 155h4v4h-4zM773 167h4v4h-4zM990 167h4v4h-4zM895 175h4v4h-4zM986 175h4v4h-4zM572 179h4v4h-4zM891 179h4v4h-4zM978 179h4v4h-4zM612 183h4v4h-4zM738 191h4v4h-4zM635 195h4v4h-4zM486 202h4v4h-4zM588 210h4v4h-4zM533 214h4v4h-4zM616 222h4v4h-4zM600 238h4v4h-4zM647 238h4v4h-4zM726 250h4v4h-4zM643 258h4v4h-4zM895 262h4v3h-4zM895 265h4v4h-4zM726 269h4v4h-4zM895 269h4v4h-4zM631 273h8v4h-8zM718 273h4v4h-4zM620 277h4v4h-4zM718 277h4v4h-4zM734 289h4v4h-4zM718 297h4v4h-4zM730 297h4v4h-4zM718 301h4v4h-4zM730 301h4v4h-4zM718 305h4v4h-4zM730 305h4v4h-4zM982 305h4v4h-4zM730 313h4v4h-4zM726 321h4v4h-4zM478 344h4v4h-4zM494 344h3v4h-3zM915 368h4v4h-4zM931 368h8v4h-8zM911 372h4v4h-4zM1088 376h4v4h-4zM793 384h4v4h-4zM1084 384h4v4h-4zM781 388h4v3h-4zM1124 388h4v3h-4zM781 391h4v4h-4zM1073 395h4v4h-4zM1073 407h4v4h-4zM702 411h4v4h-4zM1073 411h4v4h-4zM1073 415h4v4h-4zM702 419h4v5h-4z"/>
<path fill="#29af7f" d="M1010 116h4v4h-4zM1025 124h4v4h-4zM974 128h4v4h-4zM1025 128h4v4h-4zM474 132h4v4h-4zM994 132h4v4h-4zM1002 132h4v4h-4zM1025 132h4v4h-4zM1014 143h3v4h-3zM478 147h8v4h-8zM1006 147h4v4h-4zM1017 147h4v4h-4zM596 151h4v4h-4zM1010 151h4v4h-4zM1006 159h4v4h-4zM568 163h4v4h-4zM608 167h4v4h-4zM994 167h4v4h-4zM482 171h4v4h-4zM990 171h4v4h-4zM891 175h4v4h-4zM978 175h4v4h-4zM647 183h16v4h-16zM895 183h4v4h-4zM572 187h4v4h-4zM490 191h4v4h-4zM746 195h4v4h-4zM482 199h4v3h-4zM568 206h4v4h-4zM580 210h8v4h-8zM592 210h4v4h-4zM608 210h4v4h-4zM525 214h8v4h-8zM482 226h4v4h-4zM525 234h8v4h-8zM643 238h4v4h-4zM722 250h4v4h-4zM482 254h4v4h-4zM624 258h3v4h-3zM478 265h4v4h-4zM627 273h4v4h-4zM722 273h4v4h-4zM730 273h4v4h-4zM895 273h4v4h-4zM627 277h4v4h-4zM734 277h4v4h-4zM895 277h4v4h-4zM718 293h4v4h-4zM730 293h4v4h-4zM722 309h8v4h-8zM718 317h4v4h-4zM718 321h8v4h-8zM486 340h4v4h-4zM478 348h4v4h-4zM478 352h4v4h-4zM494 352h3v4h-3zM915 372h8v4h-8zM939 372h4v4h-4zM907 376h4v4h-4zM1092 376h4v4h-4zM1100 376h4v4h-4zM903 380h4v4h-4zM1084 380h4v4h-4zM1120 380h4v4h-4zM785 384h4v4h-4zM903 384h4v4h-4zM903 388h4v3h-4zM1073 399h4v4h-4zM781 403h4v4h-4zM1073 403h4v4h-4z"/>
<path fill="#2cb17e" d="M675 132h4v4h-4zM1006 155h4v4h-4zM671 159h4v4h-4zM734 159h4v4h-4zM564 163h4v4h-4zM773 163h4v4h-4zM982 163h4v4h-4zM639 167h4v4h-4zM478 171h4v4h-4zM734 171h8v4h-8zM486 175h4v4h-4zM663 183h4v4h-4zM580 187h4v4h-4zM742 195h4v4h-4zM572 210h4v4h-4zM604 210h4v4h-4zM521 214h4v4h-4zM478 222h4v4h-4zM631 222h4v4h-4zM494 230h3v4h-3zM521 234h4v4h-4zM482 238h4v4h-4zM620 238h4v4h-4zM627 238h4v4h-4zM612 242h4v4h-4zM482 250h4v4h-4zM604 258h4v4h-4zM639 258h4v4h-4zM620 262h4v3h-4zM620 273h4v4h-4zM726 273h4v4h-4zM722 277h4v4h-4zM734 285h4v4h-4zM718 289h4v4h-4zM730 289h4v4h-4zM722 297h8v4h-8zM722 301h8v4h-8zM722 305h8v4h-8zM726 317h4v4h-4zM482 340h4v4h-4zM490 344h4v4h-4zM494 348h3v4h-3zM923 372h4v4h-4zM935 372h4v4h-4zM1096 376h4v4h-4zM1088 380h8v4h-8zM1104 380h16v4h-16zM789 384h4v4h-4zM1120 384h4v4h-4zM1081 388h3v3h-3zM797 391h4v4h-4zM903 391h4v4h-4zM1077 391h4v4h-4zM781 395h4v4h-4zM781 399h4v4h-4zM781 407h4v4h-4zM702 415h4v4h-4zM1077 419h4v5h-4z"/>
<path fill="#2eb37c" d="M990 139h4v4h-4zM675 155h4v4h-4zM1002 159h4v4h-4zM560 163h4v4h-4zM584 163h4v4h-4zM998 163h4v4h-4zM482 167h4v4h-4zM746 167h4v4h-4zM891 167h4v4h-4zM978 171h4v4h-4zM986 171h4v4h-4zM982 175h4v4h-4zM568 179h4v4h-4zM482 195h4v4h-4zM616 195h4v4h-4zM478 199h4v3h-4zM564 206h4v4h-4zM505 214h16v4h-16zM596 214h4v4h-4zM647 218h4v4h-4zM734 222h4v4h-4zM497 234h4v4h-4zM517 234h4v4h-4zM631 238h12v4h-12zM635 242h4v4h-4zM718 250h4v4h-4zM635 258h4v4h-4zM730 277h4v4h-4zM718 281h4v4h-4zM734 281h4v4h-4zM718 285h4v4h-4zM722 293h8v4h-8zM722 313h8v4h-8zM722 317h4v4h-4zM482 344h8v4h-8zM490 352h4v4h-4zM927 372h8v4h-8zM911 376h4v4h-4zM939 376h4v4h-4zM1096 380h8v4h-8zM1088 384h4v4h-4zM793 388h4v3h-4zM903 395h4v4h-4zM1077 395h4v4h-4zM1077 399h4v4h-4zM1077 403h4v4h-4zM1077 407h4v4h-4zM781 411h4v4h-4zM1077 411h4v4h-4zM903 415h4v4h-4zM1077 415h4v4h-4zM903 419h4v5h-4zM1124 419h4v5h-4z"/>
<path fill="#31b57b" d="M994 120h4v4h-4zM671 128h4v4h-4zM1006 128h8v4h-8zM990 132h4v4h-4zM1006 132h4v4h-4zM521 136h8v3h-8zM572 136h4v3h-4zM667 136h4v3h-4zM746 136h4v3h-4zM998 136h4v3h-4zM474 155h4v4h-4zM671 155h4v4h-4zM1010 155h4v4h-4zM474 159h4v4h-4zM478 167h4v4h-4zM612 167h4v4h-4zM730 171h4v4h-4zM474 179h4v4h-4zM895 179h4v4h-4zM608 183h4v4h-4zM631 195h4v4h-4zM482 218h4v4h-4zM734 226h4v4h-4zM501 234h16v4h-16zM478 254h4v4h-4zM631 258h4v4h-4zM624 277h3v4h-3zM726 277h4v4h-4zM730 285h4v4h-4zM722 289h8v4h-8zM490 348h4v4h-4zM482 352h4v4h-4zM915 376h12v4h-12zM935 376h4v4h-4zM907 380h4v4h-4zM939 380h4v4h-4zM907 384h4v4h-4zM1092 384h4v4h-4zM1108 384h12v4h-12zM785 388h4v3h-4zM907 388h4v3h-4zM1084 388h4v3h-4zM907 391h4v4h-4zM1081 391h3v4h-3zM1124 391h4v4h-4zM1081 395h3v4h-3zM903 407h4v4h-4zM903 411h4v4h-4zM781 419h4v5h-4z"/>
<path fill="#34b679" d="M1021 116h4v4h-4zM907 128h4v4h-4zM738 132h4v4h-4zM529 136h4v3h-4zM564 136h8v3h-8zM576 136h4v3h-4zM907 147h4v4h-4zM592 151h4v4h-4zM1014 151h3v4h-3zM718 159h8v4h-8zM730 159h4v4h-4zM557 163h3v4h-3zM588 163h4v4h-4zM635 167h4v4h-4zM568 187h4v4h-4zM663 187h4v4h-4zM486 191h4v4h-4zM655 191h4v4h-4zM478 195h4v4h-4zM474 210h4v4h-4zM596 210h4v4h-4zM497 214h8v4h-8zM655 214h4v4h-4zM730 222h4v4h-4zM478 226h4v4h-4zM620 258h4v4h-4zM627 258h4v4h-4zM627 262h4v3h-4zM730 281h4v4h-4zM482 348h8v4h-8zM486 352h4v4h-4zM927 376h8v4h-8zM911 380h28v4h-28zM911 384h4v4h-4zM939 384h4v4h-4zM1096 384h12v4h-12zM789 388h4v3h-4zM911 388h4v3h-4zM1120 388h4v3h-4zM785 391h4v4h-4zM911 391h4v4h-4zM1084 391h4v4h-4zM797 395h4v4h-4zM907 395h4v4h-4zM1084 395h4v4h-4zM903 399h4v4h-4zM1081 399h3v4h-3zM1124 399h4v4h-4zM903 403h4v4h-4zM1081 403h3v4h-3zM1124 403h4v4h-4zM939 411h4v4h-4zM781 415h4v4h-4zM939 415h4v4h-4zM1124 415h4v4h-4z"/>
<path fill="#37b878" d="M1014 116h3v4h-3zM1021 124h4v4h-4zM1002 128h4v4h-4zM517 136h4v3h-4zM533 136h12v3h-12zM557 136h7v3h-7zM580 136h8v3h-8zM742 136h4v3h-4zM1017 139h4v4h-4zM584 151h8v4h-8zM726 159h4v4h-4zM742 167h4v4h-4zM769 167h4v4h-4zM978 167h4v4h-4zM604 183h4v4h-4zM584 187h4v4h-4zM620 195h4v4h-4zM560 206h4v4h-4zM568 210h4v4h-4zM600 210h4v4h-4zM620 222h4v4h-4zM722 226h4v4h-4zM730 226h4v4h-4zM616 242h4v4h-4zM478 250h4v4h-4zM616 273h4v4h-4zM722 281h4v4h-4zM722 285h8v4h-8zM915 384h4v4h-4zM927 384h12v4h-12zM915 388h4v3h-4zM939 388h4v3h-4zM1088 388h4v3h-4zM793 391h4v4h-4zM939 391h4v4h-4zM785 395h4v4h-4zM911 395h4v4h-4zM1124 395h4v4h-4zM907 399h4v4h-4zM907 403h8v4h-8zM939 403h4v4h-4zM797 407h4v4h-4zM939 407h4v4h-4zM1081 407h3v4h-3zM797 411h4v4h-4zM1081 411h3v4h-3zM797 415h4v4h-4zM931 415h8v4h-8zM1081 415h3v4h-3zM797 419h4v5h-4zM939 419h4v5h-4zM1081 419h3v5h-3z"/>
<path fill="#3aba76" d="M1017 116h4v4h-4zM903 124h4v4h-4zM978 124h4v4h-4zM1017 124h4v4h-4zM1014 128h3v4h-3zM986 132h4v4h-4zM490 136h4v3h-4zM545 136h12v3h-12zM899 136h4v3h-4zM576 151h8v4h-8zM907 151h4v4h-4zM624 155h3v4h-3zM986 155h4v4h-4zM501 163h20v4h-20zM537 163h20v4h-20zM769 163h4v4h-4zM616 167h4v4h-4zM895 167h4v4h-4zM564 179h4v4h-4zM600 191h4v4h-4zM482 202h4v4h-4zM494 214h3v4h-3zM624 214h3v4h-3zM478 218h4v4h-4zM718 222h12v4h-12zM718 226h4v4h-4zM726 226h4v4h-4zM490 230h4v4h-4zM494 234h3v4h-3zM478 238h4v4h-4zM616 238h4v4h-4zM726 281h4v4h-4zM919 384h8v4h-8zM927 388h12v3h-12zM1092 388h4v3h-4zM915 391h4v4h-4zM1088 391h4v4h-4zM939 395h4v4h-4zM1088 395h4v4h-4zM785 399h4v4h-4zM797 399h4v4h-4zM911 399h8v4h-8zM939 399h4v4h-4zM785 403h4v4h-4zM797 403h4v4h-4zM785 407h4v4h-4zM907 407h4v4h-4zM785 411h4v4h-4zM907 411h4v4h-4zM935 411h4v4h-4zM907 415h4v4h-4zM785 419h4v5h-4zM907 419h4v5h-4zM927 419h12v5h-12z"/>
<path fill="#3dbc74" d="M998 120h4v4h-4zM1021 120h4v4h-4zM891 124h4v4h-4zM624 128h7v4h-7zM486 136h4v3h-4zM494 136h3v3h-3zM513 136h4v3h-4zM588 136h4v3h-4zM1021 136h4v3h-4zM986 143h4v4h-4zM903 147h4v4h-4zM572 151h4v4h-4zM627 155h4v4h-4zM497 163h4v4h-4zM529 163h8v4h-8zM592 163h4v4h-4zM663 163h4v4h-4zM631 167h4v4h-4zM726 171h4v4h-4zM482 175h4v4h-4zM576 183h4v4h-4zM627 195h4v4h-4zM738 199h4v3h-4zM553 206h4v4h-4zM651 214h4v4h-4zM643 218h4v4h-4zM627 222h4v4h-4zM616 258h4v4h-4zM624 262h3v3h-3zM608 273h8v4h-8zM919 388h8v3h-8zM1108 388h12v3h-12zM789 391h4v4h-4zM927 391h12v4h-12zM915 395h4v4h-4zM935 395h4v4h-4zM919 399h4v4h-4zM1084 399h4v4h-4zM915 403h4v4h-4zM927 403h4v4h-4zM911 407h8v4h-8zM1124 407h4v4h-4zM911 411h4v4h-4zM785 415h4v4h-4zM927 415h4v4h-4zM923 419h4v5h-4zM1120 419h4v5h-4z"/>
<path fill="#40bd72" d="M982 124h4v4h-4zM1014 124h3v4h-3zM620 128h4v4h-4zM891 128h4v4h-4zM505 136h8v3h-8zM592 136h4v3h-4zM1010 143h4v4h-4zM568 151h4v4h-4zM994 151h4v4h-4zM631 155h4v4h-4zM490 163h7v4h-7zM521 163h8v4h-8zM718 171h4v4h-4zM478 175h4v4h-4zM560 179h4v4h-4zM474 187h4v4h-4zM564 187h4v4h-4zM588 187h4v4h-4zM478 202h4v4h-4zM545 206h8v4h-8zM557 206h3v4h-3zM604 238h4v4h-4zM631 242h4v4h-4zM1096 388h12v3h-12zM919 391h8v4h-8zM1092 391h4v4h-4zM1120 391h4v4h-4zM793 395h4v4h-4zM919 395h4v4h-4zM931 395h4v4h-4zM923 399h4v4h-4zM935 399h4v4h-4zM923 403h4v4h-4zM931 403h8v4h-8zM1084 403h4v4h-4zM793 407h4v4h-4zM927 407h12v4h-12zM1084 407h4v4h-4zM915 411h4v4h-4zM931 411h4v4h-4zM1084 411h4v4h-4zM1124 411h4v4h-4zM911 415h8v4h-8zM923 415h4v4h-4zM1084 415h4v4h-4zM911 419h4v5h-4zM919 419h4v5h-4z"/>
<path fill="#44bf70" d="M616 128h4v4h-4zM631 128h4v4h-4zM667 128h4v4h-4zM998 128h4v4h-4zM1021 128h4v4h-4zM497 136h8v3h-8zM982 136h4v3h-4zM738 139h4v4h-4zM891 143h4v4h-4zM635 155h4v4h-4zM891 155h4v4h-4zM982 159h4v4h-4zM738 163h4v4h-4zM722 171h4v4h-4zM549 179h11v4h-11zM580 183h4v4h-4zM651 191h4v4h-4zM624 195h3v4h-3zM564 210h4v4h-4zM490 214h4v4h-4zM643 214h8v4h-8zM612 258h4v4h-4zM789 395h4v4h-4zM923 395h8v4h-8zM1092 395h4v4h-4zM927 399h8v4h-8zM1088 399h4v4h-4zM1120 399h4v4h-4zM793 403h4v4h-4zM919 403h4v4h-4zM1120 403h4v4h-4zM789 407h4v4h-4zM919 407h8v4h-8zM793 411h4v4h-4zM927 411h4v4h-4zM919 415h4v4h-4zM1120 415h4v4h-4zM793 419h4v5h-4zM915 419h4v5h-4zM1084 419h4v5h-4z"/>
<path fill="#48c16e" d="M1002 120h4v4h-4zM1010 124h4v4h-4zM612 128h4v4h-4zM635 128h4v4h-4zM1017 128h4v4h-4zM671 132h4v4h-4zM982 132h4v4h-4zM596 136h4v3h-4zM891 136h4v3h-4zM891 139h4v4h-4zM994 139h4v4h-4zM982 143h4v4h-4zM891 147h4v4h-4zM1002 147h4v4h-4zM490 151h7v4h-7zM564 151h4v4h-4zM891 151h4v4h-4zM639 155h4v4h-4zM486 163h4v4h-4zM891 163h4v4h-4zM620 167h4v4h-4zM572 183h4v4h-4zM600 183h4v4h-4zM592 187h4v4h-4zM659 187h4v4h-4zM734 199h4v3h-4zM541 206h4v4h-4zM620 214h4v4h-4zM639 214h4v4h-4zM604 218h4v4h-4zM624 222h3v4h-3zM612 238h4v4h-4zM620 242h4v4h-4zM608 258h4v4h-4zM1096 391h4v4h-4zM1108 391h4v4h-4zM1120 395h4v4h-4zM793 399h4v4h-4zM789 411h4v4h-4zM919 411h8v4h-8zM793 415h4v4h-4zM789 419h4v5h-4z"/>
<path fill="#4cc26c" d="M1017 120h4v4h-4zM608 128h4v4h-4zM639 128h12v4h-12zM1010 132h4v4h-4zM478 136h8v3h-8zM663 136h4v3h-4zM1002 136h4v3h-4zM734 139h4v4h-4zM982 139h4v4h-4zM486 151h4v4h-4zM497 151h16v4h-16zM560 151h4v4h-4zM620 155h4v4h-4zM978 163h4v4h-4zM627 167h4v4h-4zM545 179h4v4h-4zM584 183h4v4h-4zM560 187h4v4h-4zM482 191h4v4h-4zM734 191h4v4h-4zM513 206h4v4h-4zM635 214h4v4h-4zM1100 391h8v4h-8zM1112 391h8v4h-8zM1096 395h4v4h-4zM789 399h4v4h-4zM1092 399h4v4h-4zM789 403h4v4h-4zM1088 403h4v4h-4zM1088 407h4v4h-4zM1120 407h4v4h-4zM1088 411h4v4h-4zM789 415h4v4h-4zM1088 415h4v4h-4zM1116 415h4v4h-4zM1116 419h4v5h-4z"/>
<path fill="#50c46a" d="M604 128h4v4h-4zM651 128h4v4h-4zM891 132h4v4h-4zM513 151h4v4h-4zM529 151h4v4h-4zM553 151h7v4h-7zM643 155h4v4h-4zM667 155h4v4h-4zM891 159h4v4h-4zM659 163h4v4h-4zM525 179h8v4h-8zM497 206h4v4h-4zM509 206h4v4h-4zM517 206h4v4h-4zM525 206h8v4h-8zM537 206h4v4h-4zM560 210h4v4h-4zM486 214h4v4h-4zM627 214h8v4h-8zM639 218h4v4h-4zM486 230h4v4h-4zM490 234h4v4h-4zM1116 399h4v4h-4zM1116 403h4v4h-4zM1120 411h4v4h-4zM1088 419h8v5h-8zM1108 419h4v5h-4z"/>
<path fill="#54c568" d="M1006 120h4v4h-4zM994 128h4v4h-4zM1021 132h4v4h-4zM600 136h4v3h-4zM659 136h4v3h-4zM730 139h4v4h-4zM525 151h4v4h-4zM533 151h4v4h-4zM549 151h4v4h-4zM478 163h4v4h-4zM624 167h3v4h-3zM497 179h4v4h-4zM521 179h4v4h-4zM541 179h4v4h-4zM474 183h4v4h-4zM588 183h4v4h-4zM647 191h4v4h-4zM730 199h4v3h-4zM521 206h4v4h-4zM533 206h4v4h-4zM608 238h4v4h-4zM1100 395h12v4h-12zM1116 395h4v4h-4zM1116 411h4v4h-4zM1092 415h4v4h-4zM1108 415h8v4h-8zM1112 419h4v5h-4z"/>
<path fill="#58c765" d="M986 124h4v4h-4zM1006 124h4v4h-4zM600 128h4v4h-4zM655 128h4v4h-4zM655 136h4v3h-4zM726 139h4v4h-4zM478 151h8v4h-8zM517 151h8v4h-8zM537 151h4v4h-4zM545 151h4v4h-4zM647 155h8v4h-8zM482 163h4v4h-4zM596 163h4v4h-4zM501 179h8v4h-8zM533 179h8v4h-8zM592 183h8v4h-8zM553 187h7v4h-7zM624 187h3v4h-3zM655 187h4v4h-4zM478 191h4v4h-4zM730 191h4v4h-4zM494 206h3v4h-3zM501 206h8v4h-8zM600 214h4v4h-4zM624 242h7v4h-7zM1112 395h4v4h-4zM1096 399h4v4h-4zM1092 403h4v4h-4zM1092 407h4v4h-4zM1116 407h4v4h-4zM1092 411h4v4h-4zM1104 411h12v4h-12zM1104 415h4v4h-4zM1096 419h4v5h-4z"/>
<path fill="#5cc863" d="M1010 120h7v4h-7zM895 124h4v4h-4zM663 128h4v4h-4zM651 136h4v3h-4zM718 139h8v4h-8zM1014 139h3v4h-3zM541 151h4v4h-4zM899 151h4v4h-4zM616 155h4v4h-4zM655 155h4v4h-4zM982 155h4v4h-4zM667 159h4v4h-4zM509 179h4v4h-4zM517 179h4v4h-4zM568 183h4v4h-4zM549 187h4v4h-4zM604 191h4v4h-4zM738 195h4v4h-4zM718 199h12v3h-12zM553 210h7v4h-7zM1108 399h8v4h-8zM1112 403h4v4h-4zM1104 407h12v4h-12zM1096 415h8v4h-8zM1100 419h8v5h-8z"/>
<path fill="#60ca60" d="M1002 124h4v4h-4zM596 128h4v4h-4zM659 128h4v4h-4zM895 128h4v4h-4zM990 128h4v4h-4zM903 132h4v4h-4zM604 136h8v3h-8zM982 147h4v4h-4zM655 163h4v4h-4zM494 179h3v4h-3zM513 179h4v4h-4zM541 187h8v4h-8zM596 187h4v4h-4zM718 191h12v4h-12zM490 206h4v4h-4zM545 210h8v4h-8zM616 214h4v4h-4zM482 230h4v4h-4zM1100 399h8v4h-8zM1096 403h16v4h-16zM1096 411h8v4h-8z"/>
<path fill="#65cb5e" d="M990 124h12v4h-12zM494 128h3v4h-3zM549 128h4v4h-4zM560 128h8v4h-8zM572 128h8v4h-8zM612 136h4v3h-4zM631 136h8v3h-8zM647 136h4v3h-4zM1017 136h4v3h-4zM990 143h4v4h-4zM895 151h4v4h-4zM612 155h4v4h-4zM659 155h4v4h-4zM521 187h12v4h-12zM537 187h4v4h-4zM620 187h4v4h-4zM651 187h4v4h-4zM643 191h4v4h-4zM541 210h4v4h-4zM635 218h4v4h-4zM486 234h4v4h-4zM1096 407h8v4h-8z"/>
<path fill="#69cd5b" d="M490 128h4v4h-4zM497 128h4v4h-4zM513 128h12v4h-12zM537 128h12v4h-12zM553 128h7v4h-7zM568 128h4v4h-4zM580 128h16v4h-16zM986 128h4v4h-4zM667 132h4v4h-4zM978 132h4v4h-4zM895 136h4v3h-4zM978 136h4v3h-4zM895 139h4v4h-4zM895 143h4v4h-4zM895 147h4v4h-4zM990 151h4v4h-4zM608 155h4v4h-4zM895 163h4v4h-4zM738 167h4v4h-4zM517 187h4v4h-4zM533 187h4v4h-4zM627 187h8v4h-8zM529 210h12v4h-12zM482 214h4v4h-4zM478 230h4v4h-4z"/>
<path fill="#6ece58" d="M478 128h12v4h-12zM501 128h12v4h-12zM525 128h12v4h-12zM734 132h4v4h-4zM1014 132h7v4h-7zM616 136h4v3h-4zM627 136h4v3h-4zM639 136h8v3h-8zM978 147h4v4h-4zM899 159h4v4h-4zM978 159h4v4h-4zM651 163h4v4h-4zM490 179h4v4h-4zM501 187h16v4h-16zM616 187h4v4h-4zM635 187h4v4h-4zM643 187h8v4h-8zM486 206h4v4h-4zM525 210h4v4h-4zM608 218h4v4h-4z"/>
<path fill="#73d056" d="M978 128h8v4h-8zM620 136h4v3h-4zM738 136h4v3h-4zM1006 136h4v3h-4zM978 139h4v4h-4zM978 143h4v4h-4zM998 147h4v4h-4zM604 155h4v4h-4zM663 155h4v4h-4zM978 155h4v4h-4zM564 183h4v4h-4zM497 187h4v4h-4zM639 187h4v4h-4zM608 191h4v4h-4zM639 191h4v4h-4zM497 210h4v4h-4zM517 210h8v4h-8zM482 234h4v4h-4z"/>
<path fill="#77d153" d="M899 128h4v4h-4zM624 136h3v3h-3zM998 139h4v4h-4zM1006 143h4v4h-4zM903 155h4v4h-4zM576 159h4v4h-4zM600 163h4v4h-4zM600 187h4v4h-4zM482 206h4v4h-4zM501 210h16v4h-16zM478 214h4v4h-4zM604 214h4v4h-4zM612 214h4v4h-4zM478 234h4v4h-4z"/>
<path fill="#7cd250" d="M572 132h8v4h-8zM730 132h4v4h-4zM895 155h4v4h-4zM612 187h4v4h-4zM635 191h4v4h-4zM478 206h4v4h-4zM494 210h3v4h-3zM612 218h4v4h-4z"/>
<path fill="#81d34d" d="M521 132h28v4h-28zM560 132h12v4h-12zM580 132h8v4h-8zM978 151h4v4h-4zM580 159h4v4h-4zM647 163h4v4h-4zM734 163h4v4h-4zM486 179h4v4h-4zM560 183h4v4h-4zM494 187h3v4h-3zM604 187h4v4h-4zM612 191h4v4h-4zM631 218h4v4h-4z"/>
<path fill="#86d549" d="M490 132h4v4h-4zM513 132h8v4h-8zM549 132h11v4h-11zM986 147h4v4h-4zM572 159h4v4h-4zM631 191h4v4h-4zM616 218h4v4h-4z"/>
<path fill="#8bd646" d="M903 128h4v4h-4zM478 132h4v4h-4zM486 132h4v4h-4zM494 132h3v4h-3zM509 132h4v4h-4zM588 132h4v4h-4zM624 132h11v4h-11zM718 132h12v4h-12zM899 132h4v4h-4zM986 151h4v4h-4zM600 155h4v4h-4zM584 159h4v4h-4zM730 163h4v4h-4zM734 167h4v4h-4zM608 187h4v4h-4zM616 191h4v4h-4zM734 195h4v4h-4zM490 210h4v4h-4zM608 214h4v4h-4z"/>
<path fill="#90d743" d="M482 132h4v4h-4zM497 132h4v4h-4zM505 132h4v4h-4zM592 132h8v4h-8zM1010 136h4v3h-4zM1010 139h4v4h-4zM982 151h4v4h-4zM576 155h4v4h-4zM557 183h3v4h-3zM490 187h4v4h-4zM620 191h4v4h-4zM620 218h4v4h-4z"/>
<path fill="#95d840" d="M501 132h4v4h-4zM600 132h4v4h-4zM620 132h4v4h-4zM635 132h4v4h-4zM647 132h8v4h-8zM663 132h4v4h-4zM1014 136h3v3h-3zM903 151h4v4h-4zM580 155h4v4h-4zM568 159h4v4h-4zM643 163h4v4h-4zM730 167h4v4h-4zM478 179h8v4h-8zM549 183h8v4h-8zM624 191h7v4h-7zM486 210h4v4h-4zM624 218h3v4h-3z"/>
<path fill="#9bd93c" d="M604 132h16v4h-16zM643 132h4v4h-4zM655 132h8v4h-8zM994 143h4v4h-4zM994 147h4v4h-4zM584 155h4v4h-4zM596 155h4v4h-4zM604 163h4v4h-4zM718 163h12v4h-12zM486 187h4v4h-4zM730 195h4v4h-4zM627 218h4v4h-4z"/>
<path fill="#a0da39" d="M639 132h4v4h-4zM895 132h4v4h-4zM990 147h4v4h-4zM572 155h4v4h-4zM899 155h4v4h-4zM478 159h4v4h-4zM564 159h4v4h-4zM588 159h4v4h-4zM663 159h4v4h-4zM895 159h4v4h-4zM529 183h8v4h-8zM545 183h4v4h-4zM718 195h4v4h-4zM482 210h4v4h-4z"/>
<path fill="#a5db36" d="M734 136h4v3h-4zM588 155h4v4h-4zM482 159h4v4h-4zM525 183h4v4h-4zM537 183h8v4h-8zM482 187h4v4h-4zM722 195h8v4h-8z"/>
<path fill="#aadc32" d="M478 155h12v4h-12zM592 155h4v4h-4zM486 159h4v4h-4zM497 159h4v4h-4zM560 159h4v4h-4zM659 159h4v4h-4zM639 163h4v4h-4zM718 167h4v4h-4zM726 167h4v4h-4zM478 210h4v4h-4z"/>
<path fill="#b0dd2f" d="M1002 139h4v4h-4zM568 155h4v4h-4zM490 159h7v4h-7zM501 159h4v4h-4zM592 159h4v4h-4zM655 159h4v4h-4zM608 163h4v4h-4zM722 167h4v4h-4zM497 183h4v4h-4zM513 183h12v4h-12zM478 187h4v4h-4z"/>
<path fill="#b5de2b" d="M730 136h4v3h-4zM1006 139h4v4h-4zM1002 143h4v4h-4zM490 155h4v4h-4zM505 159h4v4h-4zM557 159h3v4h-3zM651 159h4v4h-4zM501 183h12v4h-12z"/>
<path fill="#bade28" d="M998 143h4v4h-4zM494 155h3v4h-3zM564 155h4v4h-4zM509 159h4v4h-4zM635 163h4v4h-4z"/>
<path fill="#c0df25" d="M497 155h8v4h-8zM513 159h4v4h-4zM549 159h8v4h-8zM647 159h4v4h-4zM612 163h4v4h-4zM494 183h3v4h-3z"/>
<path fill="#c5e021" d="M726 136h4v3h-4zM505 155h4v4h-4zM560 155h4v4h-4zM517 159h4v4h-4zM529 159h20v4h-20zM639 159h8v4h-8z"/>
<path fill="#cae11f" d="M718 136h8v3h-8zM509 155h4v4h-4zM521 159h8v4h-8zM596 159h4v4h-4zM624 159h3v4h-3zM635 159h4v4h-4z"/>
<path fill="#d0e11c" d="M557 155h3v4h-3zM631 159h4v4h-4zM616 163h4v4h-4zM631 163h4v4h-4zM490 183h4v4h-4z"/>
<path fill="#d5e21a" d="M513 155h4v4h-4zM525 155h8v4h-8zM553 155h4v4h-4zM627 159h4v4h-4z"/>
<path fill="#dae319" d="M517 155h8v4h-8zM549 155h4v4h-4zM620 159h4v4h-4zM620 163h4v4h-4zM482 183h4v4h-4z"/>
<path fill="#dfe318" d="M533 155h4v4h-4zM541 155h8v4h-8zM600 159h4v4h-4zM627 163h4v4h-4zM478 183h4v4h-4zM486 183h4v4h-4z"/>
<path fill="#e5e419" d="M537 155h4v4h-4zM616 159h4v4h-4zM624 163h3v4h-3z"/>
<path fill="#eae51a" d="M604 159h12v4h-12z"/>
</g>
<clipPath id="c2"><rect x="200" y="486" width="1240" height="315"/></clipPath>
<path clip-path="url(#c2)" d="M255.90 671.22 256.15 674.07 256.40 671.14 256.65 674.22 256.90 670.97 257.15 674.37 257.40 670.80 257.65 674.53 257.90 670.63 258.15 674.69 258.40 670.35 258.65 674.82 258.90 670.18 259.15 674.98 259.40 670.00 259.65 675.13 259.90 669.82 260.15 675.29 260.40 669.77 260.65 675.50 260.90 669.60 261.15 675.66 261.40 669.43 261.65 675.82 261.90 669.26 262.15 675.98 262.40 669.00 262.65 676.10 262.90 668.83 263.15 676.26 263.40 668.65 263.65 676.42 263.90 668.48 264.15 676.58 264.40 668.16 264.65 676.79 264.90 668.22 265.15 676.65 265.40 668.01 265.65 676.76 265.90 667.81 266.15 676.87 266.40 667.60 266.65 676.98 266.90 667.11 267.15 677.30 267.40 666.90 267.65 677.41 267.90 666.68 268.15 677.53 268.40 666.47 268.65 677.64 268.90 666.60 269.15 677.84 269.40 666.40 269.65 677.96 269.90 666.19 270.15 678.07 270.40 665.99 270.65 678.19 270.90 665.48 271.15 678.03 271.40 665.26 271.65 678.14 271.90 665.05 272.15 678.25 272.40 664.69 272.65 678.36 272.90 664.84 273.15 678.65 273.40 665.12 273.65 678.77 273.90 665.41 274.15 678.88 274.40 665.70 274.65 679.00 274.90 665.98 275.15 679.25 275.40 665.57 275.65 679.07 275.90 664.84 276.15 679.36 276.40 664.11 276.65 679.65 276.90 663.38 277.15 679.95 277.40 662.58 277.65 680.43 277.90 660.17 278.15 682.18 278.40 653.37 278.65 686.54 278.90 646.35 279.15 691.32 279.40 638.83 279.65 697.18 279.90 631.71 280.15 701.68 280.40 621.17 280.65 706.60 280.90 604.35 281.15 711.52 281.40 588.61 281.65 718.20 281.90 570.17 282.15 724.28 282.40 567.09 282.65 733.09 282.90 564.63 283.15 741.83 283.40 566.10 283.65 740.68 283.90 557.86 284.15 739.74 284.40 561.67 284.65 738.81 284.90 559.54 285.15 737.88 285.40 555.85 285.65 737.15 285.90 553.69 286.15 734.30 286.40 551.53 286.65 735.48 286.90 549.37 287.15 736.65 287.40 541.08 287.65 737.83 287.90 539.92 288.15 741.27 288.40 534.78 288.65 745.19 288.90 525.18 289.15 748.24 289.40 538.06 289.65 753.11 289.90 545.20 290.15 759.27 290.40 549.78 290.65 759.18 290.90 550.14 291.15 762.00 291.40 550.49 291.65 764.82 291.90 550.77 292.15 768.86 292.40 549.82 292.65 757.52 292.90 555.35 293.15 752.25 293.40 560.30 293.65 751.82 293.90 570.41 294.15 741.19 294.40 567.63 294.65 735.57 294.90 574.44 295.15 733.82 295.40 575.15 295.65 729.82 295.90 569.89 296.15 733.84 296.40 570.64 296.65 734.04 296.90 571.39 297.15 734.23 297.40 572.14 297.65 734.42 297.90 572.82 298.15 734.61 298.40 573.93 298.65 733.31 298.90 574.51 299.15 733.50 299.40 575.08 299.65 735.22 299.90 575.66 300.15 733.44 300.40 579.45 300.65 730.73 300.90 580.00 301.15 730.42 301.40 580.56 301.65 730.10 301.90 581.11 302.15 729.79 302.40 576.85 302.65 731.91 302.90 579.80 303.15 731.58 303.40 576.08 303.65 731.25 303.90 568.48 304.15 730.93 304.40 572.54 304.65 731.77 304.90 576.48 305.15 731.57 305.40 578.15 305.65 730.88 305.90 578.51 306.15 730.38 306.40 579.18 306.65 726.53 306.90 579.53 307.15 726.06 307.40 579.89 307.65 725.59 307.90 580.24 308.15 725.12 308.40 580.60 308.65 724.65 308.90 585.62 309.15 726.91 309.40 585.96 309.65 726.41 309.90 581.31 310.15 726.57 310.40 586.88 310.65 725.14 310.90 584.87 311.15 722.60 311.40 585.52 311.65 721.81 311.90 586.17 312.15 721.01 312.40 586.82 312.65 720.22 312.90 589.70 313.15 719.83 313.40 590.34 313.65 719.03 313.90 590.97 314.15 718.22 314.40 591.60 314.65 718.93 314.90 591.43 315.15 715.98 315.40 589.08 315.65 714.78 315.90 594.45 316.15 713.57 316.40 596.37 316.65 712.37 316.90 597.13 317.15 712.68 317.40 599.08 317.65 709.80 317.90 601.02 318.15 709.80 318.40 602.97 318.65 709.80 318.90 602.94 319.15 709.80 319.40 608.91 319.65 710.99 319.90 610.41 320.15 710.99 320.40 611.91 320.65 710.99 320.90 613.41 321.15 710.99 321.40 612.41 321.65 711.30 321.90 613.97 322.15 711.30 322.40 613.49 322.65 712.49 322.90 614.74 323.15 711.25 323.40 615.16 323.65 712.38 323.90 615.00 324.15 712.34 324.40 614.83 324.65 712.30 324.90 614.67 325.15 712.26 325.40 613.92 325.65 711.48 325.90 613.76 326.15 711.44 326.40 613.60 326.65 711.40 326.90 613.44 327.15 711.36 327.40 611.82 327.65 710.26 327.90 612.14 328.15 710.22 328.40 612.04 328.65 710.19 328.90 611.94 329.15 710.15 329.40 611.84 329.65 710.11 329.90 613.83 330.15 710.21 330.40 613.74 330.65 710.17 330.90 613.64 331.15 711.81 331.40 613.55 331.65 710.09 331.90 612.03 332.15 710.75 332.40 611.93 332.65 710.70 332.90 611.84 333.15 710.65 333.40 611.74 333.65 710.60 333.90 610.52 334.15 711.07 334.40 610.41 334.65 711.02 334.90 610.93 335.15 710.97 335.40 611.53 335.65 710.92 335.90 613.65 336.15 710.76 336.40 614.23 336.65 710.71 336.90 614.82 337.15 710.66 337.40 615.40 337.65 710.61 337.90 614.53 338.15 711.03 338.40 614.16 338.65 710.98 338.90 612.21 339.15 710.93 339.40 610.25 339.65 710.88 339.90 607.47 340.15 710.83 340.40 607.44 340.65 710.77 340.90 607.11 341.15 710.72 341.40 606.78 341.65 710.76 341.90 606.44 342.15 711.11 342.40 607.55 342.65 709.87 342.90 607.22 343.15 710.35 343.40 606.90 343.65 710.83 343.90 606.57 344.15 711.30 344.40 604.51 344.65 712.18 344.90 604.14 345.15 714.20 345.40 603.03 345.65 712.93 345.90 601.78 346.15 713.17 346.40 602.04 346.65 712.87 346.90 600.82 347.15 713.11 347.40 599.59 347.65 713.34 347.90 598.37 348.15 713.58 348.40 595.49 348.65 715.98 348.90 593.39 349.15 716.15 349.40 590.29 349.65 718.54 349.90 587.20 350.15 720.92 350.40 584.11 350.65 723.31 350.90 580.24 351.15 725.23 351.40 576.61 351.65 730.83 351.90 572.50 352.15 730.40 352.40 568.22 352.65 733.10 352.90 564.25 353.15 737.58 353.40 559.98 353.65 740.35 353.90 554.90 354.15 744.58 354.40 550.46 354.65 744.07 354.90 548.03 355.15 746.87 355.40 539.90 355.65 748.35 355.90 542.00 356.15 749.84 356.40 541.29 356.65 751.32 356.90 543.78 357.15 752.97 357.40 543.08 357.65 754.75 357.90 542.38 358.15 754.79 358.40 541.69 358.65 755.46 358.90 541.91 359.15 755.45 359.40 541.22 359.65 756.11 359.90 540.52 360.15 756.77 360.40 539.83 360.65 757.42 360.90 531.56 361.15 758.08 361.40 531.41 361.65 755.64 361.90 531.10 362.15 756.28 362.40 530.80 362.65 761.42 362.90 530.49 363.15 757.83 363.40 534.71 363.65 758.36 363.90 534.41 364.15 759.31 364.40 534.12 364.65 760.25 364.90 533.82 365.15 761.20 365.40 529.03 365.65 765.70 365.90 529.77 366.15 768.39 366.40 530.27 366.65 765.67 366.90 530.77 367.15 764.44 367.40 531.88 367.65 761.65 367.90 532.38 368.15 760.45 368.40 532.87 368.65 759.24 368.90 532.84 369.15 758.03 369.40 542.13 369.65 759.85 369.90 543.54 370.15 759.13 370.40 544.96 370.65 758.96 370.90 546.38 371.15 758.80 371.40 547.79 371.65 758.63 371.90 542.79 372.15 752.99 372.40 543.11 372.65 752.83 372.90 544.79 373.15 752.68 373.40 545.53 373.65 752.52 373.90 547.63 374.15 758.24 374.40 548.37 374.65 758.07 374.90 549.10 375.15 758.06 375.40 549.84 375.65 758.21 375.90 547.80 376.15 755.03 376.40 554.14 376.65 755.19 376.90 553.16 377.15 755.35 377.40 552.18 377.65 755.51 377.90 543.72 378.15 756.31 378.40 542.68 378.65 756.47 378.90 541.64 379.15 756.63 379.40 540.60 379.65 756.80 379.90 539.46 380.15 759.72 380.40 543.89 380.65 758.32 380.90 543.65 381.15 758.20 381.40 543.41 381.65 758.08 381.90 543.17 382.15 757.95 382.40 538.82 382.65 754.36 382.90 538.57 383.15 754.24 383.40 537.65 383.65 754.13 383.90 538.60 384.15 754.01 384.40 541.70 384.65 758.60 384.90 542.02 385.15 758.48 385.40 542.35 385.65 758.35 385.90 542.67 386.15 758.23 386.40 540.77 386.65 755.47 386.90 541.10 387.15 758.00 387.40 541.43 387.65 755.72 387.90 541.76 388.15 756.12 388.40 544.65 388.65 755.62 388.90 541.48 389.15 756.02 389.40 545.99 389.65 756.42 389.90 546.80 390.15 756.82 390.40 548.98 390.65 756.70 390.90 549.78 391.15 761.29 391.40 550.58 391.65 756.51 391.90 551.38 392.15 755.02 392.40 552.18 392.65 753.53 392.90 550.53 393.15 752.94 393.40 551.35 393.65 751.43 393.90 549.81 394.15 752.85 394.40 552.98 394.65 749.37 394.90 554.39 395.15 748.29 395.40 555.21 395.65 747.81 395.90 556.02 396.15 747.33 396.40 556.83 396.65 746.85 396.90 562.93 397.15 745.67 397.40 563.71 397.65 745.19 397.90 564.48 398.15 744.72 398.40 565.26 398.65 744.25 398.90 563.79 399.15 745.12 399.40 559.27 399.65 747.27 399.90 566.28 400.15 744.16 400.40 567.71 400.65 743.68 400.90 570.72 401.15 743.68 401.40 572.13 401.65 743.19 401.90 573.53 402.15 742.70 402.40 574.94 402.65 742.22 402.90 576.34 403.15 741.73 403.40 573.85 403.65 742.89 403.90 575.31 404.15 742.39 404.40 574.27 404.65 742.27 404.90 578.08 405.15 741.08 405.40 577.19 405.65 739.26 405.90 578.52 406.15 738.44 406.40 579.85 406.65 737.63 406.90 581.18 407.15 736.81 407.40 584.14 407.65 733.80 407.90 585.44 408.15 733.02 408.40 586.75 408.65 732.23 408.90 588.06 409.15 731.44 409.40 588.15 409.65 732.36 409.90 589.09 410.15 732.83 410.40 591.27 410.65 729.80 410.90 592.93 411.15 728.34 411.40 594.23 411.65 727.13 411.90 595.89 412.15 725.67 412.40 597.56 412.65 724.20 412.90 599.22 413.15 722.73 413.40 600.88 413.65 721.67 413.90 606.63 414.15 717.97 414.40 608.20 414.65 715.01 414.90 605.76 415.15 712.67 415.40 611.19 415.65 710.50 415.90 610.18 416.15 708.73 416.40 611.65 416.65 707.26 416.90 613.11 417.15 705.80 417.40 614.58 417.65 704.33 417.90 615.46 418.15 702.38 418.40 616.94 418.65 702.09 418.90 618.43 419.15 699.72 419.40 619.91 419.65 698.52 419.90 621.79 420.15 697.26 420.40 622.12 420.65 696.06 420.90 624.25 421.15 694.86 421.40 625.40 421.65 693.67 421.90 625.79 422.15 693.32 422.40 626.95 422.65 692.55 422.90 628.11 423.15 692.05 423.40 629.27 423.65 691.56 423.90 630.44 424.15 691.06 424.40 631.68 424.65 689.85 424.90 632.84 425.15 689.37 425.40 633.79 425.65 688.90 425.90 634.84 426.15 688.43 426.40 636.93 426.65 688.78 426.90 637.73 427.15 688.28 427.40 638.53 427.65 687.96 427.90 639.33 428.15 687.83 428.40 640.06 428.65 687.47 428.90 640.86 429.15 687.35 429.40 641.67 429.65 687.23 429.90 642.47 430.15 687.10 430.40 642.18 430.65 687.16 430.90 642.70 431.15 687.03 431.40 643.00 431.65 686.91 431.90 643.25 432.15 686.78 432.40 643.47 432.65 686.13 432.90 643.72 433.15 686.01 433.40 643.97 433.65 685.89 433.90 644.22 434.15 685.77 434.40 644.18 434.65 686.38 434.90 645.28 435.15 686.23 435.40 644.96 435.65 686.47 435.90 644.64 436.15 686.71 436.40 644.33 436.65 686.96 436.90 643.26 437.15 686.79 437.40 642.93 437.65 687.02 437.90 642.61 438.15 687.94 438.40 642.28 438.65 686.92 438.90 641.82 439.15 686.71 439.40 640.85 439.65 686.55 439.90 641.29 440.15 686.39 440.40 641.09 440.65 686.24 440.90 640.27 441.15 686.13 441.40 640.07 441.65 685.97 441.90 639.86 442.15 685.81 442.40 639.65 442.65 685.66 442.90 641.20 443.15 686.27 443.40 639.18 443.65 686.81 443.90 640.08 444.15 688.01 444.40 638.60 444.65 689.20 444.90 637.12 445.15 690.39 445.40 634.50 445.65 691.14 445.90 632.98 446.15 692.30 446.40 630.38 446.65 694.98 446.90 630.94 447.15 694.04 447.40 629.93 447.65 695.83 447.90 629.43 448.15 696.42 448.40 628.94 448.65 697.01 448.90 628.45 449.15 697.60 449.40 627.35 449.65 697.68 449.90 626.85 450.15 699.20 450.40 626.36 450.65 698.00 450.90 625.86 451.15 697.72 451.40 626.45 451.65 698.28 451.90 624.02 452.15 697.99 452.40 622.95 452.65 697.70 452.90 620.75 453.15 697.41 453.40 620.21 453.65 695.85 453.90 618.08 454.15 696.88 454.40 615.95 454.65 696.65 454.90 613.82 455.15 698.72 455.40 608.55 455.65 700.79 455.90 611.39 456.15 704.31 456.40 609.84 456.65 706.48 456.90 608.29 457.15 708.96 457.40 606.73 457.65 709.98 457.90 601.25 458.15 709.83 458.40 599.60 458.65 711.10 458.90 597.96 459.15 712.37 459.40 596.32 459.65 713.64 459.90 595.07 460.15 714.79 460.40 591.88 460.65 716.06 460.90 591.48 461.15 717.33 461.40 589.52 461.65 718.60 461.90 585.96 462.15 720.68 462.40 583.96 462.65 723.81 462.90 581.96 463.15 723.74 463.40 579.96 463.65 725.35 463.90 580.12 464.15 726.79 464.40 578.16 464.65 728.39 464.90 576.21 465.15 730.00 465.40 574.26 465.65 731.61 465.90 569.64 466.15 733.21 466.40 567.56 466.65 732.91 466.90 565.07 467.15 734.47 467.40 562.58 467.65 740.48 467.90 560.09 468.15 738.35 468.40 561.29 468.65 743.46 468.90 558.88 469.15 745.89 469.40 551.90 469.65 748.32 469.90 553.34 470.15 750.75 470.40 549.04 470.65 754.19 470.90 546.11 471.15 757.97 471.40 543.19 471.65 758.62 471.90 540.26 472.15 760.59 472.40 534.97 472.65 760.87 472.90 531.15 473.15 762.80 473.40 529.75 473.65 764.74 473.90 527.27 474.15 766.67 474.40 526.01 474.65 771.97 474.90 523.55 475.15 767.17 475.40 521.09 475.65 767.53 475.90 518.63 476.15 767.88 476.40 514.21 476.65 768.24 476.90 513.85 477.15 769.41 477.40 512.49 477.65 769.77 477.90 511.14 478.15 770.13 478.40 509.78 478.65 770.49 478.90 512.74 479.15 775.34 479.40 511.42 479.65 775.71 479.90 504.67 480.15 776.10 480.40 513.13 480.65 776.88 480.90 506.82 481.15 774.15 481.40 505.82 481.65 775.02 481.90 504.82 482.15 775.88 482.40 503.82 482.65 776.75 482.90 503.77 483.15 780.56 483.40 501.79 483.65 782.30 483.90 502.52 484.15 782.03 484.40 502.43 484.65 782.52 484.90 501.65 485.15 781.01 485.40 501.57 485.65 781.49 485.90 501.49 486.15 781.98 486.40 501.40 486.65 782.47 486.90 501.32 487.15 785.88 487.40 511.73 487.65 777.33 487.90 501.13 488.15 775.93 488.40 512.45 488.65 774.53 488.90 512.99 489.15 773.13 489.40 513.50 489.65 772.41 489.90 514.04 490.15 771.00 490.40 514.58 490.65 775.77 490.90 515.12 491.15 767.80 491.40 510.79 491.65 770.45 491.90 511.35 492.15 768.48 492.40 507.00 492.65 766.51 492.90 515.22 493.15 764.54 493.40 514.13 493.65 762.55 493.90 516.85 494.15 761.86 494.40 519.57 494.65 759.80 494.90 522.30 495.15 759.31 495.40 528.30 495.65 757.84 495.90 525.70 496.15 757.35 496.40 531.40 496.65 756.86 496.90 532.37 497.15 756.38 497.40 533.34 497.65 758.08 497.90 531.83 498.15 756.53 498.40 532.82 498.65 757.01 498.90 533.80 499.15 757.50 499.40 532.49 499.65 757.99 499.90 534.84 500.15 757.74 500.40 535.19 500.65 758.22 500.90 535.54 501.15 761.39 501.40 535.89 501.65 759.79 501.90 533.61 502.15 759.81 502.40 535.93 502.65 761.01 502.90 534.71 503.15 762.20 503.40 533.49 503.65 763.40 503.90 537.24 504.15 762.22 504.40 527.36 504.65 770.01 504.90 536.00 505.15 762.26 505.40 536.18 505.65 760.63 505.90 531.89 506.15 763.74 506.40 532.07 506.65 762.02 506.90 532.25 507.15 760.30 507.40 529.01 507.65 758.58 507.90 536.80 508.15 758.30 508.40 545.27 508.65 757.15 508.90 548.74 509.15 756.15 509.40 552.22 509.65 755.15 509.90 547.19 510.15 754.15 510.40 553.70 510.65 751.74 510.90 556.12 511.15 750.76 511.40 558.54 511.65 751.16 511.90 560.96 512.15 749.41 512.40 559.78 512.65 748.64 512.90 562.28 513.15 748.40 513.40 564.44 513.65 748.16 513.90 566.28 514.15 747.91 514.40 574.74 514.65 747.31 514.90 576.37 515.15 749.28 515.40 578.01 515.65 747.29 515.90 579.65 516.15 747.61 516.40 577.88 516.65 749.76 516.90 576.36 517.15 750.09 517.40 579.99 517.65 750.42 517.90 580.71 518.15 750.75 518.40 581.44 518.65 751.09 518.90 584.68 519.15 751.75 519.40 585.38 519.65 752.09 519.90 586.09 520.15 752.42 520.40 581.78 520.65 752.66 520.90 589.29 521.15 750.27 521.40 590.45 521.65 750.02 521.90 591.61 522.15 749.78 522.40 592.77 522.65 749.54 522.90 588.58 523.15 747.67 523.40 589.82 523.65 747.43 523.90 590.44 524.15 750.48 524.40 591.97 524.65 745.36 524.90 595.70 525.15 743.76 525.40 596.66 525.65 742.34 525.90 597.62 526.15 740.91 526.40 598.58 526.65 739.49 526.90 599.04 527.15 741.44 527.40 597.36 527.65 740.15 527.90 600.64 528.15 739.11 528.40 601.37 528.65 738.11 528.90 602.09 529.15 737.11 529.40 600.40 529.65 733.87 529.90 601.15 530.15 732.91 530.40 601.90 530.65 731.94 530.90 601.84 531.15 734.01 531.40 603.29 531.65 733.75 531.90 601.85 532.15 735.21 532.40 600.41 532.65 736.66 532.90 598.97 533.15 738.12 533.40 597.95 533.65 740.31 533.90 596.52 534.15 741.78 534.40 592.20 534.65 744.13 534.90 596.87 535.15 743.28 535.40 595.18 535.65 742.23 535.90 596.17 536.15 742.62 536.40 597.15 536.65 743.00 536.90 598.14 537.15 743.39 537.40 599.73 537.65 746.03 537.90 599.14 538.15 746.30 538.40 601.47 538.65 744.42 538.90 602.29 539.15 743.03 539.40 603.10 539.65 741.64 539.90 604.58 540.15 736.30 540.40 605.39 540.65 734.99 540.90 606.20 541.15 733.68 541.40 607.01 541.65 736.73 541.90 605.93 542.15 733.97 542.40 606.76 542.65 733.24 542.90 607.48 543.15 732.51 543.40 606.01 543.65 731.79 543.90 608.05 544.15 732.82 544.40 606.17 544.65 732.07 544.90 604.29 545.15 731.30 545.40 602.41 545.65 729.90 545.90 596.08 546.15 728.68 546.40 593.89 546.65 727.43 546.90 593.80 547.15 726.18 547.40 593.80 547.65 724.94 547.90 594.93 548.15 723.08 548.40 594.93 548.65 722.64 548.90 594.93 549.15 720.95 549.40 594.93 549.65 719.96 549.90 593.61 550.15 718.97 550.40 601.08 550.65 718.18 550.90 606.38 551.15 717.19 551.40 611.68 551.65 716.20 551.90 613.21 552.15 715.64 552.40 616.37 552.65 713.11 552.90 617.34 553.15 712.14 553.40 618.30 553.65 711.18 553.90 619.26 554.15 710.22 554.40 621.37 554.65 709.34 554.90 622.32 555.15 708.38 555.40 619.57 555.65 709.01 555.90 621.95 556.15 707.76 556.40 618.54 556.65 707.85 556.90 617.80 557.15 707.85 557.40 617.05 557.65 707.85 557.90 616.31 558.15 707.85 558.40 617.47 558.65 707.16 558.90 614.66 559.15 709.52 559.40 617.23 559.65 708.97 559.90 617.39 560.15 710.30 560.40 617.55 560.65 711.63 560.90 615.60 561.15 714.96 561.40 615.77 561.65 716.35 561.90 615.94 562.15 717.75 562.40 616.10 562.65 718.10 562.90 618.50 563.15 713.46 563.40 618.66 563.65 711.68 563.90 616.32 564.15 709.90 564.40 619.40 564.65 708.12 564.90 619.45 565.15 707.77 565.40 620.09 565.65 705.91 565.90 620.74 566.15 705.32 566.40 621.38 566.65 704.08 566.90 623.35 567.15 704.27 567.40 623.98 567.65 703.77 567.90 624.60 568.15 703.28 568.40 625.23 568.65 702.78 568.90 625.79 569.15 702.23 569.40 623.63 569.65 702.08 569.90 627.18 570.15 702.18 570.40 627.91 570.65 702.37 570.90 628.63 571.15 702.57 571.40 626.71 571.65 701.25 571.90 627.48 572.15 701.43 572.40 628.25 572.65 701.61 572.90 629.02 573.15 701.80 573.40 630.26 573.65 703.17 573.90 630.74 574.15 703.26 574.40 632.62 574.65 701.06 574.90 634.03 575.15 699.30 575.40 636.42 575.65 697.26 575.90 637.79 576.15 695.52 576.40 638.10 576.65 694.63 576.90 641.31 577.15 693.10 577.40 642.63 577.65 692.55 577.90 644.60 578.15 691.56 578.40 646.56 578.65 690.56 578.90 648.53 579.15 689.56 579.40 650.11 579.65 687.91 579.90 651.81 580.15 687.73 580.40 653.07 580.65 686.33 580.90 654.32 581.15 685.61 581.40 655.57 581.65 684.90 581.90 657.71 582.15 684.69 582.40 658.89 582.65 683.94 582.90 660.07 583.15 683.19 583.40 660.27 583.65 682.64 583.90 661.57 584.15 681.73 584.40 662.04 584.65 681.42 584.90 662.50 585.15 681.11 585.40 662.97 585.65 680.79 585.90 662.85 586.15 680.94 586.40 663.35 586.65 680.61 586.90 663.71 587.15 680.28 587.40 664.11 587.65 679.94 587.90 664.45 588.15 679.26 588.40 664.78 588.65 679.31 588.90 665.11 589.15 678.77 589.40 665.44 589.65 678.60 589.90 666.05 590.15 678.62 590.40 666.36 590.65 678.45 590.90 666.68 591.15 678.28 591.40 667.00 591.65 678.11 591.90 667.04 592.15 677.94 592.40 667.31 592.65 677.78 592.90 667.44 593.15 677.61 593.40 667.56 593.65 677.44 593.90 667.68 594.15 677.27 594.40 668.03 594.65 677.17 594.90 668.15 595.15 677.00 595.40 668.26 595.65 676.84 595.90 668.38 596.15 676.74 596.40 668.27 596.65 676.61 596.90 668.40 597.15 676.53 597.40 668.52 597.65 676.46 597.90 668.64 598.15 676.39 598.40 668.82 598.65 676.15 598.90 668.81 599.15 676.08 599.40 668.95 599.65 676.01 599.90 668.95 600.15 675.94 600.40 669.02 600.65 676.07 600.90 669.02 601.15 676.00 601.40 669.02 601.65 675.92 601.90 669.02 602.15 675.85 602.40 669.02 602.65 675.78 602.90 668.92 603.15 675.68 603.40 668.92 603.65 675.60 603.90 668.92 604.15 675.52 604.40 668.92 604.65 675.44 604.90 669.07 605.15 675.19 605.40 669.07 605.65 675.12 605.90 668.82 606.15 675.04 606.40 669.15 606.65 674.96 606.90 669.09 607.15 674.91 607.40 669.19 607.65 674.83 607.90 669.28 608.15 674.75 608.40 669.38 608.65 674.67 608.90 669.49 609.15 674.58 609.40 669.59 609.65 674.50 609.90 669.68 610.15 674.42 610.40 669.78 610.65 674.34 610.90 670.00 611.15 674.27 611.40 670.09 611.65 674.19 611.90 670.19 612.15 674.11 612.40 670.28 612.65 674.03 612.90 670.21 613.15 674.03 613.40 670.31 613.65 673.91 613.90 670.36 614.15 673.88 614.40 670.41 614.65 673.85 614.90 670.46 615.15 673.82 615.40 670.63 615.65 673.84 615.90 670.68 616.15 673.81 616.40 670.72 616.65 673.77 616.90 670.77 617.15 673.74 617.40 670.79 617.65 673.67 617.90 670.83 618.15 673.64 618.40 670.88 618.65 673.61 618.90 670.93 619.15 673.58 619.40 670.87 619.65 673.58 619.90 670.92 620.15 673.54 620.40 670.96 620.65 673.51 620.90 671.00 621.15 673.48 621.40 671.15 621.65 673.43 621.90 671.19 622.15 673.40 622.40 671.23 622.65 673.37 622.90 671.26 623.15 673.34 623.40 671.30 623.65 673.32 623.90 671.25 624.15 673.36 624.40 671.29 624.65 673.40 624.90 671.33 625.15 673.44 625.40 671.37 625.65 673.48 625.90 671.40 626.15 673.51 626.40 671.44 626.65 673.55 626.90 671.48 627.15 673.59 627.40 671.52 627.65 673.63 627.90 671.62 628.15 673.66 628.40 671.65 628.65 673.70 628.90 671.56 629.15 673.74 629.40 671.47 629.65 673.78 629.90 671.31 630.15 673.82 630.40 671.17 630.65 673.86 630.90 671.02 631.15 673.90 631.40 670.88 631.65 673.94 631.90 670.80 632.15 673.99 632.40 667.80 632.65 676.16 632.90 662.08 633.15 681.11 633.40 656.02 633.65 686.08 633.90 648.30 634.15 691.16 634.40 647.74 634.65 693.54 634.90 646.54 635.15 695.73 635.40 645.34 635.65 697.91 635.90 644.15 636.15 700.10 636.40 642.35 636.65 701.99 636.90 641.54 637.15 703.17 637.40 644.32 637.65 701.09 637.90 646.41 638.15 699.32 638.40 648.55 638.65 697.80 638.90 650.64 639.15 696.02 639.40 651.95 639.65 694.09 639.90 653.83 640.15 691.93 640.40 655.45 640.65 689.65 640.90 656.82 641.15 687.53 641.40 657.66 641.65 685.51 641.90 659.04 642.15 684.11 642.40 659.29 642.65 683.21 642.90 659.66 643.15 682.65 643.40 660.04 643.65 682.10 643.90 660.41 644.15 681.55 644.40 660.79 644.65 680.99 644.90 661.17 645.15 680.48 645.40 661.55 645.65 679.92 645.90 661.92 646.15 679.36 646.40 661.97 646.65 679.20 646.90 663.00 647.15 678.77 647.40 663.31 647.65 678.61 647.90 663.62 648.15 678.45 648.40 663.93 648.65 678.29 648.90 663.99 649.15 678.13 649.40 664.31 649.65 677.97 649.90 664.63 650.15 677.81 650.40 664.95 650.65 677.65 650.90 665.21 651.15 677.69 651.40 665.31 651.65 677.53 651.90 665.50 652.15 677.67 652.40 665.43 652.65 677.84 652.90 665.57 653.15 677.85 653.40 665.51 653.65 678.01 653.90 665.45 654.15 678.17 654.40 665.39 654.65 678.33 654.90 665.32 655.15 678.50 655.40 665.04 655.65 678.72 655.90 664.98 656.15 678.88 656.40 664.91 656.65 679.04 656.90 664.22 657.15 679.60 657.40 663.58 657.65 680.20 657.90 662.70 658.15 680.94 658.40 661.83 658.65 681.67 658.90 660.95 659.15 682.41 659.40 659.74 659.65 683.17 659.90 658.84 660.15 683.91 660.40 655.63 660.65 686.77 660.90 649.65 661.15 691.44 661.40 645.53 661.65 696.25 661.90 637.63 662.15 701.77 662.40 632.53 662.65 704.88 662.90 625.06 663.15 708.55 663.40 614.03 663.65 710.93 663.90 605.27 664.15 714.48 664.40 596.67 664.65 718.03 664.90 587.72 665.15 724.06 665.40 578.27 665.65 724.17 665.90 576.52 666.15 729.56 666.40 572.89 666.65 733.06 666.90 569.26 667.15 733.64 667.40 565.63 667.65 734.43 667.90 559.78 668.15 733.16 668.40 561.95 668.65 735.58 668.90 563.94 669.15 731.05 669.40 565.94 669.65 729.14 669.90 571.03 670.15 728.20 670.40 572.97 670.65 726.25 670.90 574.08 671.15 724.20 671.40 583.91 671.65 718.07 671.90 588.68 672.15 712.64 672.40 595.08 672.65 709.20 672.90 599.48 673.15 706.71 673.40 603.21 673.65 705.75 673.90 608.80 674.15 705.41 674.40 612.42 674.65 704.43 674.90 616.04 675.15 703.45 675.40 616.99 675.65 702.47 675.90 620.69 676.15 702.05 676.40 623.74 676.65 700.16 676.90 625.42 677.15 699.96 677.40 627.10 677.65 699.77 677.90 625.32 678.15 699.57 678.40 625.99 678.65 699.85 678.90 626.49 679.15 699.65 679.40 626.99 679.65 699.45 679.90 627.49 680.15 700.35 680.40 628.78 680.65 699.38 680.90 629.27 681.15 699.07 681.40 628.82 681.65 698.77 681.90 630.24 682.15 698.46 682.40 632.53 682.65 698.83 682.90 633.00 683.15 698.52 683.40 633.47 683.65 696.99 683.90 633.94 684.15 695.43 684.40 631.88 684.65 693.85 684.90 632.93 685.15 692.29 685.40 634.77 685.65 690.73 685.90 636.55 686.15 689.53 686.40 638.33 686.65 688.89 686.90 640.07 687.15 688.14 687.40 643.12 687.65 687.52 687.90 646.41 688.15 686.90 688.40 649.70 688.65 686.28 688.90 652.99 689.15 685.18 689.40 654.91 689.65 684.58 689.90 655.33 690.15 684.53 690.40 655.54 690.65 683.82 690.90 656.54 691.15 684.04 691.40 656.73 691.65 683.87 691.90 656.93 692.15 683.71 692.40 657.12 692.65 683.54 692.90 656.85 693.15 683.02 693.40 656.57 693.65 682.86 693.90 657.53 694.15 682.70 694.40 658.02 694.65 682.54 694.90 658.97 695.15 682.69 695.40 659.44 695.65 682.61 695.90 659.91 696.15 682.12 696.40 660.38 696.65 681.79 696.90 660.07 697.15 681.46 697.40 661.47 697.65 680.96 697.90 662.09 698.15 680.64 698.40 662.72 698.65 680.32 698.90 663.34 699.15 680.00 699.40 663.82 699.65 679.90 699.90 664.46 700.15 679.56 700.40 665.10 700.65 679.27 700.90 665.73 701.15 679.06 701.40 666.15 701.65 678.88 701.90 666.81 702.15 678.71 702.40 667.16 702.65 678.54 702.90 667.40 703.15 678.36 703.40 667.78 703.65 677.85 703.90 667.93 704.15 677.69 704.40 668.09 704.65 677.52 704.90 668.25 705.15 677.36 705.40 668.19 705.65 677.32 705.90 668.35 706.15 677.15 706.40 668.52 706.65 676.98 706.90 668.68 707.15 676.82 707.40 668.82 707.65 676.82 707.90 668.95 708.15 676.75 708.40 668.95 708.65 676.71 708.90 668.95 709.15 676.67 709.40 668.95 709.65 676.63 709.90 669.09 710.15 676.55 710.40 669.09 710.65 676.51 710.90 669.09 711.15 676.47 711.40 669.09 711.65 676.43 711.90 669.09 712.15 676.43 712.40 669.09 712.65 676.39 712.90 669.09 713.15 676.35 713.40 669.09 713.65 676.30 713.90 669.02 714.15 676.25 714.40 668.82 714.65 676.21 714.90 669.08 715.15 676.16 715.40 669.14 715.65 676.12 715.90 669.01 716.15 675.94 716.40 669.07 716.65 675.90 716.90 669.14 717.15 675.86 717.40 669.20 717.65 675.82 717.90 669.26 718.15 675.78 718.40 669.44 718.65 675.86 718.90 669.50 719.15 675.82 719.40 669.56 719.65 675.78 719.90 669.51 720.15 675.78 720.40 669.72 720.65 675.89 720.90 669.67 721.15 675.88 721.40 669.63 721.65 675.86 721.90 669.58 722.15 675.84 722.40 669.51 722.65 676.04 722.90 669.46 723.15 676.02 723.40 669.41 723.65 676.01 723.90 669.37 724.15 675.99 724.40 669.09 724.65 675.84 724.90 669.04 725.15 675.82 725.40 668.99 725.65 675.81 725.90 668.94 726.15 675.79 726.40 668.92 726.65 675.87 726.90 668.83 727.15 675.85 727.40 668.82 727.65 675.83 727.90 668.77 728.15 675.82 728.40 668.72 728.65 675.80 728.90 668.70 729.15 675.62 729.40 668.65 729.65 675.60 729.90 668.60 730.15 675.59 730.40 668.55 730.65 675.77 730.90 668.57 731.15 675.71 731.40 668.52 731.65 675.71 731.90 668.47 732.15 675.71 732.40 668.43 732.65 675.71 732.90 668.52 733.15 675.72 733.40 668.47 733.65 675.72 733.90 668.13 734.15 675.72 734.40 668.22 734.65 675.72 734.90 667.93 735.15 675.71 735.40 667.71 735.65 675.70 735.90 667.51 736.15 675.69 736.40 667.31 736.65 675.68 736.90 667.06 737.15 675.75 737.40 666.86 737.65 675.77 737.90 666.67 738.15 676.15 738.40 667.16 738.65 676.39 738.90 666.79 739.15 677.14 739.40 664.93 739.65 676.63 739.90 664.26 740.15 677.30 740.40 665.18 740.65 677.11 740.90 663.90 741.15 679.18 741.40 661.55 741.65 678.06 741.90 660.86 742.15 677.81 742.40 661.16 742.65 678.36 742.90 656.37 743.15 679.79 743.40 659.15 743.65 678.81 743.90 659.90 744.15 680.13 744.40 660.02 744.65 679.49 744.90 655.63 745.15 680.83 745.40 659.43 745.65 680.17 745.90 658.98 746.15 680.73 746.40 658.42 746.65 684.68 746.90 658.04 747.15 681.17 747.40 651.01 747.65 682.32 747.90 649.70 748.15 681.84 748.40 651.36 748.65 683.07 748.90 654.64 749.15 682.90 749.40 654.84 749.65 685.50 749.90 648.47 750.15 683.49 750.40 647.28 750.65 683.53 750.90 652.51 751.15 683.99 751.40 647.74 751.65 689.68 751.90 649.48 752.15 685.11 752.40 650.12 752.65 686.14 752.90 649.11 753.15 687.14 753.40 637.26 753.65 691.41 753.90 648.57 754.15 689.24 754.40 646.40 754.65 690.18 754.90 646.96 755.15 700.00 755.40 646.81 755.65 691.59 755.90 647.90 756.15 693.07 756.40 641.63 756.65 695.55 756.90 635.47 757.15 693.85 757.40 644.00 757.65 696.71 757.90 644.67 758.15 692.41 758.40 646.61 758.65 701.97 758.90 642.29 759.15 696.08 759.40 631.03 759.65 696.87 759.90 628.38 760.15 701.19 760.40 634.62 760.65 703.43 760.90 611.53 761.15 702.77 761.40 632.66 761.65 718.75 761.90 636.31 762.15 703.39 762.40 626.82 762.65 699.57 762.90 625.83 763.15 698.06 763.40 628.86 763.65 695.52 763.90 637.89 764.15 704.94 764.40 636.30 764.65 696.91 764.90 617.69 765.15 701.62 765.40 631.43 765.65 706.15 765.90 636.49 766.15 705.21 766.40 640.34 766.65 706.68 766.90 642.23 767.15 708.78 767.40 630.09 767.65 727.49 767.90 643.35 768.15 722.15 768.40 636.70 768.65 713.49 768.90 641.94 769.15 705.49 769.40 637.80 769.65 710.92 769.90 633.98 770.15 702.79 770.40 640.09 770.65 700.71 770.90 625.01 771.15 712.68 771.40 640.22 771.65 700.09 771.90 640.04 772.15 700.44 772.40 639.98 772.65 702.58 772.90 639.01 773.15 711.88 773.40 636.23 773.65 713.55 773.90 638.90 774.15 705.33 774.40 621.33 774.65 716.61 774.90 619.14 775.15 703.60 775.40 611.22 775.65 712.49 775.90 622.71 776.15 705.96 776.40 631.51 776.65 713.53 776.90 624.80 777.15 714.29 777.40 632.52 777.65 709.52 777.90 614.12 778.15 728.16 778.40 634.24 778.65 711.82 778.90 635.03 779.15 710.14 779.40 630.76 779.65 717.86 779.90 637.57 780.15 709.69 780.40 619.99 780.65 713.12 780.90 631.70 781.15 709.23 781.40 621.43 781.65 724.74 781.90 627.10 782.15 709.37 782.40 605.70 782.65 701.90 782.90 630.32 783.15 709.74 783.40 635.94 783.65 706.72 783.90 631.22 784.15 694.92 784.40 641.75 784.65 699.52 784.90 647.97 785.15 698.86 785.40 652.02 785.65 690.26 785.90 644.88 786.15 694.56 786.40 655.37 786.65 686.37 786.90 656.75 787.15 685.52 787.40 657.50 787.65 684.12 787.90 659.71 788.15 682.68 788.40 655.19 788.65 686.00 788.90 661.48 789.15 683.31 789.40 660.03 789.65 683.23 789.90 662.41 790.15 680.47 790.40 661.85 790.65 682.91 790.90 664.24 791.15 679.75 791.40 664.42 791.65 678.72 791.90 662.01 792.15 680.91 792.40 665.84 792.65 678.79 792.90 663.69 793.15 678.84 793.40 666.04 793.65 679.90 793.90 664.03 794.15 677.51 794.40 667.16 794.65 677.27 794.90 667.32 795.15 677.38 795.40 667.25 795.65 676.90 795.90 667.85 796.15 676.95 796.40 668.16 796.65 677.32 796.90 667.01 797.15 676.27 797.40 669.00 797.65 676.30 797.90 668.53 798.15 676.69 798.40 669.07 798.65 676.29 798.90 668.02 799.15 676.80 799.40 667.96 799.65 675.49 799.90 669.33 800.15 675.47 800.40 669.45 800.65 675.61 800.90 668.52 801.15 675.45 801.40 668.46 801.65 675.39 801.90 669.12 802.15 675.38 802.40 668.82 802.65 675.52 802.90 668.77 803.15 675.29 803.40 669.77 803.65 675.33 803.90 668.81 804.15 675.94 804.40 669.95 804.65 675.38 804.90 669.91 805.15 675.50 805.40 669.98 805.65 675.53 805.90 669.68 806.15 675.71 806.40 669.85 806.65 675.11 806.90 669.31 807.15 675.08 807.40 669.81 807.65 675.78 807.90 670.07 808.15 675.11 808.40 670.07 808.65 675.16 808.90 670.04 809.15 675.37 809.40 670.04 809.65 675.57 809.90 669.56 810.15 675.64 810.40 670.03 810.65 675.47 810.90 669.52 811.15 675.52 811.40 669.68 811.65 675.92 811.90 669.46 812.15 675.98 812.40 669.24 812.65 676.04 812.90 668.95 813.15 676.01 813.40 668.72 813.65 676.08 813.90 668.50 814.15 676.14 814.40 668.27 814.65 676.21 814.90 668.00 815.15 676.42 815.40 667.78 815.65 676.48 815.90 667.56 816.15 676.54 816.40 666.88 816.65 677.14 816.90 666.59 817.15 677.57 817.40 666.10 817.65 678.35 817.90 665.62 818.15 679.13 818.40 665.13 818.65 679.92 818.90 665.01 819.15 680.83 819.40 664.55 819.65 681.63 819.90 663.34 820.15 682.67 820.40 663.46 820.65 681.80 820.90 663.17 821.15 681.74 821.40 662.61 821.65 681.50 821.90 662.04 822.15 681.27 822.40 660.21 822.65 681.03 822.90 662.00 823.15 680.79 823.40 661.75 823.65 680.83 823.90 662.68 824.15 680.05 824.40 663.60 824.65 679.57 824.90 664.52 825.15 679.09 825.40 665.24 825.65 678.74 825.90 665.46 826.15 678.25 826.40 665.68 826.65 677.76 826.90 665.90 827.15 677.45 827.40 666.05 827.65 676.82 827.90 666.27 828.15 676.66 828.40 666.50 828.65 676.51 828.90 666.72 829.15 676.35 829.40 667.16 829.65 676.27 829.90 667.38 830.15 676.11 830.40 667.17 830.65 675.95 830.90 667.81 831.15 675.79 831.40 667.75 831.65 675.73 831.90 667.98 832.15 675.57 832.40 668.20 832.65 675.40 832.90 668.43 833.15 675.23 833.40 668.66 833.65 675.07 833.90 668.86 834.15 675.04 834.40 669.09 834.65 674.82 834.90 669.32 835.15 674.75 835.40 669.50 835.65 674.69 835.90 669.85 836.15 674.71 836.40 669.91 836.65 674.64 836.90 669.97 837.15 674.57 837.40 670.03 837.65 674.50 837.90 670.08 838.15 674.39 838.40 670.14 838.65 674.32 838.90 670.20 839.15 674.25 839.40 670.26 839.65 674.19 839.90 670.16 840.15 674.10 840.40 670.22 840.65 674.03 840.90 670.29 841.15 673.97 841.40 670.35 841.65 673.90 841.90 670.61 842.15 673.89 842.40 670.67 842.65 673.82 842.90 670.73 843.15 673.75 843.40 670.79 843.65 673.68 843.90 670.85 844.15 673.61 844.40 670.73 844.65 673.50 844.90 670.80 845.15 673.43 845.40 670.87 845.65 673.36 845.90 670.92 846.15 673.33 846.40 671.07 846.65 673.28 846.90 671.10 847.15 673.25 847.40 671.14 847.65 673.21 847.90 671.17 848.15 673.17 848.40 671.12 848.65 673.13 848.90 671.15 849.15 673.09 849.40 671.19 849.65 673.06 849.90 671.23 850.15 673.04 850.40 671.26 850.65 673.04 850.90 671.30 851.15 673.04 851.40 671.34 851.65 673.04 851.90 671.37 852.15 673.04 852.40 671.42 852.65 673.04 852.90 671.45 853.15 673.04 853.40 671.49 853.65 673.04 853.90 671.53 854.15 673.04 854.40 671.57 854.65 673.04 854.90 671.60 855.15 673.05 855.40 671.64 855.65 673.05 855.90 671.67 856.15 673.05 856.40 671.71 856.65 673.05 856.90 671.76 857.15 673.04 857.40 671.80 857.65 673.04 857.90 671.84 858.15 673.04 858.40 671.87 858.65 673.04 858.90 671.91 859.15 673.05 859.40 671.95 859.65 673.05 859.90 671.97 860.15 673.05 860.40 672.00 860.65 673.05 860.90 672.00 861.15 673.05 861.40 672.01 861.65 673.05 861.90 672.02 862.15 673.05 862.40 672.03 862.65 673.05 862.90 672.05 863.15 673.05 863.40 672.06 863.65 673.05 863.90 672.07 864.15 673.05 864.40 672.08 864.65 673.05 864.90 672.09 865.15 673.05 865.40 672.13 865.65 673.05 865.90 672.14 866.15 673.05 866.40 672.15 866.65 673.05 866.90 672.16 867.15 673.05 867.40 672.17 867.65 673.04 867.90 672.18 868.15 673.04 868.40 672.19 868.65 673.04 868.90 672.19 869.15 673.04 869.40 672.17 869.65 673.04 869.90 672.18 870.15 673.04 870.40 672.19 870.65 673.04 870.90 672.20 871.15 673.04 871.40 672.20 871.65 673.04 871.90 672.21 872.15 673.04 872.40 672.22 872.65 673.04 872.90 672.23 873.15 673.04 873.40 672.28 873.65 673.05 873.90 672.29 874.15 673.05 874.40 672.30 874.65 673.05 874.90 672.31 875.15 673.05 875.40 672.31 875.65 673.05 875.90 672.30 876.15 673.05 876.40 672.31 876.65 673.05 876.90 672.32 877.15 673.05 877.40 672.32 877.65 673.05 877.90 672.37 878.15 673.03 878.40 672.37 878.65 673.03 878.90 672.38 879.15 673.03 879.40 672.39 879.65 673.03 879.90 672.39 880.15 673.05 880.40 672.39 880.65 673.05 880.90 672.40 881.15 673.05 881.40 672.41 881.65 673.05 881.90 672.39 882.15 673.03 882.40 672.40 882.65 673.03 882.90 672.41 883.15 673.03 883.40 672.41 883.65 673.03 883.90 672.43 884.15 673.04 884.40 672.43 884.65 673.04 884.90 672.44 885.15 673.04 885.40 672.45 885.65 673.04 885.90 672.45 886.15 673.04 886.40 672.46 886.65 673.05 886.90 672.47 887.15 673.05 887.40 672.48 887.65 673.05 887.90 672.48 888.15 673.05 888.40 672.50 888.65 673.04 888.90 672.51 889.15 673.04 889.40 672.51 889.65 673.04 889.90 672.52 890.15 673.04 890.40 672.51 890.65 673.04 890.90 672.52 891.15 673.04 891.40 672.52 891.65 673.04 891.90 672.53 892.15 673.04 892.40 672.54 892.65 673.03 892.90 672.55 893.15 673.03 893.40 672.56 893.65 673.03 893.90 672.56 894.15 673.03 894.40 672.55 894.65 673.04 894.90 672.55 895.15 673.04 895.40 672.55 895.65 673.04 895.90 672.55 896.15 673.04 896.40 672.55 896.65 673.04 896.90 672.56 897.15 673.04 897.40 672.56 897.65 673.04 897.90 672.56 898.15 673.04 898.40 672.56 898.65 673.04 898.90 672.55 899.15 673.04 899.40 672.55 899.65 673.04 899.90 672.55 900.15 673.04 900.40 672.55 900.65 673.04 900.90 672.57 901.15 673.04 901.40 672.57 901.65 673.04 901.90 672.55 902.15 673.05 902.40 669.11 902.65 675.00 902.90 665.50 903.15 678.58 903.40 661.90 903.65 682.12 903.90 657.88 904.15 686.46 904.40 658.48 904.65 686.68 904.90 657.97 905.15 694.59 905.40 655.19 905.65 695.57 905.90 658.91 906.15 703.60 906.40 653.17 906.65 698.50 906.90 656.15 907.15 699.53 907.40 651.29 907.65 696.04 907.90 657.04 908.15 700.07 908.40 656.93 908.65 692.49 908.90 656.54 909.15 698.56 909.40 655.60 909.65 691.18 909.90 652.82 910.15 691.04 910.40 653.45 910.65 691.67 910.90 650.79 911.15 691.60 911.40 653.38 911.65 689.70 911.90 653.72 912.15 690.68 912.40 652.17 912.65 695.03 912.90 655.77 913.15 688.59 913.40 658.08 913.65 688.23 913.90 657.56 914.15 688.29 914.40 653.43 914.65 690.38 914.90 657.95 915.15 687.27 915.40 659.77 915.65 688.43 915.90 656.81 916.15 686.39 916.40 660.87 916.65 688.97 916.90 661.20 917.15 687.04 917.40 662.01 917.65 685.30 917.90 658.21 918.15 689.53 918.40 659.25 918.65 685.36 918.90 658.40 919.15 686.58 919.40 661.68 919.65 684.37 919.90 661.43 920.15 683.46 920.40 658.16 920.65 683.14 920.90 658.32 921.15 682.98 921.40 657.16 921.65 682.36 921.90 662.13 922.15 682.00 922.40 663.31 922.65 681.80 922.90 662.50 923.15 684.53 923.40 663.51 923.65 682.35 923.90 663.93 924.15 680.65 924.40 665.83 924.65 681.83 924.90 665.48 925.15 679.92 925.40 667.70 925.65 679.51 925.90 667.58 926.15 679.86 926.40 668.16 926.65 679.14 926.90 667.04 927.15 678.59 927.40 668.62 927.65 678.01 927.90 668.88 928.15 677.65 928.40 667.93 928.65 679.27 928.90 669.44 929.15 677.53 929.40 669.67 929.65 678.96 929.90 668.82 930.15 677.45 930.40 667.38 930.65 677.83 930.90 667.06 931.15 678.00 931.40 665.78 931.65 678.33 931.90 662.44 932.15 680.29 932.40 660.53 932.65 680.68 932.90 657.25 933.15 681.25 933.40 659.60 933.65 686.30 933.90 653.70 934.15 688.86 934.40 649.66 934.65 686.01 934.90 652.57 935.15 690.98 935.40 643.97 935.65 687.44 935.90 651.63 936.15 688.97 936.40 650.39 936.65 689.65 936.90 650.57 937.15 696.74 937.40 650.03 937.65 691.88 937.90 649.51 938.15 690.77 938.40 647.91 938.65 690.99 938.90 638.97 939.15 692.54 939.40 647.97 939.65 696.59 939.90 645.27 940.15 694.05 940.40 648.16 940.65 699.47 940.90 647.94 941.15 692.75 941.40 647.82 941.65 693.16 941.90 646.74 942.15 698.53 942.40 643.05 942.65 701.85 942.90 647.34 943.15 693.36 943.40 640.04 943.65 693.02 943.90 636.64 944.15 692.82 944.40 647.44 944.65 695.92 944.90 647.83 945.15 692.36 945.40 644.42 945.65 692.04 945.90 648.79 946.15 691.94 946.40 648.73 946.65 693.93 946.90 649.53 947.15 693.18 947.40 640.83 947.65 698.51 947.90 650.28 948.15 696.72 948.40 651.17 948.65 691.95 948.90 651.69 949.15 692.72 949.40 644.89 949.65 694.83 949.90 651.68 950.15 692.21 950.40 647.35 950.65 693.90 950.90 646.08 951.15 698.30 951.40 652.36 951.65 693.48 951.90 647.73 952.15 697.28 952.40 652.97 952.65 698.64 952.90 653.07 953.15 702.13 953.40 649.08 953.65 694.50 953.90 652.68 954.15 693.90 954.40 644.34 954.65 696.64 954.90 651.69 955.15 694.24 955.40 651.61 955.65 696.02 955.90 644.06 956.15 696.01 956.40 645.12 956.65 704.28 956.90 648.02 957.15 698.24 957.40 644.33 957.65 696.53 957.90 640.84 958.15 697.22 958.40 643.99 958.65 703.98 958.90 637.59 959.15 699.35 959.40 616.84 959.65 708.72 959.90 619.34 960.15 711.60 960.40 634.97 960.65 703.38 960.90 634.20 961.15 714.35 961.40 633.68 961.65 706.93 961.90 632.90 962.15 715.79 962.40 632.39 962.65 725.52 962.90 615.10 963.15 729.42 963.40 633.11 963.65 712.10 963.90 633.90 964.15 716.58 964.40 630.57 964.65 708.76 964.90 639.12 965.15 711.32 965.40 625.47 965.65 717.09 965.90 627.01 966.15 709.15 966.40 633.29 966.65 708.90 966.90 611.97 967.15 724.73 967.40 630.25 967.65 718.66 967.90 631.15 968.15 732.48 968.40 620.61 968.65 718.50 968.90 628.82 969.15 724.42 969.40 632.66 969.65 709.35 969.90 626.88 970.15 708.03 970.40 619.61 970.65 719.98 970.90 634.89 971.15 706.89 971.40 638.01 971.65 707.96 971.90 640.70 972.15 715.07 972.40 627.82 972.65 708.09 972.90 633.72 973.15 708.87 973.40 637.90 973.65 709.47 973.90 635.22 974.15 726.31 974.40 634.32 974.65 712.13 974.90 617.12 975.15 716.33 975.40 635.04 975.65 711.74 975.90 636.59 976.15 712.82 976.40 627.48 976.65 713.28 976.90 639.02 977.15 729.69 977.40 626.49 977.65 711.41 977.90 640.39 978.15 713.45 978.40 639.85 978.65 722.32 978.90 638.58 979.15 712.65 979.40 638.74 979.65 723.32 979.90 634.51 980.15 711.14 980.40 627.63 980.65 709.33 980.90 621.73 981.15 721.10 981.40 637.53 981.65 710.66 981.90 632.00 982.15 718.84 982.40 634.63 982.65 712.29 982.90 629.40 983.15 729.84 983.40 638.96 983.65 712.06 983.90 635.11 984.15 724.18 984.40 625.00 984.65 717.15 984.90 639.01 985.15 710.92 985.40 637.67 985.65 710.66 985.90 628.43 986.15 710.26 986.40 628.50 986.65 726.34 986.90 626.66 987.15 710.08 987.40 617.57 987.65 709.15 987.90 631.88 988.15 719.46 988.40 631.31 988.65 708.47 988.90 629.63 989.15 709.83 989.40 617.08 989.65 707.77 989.90 605.69 990.15 723.62 990.40 612.34 990.65 712.08 990.90 612.97 991.15 710.47 991.40 631.38 991.65 711.77 991.90 632.06 992.15 730.36 992.40 619.04 992.65 720.84 992.90 628.97 993.15 730.18 993.40 625.38 993.65 735.41 993.90 625.37 994.15 722.37 994.40 630.65 994.65 712.15 994.90 609.67 995.15 710.67 995.40 625.14 995.65 710.64 995.90 631.91 996.15 722.46 996.40 634.06 996.65 706.48 996.90 635.35 997.15 705.20 997.40 635.49 997.65 705.62 997.90 622.76 998.15 715.03 998.40 634.28 998.65 716.21 998.90 634.36 999.15 709.16 999.40 628.28 999.65 717.85 999.90 616.65 1000.15 717.62 1000.40 611.34 1000.65 712.74 1000.90 627.62 1001.15 717.93 1001.40 622.62 1001.65 707.48 1001.90 632.19 1002.15 724.54 1002.40 631.49 1002.65 708.20 1002.90 615.69 1003.15 705.60 1003.40 630.88 1003.65 704.18 1003.90 636.60 1004.15 710.59 1004.40 638.53 1004.65 710.04 1004.90 625.18 1005.15 712.67 1005.40 639.19 1005.65 708.54 1005.90 633.33 1006.15 713.25 1006.40 633.50 1006.65 702.30 1006.90 636.78 1007.15 701.95 1007.40 627.21 1007.65 715.66 1007.90 642.34 1008.15 705.09 1008.40 643.02 1008.65 701.28 1008.90 643.90 1009.15 699.99 1009.40 644.40 1009.65 699.33 1009.90 632.64 1010.15 698.66 1010.40 645.54 1010.65 698.35 1010.90 642.07 1011.15 708.27 1011.40 647.80 1011.65 698.96 1011.90 642.40 1012.15 694.02 1012.40 638.89 1012.65 692.83 1012.90 646.75 1013.15 693.07 1013.40 643.17 1013.65 697.40 1013.90 654.05 1014.15 687.86 1014.40 655.16 1014.65 688.18 1014.90 649.47 1015.15 685.06 1015.40 658.65 1015.65 687.66 1015.90 658.52 1016.15 681.91 1016.40 662.06 1016.65 681.47 1016.90 658.89 1017.15 680.57 1017.40 661.21 1017.65 680.66 1017.90 664.90 1018.15 680.84 1018.40 665.04 1018.65 679.84 1018.90 666.77 1019.15 678.01 1019.40 665.14 1019.65 677.25 1019.90 666.94 1020.15 677.33 1020.40 667.69 1020.65 676.61 1020.90 666.63 1021.15 677.76 1021.40 668.03 1021.65 677.48 1021.90 668.11 1022.15 676.04 1022.40 668.53 1022.65 676.14 1022.90 667.91 1023.15 675.96 1023.40 668.78 1023.65 675.91 1023.90 668.61 1024.15 675.84 1024.40 669.02 1024.65 675.78 1024.90 668.15 1025.15 676.14 1025.40 669.17 1025.65 675.76 1025.90 668.52 1026.15 675.92 1026.40 669.09 1026.65 675.74 1026.90 668.81 1027.15 675.75 1027.40 668.87 1027.65 675.66 1027.90 668.93 1028.15 675.56 1028.40 668.98 1028.65 675.75 1028.90 668.81 1029.15 675.59 1029.40 668.89 1029.65 675.52 1029.90 668.97 1030.15 675.46 1030.40 669.05 1030.65 675.39 1030.90 669.27 1031.15 675.30 1031.40 669.35 1031.65 675.23 1031.90 669.42 1032.15 675.16 1032.40 669.50 1032.65 675.09 1032.90 669.58 1033.15 675.02 1033.40 669.51 1033.65 674.82 1033.90 669.75 1034.15 674.76 1034.40 669.78 1034.65 674.69 1034.90 669.81 1035.15 674.63 1035.40 669.66 1035.65 674.67 1035.90 669.69 1036.15 674.60 1036.40 669.73 1036.65 674.53 1036.90 669.76 1037.15 674.46 1037.40 669.83 1037.65 674.44 1037.90 669.86 1038.15 674.37 1038.40 669.90 1038.65 674.30 1038.90 669.93 1039.15 674.23 1039.40 670.15 1039.65 674.10 1039.90 670.18 1040.15 674.03 1040.40 670.21 1040.65 674.03 1040.90 670.24 1041.15 673.94 1041.40 670.30 1041.65 673.92 1041.90 670.33 1042.15 673.89 1042.40 670.36 1042.65 673.87 1042.90 670.39 1043.15 673.85 1043.40 670.42 1043.65 673.82 1043.90 670.22 1044.15 673.83 1044.40 670.36 1044.65 673.81 1044.90 670.37 1045.15 673.79 1045.40 670.39 1045.65 673.76 1045.90 670.40 1046.15 673.75 1046.40 670.41 1046.65 673.72 1046.90 670.43 1047.15 673.70 1047.40 670.45 1047.65 673.67 1047.90 670.57 1048.15 673.65 1048.40 670.59 1048.65 673.62 1048.90 670.60 1049.15 673.60 1049.40 670.62 1049.65 673.57 1049.90 670.56 1050.15 673.51 1050.40 670.57 1050.65 673.48 1050.90 670.59 1051.15 673.46 1051.40 670.61 1051.65 673.43 1051.90 670.63 1052.15 673.41 1052.40 670.64 1052.65 673.39 1052.90 670.66 1053.15 673.37 1053.40 670.67 1053.65 673.34 1053.90 670.69 1054.15 673.32 1054.40 670.57 1054.65 673.32 1054.90 670.73 1055.15 673.33 1055.40 670.67 1055.65 673.37 1055.90 670.60 1056.15 673.42 1056.40 670.31 1056.65 673.47 1056.90 670.24 1057.15 673.51 1057.40 670.16 1057.65 673.56 1057.90 670.09 1058.15 673.60 1058.40 670.08 1058.65 673.62 1058.90 670.00 1059.15 673.67 1059.40 669.93 1059.65 673.71 1059.90 669.86 1060.15 673.75 1060.40 669.75 1060.65 673.82 1060.90 669.69 1061.15 673.86 1061.40 669.53 1061.65 673.90 1061.90 668.04 1062.15 673.94 1062.40 666.87 1062.65 675.44 1062.90 665.31 1063.15 678.29 1063.40 662.40 1063.65 680.54 1063.90 659.16 1064.15 682.25 1064.40 650.32 1064.65 687.52 1064.90 638.32 1065.15 689.74 1065.40 642.25 1065.65 691.96 1065.90 646.06 1066.15 697.90 1066.40 650.62 1066.65 690.21 1066.90 644.47 1067.15 689.92 1067.40 652.33 1067.65 691.97 1067.90 651.70 1068.15 687.46 1068.40 652.69 1068.65 691.65 1068.90 652.28 1069.15 687.37 1069.40 645.06 1069.65 687.58 1069.90 651.07 1070.15 688.65 1070.40 647.57 1070.65 693.78 1070.90 647.57 1071.15 691.84 1071.40 636.48 1071.65 695.22 1071.90 634.71 1072.15 692.21 1072.40 642.12 1072.65 690.16 1072.90 630.17 1073.15 696.92 1073.40 625.11 1073.65 692.99 1073.90 638.28 1074.15 698.88 1074.40 630.40 1074.65 692.45 1074.90 634.62 1075.15 694.69 1075.40 638.73 1075.65 693.94 1075.90 635.57 1076.15 698.09 1076.40 629.05 1076.65 701.29 1076.90 639.31 1077.15 697.49 1077.40 627.00 1077.65 703.63 1077.90 639.82 1078.15 697.16 1078.40 632.55 1078.65 698.50 1078.90 640.42 1079.15 708.21 1079.40 640.72 1079.65 698.52 1079.90 641.02 1080.15 707.64 1080.40 634.93 1080.65 698.35 1080.90 629.69 1081.15 699.79 1081.40 631.10 1081.65 703.76 1081.90 641.75 1082.15 698.80 1082.40 641.09 1082.65 698.09 1082.90 641.94 1083.15 702.10 1083.40 642.03 1083.65 700.05 1083.90 642.13 1084.15 699.17 1084.40 640.73 1084.65 707.23 1084.90 642.31 1085.15 704.56 1085.40 642.20 1085.65 698.42 1085.90 631.03 1086.15 698.43 1086.40 640.57 1086.65 705.08 1086.90 642.50 1087.15 698.17 1087.40 642.35 1087.65 697.50 1087.90 640.35 1088.15 703.66 1088.40 642.18 1088.65 698.58 1088.90 642.34 1089.15 702.49 1089.40 642.29 1089.65 698.19 1089.90 641.94 1090.15 700.84 1090.40 640.01 1090.65 699.03 1090.90 641.33 1091.15 697.01 1091.40 630.41 1091.65 706.17 1091.90 642.31 1092.15 696.85 1092.40 642.27 1092.65 698.46 1092.90 635.13 1093.15 697.02 1093.40 642.71 1093.65 698.22 1093.90 642.83 1094.15 698.32 1094.40 642.96 1094.65 705.01 1094.90 641.61 1095.15 696.94 1095.40 643.22 1095.65 698.06 1095.90 643.16 1096.15 696.28 1096.40 632.08 1096.65 698.16 1096.90 642.99 1097.15 696.04 1097.40 643.03 1097.65 696.14 1097.90 637.57 1098.15 696.14 1098.40 643.62 1098.65 704.70 1098.90 643.85 1099.15 695.56 1099.40 639.08 1099.65 695.38 1099.90 643.96 1100.15 695.25 1100.40 644.09 1100.65 694.97 1100.90 644.18 1101.15 694.93 1101.40 634.64 1101.65 698.18 1101.90 632.27 1102.15 694.86 1102.40 639.82 1102.65 699.12 1102.90 640.70 1103.15 694.09 1103.40 632.22 1103.65 702.03 1103.90 625.21 1104.15 697.12 1104.40 637.84 1104.65 695.49 1104.90 638.03 1105.15 700.10 1105.40 636.31 1105.65 698.20 1105.90 646.69 1106.15 698.29 1106.40 636.08 1106.65 708.43 1106.90 644.94 1107.15 699.27 1107.40 632.69 1107.65 701.38 1107.90 642.16 1108.15 695.06 1108.40 643.16 1108.65 694.11 1108.90 646.44 1109.15 700.87 1109.40 647.49 1109.65 693.94 1109.90 648.32 1110.15 702.92 1110.40 640.72 1110.65 696.10 1110.90 640.20 1111.15 706.58 1111.40 648.64 1111.65 696.75 1111.90 642.28 1112.15 695.46 1112.40 646.91 1112.65 694.28 1112.90 646.56 1113.15 697.35 1113.40 636.29 1113.65 695.75 1113.90 648.24 1114.15 696.90 1114.40 646.78 1114.65 691.40 1114.90 648.84 1115.15 695.53 1115.40 652.79 1115.65 692.15 1115.90 645.47 1116.15 693.96 1116.40 649.35 1116.65 701.96 1116.90 643.25 1117.15 692.74 1117.40 650.24 1117.65 691.38 1117.90 639.76 1118.15 697.20 1118.40 648.27 1118.65 694.65 1118.90 650.76 1119.15 691.76 1119.40 648.89 1119.65 693.73 1119.90 650.41 1120.15 691.32 1120.40 654.64 1120.65 689.44 1120.90 649.46 1121.15 690.00 1121.40 655.40 1121.65 698.01 1121.90 653.40 1122.15 690.51 1122.40 653.63 1122.65 691.24 1122.90 644.66 1123.15 689.31 1123.40 650.24 1123.65 687.16 1123.90 652.00 1124.15 686.09 1124.40 655.16 1124.65 689.86 1124.90 654.05 1125.15 686.45 1125.40 654.48 1125.65 686.23 1125.90 658.34 1126.15 685.38 1126.40 656.91 1126.65 687.42 1126.90 657.44 1127.15 690.90 1127.40 656.53 1127.65 686.05 1127.90 648.61 1128.15 691.50 1128.40 654.46 1128.65 688.05 1128.90 652.81 1129.15 685.25 1129.40 659.86 1129.65 683.99 1129.90 656.99 1130.15 683.29 1130.40 660.76 1130.65 682.57 1130.90 659.96 1131.15 683.48 1131.40 663.00 1131.65 684.57 1131.90 663.15 1132.15 683.49 1132.40 661.48 1132.65 681.45 1132.90 662.58 1133.15 681.93 1133.40 658.77 1133.65 682.43 1133.90 663.04 1134.15 683.18 1134.40 664.24 1134.65 684.57 1134.90 663.57 1135.15 686.25 1135.40 665.18 1135.65 681.66 1135.90 666.41 1136.15 681.20 1136.40 666.80 1136.65 680.96 1136.90 665.44 1137.15 679.54 1137.40 666.15 1137.65 679.11 1137.90 666.24 1138.15 678.14 1138.40 668.13 1138.65 679.32 1138.90 667.56 1139.15 677.44 1139.40 668.15 1139.65 677.13 1139.90 668.51 1140.15 676.64 1140.40 666.85 1140.65 676.39 1140.90 666.96 1141.15 676.24 1141.40 667.46 1141.65 676.04 1141.90 667.11 1142.15 676.84 1142.40 665.15 1142.65 676.46 1142.90 666.84 1143.15 677.31 1143.40 666.40 1143.65 678.16 1143.90 663.96 1144.15 679.39 1144.40 667.14 1144.65 682.70 1144.90 665.67 1145.15 678.99 1145.40 668.31 1145.65 678.60 1145.90 668.15 1146.15 677.87 1146.40 668.76 1146.65 677.14 1146.90 670.04 1147.15 675.52 1147.40 669.58 1147.65 675.69 1147.90 670.63 1148.15 675.25 1148.40 670.73 1148.65 674.67 1148.90 670.82 1149.15 674.77 1149.40 670.91 1149.65 674.38 1149.90 671.01 1150.15 674.25 1150.40 671.09 1150.65 674.50 1150.90 671.16 1151.15 674.23 1151.40 671.24 1151.65 673.97 1151.90 671.26 1152.15 673.96 1152.40 670.92 1152.65 674.03 1152.90 670.97 1153.15 673.72 1153.40 671.34 1153.65 673.77 1153.90 671.11 1154.15 673.62 1154.40 671.32 1154.65 673.78 1154.90 671.21 1155.15 673.69 1155.40 671.19 1155.65 673.58 1155.90 671.34 1156.15 673.64 1156.40 671.36 1156.65 673.59 1156.90 671.26 1157.15 673.47 1157.40 671.29 1157.65 673.43 1157.90 671.32 1158.15 673.39 1158.40 671.36 1158.65 673.35 1158.90 671.39 1159.15 673.31 1159.40 671.48 1159.65 673.32 1159.90 671.50 1160.15 673.27 1160.40 671.53 1160.65 673.22 1160.90 671.57 1161.15 673.17 1161.40 671.58 1161.65 673.10 1161.90 671.62 1162.15 673.06 1162.40 671.65 1162.65 673.04 1162.90 671.62 1163.15 673.05 1163.40 671.71 1163.65 673.04 1163.90 671.74 1164.15 673.04 1164.40 671.76 1164.65 673.04 1164.90 671.78 1165.15 673.04 1165.40 671.76 1165.65 673.05 1165.90 671.78 1166.15 673.05 1166.40 671.81 1166.65 673.05 1166.90 671.83 1167.15 673.05 1167.40 671.90 1167.65 673.05 1167.90 671.92 1168.15 673.05 1168.40 671.95 1168.65 673.05 1168.90 671.97 1169.15 673.05 1169.40 671.99 1169.65 673.05 1169.90 672.02 1170.15 673.04 1170.40 672.04 1170.65 673.04 1170.90 672.07 1171.15 673.04 1171.40 672.09 1171.65 673.04 1171.90 672.09 1172.15 673.05 1172.40 672.11 1172.65 673.05 1172.90 672.14 1173.15 673.05 1173.40 672.16 1173.65 673.05 1173.90 672.23 1174.15 673.03 1174.40 672.25 1174.65 673.03 1174.90 672.28 1175.15 673.03 1175.40 672.30 1175.65 673.03 1175.90 672.32 1176.15 673.03 1176.40 672.35 1176.65 673.03 1176.90 672.32 1177.15 673.05 1177.40 672.37 1177.65 673.03 1177.90 672.38 1178.15 673.04 1178.40 672.39 1178.65 673.04 1178.90 672.39 1179.15 673.04 1179.40 672.40 1179.65 673.04 1179.90 672.41 1180.15 673.04 1180.40 672.41 1180.65 673.04 1180.90 672.42 1181.15 673.04 1181.40 672.43 1181.65 673.04 1181.90 672.43 1182.15 673.04 1182.40 672.43 1182.65 673.04 1182.90 672.44 1183.15 673.04 1183.40 672.44 1183.65 673.04 1183.90 672.45 1184.15 673.04 1184.40 672.47 1184.65 673.05 1184.90 672.47 1185.15 673.05 1185.40 672.48 1185.65 673.05 1185.90 672.49 1186.15 673.05 1186.40 672.47 1186.65 673.03 1186.90 672.48 1187.15 673.03 1187.40 672.49 1187.65 673.03 1187.90 672.50 1188.15 673.03 1188.40 672.51 1188.65 673.03 1188.90 672.51 1189.15 673.03 1189.40 672.52 1189.65 673.03 1189.90 672.53 1190.15 673.03 1190.40 672.54 1190.65 673.03 1190.90 672.55 1191.15 673.05 1191.40 672.56 1191.65 673.05 1191.90 672.57 1192.15 673.05 1192.40 672.57 1192.65 673.05 1192.90 672.57 1193.15 673.05 1193.40 672.57 1193.65 673.05 1193.90 672.57 1194.15 673.05 1194.40 672.57 1194.65 673.05 1194.90 672.56 1195.15 673.05 1195.40 672.56 1195.65 673.05 1195.90 672.56 1196.15 673.05 1196.40 672.56 1196.65 673.05 1196.90 672.55 1197.15 673.04 1197.40 672.55 1197.65 673.04 1197.90 672.55 1198.15 673.04 1198.40 672.55 1198.65 673.04 1198.90 672.56 1199.15 673.03 1199.40 672.56 1199.65 673.03 1199.90 672.55 1200.15 673.05 1200.40 672.56 1200.65 673.03 1200.90 672.56 1201.15 673.02 1201.40 672.55 1201.65 673.02 1201.90 672.56 1202.15 673.02 1202.40 672.55 1202.65 673.01 1202.90 672.57 1203.15 673.04 1203.40 672.55 1203.65 672.99 1203.90 672.54 1204.15 672.99 1204.40 672.52 1204.65 672.99 1204.90 672.51 1205.15 673.03 1205.40 672.49 1205.65 673.04 1205.90 672.42 1206.15 672.98 1206.40 671.25 1206.65 673.56 1206.90 666.38 1207.15 675.52 1207.40 664.64 1207.65 677.34 1207.90 658.20 1208.15 681.27 1208.40 662.81 1208.65 679.84 1208.90 664.60 1209.15 680.56 1209.40 664.76 1209.65 679.81 1209.90 663.35 1210.15 680.22 1210.40 664.51 1210.65 684.40 1210.90 664.93 1211.15 681.24 1211.40 663.78 1211.65 683.34 1211.90 662.45 1212.15 682.76 1212.40 657.89 1212.65 684.37 1212.90 657.05 1213.15 684.27 1213.40 660.78 1213.65 690.07 1213.90 655.55 1214.15 688.06 1214.40 652.83 1214.65 690.78 1214.90 650.82 1215.15 687.37 1215.40 656.63 1215.65 689.90 1215.90 652.78 1216.15 696.84 1216.40 653.74 1216.65 689.31 1216.90 646.26 1217.15 695.63 1217.40 644.57 1217.65 692.20 1217.90 653.14 1218.15 692.80 1218.40 651.48 1218.65 690.28 1218.90 652.13 1219.15 695.68 1219.40 650.56 1219.65 698.99 1219.90 651.11 1220.15 694.53 1220.40 649.76 1220.65 692.54 1220.90 639.22 1221.15 693.54 1221.40 649.83 1221.65 700.05 1221.90 649.32 1222.15 696.40 1222.40 649.37 1222.65 700.36 1222.90 648.94 1223.15 710.26 1223.40 648.55 1223.65 701.01 1223.90 648.70 1224.15 703.46 1224.40 648.26 1224.65 716.02 1224.90 645.28 1225.15 708.82 1225.40 647.22 1225.65 726.32 1225.90 647.79 1226.15 706.46 1226.40 635.64 1226.65 704.48 1226.90 647.79 1227.15 704.77 1227.40 647.89 1227.65 708.96 1227.90 647.41 1228.15 698.28 1228.40 648.11 1228.65 697.14 1228.90 646.80 1229.15 696.82 1229.40 648.35 1229.65 701.42 1229.90 643.73 1230.15 697.16 1230.40 642.40 1230.65 700.66 1230.90 642.71 1231.15 696.60 1231.40 637.31 1231.65 707.29 1231.90 646.12 1232.15 696.61 1232.40 639.89 1232.65 697.07 1232.90 646.43 1233.15 702.63 1233.40 645.59 1233.65 699.77 1233.90 644.46 1234.15 698.58 1234.40 631.34 1234.65 699.82 1234.90 628.80 1235.15 712.38 1235.40 640.30 1235.65 702.67 1235.90 641.23 1236.15 701.96 1236.40 638.53 1236.65 715.27 1236.90 633.50 1237.15 709.14 1237.40 636.60 1237.65 721.36 1237.90 621.25 1238.15 723.06 1238.40 636.47 1238.65 707.05 1238.90 635.23 1239.15 707.62 1239.40 634.90 1239.65 717.15 1239.90 633.89 1240.15 712.38 1240.40 627.29 1240.65 707.98 1240.90 631.87 1241.15 715.62 1241.40 611.17 1241.65 724.82 1241.90 627.80 1242.15 709.16 1242.40 622.93 1242.65 708.46 1242.90 631.58 1243.15 708.78 1243.40 631.98 1243.65 709.91 1243.90 612.73 1244.15 726.39 1244.40 625.30 1244.65 713.17 1244.90 618.85 1245.15 712.62 1245.40 618.40 1245.65 733.57 1245.90 614.05 1246.15 736.70 1246.40 618.16 1246.65 715.39 1246.90 587.97 1247.15 713.10 1247.40 604.50 1247.65 712.77 1247.90 626.07 1248.15 712.37 1248.40 628.26 1248.65 727.36 1248.90 620.31 1249.15 715.36 1249.40 632.69 1249.65 714.52 1249.90 630.18 1250.15 724.33 1250.40 622.58 1250.65 720.80 1250.90 619.75 1251.15 747.63 1251.40 590.47 1251.65 750.92 1251.90 613.92 1252.15 768.88 1252.40 610.18 1252.65 759.52 1252.90 612.78 1253.15 738.03 1253.40 610.35 1253.65 731.86 1253.90 580.24 1254.15 724.35 1254.40 611.89 1254.65 743.50 1254.90 618.51 1255.15 719.90 1255.40 621.47 1255.65 721.16 1255.90 604.90 1256.15 735.36 1256.40 628.46 1256.65 720.78 1256.90 629.48 1257.15 738.34 1257.40 627.89 1257.65 720.13 1257.90 612.26 1258.15 732.89 1258.40 614.54 1258.65 723.39 1258.90 622.16 1259.15 734.42 1259.40 619.82 1259.65 753.34 1259.90 595.61 1260.15 725.59 1260.40 593.67 1260.65 723.53 1260.90 620.66 1261.15 721.57 1261.40 625.14 1261.65 728.51 1261.90 614.13 1262.15 737.16 1262.40 614.28 1262.65 726.18 1262.90 622.63 1263.15 724.09 1263.40 631.50 1263.65 719.94 1263.90 630.66 1264.15 721.42 1264.40 629.59 1264.65 725.35 1264.90 608.03 1265.15 746.99 1265.40 629.00 1265.65 723.72 1265.90 630.97 1266.15 728.18 1266.40 632.46 1266.65 725.84 1266.90 633.87 1267.15 719.84 1267.40 612.93 1267.65 741.49 1267.90 617.57 1268.15 721.14 1268.40 611.63 1268.65 722.33 1268.90 590.43 1269.15 724.32 1269.40 617.26 1269.65 725.15 1269.90 623.07 1270.15 752.43 1270.40 622.80 1270.65 725.83 1270.90 613.19 1271.15 726.52 1271.40 621.08 1271.65 723.89 1271.90 632.34 1272.15 723.74 1272.40 630.62 1272.65 744.06 1272.90 611.46 1273.15 738.17 1273.40 626.80 1273.65 728.90 1273.90 619.28 1274.15 731.59 1274.40 617.10 1274.65 763.13 1274.90 599.11 1275.15 744.29 1275.40 624.68 1275.65 728.90 1275.90 628.62 1276.15 731.32 1276.40 630.73 1276.65 746.10 1276.90 615.78 1277.15 722.34 1277.40 633.18 1277.65 722.57 1277.90 616.65 1278.15 725.42 1278.40 617.48 1278.65 748.94 1278.90 606.69 1279.15 721.17 1279.40 629.76 1279.65 726.00 1279.90 622.70 1280.15 733.18 1280.40 620.52 1280.65 730.61 1280.90 639.62 1281.15 717.43 1281.40 627.43 1281.65 725.59 1281.90 642.95 1282.15 713.03 1282.40 643.68 1282.65 708.27 1282.90 644.55 1283.15 707.95 1283.40 645.51 1283.65 722.23 1283.90 633.68 1284.15 705.72 1284.40 646.32 1284.65 709.82 1284.90 642.44 1285.15 709.00 1285.40 635.29 1285.65 698.96 1285.90 647.51 1286.15 709.19 1286.40 639.06 1286.65 698.09 1286.90 639.98 1287.15 698.28 1287.40 636.59 1287.65 699.61 1287.90 647.22 1288.15 698.91 1288.40 647.78 1288.65 699.09 1288.90 648.05 1289.15 699.51 1289.40 647.87 1289.65 711.97 1289.90 647.84 1290.15 698.67 1290.40 647.75 1290.65 699.99 1290.90 647.19 1291.15 704.24 1291.40 647.69 1291.65 698.07 1291.90 635.79 1292.15 707.89 1292.40 647.42 1292.65 701.26 1292.90 648.34 1293.15 705.96 1293.40 642.30 1293.65 707.61 1293.90 634.93 1294.15 710.06 1294.40 641.22 1294.65 732.89 1294.90 620.42 1295.15 709.88 1295.40 628.83 1295.65 708.00 1295.90 641.63 1296.15 708.28 1296.40 639.63 1296.65 704.69 1296.90 649.53 1297.15 693.03 1297.40 649.24 1297.65 691.49 1297.90 648.10 1298.15 692.19 1298.40 653.88 1298.65 688.61 1298.90 647.49 1299.15 693.81 1299.40 657.37 1299.65 685.32 1299.90 659.63 1300.15 684.49 1300.40 658.41 1300.65 681.94 1300.90 658.63 1301.15 684.21 1301.40 663.48 1301.65 680.53 1301.90 664.18 1302.15 681.70 1302.40 662.31 1302.65 678.52 1302.90 666.12 1303.15 677.62 1303.40 663.77 1303.65 679.13 1303.90 666.99 1304.15 676.85 1304.40 667.14 1304.65 676.69 1304.90 667.57 1305.15 678.02 1305.40 667.94 1305.65 676.18 1305.90 668.19 1306.15 675.99 1306.40 668.29 1306.65 675.83 1306.90 667.14 1307.15 676.74 1307.40 668.79 1307.65 675.94 1307.90 668.87 1308.15 676.33 1308.40 668.91 1308.65 676.12 1308.90 668.88 1309.15 675.19 1309.40 669.08 1309.65 675.64 1309.90 669.16 1310.15 674.95 1310.40 668.65 1310.65 674.83 1310.90 668.92 1311.15 674.86 1311.40 669.04 1311.65 674.70 1311.90 668.81 1312.15 674.74 1312.40 669.05 1312.65 674.54 1312.90 669.12 1313.15 674.49 1313.40 669.19 1313.65 674.43 1313.90 669.27 1314.15 674.38 1314.40 669.26 1314.65 674.33 1314.90 669.34 1315.15 674.27 1315.40 669.43 1315.65 674.21 1315.90 669.51 1316.15 674.14 1316.40 669.59 1316.65 674.08 1316.90 669.89 1317.15 673.97 1317.40 669.97 1317.65 673.91 1317.90 670.04 1318.15 673.84 1318.40 670.12 1318.65 673.78 1318.90 670.02 1319.15 673.78 1319.40 670.10 1319.65 673.71 1319.90 670.18 1320.15 673.65 1320.40 670.27 1320.65 673.58 1320.90 670.49 1321.15 673.47 1321.40 670.57 1321.65 673.41 1321.90 670.65 1322.15 673.35 1322.40 670.57 1322.65 673.33 1322.90 670.71 1323.15 673.30 1323.40 670.74 1323.65 673.28 1323.90 670.77 1324.15 673.26 1324.40 670.80 1324.65 673.24 1324.90 670.86 1325.15 673.20 1325.40 670.89 1325.65 673.18 1325.90 670.92 1326.15 673.16 1326.40 670.94 1326.65 673.14 1326.90 670.97 1327.15 673.12 1327.40 671.01 1327.65 673.12 1327.90 671.04 1328.15 673.10 1328.40 671.07 1328.65 673.08 1328.90 671.10 1329.15 673.06 1329.40 671.10 1329.65 673.04 1329.90 671.13 1330.15 673.04 1330.40 671.15 1330.65 673.04 1330.90 671.18 1331.15 673.04 1331.40 671.19 1331.65 673.04 1331.90 671.22 1332.15 673.04 1332.40 671.25 1332.65 673.04 1332.90 671.27 1333.15 673.04 1333.40 671.24 1333.65 673.04 1333.90 671.27 1334.15 673.04 1334.40 671.30 1334.65 673.04 1334.90 671.33 1335.15 673.04 1335.40 671.35 1335.65 673.03 1335.90 671.38 1336.15 673.03 1336.40 671.41 1336.65 673.03 1336.90 671.44 1337.15 673.03 1337.40 671.47 1337.65 673.03 1337.90 671.54 1338.15 673.03 1338.40 671.57 1338.65 673.03 1338.90 671.60 1339.15 673.03 1339.40 671.63 1339.65 673.03 1339.90 671.62 1340.15 673.05 1340.40 671.72 1340.65 673.04 1340.90 671.73 1341.15 673.04 1341.40 671.75 1341.65 673.04 1341.90 671.77 1342.15 673.05 1342.40 671.79 1342.65 673.05 1342.90 671.81 1343.15 673.05 1343.40 671.83 1343.65 673.05 1343.90 671.82 1344.15 673.03 1344.40 671.83 1344.65 673.03 1344.90 671.85 1345.15 673.03 1345.40 671.87 1345.65 673.03 1345.90 671.87 1346.15 673.05 1346.40 671.89 1346.65 673.05 1346.90 671.91 1347.15 673.05 1347.40 671.93 1347.65 673.05 1347.90 671.95 1348.15 673.05 1348.40 672.00 1348.65 673.04 1348.90 672.02 1349.15 673.04 1349.40 672.04 1349.65 673.04 1349.90 672.06 1350.15 673.04 1350.40 672.09 1350.65 673.04 1350.90 672.11 1351.15 673.04 1351.40 672.12 1351.65 673.04 1351.90 672.14 1352.15 673.04 1352.40 672.16 1352.65 673.04 1352.90 672.18 1353.15 673.04 1353.40 672.20 1353.65 673.04 1353.90 672.22 1354.15 673.04 1354.40 672.20 1354.65 673.04 1354.90 672.22 1355.15 673.04 1355.40 672.24 1355.65 673.04 1355.90 672.26 1356.15 673.04 1356.40 672.29 1356.65 673.03 1356.90 672.31 1357.15 673.03 1357.40 672.32 1357.65 673.05 1357.90 672.33 1358.15 673.04 1358.40 672.34 1358.65 673.04 1358.90 672.35 1359.15 673.05 1359.40 672.36 1359.65 673.05 1359.90 672.36 1360.15 673.05 1360.40 672.37 1360.65 673.05 1360.90 672.37 1361.15 673.05 1361.40 672.38 1361.65 673.05 1361.90 672.39 1362.15 673.05 1362.40 672.39 1362.65 673.05 1362.90 672.40 1363.15 673.05 1363.40 672.40 1363.65 673.05 1363.90 672.41 1364.15 673.05 1364.40 672.42 1364.65 673.05 1364.90 672.43 1365.15 673.05 1365.40 672.44 1365.65 673.05 1365.90 672.44 1366.15 673.05 1366.40 672.45 1366.65 673.05 1366.90 672.46 1367.15 673.05 1367.40 672.46 1367.65 673.05 1367.90 672.47 1368.15 673.05 1368.40 672.47 1368.65 673.05 1368.90 672.48 1369.15 673.05 1369.40 672.49 1369.65 673.04 1369.90 672.50 1370.15 673.04 1370.40 672.50 1370.65 673.04 1370.90 672.51 1371.15 673.04 1371.40 672.51 1371.65 673.04 1371.90 672.51 1372.15 673.04 1372.40 672.52 1372.65 673.04 1372.90 672.53 1373.15 673.04 1373.40 672.53 1373.65 673.04 1373.90 672.54 1374.15 673.04 1374.40 672.54 1374.65 673.04 1374.90 672.55 1375.15 673.04 1375.40 672.56 1375.65 673.04 1375.90 672.56 1376.15 673.04 1376.40 672.56 1376.65 673.04 1376.90 672.56 1377.15 673.04 1377.40 672.55 1377.65 673.04 1377.90 672.55 1378.15 673.04 1378.40 672.55 1378.65 673.04 1378.90 672.55 1379.15 673.04 1379.40 672.55 1379.65 673.04 1379.90 672.55 1380.15 673.05 1380.40 672.55 1380.65 673.05 1380.90 672.55 1381.15 673.05 1381.40 672.55 1381.65 673.05 1381.90 672.56 1382.15 673.04 1382.40 672.56 1382.65 673.04 1382.90 672.56 1383.15 673.04 1383.40 672.56 1383.65 673.04 1383.90 672.55 1384.15 673.04 1384.40 672.55 1384.65 673.05" fill="none" stroke="#1f77b4" stroke-width="2.0833" stroke-linejoin="round" stroke-linecap="square"/>
<g shape-rendering="crispEdges"><rect class="f" x="461" y="107" width="719" height="1"/><rect class="f" x="461" y="424" width="719" height="1"/><rect class="f" x="461" y="108" width="1" height="316"/><rect class="f" x="1179" y="108" width="1" height="316"/><rect class="f" x="463" y="109" width="715" height="1"/><rect class="f" x="463" y="422" width="715" height="1"/><rect class="f" x="463" y="110" width="1" height="312"/><rect class="f" x="1177" y="110" width="1" height="312"/><path class="k" fill-rule="evenodd" d="M462 108h717v316h-717zM463 109h715v314h-715z"/></g>
<g shape-rendering="crispEdges"><rect class="f" x="199" y="485" width="1243" height="1"/><rect class="f" x="199" y="802" width="1243" height="1"/><rect class="f" x="199" y="486" width="1" height="316"/><rect class="f" x="1441" y="486" width="1" height="316"/><rect class="f" x="201" y="487" width="1239" height="1"/><rect class="f" x="201" y="800" width="1239" height="1"/><rect class="f" x="201" y="488" width="1" height="312"/><rect class="f" x="1439" y="488" width="1" height="312"/><path class="k" fill-rule="evenodd" d="M200 486h1241v316h-1241zM201 487h1239v314h-1239z"/></g>
<g shape-rendering="crispEdges"><rect class="k" x="464" y="424" width="1" height="4"/><rect class="h" x="464" y="428" width="1" height="1"/><rect class="f" x="463" y="424" width="3" height="5"/><rect class="k" x="562" y="424" width="1" height="4"/><rect class="h" x="562" y="428" width="1" height="1"/><rect class="f" x="561" y="424" width="3" height="5"/><rect class="k" x="661" y="424" width="1" height="4"/><rect class="h" x="661" y="428" width="1" height="1"/><rect class="f" x="660" y="424" width="3" height="5"/><rect class="k" x="759" y="424" width="1" height="4"/><rect class="h" x="759" y="428" width="1" height="1"/><rect class="f" x="758" y="424" width="3" height="5"/><rect class="k" x="857" y="424" width="1" height="4"/><rect class="h" x="857" y="428" width="1" height="1"/><rect class="f" x="856" y="424" width="3" height="5"/><rect class="k" x="956" y="424" width="1" height="4"/><rect class="h" x="956" y="428" width="1" height="1"/><rect class="f" x="955" y="424" width="3" height="5"/><rect class="k" x="1054" y="424" width="1" height="4"/><rect class="h" x="1054" y="428" width="1" height="1"/><rect class="f" x="1053" y="424" width="3" height="5"/><rect class="k" x="1153" y="424" width="1" height="4"/><rect class="h" x="1153" y="428" width="1" height="1"/><rect class="f" x="1152" y="424" width="3" height="5"/><rect class="k" x="458" y="110" width="4" height="1"/><rect class="h" x="457" y="110" width="1" height="1"/><rect class="f" x="457" y="109" width="5" height="3"/><rect class="k" x="458" y="149" width="4" height="1"/><rect class="h" x="457" y="149" width="1" height="1"/><rect class="f" x="457" y="148" width="5" height="3"/><rect class="k" x="458" y="189" width="4" height="1"/><rect class="h" x="457" y="189" width="1" height="1"/><rect class="f" x="457" y="188" width="5" height="3"/><rect class="k" x="458" y="228" width="4" height="1"/><rect class="h" x="457" y="228" width="1" height="1"/><rect class="f" x="457" y="227" width="5" height="3"/><rect class="k" x="458" y="267" width="4" height="1"/><rect class="h" x="457" y="267" width="1" height="1"/><rect class="f" x="457" y="266" width="5" height="3"/><rect class="k" x="458" y="307" width="4" height="1"/><rect class="h" x="457" y="307" width="1" height="1"/><rect class="f" x="457" y="306" width="5" height="3"/><rect class="k" x="458" y="346" width="4" height="1"/><rect class="h" x="457" y="346" width="1" height="1"/><rect class="f" x="457" y="345" width="5" height="3"/><rect class="k" x="458" y="386" width="4" height="1"/><rect class="h" x="457" y="386" width="1" height="1"/><rect class="f" x="457" y="385" width="5" height="3"/><rect class="k" x="256" y="802" width="1" height="4"/><rect class="h" x="256" y="806" width="1" height="1"/><rect class="f" x="255" y="802" width="3" height="5"/><rect class="k" x="498" y="802" width="1" height="4"/><rect class="h" x="498" y="806" width="1" height="1"/><rect class="f" x="497" y="802" width="3" height="5"/><rect class="k" x="740" y="802" width="1" height="4"/><rect class="h" x="740" y="806" width="1" height="1"/><rect class="f" x="739" y="802" width="3" height="5"/><rect class="k" x="982" y="802" width="1" height="4"/><rect class="h" x="982" y="806" width="1" height="1"/><rect class="f" x="981" y="802" width="3" height="5"/><rect class="k" x="1224" y="802" width="1" height="4"/><rect class="h" x="1224" y="806" width="1" height="1"/><rect class="f" x="1223" y="802" width="3" height="5"/><rect class="k" x="196" y="741" width="4" height="1"/><rect class="h" x="195" y="741" width="1" height="1"/><rect class="f" x="195" y="740" width="5" height="3"/><rect class="k" x="196" y="673" width="4" height="1"/><rect class="h" x="195" y="673" width="1" height="1"/><rect class="f" x="195" y="672" width="5" height="3"/><rect class="k" x="196" y="605" width="4" height="1"/><rect class="h" x="195" y="605" width="1" height="1"/><rect class="f" x="195" y="604" width="5" height="3"/><rect class="k" x="196" y="537" width="4" height="1"/><rect class="h" x="195" y="537" width="1" height="1"/><rect class="f" x="195" y="536" width="5" height="3"/></g>
<text x="464.37" y="444.00" text-anchor="middle">0</text>
<text x="561.71" y="444.00" text-anchor="middle">25</text>
<text x="660.43" y="444.00" text-anchor="middle">50</text>
<text x="758.25" y="444.00" text-anchor="middle">75</text>
<text x="857.46" y="444.00" text-anchor="middle">100</text>
<text x="955.44" y="444.00" text-anchor="middle">125</text>
<text x="1054.62" y="444.00" text-anchor="middle">150</text>
<text x="1152.54" y="444.00" text-anchor="middle">175</text>
<text x="452.82" y="115.00" text-anchor="end">0</text>
<text x="451.91" y="155.00" text-anchor="end">10</text>
<text x="451.56" y="194.00" text-anchor="end">20</text>
<text x="452.05" y="234.00" text-anchor="end">30</text>
<text x="451.89" y="273.00" text-anchor="end">40</text>
<text x="451.93" y="312.00" text-anchor="end">50</text>
<text x="451.53" y="352.00" text-anchor="end">60</text>
<text x="452.02" y="391.00" text-anchor="end">70</text>
<text x="257.31" y="822.00" text-anchor="middle">0</text>
<text x="498.26" y="822.00" text-anchor="middle">10000</text>
<text x="741.12" y="822.00" text-anchor="middle">20000</text>
<text x="982.30" y="822.00" text-anchor="middle">30000</text>
<text x="1224.22" y="822.00" text-anchor="middle">40000</text>
<text x="189.19" y="746.00" text-anchor="end">−0.2</text>
<text x="190.41" y="678.00" text-anchor="end">0.0</text>
<text x="190.08" y="610.00" text-anchor="end">0.2</text>
<text x="190.16" y="542.00" text-anchor="end">0.4</text>
</svg></body></html>
